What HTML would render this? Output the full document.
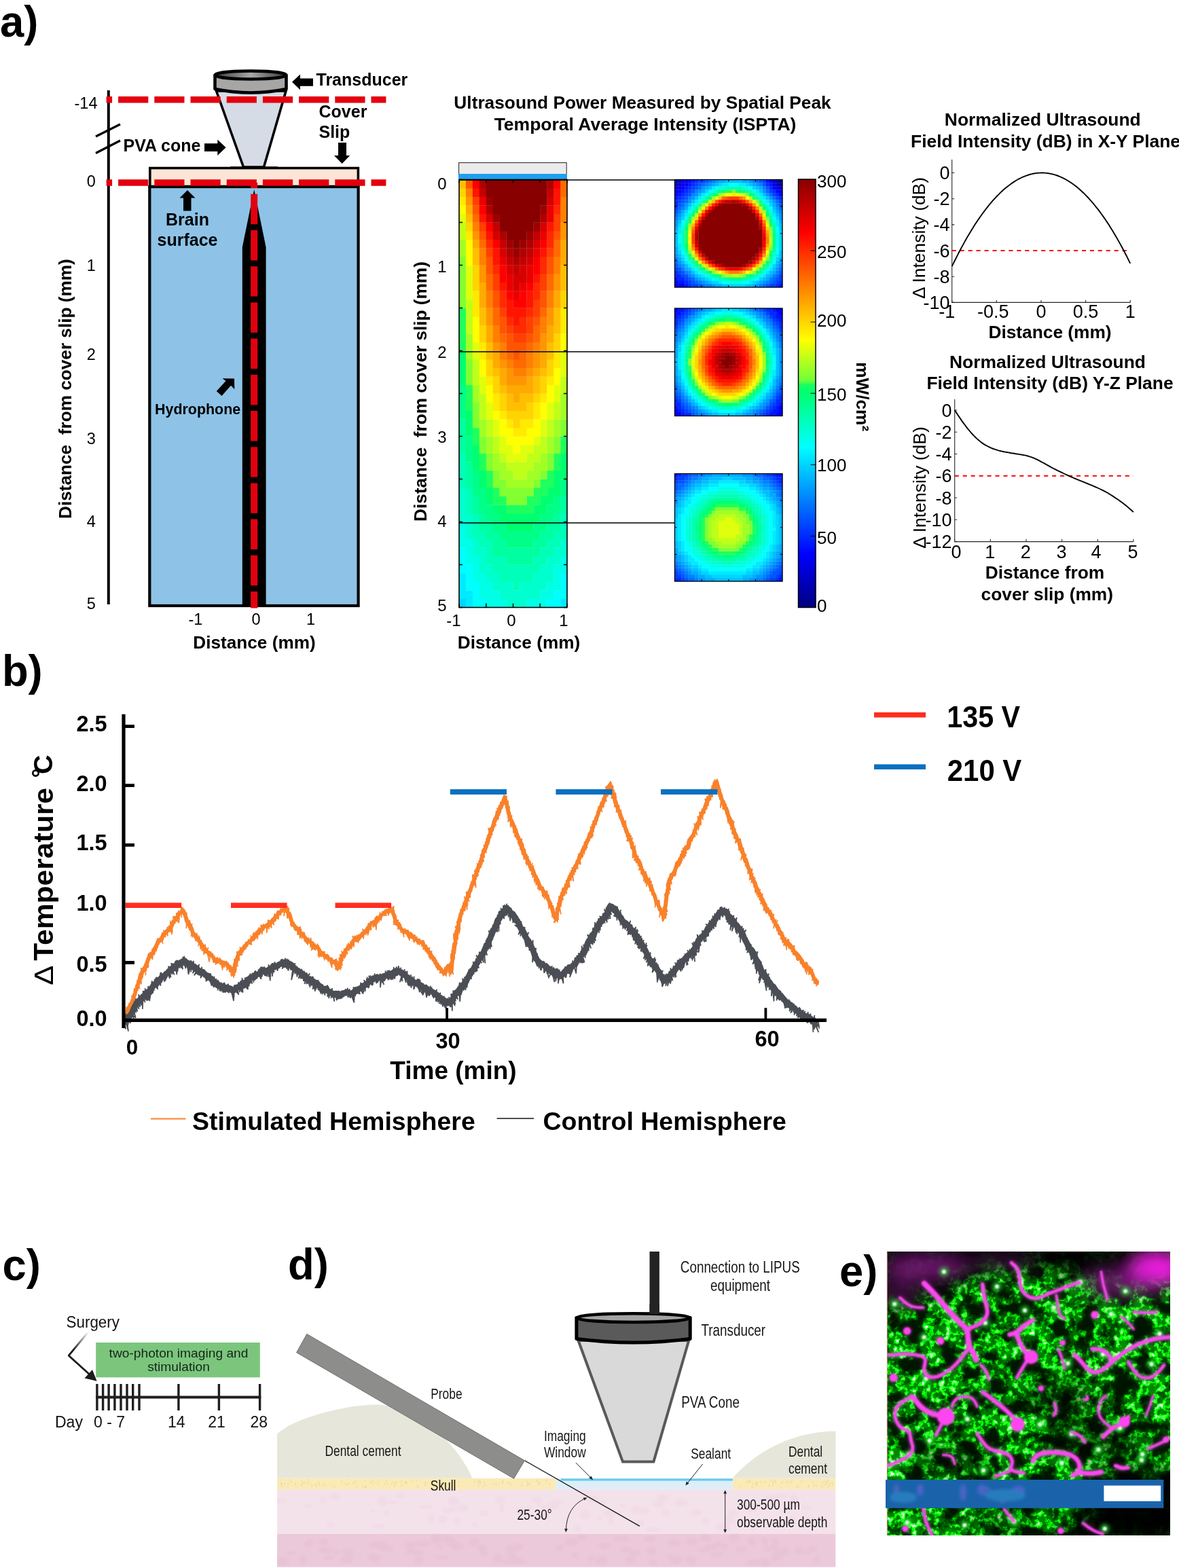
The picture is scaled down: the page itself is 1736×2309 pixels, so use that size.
<!DOCTYPE html>
<html lang="en">
<head>
<meta charset="utf-8">
<title>LIPUS figure</title>
<style>
html,body{margin:0;padding:0;background:#fff;}
body{width:1736px;height:2309px;overflow:hidden;}
svg{display:block;font-family:"Liberation Sans",sans-serif;}
text{white-space:pre;}
</style>
</head>
<body>
<svg width="1736" height="2309" viewBox="0 0 1736 2309">
<rect width="1736" height="2309" fill="#fff"/>
<text transform="translate(0.00 54.40) scale(0.99 1)" font-size="64" font-weight="bold">a)</text>
<path d="M159.8 133V890" stroke="#000" stroke-width="4" fill="none"/>
<path d="M141 201L177 183M141 225.5L177 207" stroke="#000" stroke-width="3.2" fill="none"/>
<text x="143.50" y="160.20" font-size="23.5" text-anchor="end">-14</text>
<text x="140.80" y="274.90" font-size="23.5" text-anchor="end">0</text>
<text x="140.80" y="399.40" font-size="23.5" text-anchor="end">1</text>
<text x="140.80" y="530.40" font-size="23.5" text-anchor="end">2</text>
<text x="140.80" y="654.40" font-size="23.5" text-anchor="end">3</text>
<text x="140.80" y="776.40" font-size="23.5" text-anchor="end">4</text>
<text x="140.80" y="896.90" font-size="23.5" text-anchor="end">5</text>
<text transform="translate(104.70 572.60) rotate(-90)" font-size="26.2" font-weight="bold" text-anchor="middle">Distance  from cover slip (mm)</text>
<defs><linearGradient id="trg" x1="0" x2="1"><stop offset="0" stop-color="#3a3a3a"/><stop offset=".5" stop-color="#a8a8a8"/><stop offset="1" stop-color="#3a3a3a"/></linearGradient></defs>
<path d="M318.5 134L358.5 246H388.5L421 134Z" fill="#d6dce5" stroke="#000" stroke-width="3.6" stroke-linejoin="miter"/>
<path d="M316.5 111V131Q369 142 421.5 131V111Z" fill="#a6a6a6" stroke="#000" stroke-width="4.6" stroke-linejoin="round"/>
<ellipse cx="369" cy="110.5" rx="52.5" ry="6" fill="url(#trg)" stroke="#000" stroke-width="4.4"/>
<rect x="220.3" y="275" width="307.3" height="617" fill="#8ec3e7" stroke="#000" stroke-width="4.2"/>
<rect x="220.8" y="247.5" width="306.6" height="27" fill="#fbe5d6" stroke="#000" stroke-width="3.6"/>
<path d="M339 246.4H409" stroke="#000" stroke-width="2.4"/>
<path d="M374.2 279L391.6 364V892H356.8V364Z" fill="#000"/>
<path d="M156.6 146.7H568.4" stroke="#e3000f" stroke-width="9.6" stroke-dasharray="44.2 9" stroke-dashoffset="35.7" fill="none"/>
<path d="M156.6 269H568.4" stroke="#e3000f" stroke-width="9.6" stroke-dasharray="44.2 9" stroke-dashoffset="35.7" fill="none"/>
<path d="M374.2 269V895.5" stroke="#e3000f" stroke-width="10" stroke-dasharray="44.4 8.8" stroke-dashoffset="36.4" fill="none"/>
<text x="465.50" y="126.40" font-size="25" font-weight="bold">Transducer</text>
<path d="M430 120.8L442 109.4V115.6H461V126.8H442V132.3Z" fill="#000"/>
<text x="469.50" y="172.80" font-size="25" font-weight="bold">Cover</text>
<text x="469.50" y="203.00" font-size="25" font-weight="bold">Slip</text>
<path d="M503.6 241L492 229H498V210H510V229H515.2Z" fill="#000"/>
<text x="181.50" y="222.60" font-size="25" font-weight="bold">PVA cone</text>
<path d="M332.6 217.2L320.3 205.5V211.3H301V223H320.3V229Z" fill="#000"/>
<path d="M276 280L287.5 291.5H281.5V310.5H270V291.5H264.5Z" fill="#000"/>
<text x="276.00" y="331.80" font-size="25" font-weight="bold" text-anchor="middle">Brain</text>
<text x="276.00" y="362.00" font-size="25" font-weight="bold" text-anchor="middle">surface</text>
<path d="M345 557.5L345.3 573.2L340 567.8L326.5 583L318.8 576L332.5 561L327.5 557.2Z" fill="#000"/>
<text transform="translate(228.00 610.30) scale(0.953 1)" font-size="22.5" font-weight="bold">Hydrophone</text>
<text x="288.00" y="919.50" font-size="23.5" text-anchor="middle">-1</text>
<text x="377.00" y="919.50" font-size="23.5" text-anchor="middle">0</text>
<text x="457.50" y="919.50" font-size="23.5" text-anchor="middle">1</text>
<text x="374.50" y="954.80" font-size="26.2" font-weight="bold" text-anchor="middle">Distance (mm)</text>
<text x="946.00" y="160.20" font-size="26.3" font-weight="bold" text-anchor="middle">Ultrasound Power Measured by Spatial Peak</text>
<text x="950.00" y="191.60" font-size="26.5" font-weight="bold" text-anchor="middle">Temporal Average Intensity (ISPTA)</text>
<rect x="675.6" y="239.6" width="158.6" height="17" fill="#ebebeb" stroke="#222" stroke-width="1"/>
<rect x="675" y="256" width="160" height="8" fill="#1ea0f0"/>
<path fill="#00d4ff" d="M676.0 881.9h10.2v12.9h-10.2z"/>
<path fill="#00eaff" d="M676.0 844.1h10.2v12.9h-10.2zM676.0 856.7h10.2v12.9h-10.2zM676.0 869.3h20.2v12.9h-20.2zM685.9 881.9h10.2v12.9h-10.2zM825.1 881.9h10.2v12.9h-10.2z"/>
<path fill="#00ffff" d="M676.0 806.3h10.2v12.9h-10.2zM676.0 818.9h10.2v12.9h-10.2zM676.0 831.5h20.2v12.9h-20.2zM685.9 844.1h10.2v12.9h-10.2zM825.1 844.1h10.2v12.9h-10.2zM685.9 856.7h20.2v12.9h-20.2zM825.1 856.7h10.2v12.9h-10.2zM695.9 869.3h10.2v12.9h-10.2zM815.1 869.3h20.2v12.9h-20.2zM695.9 881.9h20.2v12.9h-20.2zM805.2 881.9h20.2v12.9h-20.2z"/>
<path fill="#00ffe7" d="M676.0 768.5h10.2v12.9h-10.2zM676.0 781.1h10.2v12.9h-10.2zM676.0 793.7h20.2v12.9h-20.2zM685.9 806.3h10.2v12.9h-10.2zM685.9 818.9h20.2v12.9h-20.2zM825.1 818.9h10.2v12.9h-10.2zM695.9 831.5h10.2v12.9h-10.2zM815.1 831.5h20.2v12.9h-20.2zM695.9 844.1h20.2v12.9h-20.2zM815.1 844.1h10.2v12.9h-10.2zM705.8 856.7h20.2v12.9h-20.2zM805.2 856.7h20.2v12.9h-20.2zM705.8 869.3h30.1v12.9h-30.1zM795.2 869.3h20.2v12.9h-20.2zM715.8 881.9h30.1v12.9h-30.1zM775.4 881.9h30.1v12.9h-30.1z"/>
<path fill="#00ffcf" d="M676.0 718.1h10.2v12.9h-10.2zM676.0 730.7h10.2v12.9h-10.2zM676.0 743.3h10.2v12.9h-10.2zM676.0 755.9h20.2v12.9h-20.2zM685.9 768.5h10.2v12.9h-10.2zM685.9 781.1h10.2v12.9h-10.2zM695.9 793.7h10.2v12.9h-10.2zM825.1 793.7h10.2v12.9h-10.2zM695.9 806.3h20.2v12.9h-20.2zM815.1 806.3h20.2v12.9h-20.2zM705.8 818.9h10.2v12.9h-10.2zM805.2 818.9h20.2v12.9h-20.2zM705.8 831.5h20.2v12.9h-20.2zM795.2 831.5h20.2v12.9h-20.2zM715.8 844.1h20.2v12.9h-20.2zM785.3 844.1h30.1v12.9h-30.1zM725.7 856.7h30.1v12.9h-30.1zM765.4 856.7h40.0v12.9h-40.0zM735.6 869.3h59.9v12.9h-59.9zM745.6 881.9h30.1v12.9h-30.1z"/>
<path fill="#00ffb8" d="M676.0 667.7h10.2v12.9h-10.2zM676.0 680.3h10.2v12.9h-10.2zM676.0 692.9h10.2v12.9h-10.2zM676.0 705.5h10.2v12.9h-10.2zM685.9 718.1h10.2v12.9h-10.2zM685.9 730.7h10.2v12.9h-10.2zM685.9 743.3h10.2v12.9h-10.2zM695.9 755.9h10.2v12.9h-10.2zM825.1 755.9h10.2v12.9h-10.2zM695.9 768.5h10.2v12.9h-10.2zM825.1 768.5h10.2v12.9h-10.2zM695.9 781.1h20.2v12.9h-20.2zM815.1 781.1h20.2v12.9h-20.2zM705.8 793.7h20.2v12.9h-20.2zM805.2 793.7h20.2v12.9h-20.2zM715.8 806.3h10.2v12.9h-10.2zM795.2 806.3h20.2v12.9h-20.2zM715.8 818.9h30.1v12.9h-30.1zM785.3 818.9h20.2v12.9h-20.2zM725.7 831.5h69.9v12.9h-69.9zM735.6 844.1h50.0v12.9h-50.0zM755.5 856.7h10.2v12.9h-10.2z"/>
<path fill="#00ffa0" d="M676.0 617.3h10.2v12.9h-10.2zM676.0 629.9h10.2v12.9h-10.2zM676.0 642.5h10.2v12.9h-10.2zM676.0 655.1h10.2v12.9h-10.2zM685.9 680.3h10.2v12.9h-10.2zM685.9 692.9h10.2v12.9h-10.2zM685.9 705.5h10.2v12.9h-10.2zM695.9 730.7h10.2v12.9h-10.2zM825.1 730.7h10.2v12.9h-10.2zM695.9 743.3h10.2v12.9h-10.2zM825.1 743.3h10.2v12.9h-10.2zM705.8 755.9h10.2v12.9h-10.2zM815.1 755.9h10.2v12.9h-10.2zM705.8 768.5h20.2v12.9h-20.2zM805.2 768.5h20.2v12.9h-20.2zM715.8 781.1h20.2v12.9h-20.2zM795.2 781.1h20.2v12.9h-20.2zM725.7 793.7h20.2v12.9h-20.2zM785.3 793.7h20.2v12.9h-20.2zM725.7 806.3h69.9v12.9h-69.9zM745.6 818.9h40.0v12.9h-40.0z"/>
<path fill="#00ff88" d="M676.0 566.9h10.2v12.9h-10.2zM676.0 579.5h10.2v12.9h-10.2zM676.0 592.1h10.2v12.9h-10.2zM676.0 604.7h10.2v12.9h-10.2zM685.9 642.5h10.2v12.9h-10.2zM685.9 655.1h10.2v12.9h-10.2zM685.9 667.7h10.2v12.9h-10.2zM695.9 692.9h10.2v12.9h-10.2zM695.9 705.5h10.2v12.9h-10.2zM825.1 705.5h10.2v12.9h-10.2zM695.9 718.1h20.2v12.9h-20.2zM825.1 718.1h10.2v12.9h-10.2zM705.8 730.7h10.2v12.9h-10.2zM815.1 730.7h10.2v12.9h-10.2zM705.8 743.3h20.2v12.9h-20.2zM805.2 743.3h20.2v12.9h-20.2zM715.8 755.9h20.2v12.9h-20.2zM795.2 755.9h20.2v12.9h-20.2zM725.7 768.5h20.2v12.9h-20.2zM785.3 768.5h20.2v12.9h-20.2zM735.6 781.1h59.9v12.9h-59.9zM745.6 793.7h40.0v12.9h-40.0z"/>
<path fill="#00ff70" d="M676.0 516.5h10.2v12.9h-10.2zM676.0 529.1h10.2v12.9h-10.2zM676.0 541.7h10.2v12.9h-10.2zM676.0 554.3h10.2v12.9h-10.2zM685.9 604.7h10.2v12.9h-10.2zM685.9 617.3h10.2v12.9h-10.2zM685.9 629.9h10.2v12.9h-10.2zM695.9 655.1h10.2v12.9h-10.2zM695.9 667.7h10.2v12.9h-10.2zM825.1 667.7h10.2v12.9h-10.2zM695.9 680.3h10.2v12.9h-10.2zM825.1 680.3h10.2v12.9h-10.2zM705.8 692.9h10.2v12.9h-10.2zM815.1 692.9h20.2v12.9h-20.2zM705.8 705.5h10.2v12.9h-10.2zM815.1 705.5h10.2v12.9h-10.2zM715.8 718.1h10.2v12.9h-10.2zM805.2 718.1h20.2v12.9h-20.2zM715.8 730.7h10.2v12.9h-10.2zM795.2 730.7h20.2v12.9h-20.2zM725.7 743.3h20.2v12.9h-20.2zM785.3 743.3h20.2v12.9h-20.2zM735.6 755.9h59.9v12.9h-59.9zM745.6 768.5h40.0v12.9h-40.0z"/>
<path fill="#1fff5d" d="M676.0 453.5h10.2v12.9h-10.2zM676.0 466.1h10.2v12.9h-10.2zM676.0 478.7h10.2v12.9h-10.2zM676.0 491.3h10.2v12.9h-10.2zM676.0 503.9h10.2v12.9h-10.2zM685.9 566.9h10.2v12.9h-10.2zM685.9 579.5h10.2v12.9h-10.2zM685.9 592.1h10.2v12.9h-10.2zM695.9 629.9h10.2v12.9h-10.2zM695.9 642.5h10.2v12.9h-10.2zM825.1 642.5h10.2v12.9h-10.2zM825.1 655.1h10.2v12.9h-10.2zM705.8 667.7h10.2v12.9h-10.2zM815.1 667.7h10.2v12.9h-10.2zM705.8 680.3h10.2v12.9h-10.2zM815.1 680.3h10.2v12.9h-10.2zM715.8 692.9h10.2v12.9h-10.2zM805.2 692.9h10.2v12.9h-10.2zM715.8 705.5h10.2v12.9h-10.2zM795.2 705.5h20.2v12.9h-20.2zM725.7 718.1h10.2v12.9h-10.2zM785.3 718.1h20.2v12.9h-20.2zM725.7 730.7h20.2v12.9h-20.2zM775.4 730.7h20.2v12.9h-20.2zM745.6 743.3h40.0v12.9h-40.0z"/>
<path fill="#82ff31" d="M676.0 377.9h10.2v12.9h-10.2zM676.0 390.5h10.2v12.9h-10.2zM676.0 403.1h10.2v12.9h-10.2zM676.0 415.7h10.2v12.9h-10.2zM676.0 428.3h10.2v12.9h-10.2zM676.0 440.9h10.2v12.9h-10.2zM685.9 529.1h10.2v12.9h-10.2zM685.9 541.7h10.2v12.9h-10.2zM685.9 554.3h10.2v12.9h-10.2zM695.9 592.1h10.2v12.9h-10.2zM695.9 604.7h10.2v12.9h-10.2zM695.9 617.3h10.2v12.9h-10.2zM825.1 617.3h10.2v12.9h-10.2zM825.1 629.9h10.2v12.9h-10.2zM705.8 642.5h10.2v12.9h-10.2zM815.1 642.5h10.2v12.9h-10.2zM705.8 655.1h10.2v12.9h-10.2zM815.1 655.1h10.2v12.9h-10.2zM715.8 667.7h10.2v12.9h-10.2zM805.2 667.7h10.2v12.9h-10.2zM715.8 680.3h10.2v12.9h-10.2zM805.2 680.3h10.2v12.9h-10.2zM725.7 692.9h10.2v12.9h-10.2zM795.2 692.9h10.2v12.9h-10.2zM725.7 705.5h20.2v12.9h-20.2zM785.3 705.5h10.2v12.9h-10.2zM735.6 718.1h50.0v12.9h-50.0zM745.6 730.7h30.1v12.9h-30.1z"/>
<path fill="#a1ff25" d="M676.0 352.7h10.2v12.9h-10.2zM676.0 365.3h10.2v12.9h-10.2zM685.9 491.3h10.2v12.9h-10.2zM685.9 503.9h10.2v12.9h-10.2zM685.9 516.5h10.2v12.9h-10.2zM695.9 566.9h10.2v12.9h-10.2zM695.9 579.5h10.2v12.9h-10.2zM825.1 579.5h10.2v12.9h-10.2zM825.1 592.1h10.2v12.9h-10.2zM825.1 604.7h10.2v12.9h-10.2zM705.8 617.3h10.2v12.9h-10.2zM815.1 617.3h10.2v12.9h-10.2zM705.8 629.9h10.2v12.9h-10.2zM815.1 629.9h10.2v12.9h-10.2zM715.8 642.5h10.2v12.9h-10.2zM805.2 642.5h10.2v12.9h-10.2zM715.8 655.1h10.2v12.9h-10.2zM805.2 655.1h10.2v12.9h-10.2zM725.7 667.7h10.2v12.9h-10.2zM795.2 667.7h10.2v12.9h-10.2zM725.7 680.3h20.2v12.9h-20.2zM785.3 680.3h20.2v12.9h-20.2zM735.6 692.9h20.2v12.9h-20.2zM775.4 692.9h20.2v12.9h-20.2zM745.6 705.5h40.0v12.9h-40.0z"/>
<path fill="#c0ff19" d="M676.0 327.5h10.2v12.9h-10.2zM676.0 340.1h10.2v12.9h-10.2zM685.9 440.9h10.2v12.9h-10.2zM685.9 453.5h10.2v12.9h-10.2zM685.9 466.1h10.2v12.9h-10.2zM685.9 478.7h10.2v12.9h-10.2zM695.9 529.1h10.2v12.9h-10.2zM695.9 541.7h10.2v12.9h-10.2zM695.9 554.3h10.2v12.9h-10.2zM825.1 554.3h10.2v12.9h-10.2zM825.1 566.9h10.2v12.9h-10.2zM705.8 579.5h10.2v12.9h-10.2zM705.8 592.1h10.2v12.9h-10.2zM815.1 592.1h10.2v12.9h-10.2zM705.8 604.7h10.2v12.9h-10.2zM815.1 604.7h10.2v12.9h-10.2zM715.8 617.3h10.2v12.9h-10.2zM805.2 617.3h10.2v12.9h-10.2zM715.8 629.9h10.2v12.9h-10.2zM805.2 629.9h10.2v12.9h-10.2zM725.7 642.5h10.2v12.9h-10.2zM795.2 642.5h10.2v12.9h-10.2zM725.7 655.1h10.2v12.9h-10.2zM785.3 655.1h20.2v12.9h-20.2zM735.6 667.7h10.2v12.9h-10.2zM775.4 667.7h20.2v12.9h-20.2zM745.6 680.3h40.0v12.9h-40.0zM755.5 692.9h20.2v12.9h-20.2z"/>
<path fill="#e0ff0c" d="M676.0 314.9h10.2v12.9h-10.2zM685.9 390.5h10.2v12.9h-10.2zM685.9 403.1h10.2v12.9h-10.2zM685.9 415.7h10.2v12.9h-10.2zM685.9 428.3h10.2v12.9h-10.2zM695.9 503.9h10.2v12.9h-10.2zM695.9 516.5h10.2v12.9h-10.2zM825.1 516.5h10.2v12.9h-10.2zM825.1 529.1h10.2v12.9h-10.2zM825.1 541.7h10.2v12.9h-10.2zM705.8 554.3h10.2v12.9h-10.2zM705.8 566.9h10.2v12.9h-10.2zM815.1 566.9h10.2v12.9h-10.2zM815.1 579.5h10.2v12.9h-10.2zM715.8 592.1h10.2v12.9h-10.2zM805.2 592.1h10.2v12.9h-10.2zM715.8 604.7h10.2v12.9h-10.2zM805.2 604.7h10.2v12.9h-10.2zM725.7 617.3h10.2v12.9h-10.2zM795.2 617.3h10.2v12.9h-10.2zM725.7 629.9h10.2v12.9h-10.2zM795.2 629.9h10.2v12.9h-10.2zM735.6 642.5h10.2v12.9h-10.2zM785.3 642.5h10.2v12.9h-10.2zM735.6 655.1h20.2v12.9h-20.2zM765.4 655.1h20.2v12.9h-20.2zM745.6 667.7h30.1v12.9h-30.1z"/>
<path fill="#ffff00" d="M676.0 302.3h10.2v12.9h-10.2zM685.9 352.7h10.2v12.9h-10.2zM685.9 365.3h10.2v12.9h-10.2zM685.9 377.9h10.2v12.9h-10.2zM695.9 466.1h10.2v12.9h-10.2zM695.9 478.7h10.2v12.9h-10.2zM695.9 491.3h10.2v12.9h-10.2zM825.1 491.3h10.2v12.9h-10.2zM825.1 503.9h10.2v12.9h-10.2zM705.8 529.1h10.2v12.9h-10.2zM705.8 541.7h10.2v12.9h-10.2zM815.1 541.7h10.2v12.9h-10.2zM815.1 554.3h10.2v12.9h-10.2zM715.8 566.9h10.2v12.9h-10.2zM805.2 566.9h10.2v12.9h-10.2zM715.8 579.5h10.2v12.9h-10.2zM805.2 579.5h10.2v12.9h-10.2zM795.2 592.1h10.2v12.9h-10.2zM725.7 604.7h10.2v12.9h-10.2zM795.2 604.7h10.2v12.9h-10.2zM735.6 617.3h10.2v12.9h-10.2zM785.3 617.3h10.2v12.9h-10.2zM735.6 629.9h20.2v12.9h-20.2zM775.4 629.9h20.2v12.9h-20.2zM745.6 642.5h40.0v12.9h-40.0zM755.5 655.1h10.2v12.9h-10.2z"/>
<path fill="#ffea00" d="M676.0 289.7h10.2v12.9h-10.2zM685.9 340.1h10.2v12.9h-10.2zM695.9 428.3h10.2v12.9h-10.2zM695.9 440.9h10.2v12.9h-10.2zM695.9 453.5h10.2v12.9h-10.2zM825.1 453.5h10.2v12.9h-10.2zM825.1 466.1h10.2v12.9h-10.2zM825.1 478.7h10.2v12.9h-10.2zM705.8 503.9h10.2v12.9h-10.2zM705.8 516.5h10.2v12.9h-10.2zM815.1 516.5h10.2v12.9h-10.2zM815.1 529.1h10.2v12.9h-10.2zM715.8 554.3h10.2v12.9h-10.2zM805.2 554.3h10.2v12.9h-10.2zM725.7 579.5h10.2v12.9h-10.2zM795.2 579.5h10.2v12.9h-10.2zM725.7 592.1h10.2v12.9h-10.2zM785.3 592.1h10.2v12.9h-10.2zM735.6 604.7h10.2v12.9h-10.2zM785.3 604.7h10.2v12.9h-10.2zM745.6 617.3h10.2v12.9h-10.2zM765.4 617.3h20.2v12.9h-20.2zM755.5 629.9h20.2v12.9h-20.2z"/>
<path fill="#ffd400" d="M676.0 277.1h10.2v12.9h-10.2zM685.9 327.5h10.2v12.9h-10.2zM695.9 390.5h10.2v12.9h-10.2zM695.9 403.1h10.2v12.9h-10.2zM695.9 415.7h10.2v12.9h-10.2zM825.1 428.3h10.2v12.9h-10.2zM825.1 440.9h10.2v12.9h-10.2zM705.8 478.7h10.2v12.9h-10.2zM705.8 491.3h10.2v12.9h-10.2zM815.1 491.3h10.2v12.9h-10.2zM815.1 503.9h10.2v12.9h-10.2zM715.8 529.1h10.2v12.9h-10.2zM805.2 529.1h10.2v12.9h-10.2zM715.8 541.7h10.2v12.9h-10.2zM805.2 541.7h10.2v12.9h-10.2zM725.7 554.3h10.2v12.9h-10.2zM795.2 554.3h10.2v12.9h-10.2zM725.7 566.9h10.2v12.9h-10.2zM795.2 566.9h10.2v12.9h-10.2zM735.6 579.5h10.2v12.9h-10.2zM785.3 579.5h10.2v12.9h-10.2zM735.6 592.1h10.2v12.9h-10.2zM775.4 592.1h10.2v12.9h-10.2zM745.6 604.7h40.0v12.9h-40.0zM755.5 617.3h10.2v12.9h-10.2z"/>
<path fill="#ffbf00" d="M676.0 264.5h10.2v12.9h-10.2zM685.9 314.9h10.2v12.9h-10.2zM695.9 365.3h10.2v12.9h-10.2zM695.9 377.9h10.2v12.9h-10.2zM825.1 390.5h10.2v12.9h-10.2zM825.1 403.1h10.2v12.9h-10.2zM825.1 415.7h10.2v12.9h-10.2zM705.8 453.5h10.2v12.9h-10.2zM815.1 453.5h10.2v12.9h-10.2zM705.8 466.1h10.2v12.9h-10.2zM815.1 466.1h10.2v12.9h-10.2zM815.1 478.7h10.2v12.9h-10.2zM715.8 503.9h10.2v12.9h-10.2zM805.2 503.9h10.2v12.9h-10.2zM715.8 516.5h10.2v12.9h-10.2zM805.2 516.5h10.2v12.9h-10.2zM725.7 541.7h10.2v12.9h-10.2zM795.2 541.7h10.2v12.9h-10.2zM785.3 554.3h10.2v12.9h-10.2zM735.6 566.9h10.2v12.9h-10.2zM785.3 566.9h10.2v12.9h-10.2zM745.6 579.5h10.2v12.9h-10.2zM765.4 579.5h20.2v12.9h-20.2zM745.6 592.1h30.1v12.9h-30.1z"/>
<path fill="#ffaa00" d="M685.9 302.3h10.2v12.9h-10.2zM695.9 352.7h10.2v12.9h-10.2zM825.1 352.7h10.2v12.9h-10.2zM825.1 365.3h10.2v12.9h-10.2zM825.1 377.9h10.2v12.9h-10.2zM705.8 415.7h10.2v12.9h-10.2zM705.8 428.3h10.2v12.9h-10.2zM815.1 428.3h10.2v12.9h-10.2zM705.8 440.9h10.2v12.9h-10.2zM815.1 440.9h10.2v12.9h-10.2zM715.8 478.7h10.2v12.9h-10.2zM805.2 478.7h10.2v12.9h-10.2zM715.8 491.3h10.2v12.9h-10.2zM805.2 491.3h10.2v12.9h-10.2zM725.7 516.5h10.2v12.9h-10.2zM795.2 516.5h10.2v12.9h-10.2zM725.7 529.1h10.2v12.9h-10.2zM795.2 529.1h10.2v12.9h-10.2zM735.6 541.7h10.2v12.9h-10.2zM785.3 541.7h10.2v12.9h-10.2zM735.6 554.3h10.2v12.9h-10.2zM775.4 554.3h10.2v12.9h-10.2zM745.6 566.9h40.0v12.9h-40.0zM755.5 579.5h10.2v12.9h-10.2z"/>
<path fill="#ff9500" d="M685.9 289.7h10.2v12.9h-10.2zM825.1 327.5h10.2v12.9h-10.2zM695.9 340.1h10.2v12.9h-10.2zM825.1 340.1h10.2v12.9h-10.2zM705.8 390.5h10.2v12.9h-10.2zM705.8 403.1h10.2v12.9h-10.2zM815.1 403.1h10.2v12.9h-10.2zM815.1 415.7h10.2v12.9h-10.2zM715.8 453.5h10.2v12.9h-10.2zM805.2 453.5h10.2v12.9h-10.2zM715.8 466.1h10.2v12.9h-10.2zM805.2 466.1h10.2v12.9h-10.2zM795.2 491.3h10.2v12.9h-10.2zM725.7 503.9h10.2v12.9h-10.2zM795.2 503.9h10.2v12.9h-10.2zM785.3 516.5h10.2v12.9h-10.2zM735.6 529.1h10.2v12.9h-10.2zM785.3 529.1h10.2v12.9h-10.2zM745.6 541.7h10.2v12.9h-10.2zM775.4 541.7h10.2v12.9h-10.2zM745.6 554.3h30.1v12.9h-30.1z"/>
<path fill="#ff8000" d="M685.9 277.1h10.2v12.9h-10.2zM825.1 289.7h10.2v12.9h-10.2zM825.1 302.3h10.2v12.9h-10.2zM825.1 314.9h10.2v12.9h-10.2zM695.9 327.5h10.2v12.9h-10.2zM705.8 365.3h10.2v12.9h-10.2zM705.8 377.9h10.2v12.9h-10.2zM815.1 377.9h10.2v12.9h-10.2zM815.1 390.5h10.2v12.9h-10.2zM715.8 428.3h10.2v12.9h-10.2zM805.2 428.3h10.2v12.9h-10.2zM715.8 440.9h10.2v12.9h-10.2zM805.2 440.9h10.2v12.9h-10.2zM795.2 466.1h10.2v12.9h-10.2zM725.7 478.7h10.2v12.9h-10.2zM795.2 478.7h10.2v12.9h-10.2zM725.7 491.3h10.2v12.9h-10.2zM735.6 503.9h10.2v12.9h-10.2zM785.3 503.9h10.2v12.9h-10.2zM735.6 516.5h10.2v12.9h-10.2zM775.4 516.5h10.2v12.9h-10.2zM745.6 529.1h10.2v12.9h-10.2zM775.4 529.1h10.2v12.9h-10.2zM755.5 541.7h20.2v12.9h-20.2z"/>
<path fill="#ff6a00" d="M825.1 264.5h10.2v12.9h-10.2zM825.1 277.1h10.2v12.9h-10.2zM695.9 314.9h10.2v12.9h-10.2zM705.8 352.7h10.2v12.9h-10.2zM815.1 352.7h10.2v12.9h-10.2zM815.1 365.3h10.2v12.9h-10.2zM715.8 403.1h10.2v12.9h-10.2zM805.2 403.1h10.2v12.9h-10.2zM715.8 415.7h10.2v12.9h-10.2zM805.2 415.7h10.2v12.9h-10.2zM725.7 453.5h10.2v12.9h-10.2zM795.2 453.5h10.2v12.9h-10.2zM725.7 466.1h10.2v12.9h-10.2zM785.3 478.7h10.2v12.9h-10.2zM735.6 491.3h10.2v12.9h-10.2zM785.3 491.3h10.2v12.9h-10.2zM775.4 503.9h10.2v12.9h-10.2zM745.6 516.5h10.2v12.9h-10.2zM765.4 516.5h10.2v12.9h-10.2zM755.5 529.1h20.2v12.9h-20.2z"/>
<path fill="#ff5500" d="M685.9 264.5h10.2v12.9h-10.2zM695.9 302.3h10.2v12.9h-10.2zM705.8 340.1h10.2v12.9h-10.2zM815.1 340.1h10.2v12.9h-10.2zM715.8 377.9h10.2v12.9h-10.2zM805.2 377.9h10.2v12.9h-10.2zM715.8 390.5h10.2v12.9h-10.2zM805.2 390.5h10.2v12.9h-10.2zM725.7 428.3h10.2v12.9h-10.2zM795.2 428.3h10.2v12.9h-10.2zM725.7 440.9h10.2v12.9h-10.2zM795.2 440.9h10.2v12.9h-10.2zM735.6 466.1h10.2v12.9h-10.2zM785.3 466.1h10.2v12.9h-10.2zM735.6 478.7h10.2v12.9h-10.2zM745.6 491.3h10.2v12.9h-10.2zM775.4 491.3h10.2v12.9h-10.2zM745.6 503.9h30.1v12.9h-30.1zM755.5 516.5h10.2v12.9h-10.2z"/>
<path fill="#ff4000" d="M695.9 289.7h10.2v12.9h-10.2zM815.1 314.9h10.2v12.9h-10.2zM705.8 327.5h10.2v12.9h-10.2zM815.1 327.5h10.2v12.9h-10.2zM715.8 365.3h10.2v12.9h-10.2zM805.2 365.3h10.2v12.9h-10.2zM725.7 403.1h10.2v12.9h-10.2zM795.2 403.1h10.2v12.9h-10.2zM725.7 415.7h10.2v12.9h-10.2zM795.2 415.7h10.2v12.9h-10.2zM785.3 440.9h10.2v12.9h-10.2zM735.6 453.5h10.2v12.9h-10.2zM785.3 453.5h10.2v12.9h-10.2zM775.4 466.1h10.2v12.9h-10.2zM745.6 478.7h10.2v12.9h-10.2zM775.4 478.7h10.2v12.9h-10.2zM755.5 491.3h20.2v12.9h-20.2z"/>
<path fill="#ff2a00" d="M815.1 302.3h10.2v12.9h-10.2zM805.2 340.1h10.2v12.9h-10.2zM715.8 352.7h10.2v12.9h-10.2zM805.2 352.7h10.2v12.9h-10.2zM795.2 377.9h10.2v12.9h-10.2zM725.7 390.5h10.2v12.9h-10.2zM795.2 390.5h10.2v12.9h-10.2zM785.3 415.7h10.2v12.9h-10.2zM735.6 428.3h10.2v12.9h-10.2zM785.3 428.3h10.2v12.9h-10.2zM735.6 440.9h10.2v12.9h-10.2zM775.4 453.5h10.2v12.9h-10.2zM745.6 466.1h10.2v12.9h-10.2zM765.4 466.1h10.2v12.9h-10.2zM755.5 478.7h20.2v12.9h-20.2z"/>
<path fill="#ff1500" d="M695.9 277.1h10.2v12.9h-10.2zM815.1 277.1h10.2v12.9h-10.2zM815.1 289.7h10.2v12.9h-10.2zM705.8 314.9h10.2v12.9h-10.2zM805.2 327.5h10.2v12.9h-10.2zM715.8 340.1h10.2v12.9h-10.2zM725.7 365.3h10.2v12.9h-10.2zM795.2 365.3h10.2v12.9h-10.2zM725.7 377.9h10.2v12.9h-10.2zM785.3 403.1h10.2v12.9h-10.2zM735.6 415.7h10.2v12.9h-10.2zM775.4 428.3h10.2v12.9h-10.2zM745.6 440.9h10.2v12.9h-10.2zM775.4 440.9h10.2v12.9h-10.2zM745.6 453.5h30.1v12.9h-30.1zM755.5 466.1h10.2v12.9h-10.2z"/>
<path fill="#ff0000" d="M695.9 264.5h10.2v12.9h-10.2zM815.1 264.5h10.2v12.9h-10.2zM705.8 302.3h10.2v12.9h-10.2zM715.8 327.5h10.2v12.9h-10.2zM725.7 352.7h10.2v12.9h-10.2zM795.2 352.7h10.2v12.9h-10.2zM785.3 377.9h10.2v12.9h-10.2zM735.6 390.5h10.2v12.9h-10.2zM785.3 390.5h10.2v12.9h-10.2zM735.6 403.1h10.2v12.9h-10.2zM775.4 415.7h10.2v12.9h-10.2zM745.6 428.3h10.2v12.9h-10.2zM765.4 428.3h10.2v12.9h-10.2zM755.5 440.9h20.2v12.9h-20.2z"/>
<path fill="#eb0000" d="M705.8 289.7h10.2v12.9h-10.2zM805.2 302.3h10.2v12.9h-10.2zM805.2 314.9h10.2v12.9h-10.2zM795.2 340.1h10.2v12.9h-10.2zM785.3 365.3h10.2v12.9h-10.2zM735.6 377.9h10.2v12.9h-10.2zM775.4 390.5h10.2v12.9h-10.2zM745.6 403.1h10.2v12.9h-10.2zM775.4 403.1h10.2v12.9h-10.2zM745.6 415.7h10.2v12.9h-10.2zM765.4 415.7h10.2v12.9h-10.2zM755.5 428.3h10.2v12.9h-10.2z"/>
<path fill="#d70000" d="M805.2 289.7h10.2v12.9h-10.2zM715.8 314.9h10.2v12.9h-10.2zM795.2 327.5h10.2v12.9h-10.2zM725.7 340.1h10.2v12.9h-10.2zM785.3 352.7h10.2v12.9h-10.2zM735.6 365.3h10.2v12.9h-10.2zM775.4 377.9h10.2v12.9h-10.2zM745.6 390.5h10.2v12.9h-10.2zM765.4 390.5h10.2v12.9h-10.2zM755.5 403.1h20.2v12.9h-20.2zM755.5 415.7h10.2v12.9h-10.2z"/>
<path fill="#c40000" d="M705.8 277.1h10.2v12.9h-10.2zM805.2 277.1h10.2v12.9h-10.2zM725.7 327.5h10.2v12.9h-10.2zM785.3 340.1h10.2v12.9h-10.2zM735.6 352.7h10.2v12.9h-10.2zM775.4 365.3h10.2v12.9h-10.2zM745.6 377.9h10.2v12.9h-10.2zM765.4 377.9h10.2v12.9h-10.2zM755.5 390.5h10.2v12.9h-10.2z"/>
<path fill="#b00000" d="M705.8 264.5h10.2v12.9h-10.2zM805.2 264.5h10.2v12.9h-10.2zM715.8 302.3h10.2v12.9h-10.2zM795.2 314.9h10.2v12.9h-10.2zM735.6 340.1h10.2v12.9h-10.2zM775.4 352.7h10.2v12.9h-10.2zM745.6 365.3h10.2v12.9h-10.2zM765.4 365.3h10.2v12.9h-10.2zM755.5 377.9h10.2v12.9h-10.2z"/>
<path fill="#9c0000" d="M715.8 289.7h10.2v12.9h-10.2zM795.2 302.3h10.2v12.9h-10.2zM725.7 314.9h10.2v12.9h-10.2zM785.3 327.5h10.2v12.9h-10.2zM775.4 340.1h10.2v12.9h-10.2zM745.6 352.7h10.2v12.9h-10.2zM765.4 352.7h10.2v12.9h-10.2zM755.5 365.3h10.2v12.9h-10.2z"/>
<path fill="#880000" d="M715.8 264.5h89.7v12.9h-89.7zM715.8 277.1h89.7v12.9h-89.7zM725.7 289.7h79.8v12.9h-79.8zM725.7 302.3h69.9v12.9h-69.9zM735.6 314.9h59.9v12.9h-59.9zM735.6 327.5h50.0v12.9h-50.0zM745.6 340.1h30.1v12.9h-30.1zM755.5 352.7h10.2v12.9h-10.2z"/>
<rect x="676" y="264.5" width="159" height="630" fill="none" stroke="#000" stroke-width="1.6"/>
<path d="M676 264.5h5M835 264.5h-5M676 327.5h5M835 327.5h-5M676 390.5h5M835 390.5h-5M676 453.5h5M835 453.5h-5M676 516.5h5M835 516.5h-5M676 579.5h5M835 579.5h-5M676 642.5h5M835 642.5h-5M676 705.5h5M835 705.5h-5M676 768.5h5M835 768.5h-5M676 831.5h5M835 831.5h-5M676 894.5h5M835 894.5h-5M676.0 264.5v5M676.0 894.5v-6M715.8 264.5v5M715.8 894.5v-6M755.5 264.5v5M755.5 894.5v-6M795.2 264.5v5M795.2 894.5v-6M835.0 264.5v5M835.0 894.5v-6" stroke="#000" stroke-width="1.4" fill="none"/>
<path fill="#000080" d="M1147.0 264.5h5.3v5.3h-5.3z"/>
<path fill="#0000aa" d="M993.5 264.5h5.3v5.3h-5.3zM1142.1 264.5h5.3v5.3h-5.3zM1147.0 269.5h5.3v5.3h-5.3z"/>
<path fill="#0000c0" d="M998.5 264.5h5.3v5.3h-5.3zM1137.1 264.5h5.3v5.3h-5.3zM993.5 269.5h5.3v5.3h-5.3zM1142.1 269.5h5.3v5.3h-5.3zM1147.0 274.4h5.3v5.3h-5.3z"/>
<path fill="#0000d5" d="M1003.4 264.5h5.3v5.3h-5.3zM998.5 269.5h5.3v5.3h-5.3zM993.5 274.4h5.3v5.3h-5.3z"/>
<path fill="#0000ea" d="M1008.4 264.5h5.3v5.3h-5.3zM1132.2 264.5h5.3v5.3h-5.3zM1003.4 269.5h5.3v5.3h-5.3zM1137.1 269.5h5.3v5.3h-5.3zM998.5 274.4h5.3v5.3h-5.3zM1142.1 274.4h5.3v5.3h-5.3zM993.5 279.4h5.3v5.3h-5.3zM1147.0 279.4h5.3v5.3h-5.3zM993.5 418.0h5.3v5.3h-5.3z"/>
<path fill="#0000ff" d="M1013.3 264.5h5.3v5.3h-5.3zM1008.4 269.5h5.3v5.3h-5.3zM1003.4 274.4h5.3v5.3h-5.3zM1137.1 274.4h5.3v5.3h-5.3zM998.5 279.4h5.3v5.3h-5.3zM1142.1 279.4h5.3v5.3h-5.3zM993.5 284.3h5.3v5.3h-5.3zM1147.0 284.3h5.3v5.3h-5.3zM993.5 413.1h5.3v5.3h-5.3zM998.5 418.0h10.2v5.3h-10.2z"/>
<path fill="#0015ff" d="M1018.3 264.5h5.3v5.3h-5.3zM1127.2 264.5h5.3v5.3h-5.3zM1013.3 269.5h5.3v5.3h-5.3zM1132.2 269.5h5.3v5.3h-5.3zM1008.4 274.4h5.3v5.3h-5.3zM1003.4 279.4h5.3v5.3h-5.3zM998.5 284.3h5.3v5.3h-5.3zM993.5 289.3h5.3v5.3h-5.3zM993.5 408.1h5.3v5.3h-5.3zM998.5 413.1h10.2v5.3h-10.2zM1008.4 418.0h5.3v5.3h-5.3zM1147.0 418.0h5.3v5.3h-5.3z"/>
<path fill="#002aff" d="M1023.2 264.5h5.3v5.3h-5.3zM1018.3 269.5h5.3v5.3h-5.3zM1127.2 269.5h5.3v5.3h-5.3zM1013.3 274.4h5.3v5.3h-5.3zM1132.2 274.4h5.3v5.3h-5.3zM1008.4 279.4h5.3v5.3h-5.3zM1137.1 279.4h5.3v5.3h-5.3zM1003.4 284.3h5.3v5.3h-5.3zM1142.1 284.3h5.3v5.3h-5.3zM998.5 289.3h5.3v5.3h-5.3zM1147.0 289.3h5.3v5.3h-5.3zM993.5 294.2h5.3v5.3h-5.3zM993.5 299.2h5.3v5.3h-5.3zM993.5 398.2h5.3v5.3h-5.3zM993.5 403.2h10.2v5.3h-10.2zM998.5 408.1h10.2v5.3h-10.2zM1008.4 413.1h5.3v5.3h-5.3zM1147.0 413.1h5.3v5.3h-5.3zM1013.3 418.0h5.3v5.3h-5.3zM1142.1 418.0h5.3v5.3h-5.3z"/>
<path fill="#0040ff" d="M1028.2 264.5h10.2v5.3h-10.2zM1122.3 264.5h5.3v5.3h-5.3zM1023.2 269.5h5.3v5.3h-5.3zM1018.3 274.4h5.3v5.3h-5.3zM1013.3 279.4h5.3v5.3h-5.3zM1132.2 279.4h5.3v5.3h-5.3zM1008.4 284.3h5.3v5.3h-5.3zM1137.1 284.3h5.3v5.3h-5.3zM1003.4 289.3h5.3v5.3h-5.3zM1142.1 289.3h5.3v5.3h-5.3zM998.5 294.2h5.3v5.3h-5.3zM1147.0 294.2h5.3v5.3h-5.3zM993.5 304.1h5.3v5.3h-5.3zM993.5 393.3h5.3v5.3h-5.3zM998.5 398.2h5.3v5.3h-5.3zM1003.4 403.2h5.3v5.3h-5.3zM1147.0 403.2h5.3v5.3h-5.3zM1008.4 408.1h5.3v5.3h-5.3zM1147.0 408.1h5.3v5.3h-5.3zM1013.3 413.1h5.3v5.3h-5.3zM1142.1 413.1h5.3v5.3h-5.3zM1018.3 418.0h10.2v5.3h-10.2zM1132.2 418.0h10.2v5.3h-10.2z"/>
<path fill="#0055ff" d="M1038.1 264.5h5.3v5.3h-5.3zM1117.3 264.5h5.3v5.3h-5.3zM1028.2 269.5h5.3v5.3h-5.3zM1122.3 269.5h5.3v5.3h-5.3zM1023.2 274.4h5.3v5.3h-5.3zM1127.2 274.4h5.3v5.3h-5.3zM1018.3 279.4h5.3v5.3h-5.3zM1013.3 284.3h5.3v5.3h-5.3zM1008.4 289.3h5.3v5.3h-5.3zM1003.4 294.2h5.3v5.3h-5.3zM998.5 299.2h5.3v5.3h-5.3zM1147.0 299.2h5.3v5.3h-5.3zM993.5 309.1h5.3v5.3h-5.3zM993.5 388.3h5.3v5.3h-5.3zM998.5 393.3h5.3v5.3h-5.3zM1003.4 398.2h5.3v5.3h-5.3zM1147.0 398.2h5.3v5.3h-5.3zM1008.4 403.2h5.3v5.3h-5.3zM1013.3 408.1h5.3v5.3h-5.3zM1142.1 408.1h5.3v5.3h-5.3zM1018.3 413.1h5.3v5.3h-5.3zM1137.1 413.1h5.3v5.3h-5.3zM1028.2 418.0h5.3v5.3h-5.3zM1127.2 418.0h5.3v5.3h-5.3z"/>
<path fill="#006aff" d="M1043.0 264.5h5.3v5.3h-5.3zM1112.4 264.5h5.3v5.3h-5.3zM1033.1 269.5h5.3v5.3h-5.3zM1028.2 274.4h5.3v5.3h-5.3zM1127.2 279.4h5.3v5.3h-5.3zM1132.2 284.3h5.3v5.3h-5.3zM1137.1 289.3h5.3v5.3h-5.3zM1008.4 294.2h5.3v5.3h-5.3zM1142.1 294.2h5.3v5.3h-5.3zM1003.4 299.2h5.3v5.3h-5.3zM998.5 304.1h5.3v5.3h-5.3zM1147.0 304.1h5.3v5.3h-5.3zM993.5 314.0h5.3v5.3h-5.3zM993.5 383.4h5.3v5.3h-5.3zM1147.0 393.3h5.3v5.3h-5.3zM1142.1 403.2h5.3v5.3h-5.3zM1018.3 408.1h5.3v5.3h-5.3zM1137.1 408.1h5.3v5.3h-5.3zM1023.2 413.1h5.3v5.3h-5.3zM1132.2 413.1h5.3v5.3h-5.3zM1033.1 418.0h5.3v5.3h-5.3zM1122.3 418.0h5.3v5.3h-5.3z"/>
<path fill="#0080ff" d="M1048.0 264.5h5.3v5.3h-5.3zM1107.4 264.5h5.3v5.3h-5.3zM1038.1 269.5h5.3v5.3h-5.3zM1117.3 269.5h5.3v5.3h-5.3zM1122.3 274.4h5.3v5.3h-5.3zM1023.2 279.4h5.3v5.3h-5.3zM1018.3 284.3h5.3v5.3h-5.3zM1013.3 289.3h5.3v5.3h-5.3zM1142.1 299.2h5.3v5.3h-5.3zM1003.4 304.1h5.3v5.3h-5.3zM998.5 309.1h5.3v5.3h-5.3zM1147.0 309.1h5.3v5.3h-5.3zM993.5 319.0h5.3v5.3h-5.3zM993.5 378.4h5.3v5.3h-5.3zM998.5 388.3h5.3v5.3h-5.3zM1147.0 388.3h5.3v5.3h-5.3zM1003.4 393.3h5.3v5.3h-5.3zM1008.4 398.2h5.3v5.3h-5.3zM1142.1 398.2h5.3v5.3h-5.3zM1013.3 403.2h5.3v5.3h-5.3zM1137.1 403.2h5.3v5.3h-5.3zM1132.2 408.1h5.3v5.3h-5.3zM1028.2 413.1h5.3v5.3h-5.3zM1127.2 413.1h5.3v5.3h-5.3zM1038.1 418.0h10.2v5.3h-10.2zM1117.3 418.0h5.3v5.3h-5.3z"/>
<path fill="#0095ff" d="M1052.9 264.5h5.3v5.3h-5.3zM1102.5 264.5h5.3v5.3h-5.3zM1043.0 269.5h5.3v5.3h-5.3zM1112.4 269.5h5.3v5.3h-5.3zM1033.1 274.4h5.3v5.3h-5.3zM1028.2 279.4h5.3v5.3h-5.3zM1122.3 279.4h5.3v5.3h-5.3zM1023.2 284.3h5.3v5.3h-5.3zM1127.2 284.3h5.3v5.3h-5.3zM1018.3 289.3h5.3v5.3h-5.3zM1132.2 289.3h5.3v5.3h-5.3zM1013.3 294.2h5.3v5.3h-5.3zM1137.1 294.2h5.3v5.3h-5.3zM1008.4 299.2h5.3v5.3h-5.3zM1142.1 304.1h5.3v5.3h-5.3zM998.5 314.0h5.3v5.3h-5.3zM1147.0 314.0h5.3v5.3h-5.3zM1147.0 319.0h5.3v5.3h-5.3zM993.5 323.9h5.3v5.3h-5.3zM993.5 328.9h5.3v5.3h-5.3zM993.5 373.5h5.3v5.3h-5.3zM998.5 383.4h5.3v5.3h-5.3zM1147.0 383.4h5.3v5.3h-5.3zM1003.4 388.3h5.3v5.3h-5.3zM1142.1 393.3h5.3v5.3h-5.3zM1013.3 398.2h5.3v5.3h-5.3zM1018.3 403.2h5.3v5.3h-5.3zM1023.2 408.1h5.3v5.3h-5.3zM1033.1 413.1h5.3v5.3h-5.3zM1122.3 413.1h5.3v5.3h-5.3zM1048.0 418.0h5.3v5.3h-5.3zM1112.4 418.0h5.3v5.3h-5.3z"/>
<path fill="#00aaff" d="M1057.9 264.5h10.2v5.3h-10.2zM1092.6 264.5h10.2v5.3h-10.2zM1048.0 269.5h5.3v5.3h-5.3zM1107.4 269.5h5.3v5.3h-5.3zM1038.1 274.4h5.3v5.3h-5.3zM1117.3 274.4h5.3v5.3h-5.3zM1033.1 279.4h5.3v5.3h-5.3zM1137.1 299.2h5.3v5.3h-5.3zM1008.4 304.1h5.3v5.3h-5.3zM1003.4 309.1h5.3v5.3h-5.3zM1142.1 309.1h5.3v5.3h-5.3zM998.5 319.0h5.3v5.3h-5.3zM1147.0 323.9h5.3v5.3h-5.3zM993.5 333.8h5.3v5.3h-5.3zM993.5 363.6h5.3v5.3h-5.3zM993.5 368.5h5.3v5.3h-5.3zM998.5 378.4h5.3v5.3h-5.3zM1147.0 378.4h5.3v5.3h-5.3zM1142.1 388.3h5.3v5.3h-5.3zM1008.4 393.3h5.3v5.3h-5.3zM1137.1 398.2h5.3v5.3h-5.3zM1132.2 403.2h5.3v5.3h-5.3zM1028.2 408.1h5.3v5.3h-5.3zM1127.2 408.1h5.3v5.3h-5.3zM1038.1 413.1h5.3v5.3h-5.3zM1117.3 413.1h5.3v5.3h-5.3zM1052.9 418.0h10.2v5.3h-10.2zM1107.4 418.0h5.3v5.3h-5.3z"/>
<path fill="#00bfff" d="M1067.8 264.5h25.1v5.3h-25.1zM1052.9 269.5h5.3v5.3h-5.3zM1102.5 269.5h5.3v5.3h-5.3zM1043.0 274.4h5.3v5.3h-5.3zM1112.4 274.4h5.3v5.3h-5.3zM1117.3 279.4h5.3v5.3h-5.3zM1028.2 284.3h5.3v5.3h-5.3zM1122.3 284.3h5.3v5.3h-5.3zM1023.2 289.3h5.3v5.3h-5.3zM1127.2 289.3h5.3v5.3h-5.3zM1018.3 294.2h5.3v5.3h-5.3zM1132.2 294.2h5.3v5.3h-5.3zM1013.3 299.2h5.3v5.3h-5.3zM1137.1 304.1h5.3v5.3h-5.3zM1003.4 314.0h5.3v5.3h-5.3zM1142.1 314.0h5.3v5.3h-5.3zM998.5 323.9h5.3v5.3h-5.3zM1147.0 328.9h5.3v5.3h-5.3zM1147.0 333.8h5.3v5.3h-5.3zM993.5 338.8h5.3v5.3h-5.3zM993.5 343.8h5.3v5.3h-5.3zM993.5 348.7h5.3v5.3h-5.3zM993.5 353.7h5.3v5.3h-5.3zM993.5 358.6h5.3v5.3h-5.3zM1147.0 368.5h5.3v5.3h-5.3zM998.5 373.5h5.3v5.3h-5.3zM1147.0 373.5h5.3v5.3h-5.3zM1003.4 383.4h5.3v5.3h-5.3zM1142.1 383.4h5.3v5.3h-5.3zM1008.4 388.3h5.3v5.3h-5.3zM1013.3 393.3h5.3v5.3h-5.3zM1137.1 393.3h5.3v5.3h-5.3zM1018.3 398.2h5.3v5.3h-5.3zM1132.2 398.2h5.3v5.3h-5.3zM1023.2 403.2h5.3v5.3h-5.3zM1127.2 403.2h5.3v5.3h-5.3zM1033.1 408.1h5.3v5.3h-5.3zM1122.3 408.1h5.3v5.3h-5.3zM1043.0 413.1h5.3v5.3h-5.3zM1112.4 413.1h5.3v5.3h-5.3zM1062.8 418.0h10.2v5.3h-10.2zM1097.5 418.0h10.2v5.3h-10.2z"/>
<path fill="#00d4ff" d="M1057.9 269.5h5.3v5.3h-5.3zM1097.5 269.5h5.3v5.3h-5.3zM1107.4 274.4h5.3v5.3h-5.3zM1038.1 279.4h5.3v5.3h-5.3zM1132.2 299.2h5.3v5.3h-5.3zM1008.4 309.1h5.3v5.3h-5.3zM1137.1 309.1h5.3v5.3h-5.3zM1003.4 319.0h5.3v5.3h-5.3zM1142.1 319.0h5.3v5.3h-5.3zM998.5 328.9h5.3v5.3h-5.3zM1147.0 338.8h5.3v5.3h-5.3zM1147.0 343.8h5.3v5.3h-5.3zM1147.0 348.7h5.3v5.3h-5.3zM1147.0 353.7h5.3v5.3h-5.3zM1147.0 358.6h5.3v5.3h-5.3zM1147.0 363.6h5.3v5.3h-5.3zM998.5 368.5h5.3v5.3h-5.3zM1003.4 378.4h5.3v5.3h-5.3zM1142.1 378.4h5.3v5.3h-5.3zM1137.1 388.3h5.3v5.3h-5.3zM1028.2 403.2h5.3v5.3h-5.3zM1038.1 408.1h5.3v5.3h-5.3zM1117.3 408.1h5.3v5.3h-5.3zM1048.0 413.1h10.2v5.3h-10.2zM1107.4 413.1h5.3v5.3h-5.3zM1072.8 418.0h25.1v5.3h-25.1z"/>
<path fill="#00eaff" d="M1062.8 269.5h10.2v5.3h-10.2zM1087.6 269.5h10.2v5.3h-10.2zM1048.0 274.4h5.3v5.3h-5.3zM1112.4 279.4h5.3v5.3h-5.3zM1033.1 284.3h5.3v5.3h-5.3zM1117.3 284.3h5.3v5.3h-5.3zM1028.2 289.3h5.3v5.3h-5.3zM1122.3 289.3h5.3v5.3h-5.3zM1023.2 294.2h5.3v5.3h-5.3zM1127.2 294.2h5.3v5.3h-5.3zM1018.3 299.2h5.3v5.3h-5.3zM1013.3 304.1h5.3v5.3h-5.3zM1008.4 314.0h5.3v5.3h-5.3zM1137.1 314.0h5.3v5.3h-5.3zM1142.1 323.9h5.3v5.3h-5.3zM1142.1 328.9h5.3v5.3h-5.3zM998.5 333.8h5.3v5.3h-5.3zM998.5 338.8h5.3v5.3h-5.3zM998.5 358.6h5.3v5.3h-5.3zM998.5 363.6h5.3v5.3h-5.3zM1003.4 373.5h5.3v5.3h-5.3zM1142.1 373.5h5.3v5.3h-5.3zM1008.4 383.4h5.3v5.3h-5.3zM1013.3 388.3h5.3v5.3h-5.3zM1018.3 393.3h5.3v5.3h-5.3zM1132.2 393.3h5.3v5.3h-5.3zM1023.2 398.2h5.3v5.3h-5.3zM1127.2 398.2h5.3v5.3h-5.3zM1033.1 403.2h5.3v5.3h-5.3zM1122.3 403.2h5.3v5.3h-5.3zM1043.0 408.1h5.3v5.3h-5.3zM1057.9 413.1h5.3v5.3h-5.3zM1102.5 413.1h5.3v5.3h-5.3z"/>
<path fill="#00ffff" d="M1072.8 269.5h15.2v5.3h-15.2zM1052.9 274.4h5.3v5.3h-5.3zM1102.5 274.4h5.3v5.3h-5.3zM1043.0 279.4h5.3v5.3h-5.3zM1038.1 284.3h5.3v5.3h-5.3zM1132.2 304.1h5.3v5.3h-5.3zM1013.3 309.1h5.3v5.3h-5.3zM1137.1 319.0h5.3v5.3h-5.3zM1003.4 323.9h5.3v5.3h-5.3zM1142.1 333.8h5.3v5.3h-5.3zM1142.1 338.8h5.3v5.3h-5.3zM998.5 343.8h5.3v5.3h-5.3zM998.5 348.7h5.3v5.3h-5.3zM998.5 353.7h5.3v5.3h-5.3zM1142.1 363.6h5.3v5.3h-5.3zM1003.4 368.5h5.3v5.3h-5.3zM1142.1 368.5h5.3v5.3h-5.3zM1008.4 378.4h5.3v5.3h-5.3zM1137.1 383.4h5.3v5.3h-5.3zM1028.2 398.2h5.3v5.3h-5.3zM1048.0 408.1h5.3v5.3h-5.3zM1112.4 408.1h5.3v5.3h-5.3zM1062.8 413.1h10.2v5.3h-10.2zM1092.6 413.1h10.2v5.3h-10.2z"/>
<path fill="#00ffe7" d="M1057.9 274.4h5.3v5.3h-5.3zM1097.5 274.4h5.3v5.3h-5.3zM1048.0 279.4h5.3v5.3h-5.3zM1107.4 279.4h5.3v5.3h-5.3zM1033.1 289.3h5.3v5.3h-5.3zM1028.2 294.2h5.3v5.3h-5.3zM1122.3 294.2h5.3v5.3h-5.3zM1023.2 299.2h5.3v5.3h-5.3zM1127.2 299.2h5.3v5.3h-5.3zM1018.3 304.1h5.3v5.3h-5.3zM1132.2 309.1h5.3v5.3h-5.3zM1008.4 319.0h5.3v5.3h-5.3zM1003.4 328.9h5.3v5.3h-5.3zM1142.1 343.8h5.3v5.3h-5.3zM1142.1 348.7h5.3v5.3h-5.3zM1142.1 353.7h5.3v5.3h-5.3zM1142.1 358.6h5.3v5.3h-5.3zM1137.1 378.4h5.3v5.3h-5.3zM1013.3 383.4h5.3v5.3h-5.3zM1132.2 388.3h5.3v5.3h-5.3zM1023.2 393.3h5.3v5.3h-5.3zM1127.2 393.3h5.3v5.3h-5.3zM1122.3 398.2h5.3v5.3h-5.3zM1038.1 403.2h5.3v5.3h-5.3zM1117.3 403.2h5.3v5.3h-5.3zM1052.9 408.1h5.3v5.3h-5.3zM1107.4 408.1h5.3v5.3h-5.3zM1072.8 413.1h20.1v5.3h-20.1z"/>
<path fill="#00ffcf" d="M1062.8 274.4h5.3v5.3h-5.3zM1092.6 274.4h5.3v5.3h-5.3zM1112.4 284.3h5.3v5.3h-5.3zM1117.3 289.3h5.3v5.3h-5.3zM1137.1 323.9h5.3v5.3h-5.3zM1003.4 333.8h5.3v5.3h-5.3zM1003.4 363.6h5.3v5.3h-5.3zM1008.4 373.5h5.3v5.3h-5.3zM1137.1 373.5h5.3v5.3h-5.3zM1018.3 388.3h5.3v5.3h-5.3zM1033.1 398.2h5.3v5.3h-5.3zM1043.0 403.2h5.3v5.3h-5.3zM1102.5 408.1h5.3v5.3h-5.3z"/>
<path fill="#00ffb8" d="M1067.8 274.4h25.1v5.3h-25.1zM1052.9 279.4h5.3v5.3h-5.3zM1102.5 279.4h5.3v5.3h-5.3zM1043.0 284.3h5.3v5.3h-5.3zM1127.2 304.1h5.3v5.3h-5.3zM1013.3 314.0h5.3v5.3h-5.3zM1132.2 314.0h5.3v5.3h-5.3zM1008.4 323.9h5.3v5.3h-5.3zM1137.1 328.9h5.3v5.3h-5.3zM1003.4 338.8h5.3v5.3h-5.3zM1003.4 343.8h5.3v5.3h-5.3zM1003.4 348.7h5.3v5.3h-5.3zM1003.4 353.7h5.3v5.3h-5.3zM1003.4 358.6h5.3v5.3h-5.3zM1137.1 368.5h5.3v5.3h-5.3zM1132.2 383.4h5.3v5.3h-5.3zM1112.4 403.2h5.3v5.3h-5.3zM1057.9 408.1h10.2v5.3h-10.2zM1097.5 408.1h5.3v5.3h-5.3z"/>
<path fill="#00ffa0" d="M1097.5 279.4h5.3v5.3h-5.3zM1107.4 284.3h5.3v5.3h-5.3zM1038.1 289.3h5.3v5.3h-5.3zM1112.4 289.3h5.3v5.3h-5.3zM1033.1 294.2h5.3v5.3h-5.3zM1117.3 294.2h5.3v5.3h-5.3zM1028.2 299.2h5.3v5.3h-5.3zM1122.3 299.2h5.3v5.3h-5.3zM1023.2 304.1h5.3v5.3h-5.3zM1018.3 309.1h5.3v5.3h-5.3zM1132.2 319.0h5.3v5.3h-5.3zM1008.4 328.9h5.3v5.3h-5.3zM1137.1 333.8h5.3v5.3h-5.3zM1137.1 338.8h5.3v5.3h-5.3zM1137.1 363.6h5.3v5.3h-5.3zM1008.4 368.5h5.3v5.3h-5.3zM1013.3 378.4h5.3v5.3h-5.3zM1132.2 378.4h5.3v5.3h-5.3zM1018.3 383.4h5.3v5.3h-5.3zM1023.2 388.3h5.3v5.3h-5.3zM1127.2 388.3h5.3v5.3h-5.3zM1028.2 393.3h5.3v5.3h-5.3zM1122.3 393.3h5.3v5.3h-5.3zM1038.1 398.2h5.3v5.3h-5.3zM1117.3 398.2h5.3v5.3h-5.3zM1048.0 403.2h5.3v5.3h-5.3zM1107.4 403.2h5.3v5.3h-5.3zM1067.8 408.1h5.3v5.3h-5.3zM1092.6 408.1h5.3v5.3h-5.3z"/>
<path fill="#00ff88" d="M1057.9 279.4h5.3v5.3h-5.3zM1092.6 279.4h5.3v5.3h-5.3zM1048.0 284.3h5.3v5.3h-5.3zM1127.2 309.1h5.3v5.3h-5.3zM1013.3 319.0h5.3v5.3h-5.3zM1132.2 323.9h5.3v5.3h-5.3zM1137.1 343.8h5.3v5.3h-5.3zM1137.1 348.7h5.3v5.3h-5.3zM1137.1 353.7h5.3v5.3h-5.3zM1137.1 358.6h5.3v5.3h-5.3zM1008.4 363.6h5.3v5.3h-5.3zM1052.9 403.2h5.3v5.3h-5.3zM1072.8 408.1h20.1v5.3h-20.1z"/>
<path fill="#00ff70" d="M1062.8 279.4h5.3v5.3h-5.3zM1087.6 279.4h5.3v5.3h-5.3zM1102.5 284.3h5.3v5.3h-5.3zM1043.0 289.3h5.3v5.3h-5.3zM1122.3 304.1h5.3v5.3h-5.3zM1018.3 314.0h5.3v5.3h-5.3zM1127.2 314.0h5.3v5.3h-5.3zM1008.4 333.8h5.3v5.3h-5.3zM1008.4 358.6h5.3v5.3h-5.3zM1013.3 373.5h5.3v5.3h-5.3zM1132.2 373.5h5.3v5.3h-5.3zM1127.2 383.4h5.3v5.3h-5.3zM1033.1 393.3h5.3v5.3h-5.3zM1043.0 398.2h5.3v5.3h-5.3zM1112.4 398.2h5.3v5.3h-5.3zM1102.5 403.2h5.3v5.3h-5.3z"/>
<path fill="#1fff5d" d="M1067.8 279.4h10.2v5.3h-10.2zM1082.7 279.4h5.3v5.3h-5.3zM1052.9 284.3h5.3v5.3h-5.3zM1107.4 289.3h5.3v5.3h-5.3zM1038.1 294.2h5.3v5.3h-5.3zM1117.3 299.2h5.3v5.3h-5.3zM1023.2 309.1h5.3v5.3h-5.3zM1013.3 323.9h5.3v5.3h-5.3zM1132.2 328.9h5.3v5.3h-5.3zM1008.4 338.8h5.3v5.3h-5.3zM1008.4 343.8h5.3v5.3h-5.3zM1008.4 348.7h5.3v5.3h-5.3zM1008.4 353.7h5.3v5.3h-5.3zM1132.2 368.5h5.3v5.3h-5.3zM1018.3 378.4h5.3v5.3h-5.3zM1023.2 383.4h5.3v5.3h-5.3zM1028.2 388.3h5.3v5.3h-5.3zM1122.3 388.3h5.3v5.3h-5.3zM1117.3 393.3h5.3v5.3h-5.3zM1057.9 403.2h5.3v5.3h-5.3zM1097.5 403.2h5.3v5.3h-5.3z"/>
<path fill="#82ff31" d="M1077.7 279.4h5.3v5.3h-5.3zM1097.5 284.3h5.3v5.3h-5.3zM1112.4 294.2h5.3v5.3h-5.3zM1033.1 299.2h5.3v5.3h-5.3zM1028.2 304.1h5.3v5.3h-5.3zM1127.2 319.0h5.3v5.3h-5.3zM1132.2 333.8h5.3v5.3h-5.3zM1132.2 363.6h5.3v5.3h-5.3zM1013.3 368.5h5.3v5.3h-5.3zM1127.2 378.4h5.3v5.3h-5.3zM1038.1 393.3h5.3v5.3h-5.3zM1048.0 398.2h5.3v5.3h-5.3zM1107.4 398.2h5.3v5.3h-5.3zM1062.8 403.2h5.3v5.3h-5.3zM1092.6 403.2h5.3v5.3h-5.3z"/>
<path fill="#a1ff25" d="M1057.9 284.3h5.3v5.3h-5.3zM1048.0 289.3h5.3v5.3h-5.3zM1122.3 309.1h5.3v5.3h-5.3zM1018.3 319.0h5.3v5.3h-5.3zM1013.3 328.9h5.3v5.3h-5.3zM1132.2 338.8h5.3v5.3h-5.3zM1132.2 343.8h5.3v5.3h-5.3zM1132.2 358.6h5.3v5.3h-5.3zM1122.3 383.4h5.3v5.3h-5.3zM1067.8 403.2h10.2v5.3h-10.2zM1087.6 403.2h5.3v5.3h-5.3z"/>
<path fill="#c0ff19" d="M1062.8 284.3h5.3v5.3h-5.3zM1092.6 284.3h5.3v5.3h-5.3zM1102.5 289.3h5.3v5.3h-5.3zM1043.0 294.2h5.3v5.3h-5.3zM1117.3 304.1h5.3v5.3h-5.3zM1023.2 314.0h5.3v5.3h-5.3zM1127.2 323.9h5.3v5.3h-5.3zM1013.3 333.8h5.3v5.3h-5.3zM1132.2 348.7h5.3v5.3h-5.3zM1132.2 353.7h5.3v5.3h-5.3zM1013.3 363.6h5.3v5.3h-5.3zM1018.3 373.5h5.3v5.3h-5.3zM1127.2 373.5h5.3v5.3h-5.3zM1033.1 388.3h5.3v5.3h-5.3zM1117.3 388.3h5.3v5.3h-5.3zM1112.4 393.3h5.3v5.3h-5.3zM1052.9 398.2h5.3v5.3h-5.3zM1102.5 398.2h5.3v5.3h-5.3zM1077.7 403.2h10.2v5.3h-10.2z"/>
<path fill="#e0ff0c" d="M1087.6 284.3h5.3v5.3h-5.3zM1052.9 289.3h5.3v5.3h-5.3zM1107.4 294.2h5.3v5.3h-5.3zM1038.1 299.2h5.3v5.3h-5.3zM1112.4 299.2h5.3v5.3h-5.3zM1033.1 304.1h5.3v5.3h-5.3zM1028.2 309.1h5.3v5.3h-5.3zM1122.3 314.0h5.3v5.3h-5.3zM1018.3 323.9h5.3v5.3h-5.3zM1013.3 338.8h5.3v5.3h-5.3zM1013.3 358.6h5.3v5.3h-5.3zM1023.2 378.4h5.3v5.3h-5.3zM1028.2 383.4h5.3v5.3h-5.3zM1043.0 393.3h5.3v5.3h-5.3z"/>
<path fill="#ffff00" d="M1067.8 284.3h10.2v5.3h-10.2zM1082.7 284.3h5.3v5.3h-5.3zM1097.5 289.3h5.3v5.3h-5.3zM1127.2 328.9h5.3v5.3h-5.3zM1013.3 343.8h5.3v5.3h-5.3zM1013.3 353.7h5.3v5.3h-5.3zM1127.2 368.5h5.3v5.3h-5.3zM1122.3 378.4h5.3v5.3h-5.3zM1107.4 393.3h5.3v5.3h-5.3zM1057.9 398.2h5.3v5.3h-5.3zM1097.5 398.2h5.3v5.3h-5.3z"/>
<path fill="#ffea00" d="M1077.7 284.3h5.3v5.3h-5.3zM1013.3 348.7h5.3v5.3h-5.3zM1018.3 368.5h5.3v5.3h-5.3z"/>
<path fill="#ffd400" d="M1117.3 309.1h5.3v5.3h-5.3zM1023.2 319.0h5.3v5.3h-5.3zM1122.3 319.0h5.3v5.3h-5.3zM1127.2 333.8h5.3v5.3h-5.3zM1127.2 363.6h5.3v5.3h-5.3zM1038.1 388.3h5.3v5.3h-5.3zM1048.0 393.3h5.3v5.3h-5.3zM1062.8 398.2h5.3v5.3h-5.3z"/>
<path fill="#ffbf00" d="M1057.9 289.3h5.3v5.3h-5.3zM1048.0 294.2h5.3v5.3h-5.3zM1018.3 328.9h5.3v5.3h-5.3zM1117.3 383.4h5.3v5.3h-5.3zM1112.4 388.3h5.3v5.3h-5.3zM1092.6 398.2h5.3v5.3h-5.3z"/>
<path fill="#ffaa00" d="M1102.5 294.2h5.3v5.3h-5.3zM1127.2 338.8h5.3v5.3h-5.3zM1127.2 358.6h5.3v5.3h-5.3zM1023.2 373.5h5.3v5.3h-5.3zM1067.8 398.2h5.3v5.3h-5.3z"/>
<path fill="#ff9500" d="M1092.6 289.3h5.3v5.3h-5.3zM1043.0 299.2h5.3v5.3h-5.3zM1107.4 299.2h5.3v5.3h-5.3zM1112.4 304.1h5.3v5.3h-5.3zM1028.2 314.0h5.3v5.3h-5.3zM1127.2 343.8h5.3v5.3h-5.3zM1018.3 363.6h5.3v5.3h-5.3zM1122.3 373.5h5.3v5.3h-5.3zM1033.1 383.4h5.3v5.3h-5.3zM1087.6 398.2h5.3v5.3h-5.3z"/>
<path fill="#ff8000" d="M1038.1 304.1h5.3v5.3h-5.3zM1033.1 309.1h5.3v5.3h-5.3zM1122.3 323.9h5.3v5.3h-5.3zM1018.3 333.8h5.3v5.3h-5.3zM1127.2 348.7h5.3v5.3h-5.3zM1127.2 353.7h5.3v5.3h-5.3zM1028.2 378.4h5.3v5.3h-5.3zM1052.9 393.3h5.3v5.3h-5.3zM1102.5 393.3h5.3v5.3h-5.3zM1072.8 398.2h15.2v5.3h-15.2z"/>
<path fill="#ff6a00" d="M1062.8 289.3h5.3v5.3h-5.3zM1087.6 289.3h5.3v5.3h-5.3zM1117.3 314.0h5.3v5.3h-5.3zM1023.2 323.9h5.3v5.3h-5.3zM1018.3 358.6h5.3v5.3h-5.3zM1043.0 388.3h5.3v5.3h-5.3z"/>
<path fill="#ff5500" d="M1067.8 289.3h5.3v5.3h-5.3zM1052.9 294.2h5.3v5.3h-5.3zM1097.5 294.2h5.3v5.3h-5.3zM1122.3 328.9h5.3v5.3h-5.3zM1018.3 338.8h5.3v5.3h-5.3zM1023.2 368.5h5.3v5.3h-5.3zM1122.3 368.5h5.3v5.3h-5.3zM1117.3 378.4h5.3v5.3h-5.3zM1107.4 388.3h5.3v5.3h-5.3zM1097.5 393.3h5.3v5.3h-5.3z"/>
<path fill="#ff4000" d="M1072.8 289.3h15.2v5.3h-15.2zM1112.4 309.1h5.3v5.3h-5.3zM1018.3 343.8h5.3v5.3h-5.3zM1018.3 348.7h5.3v5.3h-5.3zM1018.3 353.7h5.3v5.3h-5.3zM1038.1 383.4h5.3v5.3h-5.3zM1112.4 383.4h5.3v5.3h-5.3zM1057.9 393.3h5.3v5.3h-5.3z"/>
<path fill="#ff2a00" d="M1048.0 299.2h5.3v5.3h-5.3zM1102.5 299.2h5.3v5.3h-5.3zM1107.4 304.1h5.3v5.3h-5.3zM1028.2 319.0h5.3v5.3h-5.3zM1117.3 319.0h5.3v5.3h-5.3zM1023.2 328.9h5.3v5.3h-5.3zM1122.3 333.8h5.3v5.3h-5.3zM1122.3 363.6h5.3v5.3h-5.3zM1028.2 373.5h5.3v5.3h-5.3zM1033.1 378.4h5.3v5.3h-5.3zM1048.0 388.3h5.3v5.3h-5.3zM1062.8 393.3h5.3v5.3h-5.3zM1092.6 393.3h5.3v5.3h-5.3z"/>
<path fill="#ff1500" d="M1057.9 294.2h5.3v5.3h-5.3zM1092.6 294.2h5.3v5.3h-5.3zM1043.0 304.1h5.3v5.3h-5.3zM1033.1 314.0h5.3v5.3h-5.3zM1122.3 338.8h5.3v5.3h-5.3zM1023.2 363.6h5.3v5.3h-5.3zM1117.3 373.5h5.3v5.3h-5.3zM1102.5 388.3h5.3v5.3h-5.3z"/>
<path fill="#ff0000" d="M1038.1 309.1h5.3v5.3h-5.3zM1122.3 343.8h5.3v5.3h-5.3zM1122.3 353.7h5.3v5.3h-5.3zM1122.3 358.6h5.3v5.3h-5.3zM1067.8 393.3h5.3v5.3h-5.3zM1087.6 393.3h5.3v5.3h-5.3z"/>
<path fill="#eb0000" d="M1062.8 294.2h5.3v5.3h-5.3zM1087.6 294.2h5.3v5.3h-5.3zM1052.9 299.2h5.3v5.3h-5.3zM1112.4 314.0h5.3v5.3h-5.3zM1028.2 323.9h5.3v5.3h-5.3zM1117.3 323.9h5.3v5.3h-5.3zM1023.2 333.8h5.3v5.3h-5.3zM1122.3 348.7h5.3v5.3h-5.3zM1112.4 378.4h5.3v5.3h-5.3zM1043.0 383.4h5.3v5.3h-5.3zM1107.4 383.4h5.3v5.3h-5.3zM1052.9 388.3h5.3v5.3h-5.3zM1072.8 393.3h15.2v5.3h-15.2z"/>
<path fill="#d70000" d="M1097.5 299.2h5.3v5.3h-5.3zM1107.4 309.1h5.3v5.3h-5.3zM1023.2 358.6h5.3v5.3h-5.3zM1028.2 368.5h5.3v5.3h-5.3zM1117.3 368.5h5.3v5.3h-5.3zM1097.5 388.3h5.3v5.3h-5.3z"/>
<path fill="#c40000" d="M1067.8 294.2h10.2v5.3h-10.2zM1082.7 294.2h5.3v5.3h-5.3zM1048.0 304.1h5.3v5.3h-5.3zM1102.5 304.1h5.3v5.3h-5.3zM1033.1 319.0h5.3v5.3h-5.3zM1117.3 328.9h5.3v5.3h-5.3zM1023.2 338.8h5.3v5.3h-5.3zM1023.2 353.7h5.3v5.3h-5.3zM1033.1 373.5h5.3v5.3h-5.3zM1038.1 378.4h5.3v5.3h-5.3zM1057.9 388.3h5.3v5.3h-5.3z"/>
<path fill="#b00000" d="M1077.7 294.2h5.3v5.3h-5.3zM1043.0 309.1h5.3v5.3h-5.3zM1038.1 314.0h5.3v5.3h-5.3zM1112.4 319.0h5.3v5.3h-5.3zM1028.2 328.9h5.3v5.3h-5.3zM1117.3 333.8h5.3v5.3h-5.3zM1023.2 343.8h5.3v5.3h-5.3zM1023.2 348.7h5.3v5.3h-5.3zM1117.3 363.6h5.3v5.3h-5.3zM1112.4 373.5h5.3v5.3h-5.3zM1048.0 383.4h5.3v5.3h-5.3z"/>
<path fill="#9c0000" d="M1057.9 299.2h5.3v5.3h-5.3zM1092.6 299.2h5.3v5.3h-5.3zM1028.2 363.6h5.3v5.3h-5.3zM1107.4 378.4h5.3v5.3h-5.3zM1102.5 383.4h5.3v5.3h-5.3zM1062.8 388.3h5.3v5.3h-5.3zM1092.6 388.3h5.3v5.3h-5.3z"/>
<path fill="#880000" d="M1062.8 299.2h30.0v5.3h-30.0zM1052.9 304.1h49.8v5.3h-49.8zM1048.0 309.1h59.7v5.3h-59.7zM1043.0 314.0h69.6v5.3h-69.6zM1038.1 319.0h74.6v5.3h-74.6zM1033.1 323.9h84.5v5.3h-84.5zM1033.1 328.9h84.5v5.3h-84.5zM1028.2 333.8h89.5v5.3h-89.5zM1028.2 338.8h94.4v5.3h-94.4zM1028.2 343.8h94.4v5.3h-94.4zM1028.2 348.7h94.4v5.3h-94.4zM1028.2 353.7h94.4v5.3h-94.4zM1028.2 358.6h94.4v5.3h-94.4zM1033.1 363.6h84.5v5.3h-84.5zM1033.1 368.5h84.5v5.3h-84.5zM1038.1 373.5h74.6v5.3h-74.6zM1043.0 378.4h64.7v5.3h-64.7zM1052.9 383.4h49.8v5.3h-49.8zM1067.8 388.3h25.1v5.3h-25.1z"/>
<rect x="993.5" y="264.5" width="158.5" height="158.5" fill="none" stroke="#000" stroke-width="1.3"/>
<path d="M1033.1 264.5v3M1033.1 423.0v-3M993.5 304.1h3M1152 304.1h-3M1072.8 264.5v3M1072.8 423.0v-3M993.5 343.8h3M1152 343.8h-3M1112.4 264.5v3M1112.4 423.0v-3M993.5 383.4h3M1152 383.4h-3" stroke="#000" stroke-width="1.1" fill="none"/>
<path fill="#0000ea" d="M1147.0 454.0h5.3v5.3h-5.3zM1147.0 607.5h5.3v5.3h-5.3z"/>
<path fill="#0000ff" d="M993.5 454.0h5.3v5.3h-5.3zM1142.1 454.0h5.3v5.3h-5.3zM1147.0 459.0h5.3v5.3h-5.3zM1147.0 597.6h5.3v5.3h-5.3zM993.5 602.6h5.3v5.3h-5.3zM1147.0 602.6h5.3v5.3h-5.3zM993.5 607.5h10.2v5.3h-10.2zM1142.1 607.5h5.3v5.3h-5.3z"/>
<path fill="#0015ff" d="M998.5 454.0h10.2v5.3h-10.2zM1137.1 454.0h5.3v5.3h-5.3zM993.5 459.0h10.2v5.3h-10.2zM1142.1 459.0h5.3v5.3h-5.3zM993.5 463.9h5.3v5.3h-5.3zM1142.1 463.9h10.2v5.3h-10.2zM1147.0 468.9h5.3v5.3h-5.3zM1147.0 592.7h5.3v5.3h-5.3zM993.5 597.6h5.3v5.3h-5.3zM1142.1 597.6h5.3v5.3h-5.3zM998.5 602.6h5.3v5.3h-5.3zM1137.1 602.6h10.2v5.3h-10.2zM1003.4 607.5h5.3v5.3h-5.3zM1132.2 607.5h10.2v5.3h-10.2z"/>
<path fill="#002aff" d="M1008.4 454.0h5.3v5.3h-5.3zM1127.2 454.0h10.2v5.3h-10.2zM1003.4 459.0h5.3v5.3h-5.3zM1132.2 459.0h10.2v5.3h-10.2zM998.5 463.9h5.3v5.3h-5.3zM1137.1 463.9h5.3v5.3h-5.3zM993.5 468.9h5.3v5.3h-5.3zM1142.1 468.9h5.3v5.3h-5.3zM993.5 473.8h5.3v5.3h-5.3zM1147.0 473.8h5.3v5.3h-5.3zM1147.0 478.8h5.3v5.3h-5.3zM1147.0 582.8h5.3v5.3h-5.3zM993.5 587.7h5.3v5.3h-5.3zM1142.1 587.7h10.2v5.3h-10.2zM993.5 592.7h10.2v5.3h-10.2zM1142.1 592.7h5.3v5.3h-5.3zM998.5 597.6h5.3v5.3h-5.3zM1137.1 597.6h5.3v5.3h-5.3zM1003.4 602.6h5.3v5.3h-5.3zM1132.2 602.6h5.3v5.3h-5.3zM1008.4 607.5h10.2v5.3h-10.2zM1127.2 607.5h5.3v5.3h-5.3z"/>
<path fill="#0040ff" d="M1013.3 454.0h5.3v5.3h-5.3zM1122.3 454.0h5.3v5.3h-5.3zM1008.4 459.0h5.3v5.3h-5.3zM1127.2 459.0h5.3v5.3h-5.3zM1003.4 463.9h5.3v5.3h-5.3zM1132.2 463.9h5.3v5.3h-5.3zM998.5 468.9h5.3v5.3h-5.3zM1137.1 468.9h5.3v5.3h-5.3zM1142.1 473.8h5.3v5.3h-5.3zM993.5 478.8h5.3v5.3h-5.3zM1147.0 483.7h5.3v5.3h-5.3zM1147.0 577.8h5.3v5.3h-5.3zM993.5 582.8h5.3v5.3h-5.3zM1142.1 582.8h5.3v5.3h-5.3zM998.5 587.7h5.3v5.3h-5.3zM1137.1 592.7h5.3v5.3h-5.3zM1003.4 597.6h5.3v5.3h-5.3zM1132.2 597.6h5.3v5.3h-5.3zM1008.4 602.6h5.3v5.3h-5.3zM1127.2 602.6h5.3v5.3h-5.3zM1122.3 607.5h5.3v5.3h-5.3z"/>
<path fill="#0055ff" d="M1018.3 454.0h5.3v5.3h-5.3zM1117.3 454.0h5.3v5.3h-5.3zM1013.3 459.0h5.3v5.3h-5.3zM1008.4 463.9h5.3v5.3h-5.3zM1003.4 468.9h5.3v5.3h-5.3zM998.5 473.8h5.3v5.3h-5.3zM1137.1 473.8h5.3v5.3h-5.3zM1142.1 478.8h5.3v5.3h-5.3zM993.5 483.7h5.3v5.3h-5.3zM1147.0 488.7h5.3v5.3h-5.3zM1147.0 567.9h5.3v5.3h-5.3zM1147.0 572.9h5.3v5.3h-5.3zM993.5 577.8h5.3v5.3h-5.3zM1142.1 577.8h5.3v5.3h-5.3zM998.5 582.8h5.3v5.3h-5.3zM1137.1 587.7h5.3v5.3h-5.3zM1003.4 592.7h5.3v5.3h-5.3zM1132.2 592.7h5.3v5.3h-5.3zM1008.4 597.6h5.3v5.3h-5.3zM1127.2 597.6h5.3v5.3h-5.3zM1013.3 602.6h5.3v5.3h-5.3zM1122.3 602.6h5.3v5.3h-5.3zM1018.3 607.5h5.3v5.3h-5.3zM1117.3 607.5h5.3v5.3h-5.3z"/>
<path fill="#006aff" d="M1023.2 454.0h5.3v5.3h-5.3zM1112.4 454.0h5.3v5.3h-5.3zM1018.3 459.0h5.3v5.3h-5.3zM1122.3 459.0h5.3v5.3h-5.3zM1127.2 463.9h5.3v5.3h-5.3zM1132.2 468.9h5.3v5.3h-5.3zM1003.4 473.8h5.3v5.3h-5.3zM998.5 478.8h5.3v5.3h-5.3zM1137.1 478.8h5.3v5.3h-5.3zM1142.1 483.7h5.3v5.3h-5.3zM993.5 488.7h5.3v5.3h-5.3zM1147.0 493.6h5.3v5.3h-5.3zM1147.0 498.6h5.3v5.3h-5.3zM1147.0 563.0h5.3v5.3h-5.3zM993.5 567.9h5.3v5.3h-5.3zM993.5 572.9h5.3v5.3h-5.3zM1142.1 572.9h5.3v5.3h-5.3zM998.5 577.8h5.3v5.3h-5.3zM1137.1 582.8h5.3v5.3h-5.3zM1003.4 587.7h5.3v5.3h-5.3zM1132.2 587.7h5.3v5.3h-5.3zM1008.4 592.7h5.3v5.3h-5.3zM1013.3 597.6h5.3v5.3h-5.3zM1018.3 602.6h5.3v5.3h-5.3zM1117.3 602.6h5.3v5.3h-5.3zM1023.2 607.5h5.3v5.3h-5.3zM1112.4 607.5h5.3v5.3h-5.3z"/>
<path fill="#0080ff" d="M1028.2 454.0h5.3v5.3h-5.3zM1107.4 454.0h5.3v5.3h-5.3zM1117.3 459.0h5.3v5.3h-5.3zM1013.3 463.9h5.3v5.3h-5.3zM1122.3 463.9h5.3v5.3h-5.3zM1008.4 468.9h5.3v5.3h-5.3zM1127.2 468.9h5.3v5.3h-5.3zM1132.2 473.8h5.3v5.3h-5.3zM1003.4 478.8h5.3v5.3h-5.3zM998.5 483.7h5.3v5.3h-5.3zM1137.1 483.7h5.3v5.3h-5.3zM1142.1 488.7h5.3v5.3h-5.3zM993.5 493.6h5.3v5.3h-5.3zM1142.1 493.6h5.3v5.3h-5.3zM993.5 498.6h5.3v5.3h-5.3zM1147.0 503.5h5.3v5.3h-5.3zM1147.0 508.5h5.3v5.3h-5.3zM1147.0 553.1h5.3v5.3h-5.3zM1147.0 558.0h5.3v5.3h-5.3zM993.5 563.0h5.3v5.3h-5.3zM1142.1 567.9h5.3v5.3h-5.3zM998.5 572.9h5.3v5.3h-5.3zM1137.1 577.8h5.3v5.3h-5.3zM1003.4 582.8h5.3v5.3h-5.3zM1008.4 587.7h5.3v5.3h-5.3zM1013.3 592.7h5.3v5.3h-5.3zM1127.2 592.7h5.3v5.3h-5.3zM1018.3 597.6h5.3v5.3h-5.3zM1122.3 597.6h5.3v5.3h-5.3zM1023.2 602.6h5.3v5.3h-5.3zM1112.4 602.6h5.3v5.3h-5.3zM1028.2 607.5h10.2v5.3h-10.2zM1107.4 607.5h5.3v5.3h-5.3z"/>
<path fill="#0095ff" d="M1033.1 454.0h5.3v5.3h-5.3zM1102.5 454.0h5.3v5.3h-5.3zM1023.2 459.0h5.3v5.3h-5.3zM1112.4 459.0h5.3v5.3h-5.3zM1018.3 463.9h5.3v5.3h-5.3zM1117.3 463.9h5.3v5.3h-5.3zM1013.3 468.9h5.3v5.3h-5.3zM1122.3 468.9h5.3v5.3h-5.3zM1008.4 473.8h5.3v5.3h-5.3zM1127.2 473.8h5.3v5.3h-5.3zM1132.2 478.8h5.3v5.3h-5.3zM1003.4 483.7h5.3v5.3h-5.3zM998.5 488.7h5.3v5.3h-5.3zM1137.1 488.7h5.3v5.3h-5.3zM998.5 493.6h5.3v5.3h-5.3zM1142.1 498.6h5.3v5.3h-5.3zM993.5 503.5h5.3v5.3h-5.3zM993.5 508.5h5.3v5.3h-5.3zM1147.0 513.4h5.3v5.3h-5.3zM1147.0 518.4h5.3v5.3h-5.3zM1147.0 523.3h5.3v5.3h-5.3zM1147.0 528.3h5.3v5.3h-5.3zM1147.0 533.2h5.3v5.3h-5.3zM1147.0 538.2h5.3v5.3h-5.3zM1147.0 543.2h5.3v5.3h-5.3zM1147.0 548.1h5.3v5.3h-5.3zM993.5 553.1h5.3v5.3h-5.3zM993.5 558.0h5.3v5.3h-5.3zM1142.1 558.0h5.3v5.3h-5.3zM1142.1 563.0h5.3v5.3h-5.3zM998.5 567.9h5.3v5.3h-5.3zM1137.1 572.9h5.3v5.3h-5.3zM1003.4 577.8h5.3v5.3h-5.3zM1008.4 582.8h5.3v5.3h-5.3zM1132.2 582.8h5.3v5.3h-5.3zM1127.2 587.7h5.3v5.3h-5.3zM1122.3 592.7h5.3v5.3h-5.3zM1023.2 597.6h5.3v5.3h-5.3zM1117.3 597.6h5.3v5.3h-5.3zM1028.2 602.6h5.3v5.3h-5.3zM1107.4 602.6h5.3v5.3h-5.3zM1038.1 607.5h5.3v5.3h-5.3zM1097.5 607.5h10.2v5.3h-10.2z"/>
<path fill="#00aaff" d="M1038.1 454.0h10.2v5.3h-10.2zM1097.5 454.0h5.3v5.3h-5.3zM1028.2 459.0h5.3v5.3h-5.3zM1107.4 459.0h5.3v5.3h-5.3zM1023.2 463.9h5.3v5.3h-5.3zM1112.4 463.9h5.3v5.3h-5.3zM1018.3 468.9h5.3v5.3h-5.3zM1013.3 473.8h5.3v5.3h-5.3zM1008.4 478.8h5.3v5.3h-5.3zM1127.2 478.8h5.3v5.3h-5.3zM1132.2 483.7h5.3v5.3h-5.3zM1003.4 488.7h5.3v5.3h-5.3zM1137.1 493.6h5.3v5.3h-5.3zM998.5 498.6h5.3v5.3h-5.3zM1142.1 503.5h5.3v5.3h-5.3zM1142.1 508.5h5.3v5.3h-5.3zM993.5 513.4h5.3v5.3h-5.3zM993.5 518.4h5.3v5.3h-5.3zM993.5 523.3h5.3v5.3h-5.3zM993.5 538.2h5.3v5.3h-5.3zM993.5 543.2h5.3v5.3h-5.3zM993.5 548.1h5.3v5.3h-5.3zM1142.1 553.1h5.3v5.3h-5.3zM998.5 563.0h5.3v5.3h-5.3zM1137.1 567.9h5.3v5.3h-5.3zM1003.4 572.9h5.3v5.3h-5.3zM1132.2 577.8h5.3v5.3h-5.3zM1127.2 582.8h5.3v5.3h-5.3zM1013.3 587.7h5.3v5.3h-5.3zM1122.3 587.7h5.3v5.3h-5.3zM1018.3 592.7h5.3v5.3h-5.3zM1117.3 592.7h5.3v5.3h-5.3zM1112.4 597.6h5.3v5.3h-5.3zM1033.1 602.6h5.3v5.3h-5.3zM1102.5 602.6h5.3v5.3h-5.3zM1043.0 607.5h5.3v5.3h-5.3zM1092.6 607.5h5.3v5.3h-5.3z"/>
<path fill="#00bfff" d="M1048.0 454.0h5.3v5.3h-5.3zM1087.6 454.0h10.2v5.3h-10.2zM1033.1 459.0h5.3v5.3h-5.3zM1102.5 459.0h5.3v5.3h-5.3zM1028.2 463.9h5.3v5.3h-5.3zM1117.3 468.9h5.3v5.3h-5.3zM1122.3 473.8h5.3v5.3h-5.3zM1008.4 483.7h5.3v5.3h-5.3zM1132.2 488.7h5.3v5.3h-5.3zM1003.4 493.6h5.3v5.3h-5.3zM1137.1 498.6h5.3v5.3h-5.3zM998.5 503.5h5.3v5.3h-5.3zM1142.1 513.4h5.3v5.3h-5.3zM1142.1 518.4h5.3v5.3h-5.3zM1142.1 523.3h5.3v5.3h-5.3zM993.5 528.3h5.3v5.3h-5.3zM1142.1 528.3h5.3v5.3h-5.3zM993.5 533.2h5.3v5.3h-5.3zM1142.1 533.2h5.3v5.3h-5.3zM1142.1 538.2h5.3v5.3h-5.3zM1142.1 543.2h5.3v5.3h-5.3zM1142.1 548.1h5.3v5.3h-5.3zM998.5 553.1h5.3v5.3h-5.3zM998.5 558.0h5.3v5.3h-5.3zM1137.1 558.0h5.3v5.3h-5.3zM1137.1 563.0h5.3v5.3h-5.3zM1003.4 567.9h5.3v5.3h-5.3zM1132.2 572.9h5.3v5.3h-5.3zM1008.4 577.8h5.3v5.3h-5.3zM1127.2 577.8h5.3v5.3h-5.3zM1013.3 582.8h5.3v5.3h-5.3zM1018.3 587.7h5.3v5.3h-5.3zM1023.2 592.7h5.3v5.3h-5.3zM1028.2 597.6h5.3v5.3h-5.3zM1107.4 597.6h5.3v5.3h-5.3zM1038.1 602.6h5.3v5.3h-5.3zM1097.5 602.6h5.3v5.3h-5.3zM1048.0 607.5h10.2v5.3h-10.2zM1082.7 607.5h10.2v5.3h-10.2z"/>
<path fill="#00d4ff" d="M1052.9 454.0h10.2v5.3h-10.2zM1077.7 454.0h10.2v5.3h-10.2zM1038.1 459.0h5.3v5.3h-5.3zM1097.5 459.0h5.3v5.3h-5.3zM1107.4 463.9h5.3v5.3h-5.3zM1023.2 468.9h5.3v5.3h-5.3zM1112.4 468.9h5.3v5.3h-5.3zM1018.3 473.8h5.3v5.3h-5.3zM1117.3 473.8h5.3v5.3h-5.3zM1013.3 478.8h5.3v5.3h-5.3zM1122.3 478.8h5.3v5.3h-5.3zM1127.2 483.7h5.3v5.3h-5.3zM1008.4 488.7h5.3v5.3h-5.3zM1132.2 493.6h5.3v5.3h-5.3zM1003.4 498.6h5.3v5.3h-5.3zM1137.1 503.5h5.3v5.3h-5.3zM998.5 508.5h5.3v5.3h-5.3zM1137.1 508.5h5.3v5.3h-5.3zM998.5 513.4h5.3v5.3h-5.3zM998.5 543.2h5.3v5.3h-5.3zM998.5 548.1h5.3v5.3h-5.3zM1137.1 553.1h5.3v5.3h-5.3zM1003.4 563.0h5.3v5.3h-5.3zM1132.2 567.9h5.3v5.3h-5.3zM1008.4 572.9h5.3v5.3h-5.3zM1122.3 582.8h5.3v5.3h-5.3zM1117.3 587.7h5.3v5.3h-5.3zM1112.4 592.7h5.3v5.3h-5.3zM1033.1 597.6h5.3v5.3h-5.3zM1102.5 597.6h5.3v5.3h-5.3zM1043.0 602.6h5.3v5.3h-5.3zM1092.6 602.6h5.3v5.3h-5.3zM1057.9 607.5h25.1v5.3h-25.1z"/>
<path fill="#00eaff" d="M1062.8 454.0h15.2v5.3h-15.2zM1043.0 459.0h10.2v5.3h-10.2zM1092.6 459.0h5.3v5.3h-5.3zM1033.1 463.9h5.3v5.3h-5.3zM1102.5 463.9h5.3v5.3h-5.3zM1028.2 468.9h5.3v5.3h-5.3zM1023.2 473.8h5.3v5.3h-5.3zM1018.3 478.8h5.3v5.3h-5.3zM1013.3 483.7h5.3v5.3h-5.3zM1127.2 488.7h5.3v5.3h-5.3zM1008.4 493.6h5.3v5.3h-5.3zM1132.2 498.6h5.3v5.3h-5.3zM1003.4 503.5h5.3v5.3h-5.3zM1137.1 513.4h5.3v5.3h-5.3zM998.5 518.4h5.3v5.3h-5.3zM1137.1 518.4h5.3v5.3h-5.3zM998.5 523.3h5.3v5.3h-5.3zM998.5 528.3h5.3v5.3h-5.3zM998.5 533.2h5.3v5.3h-5.3zM998.5 538.2h5.3v5.3h-5.3zM1137.1 543.2h5.3v5.3h-5.3zM1137.1 548.1h5.3v5.3h-5.3zM1003.4 558.0h5.3v5.3h-5.3zM1132.2 563.0h5.3v5.3h-5.3zM1008.4 567.9h5.3v5.3h-5.3zM1127.2 572.9h5.3v5.3h-5.3zM1013.3 577.8h5.3v5.3h-5.3zM1122.3 577.8h5.3v5.3h-5.3zM1018.3 582.8h5.3v5.3h-5.3zM1117.3 582.8h5.3v5.3h-5.3zM1023.2 587.7h5.3v5.3h-5.3zM1112.4 587.7h5.3v5.3h-5.3zM1028.2 592.7h5.3v5.3h-5.3zM1107.4 592.7h5.3v5.3h-5.3zM1038.1 597.6h5.3v5.3h-5.3zM1097.5 597.6h5.3v5.3h-5.3zM1048.0 602.6h10.2v5.3h-10.2zM1082.7 602.6h10.2v5.3h-10.2z"/>
<path fill="#00ffff" d="M1052.9 459.0h10.2v5.3h-10.2zM1082.7 459.0h10.2v5.3h-10.2zM1038.1 463.9h5.3v5.3h-5.3zM1097.5 463.9h5.3v5.3h-5.3zM1033.1 468.9h5.3v5.3h-5.3zM1107.4 468.9h5.3v5.3h-5.3zM1112.4 473.8h5.3v5.3h-5.3zM1117.3 478.8h5.3v5.3h-5.3zM1122.3 483.7h5.3v5.3h-5.3zM1013.3 488.7h5.3v5.3h-5.3zM1127.2 493.6h5.3v5.3h-5.3zM1132.2 503.5h5.3v5.3h-5.3zM1003.4 508.5h5.3v5.3h-5.3zM1003.4 513.4h5.3v5.3h-5.3zM1137.1 523.3h5.3v5.3h-5.3zM1137.1 528.3h5.3v5.3h-5.3zM1137.1 533.2h5.3v5.3h-5.3zM1137.1 538.2h5.3v5.3h-5.3zM1003.4 548.1h5.3v5.3h-5.3zM1003.4 553.1h5.3v5.3h-5.3zM1132.2 558.0h5.3v5.3h-5.3zM1008.4 563.0h5.3v5.3h-5.3zM1127.2 567.9h5.3v5.3h-5.3zM1013.3 572.9h5.3v5.3h-5.3zM1018.3 577.8h5.3v5.3h-5.3zM1028.2 587.7h5.3v5.3h-5.3zM1033.1 592.7h5.3v5.3h-5.3zM1102.5 592.7h5.3v5.3h-5.3zM1043.0 597.6h5.3v5.3h-5.3zM1092.6 597.6h5.3v5.3h-5.3zM1057.9 602.6h25.1v5.3h-25.1z"/>
<path fill="#00ffe7" d="M1062.8 459.0h20.1v5.3h-20.1zM1043.0 463.9h5.3v5.3h-5.3zM1092.6 463.9h5.3v5.3h-5.3zM1102.5 468.9h5.3v5.3h-5.3zM1028.2 473.8h5.3v5.3h-5.3zM1023.2 478.8h5.3v5.3h-5.3zM1018.3 483.7h5.3v5.3h-5.3zM1122.3 488.7h5.3v5.3h-5.3zM1008.4 498.6h5.3v5.3h-5.3zM1127.2 498.6h5.3v5.3h-5.3zM1132.2 508.5h5.3v5.3h-5.3zM1132.2 513.4h5.3v5.3h-5.3zM1003.4 518.4h5.3v5.3h-5.3zM1003.4 523.3h5.3v5.3h-5.3zM1003.4 528.3h5.3v5.3h-5.3zM1003.4 533.2h5.3v5.3h-5.3zM1003.4 538.2h5.3v5.3h-5.3zM1003.4 543.2h5.3v5.3h-5.3zM1132.2 548.1h5.3v5.3h-5.3zM1132.2 553.1h5.3v5.3h-5.3zM1008.4 558.0h5.3v5.3h-5.3zM1127.2 563.0h5.3v5.3h-5.3zM1013.3 567.9h5.3v5.3h-5.3zM1122.3 572.9h5.3v5.3h-5.3zM1117.3 577.8h5.3v5.3h-5.3zM1023.2 582.8h5.3v5.3h-5.3zM1112.4 582.8h5.3v5.3h-5.3zM1107.4 587.7h5.3v5.3h-5.3zM1038.1 592.7h5.3v5.3h-5.3zM1048.0 597.6h5.3v5.3h-5.3zM1087.6 597.6h5.3v5.3h-5.3z"/>
<path fill="#00ffcf" d="M1048.0 463.9h5.3v5.3h-5.3zM1087.6 463.9h5.3v5.3h-5.3zM1038.1 468.9h5.3v5.3h-5.3zM1097.5 468.9h5.3v5.3h-5.3zM1107.4 473.8h5.3v5.3h-5.3zM1112.4 478.8h5.3v5.3h-5.3zM1117.3 483.7h5.3v5.3h-5.3zM1013.3 493.6h5.3v5.3h-5.3zM1008.4 503.5h5.3v5.3h-5.3zM1132.2 518.4h5.3v5.3h-5.3zM1132.2 523.3h5.3v5.3h-5.3zM1132.2 538.2h5.3v5.3h-5.3zM1132.2 543.2h5.3v5.3h-5.3zM1008.4 553.1h5.3v5.3h-5.3zM1127.2 558.0h5.3v5.3h-5.3zM1122.3 567.9h5.3v5.3h-5.3zM1018.3 572.9h5.3v5.3h-5.3zM1023.2 577.8h5.3v5.3h-5.3zM1028.2 582.8h5.3v5.3h-5.3zM1033.1 587.7h5.3v5.3h-5.3zM1043.0 592.7h5.3v5.3h-5.3zM1097.5 592.7h5.3v5.3h-5.3zM1052.9 597.6h10.2v5.3h-10.2zM1077.7 597.6h10.2v5.3h-10.2z"/>
<path fill="#00ffb8" d="M1052.9 463.9h10.2v5.3h-10.2zM1077.7 463.9h10.2v5.3h-10.2zM1043.0 468.9h5.3v5.3h-5.3zM1033.1 473.8h5.3v5.3h-5.3zM1102.5 473.8h5.3v5.3h-5.3zM1028.2 478.8h5.3v5.3h-5.3zM1023.2 483.7h5.3v5.3h-5.3zM1018.3 488.7h5.3v5.3h-5.3zM1117.3 488.7h5.3v5.3h-5.3zM1122.3 493.6h5.3v5.3h-5.3zM1013.3 498.6h5.3v5.3h-5.3zM1127.2 503.5h5.3v5.3h-5.3zM1008.4 508.5h5.3v5.3h-5.3zM1008.4 513.4h5.3v5.3h-5.3zM1132.2 528.3h5.3v5.3h-5.3zM1132.2 533.2h5.3v5.3h-5.3zM1008.4 548.1h5.3v5.3h-5.3zM1127.2 553.1h5.3v5.3h-5.3zM1013.3 563.0h5.3v5.3h-5.3zM1117.3 572.9h5.3v5.3h-5.3zM1112.4 577.8h5.3v5.3h-5.3zM1107.4 582.8h5.3v5.3h-5.3zM1102.5 587.7h5.3v5.3h-5.3zM1048.0 592.7h5.3v5.3h-5.3zM1092.6 592.7h5.3v5.3h-5.3zM1062.8 597.6h15.2v5.3h-15.2z"/>
<path fill="#00ffa0" d="M1062.8 463.9h15.2v5.3h-15.2zM1048.0 468.9h5.3v5.3h-5.3zM1092.6 468.9h5.3v5.3h-5.3zM1038.1 473.8h5.3v5.3h-5.3zM1107.4 478.8h5.3v5.3h-5.3zM1112.4 483.7h5.3v5.3h-5.3zM1018.3 493.6h5.3v5.3h-5.3zM1122.3 498.6h5.3v5.3h-5.3zM1013.3 503.5h5.3v5.3h-5.3zM1127.2 508.5h5.3v5.3h-5.3zM1127.2 513.4h5.3v5.3h-5.3zM1008.4 518.4h5.3v5.3h-5.3zM1008.4 523.3h5.3v5.3h-5.3zM1008.4 533.2h5.3v5.3h-5.3zM1008.4 538.2h5.3v5.3h-5.3zM1008.4 543.2h5.3v5.3h-5.3zM1127.2 548.1h5.3v5.3h-5.3zM1013.3 558.0h5.3v5.3h-5.3zM1122.3 563.0h5.3v5.3h-5.3zM1018.3 567.9h5.3v5.3h-5.3zM1023.2 572.9h5.3v5.3h-5.3zM1033.1 582.8h5.3v5.3h-5.3zM1038.1 587.7h5.3v5.3h-5.3zM1097.5 587.7h5.3v5.3h-5.3zM1052.9 592.7h5.3v5.3h-5.3zM1087.6 592.7h5.3v5.3h-5.3z"/>
<path fill="#00ff88" d="M1052.9 468.9h5.3v5.3h-5.3zM1087.6 468.9h5.3v5.3h-5.3zM1097.5 473.8h5.3v5.3h-5.3zM1033.1 478.8h5.3v5.3h-5.3zM1028.2 483.7h5.3v5.3h-5.3zM1023.2 488.7h5.3v5.3h-5.3zM1117.3 493.6h5.3v5.3h-5.3zM1122.3 503.5h5.3v5.3h-5.3zM1013.3 508.5h5.3v5.3h-5.3zM1127.2 518.4h5.3v5.3h-5.3zM1127.2 523.3h5.3v5.3h-5.3zM1008.4 528.3h5.3v5.3h-5.3zM1127.2 538.2h5.3v5.3h-5.3zM1127.2 543.2h5.3v5.3h-5.3zM1013.3 553.1h5.3v5.3h-5.3zM1122.3 558.0h5.3v5.3h-5.3zM1018.3 563.0h5.3v5.3h-5.3zM1117.3 567.9h5.3v5.3h-5.3zM1112.4 572.9h5.3v5.3h-5.3zM1028.2 577.8h5.3v5.3h-5.3zM1107.4 577.8h5.3v5.3h-5.3zM1102.5 582.8h5.3v5.3h-5.3zM1043.0 587.7h5.3v5.3h-5.3zM1092.6 587.7h5.3v5.3h-5.3zM1057.9 592.7h10.2v5.3h-10.2zM1077.7 592.7h10.2v5.3h-10.2z"/>
<path fill="#00ff70" d="M1057.9 468.9h10.2v5.3h-10.2zM1077.7 468.9h10.2v5.3h-10.2zM1043.0 473.8h5.3v5.3h-5.3zM1092.6 473.8h5.3v5.3h-5.3zM1102.5 478.8h5.3v5.3h-5.3zM1107.4 483.7h5.3v5.3h-5.3zM1112.4 488.7h5.3v5.3h-5.3zM1018.3 498.6h5.3v5.3h-5.3zM1122.3 508.5h5.3v5.3h-5.3zM1013.3 513.4h5.3v5.3h-5.3zM1127.2 528.3h5.3v5.3h-5.3zM1127.2 533.2h5.3v5.3h-5.3zM1013.3 548.1h5.3v5.3h-5.3zM1122.3 553.1h5.3v5.3h-5.3zM1117.3 563.0h5.3v5.3h-5.3zM1023.2 567.9h5.3v5.3h-5.3zM1038.1 582.8h5.3v5.3h-5.3zM1048.0 587.7h5.3v5.3h-5.3zM1067.8 592.7h10.2v5.3h-10.2z"/>
<path fill="#1fff5d" d="M1067.8 468.9h10.2v5.3h-10.2zM1048.0 473.8h5.3v5.3h-5.3zM1087.6 473.8h5.3v5.3h-5.3zM1038.1 478.8h5.3v5.3h-5.3zM1097.5 478.8h5.3v5.3h-5.3zM1033.1 483.7h5.3v5.3h-5.3zM1028.2 488.7h5.3v5.3h-5.3zM1023.2 493.6h5.3v5.3h-5.3zM1117.3 498.6h5.3v5.3h-5.3zM1018.3 503.5h5.3v5.3h-5.3zM1122.3 513.4h5.3v5.3h-5.3zM1013.3 518.4h5.3v5.3h-5.3zM1013.3 523.3h5.3v5.3h-5.3zM1013.3 538.2h5.3v5.3h-5.3zM1013.3 543.2h5.3v5.3h-5.3zM1122.3 548.1h5.3v5.3h-5.3zM1018.3 558.0h5.3v5.3h-5.3zM1112.4 567.9h5.3v5.3h-5.3zM1028.2 572.9h5.3v5.3h-5.3zM1107.4 572.9h5.3v5.3h-5.3zM1033.1 577.8h5.3v5.3h-5.3zM1102.5 577.8h5.3v5.3h-5.3zM1097.5 582.8h5.3v5.3h-5.3zM1052.9 587.7h5.3v5.3h-5.3zM1087.6 587.7h5.3v5.3h-5.3z"/>
<path fill="#82ff31" d="M1052.9 473.8h5.3v5.3h-5.3zM1082.7 473.8h5.3v5.3h-5.3zM1043.0 478.8h5.3v5.3h-5.3zM1102.5 483.7h5.3v5.3h-5.3zM1107.4 488.7h5.3v5.3h-5.3zM1112.4 493.6h5.3v5.3h-5.3zM1117.3 503.5h5.3v5.3h-5.3zM1018.3 508.5h5.3v5.3h-5.3zM1122.3 518.4h5.3v5.3h-5.3zM1013.3 528.3h5.3v5.3h-5.3zM1013.3 533.2h5.3v5.3h-5.3zM1122.3 543.2h5.3v5.3h-5.3zM1018.3 553.1h5.3v5.3h-5.3zM1117.3 558.0h5.3v5.3h-5.3zM1023.2 563.0h5.3v5.3h-5.3zM1043.0 582.8h5.3v5.3h-5.3zM1092.6 582.8h5.3v5.3h-5.3zM1057.9 587.7h5.3v5.3h-5.3zM1077.7 587.7h10.2v5.3h-10.2z"/>
<path fill="#a1ff25" d="M1057.9 473.8h10.2v5.3h-10.2zM1077.7 473.8h5.3v5.3h-5.3zM1092.6 478.8h5.3v5.3h-5.3zM1038.1 483.7h5.3v5.3h-5.3zM1028.2 493.6h5.3v5.3h-5.3zM1023.2 498.6h5.3v5.3h-5.3zM1018.3 513.4h5.3v5.3h-5.3zM1122.3 523.3h5.3v5.3h-5.3zM1122.3 528.3h5.3v5.3h-5.3zM1122.3 533.2h5.3v5.3h-5.3zM1122.3 538.2h5.3v5.3h-5.3zM1018.3 548.1h5.3v5.3h-5.3zM1117.3 553.1h5.3v5.3h-5.3zM1112.4 563.0h5.3v5.3h-5.3zM1028.2 567.9h5.3v5.3h-5.3zM1033.1 572.9h5.3v5.3h-5.3zM1038.1 577.8h5.3v5.3h-5.3zM1097.5 577.8h5.3v5.3h-5.3zM1048.0 582.8h5.3v5.3h-5.3zM1087.6 582.8h5.3v5.3h-5.3zM1062.8 587.7h15.2v5.3h-15.2z"/>
<path fill="#c0ff19" d="M1067.8 473.8h10.2v5.3h-10.2zM1048.0 478.8h5.3v5.3h-5.3zM1087.6 478.8h5.3v5.3h-5.3zM1097.5 483.7h5.3v5.3h-5.3zM1033.1 488.7h5.3v5.3h-5.3zM1102.5 488.7h5.3v5.3h-5.3zM1107.4 493.6h5.3v5.3h-5.3zM1112.4 498.6h5.3v5.3h-5.3zM1023.2 503.5h5.3v5.3h-5.3zM1117.3 508.5h5.3v5.3h-5.3zM1018.3 518.4h5.3v5.3h-5.3zM1018.3 543.2h5.3v5.3h-5.3zM1117.3 548.1h5.3v5.3h-5.3zM1023.2 558.0h5.3v5.3h-5.3zM1107.4 567.9h5.3v5.3h-5.3zM1102.5 572.9h5.3v5.3h-5.3zM1043.0 577.8h5.3v5.3h-5.3zM1052.9 582.8h5.3v5.3h-5.3z"/>
<path fill="#e0ff0c" d="M1052.9 478.8h5.3v5.3h-5.3zM1082.7 478.8h5.3v5.3h-5.3zM1043.0 483.7h5.3v5.3h-5.3zM1028.2 498.6h5.3v5.3h-5.3zM1112.4 503.5h5.3v5.3h-5.3zM1023.2 508.5h5.3v5.3h-5.3zM1117.3 513.4h5.3v5.3h-5.3zM1117.3 518.4h5.3v5.3h-5.3zM1018.3 523.3h5.3v5.3h-5.3zM1018.3 528.3h5.3v5.3h-5.3zM1018.3 533.2h5.3v5.3h-5.3zM1018.3 538.2h5.3v5.3h-5.3zM1117.3 543.2h5.3v5.3h-5.3zM1023.2 553.1h5.3v5.3h-5.3zM1112.4 558.0h5.3v5.3h-5.3zM1028.2 563.0h5.3v5.3h-5.3zM1033.1 567.9h5.3v5.3h-5.3zM1038.1 572.9h5.3v5.3h-5.3zM1092.6 577.8h5.3v5.3h-5.3zM1057.9 582.8h5.3v5.3h-5.3zM1077.7 582.8h10.2v5.3h-10.2z"/>
<path fill="#ffff00" d="M1057.9 478.8h10.2v5.3h-10.2zM1072.8 478.8h10.2v5.3h-10.2zM1092.6 483.7h5.3v5.3h-5.3zM1038.1 488.7h5.3v5.3h-5.3zM1097.5 488.7h5.3v5.3h-5.3zM1033.1 493.6h5.3v5.3h-5.3zM1107.4 498.6h5.3v5.3h-5.3zM1112.4 508.5h5.3v5.3h-5.3zM1023.2 513.4h5.3v5.3h-5.3zM1117.3 523.3h5.3v5.3h-5.3zM1117.3 528.3h5.3v5.3h-5.3zM1117.3 533.2h5.3v5.3h-5.3zM1117.3 538.2h5.3v5.3h-5.3zM1023.2 548.1h5.3v5.3h-5.3zM1112.4 553.1h5.3v5.3h-5.3zM1028.2 558.0h5.3v5.3h-5.3zM1107.4 563.0h5.3v5.3h-5.3zM1102.5 567.9h5.3v5.3h-5.3zM1097.5 572.9h5.3v5.3h-5.3zM1048.0 577.8h5.3v5.3h-5.3zM1087.6 577.8h5.3v5.3h-5.3zM1062.8 582.8h15.2v5.3h-15.2z"/>
<path fill="#ffea00" d="M1067.8 478.8h5.3v5.3h-5.3zM1048.0 483.7h5.3v5.3h-5.3zM1087.6 483.7h5.3v5.3h-5.3zM1043.0 488.7h5.3v5.3h-5.3zM1102.5 493.6h5.3v5.3h-5.3zM1028.2 503.5h5.3v5.3h-5.3zM1112.4 513.4h5.3v5.3h-5.3zM1023.2 518.4h5.3v5.3h-5.3zM1023.2 543.2h5.3v5.3h-5.3zM1112.4 548.1h5.3v5.3h-5.3zM1107.4 558.0h5.3v5.3h-5.3zM1033.1 563.0h5.3v5.3h-5.3zM1038.1 567.9h5.3v5.3h-5.3zM1043.0 572.9h5.3v5.3h-5.3zM1092.6 572.9h5.3v5.3h-5.3zM1052.9 577.8h5.3v5.3h-5.3zM1082.7 577.8h5.3v5.3h-5.3z"/>
<path fill="#ffd400" d="M1052.9 483.7h10.2v5.3h-10.2zM1082.7 483.7h5.3v5.3h-5.3zM1092.6 488.7h5.3v5.3h-5.3zM1038.1 493.6h5.3v5.3h-5.3zM1097.5 493.6h5.3v5.3h-5.3zM1033.1 498.6h5.3v5.3h-5.3zM1102.5 498.6h5.3v5.3h-5.3zM1107.4 503.5h5.3v5.3h-5.3zM1028.2 508.5h5.3v5.3h-5.3zM1112.4 518.4h5.3v5.3h-5.3zM1023.2 523.3h5.3v5.3h-5.3zM1023.2 528.3h5.3v5.3h-5.3zM1023.2 533.2h5.3v5.3h-5.3zM1023.2 538.2h5.3v5.3h-5.3zM1112.4 543.2h5.3v5.3h-5.3zM1028.2 553.1h5.3v5.3h-5.3zM1102.5 563.0h5.3v5.3h-5.3zM1097.5 567.9h5.3v5.3h-5.3zM1048.0 572.9h5.3v5.3h-5.3zM1057.9 577.8h25.1v5.3h-25.1z"/>
<path fill="#ffbf00" d="M1062.8 483.7h20.1v5.3h-20.1zM1048.0 488.7h5.3v5.3h-5.3zM1087.6 488.7h5.3v5.3h-5.3zM1033.1 503.5h5.3v5.3h-5.3zM1107.4 508.5h5.3v5.3h-5.3zM1028.2 513.4h5.3v5.3h-5.3zM1112.4 523.3h5.3v5.3h-5.3zM1112.4 528.3h5.3v5.3h-5.3zM1112.4 533.2h5.3v5.3h-5.3zM1112.4 538.2h5.3v5.3h-5.3zM1028.2 548.1h5.3v5.3h-5.3zM1107.4 553.1h5.3v5.3h-5.3zM1033.1 558.0h5.3v5.3h-5.3zM1102.5 558.0h5.3v5.3h-5.3zM1038.1 563.0h5.3v5.3h-5.3zM1043.0 567.9h5.3v5.3h-5.3zM1052.9 572.9h5.3v5.3h-5.3zM1087.6 572.9h5.3v5.3h-5.3z"/>
<path fill="#ffaa00" d="M1052.9 488.7h5.3v5.3h-5.3zM1082.7 488.7h5.3v5.3h-5.3zM1043.0 493.6h5.3v5.3h-5.3zM1092.6 493.6h5.3v5.3h-5.3zM1038.1 498.6h5.3v5.3h-5.3zM1097.5 498.6h5.3v5.3h-5.3zM1102.5 503.5h5.3v5.3h-5.3zM1107.4 513.4h5.3v5.3h-5.3zM1028.2 518.4h5.3v5.3h-5.3zM1028.2 523.3h5.3v5.3h-5.3zM1028.2 538.2h5.3v5.3h-5.3zM1028.2 543.2h5.3v5.3h-5.3zM1107.4 548.1h5.3v5.3h-5.3zM1033.1 553.1h5.3v5.3h-5.3zM1097.5 563.0h5.3v5.3h-5.3zM1048.0 567.9h5.3v5.3h-5.3zM1092.6 567.9h5.3v5.3h-5.3zM1057.9 572.9h5.3v5.3h-5.3zM1077.7 572.9h10.2v5.3h-10.2z"/>
<path fill="#ff9500" d="M1057.9 488.7h5.3v5.3h-5.3zM1077.7 488.7h5.3v5.3h-5.3zM1048.0 493.6h5.3v5.3h-5.3zM1038.1 503.5h5.3v5.3h-5.3zM1033.1 508.5h5.3v5.3h-5.3zM1102.5 508.5h5.3v5.3h-5.3zM1107.4 518.4h5.3v5.3h-5.3zM1107.4 523.3h5.3v5.3h-5.3zM1028.2 528.3h5.3v5.3h-5.3zM1028.2 533.2h5.3v5.3h-5.3zM1107.4 538.2h5.3v5.3h-5.3zM1107.4 543.2h5.3v5.3h-5.3zM1033.1 548.1h5.3v5.3h-5.3zM1102.5 553.1h5.3v5.3h-5.3zM1038.1 558.0h5.3v5.3h-5.3zM1043.0 563.0h5.3v5.3h-5.3zM1087.6 567.9h5.3v5.3h-5.3zM1062.8 572.9h15.2v5.3h-15.2z"/>
<path fill="#ff8000" d="M1062.8 488.7h15.2v5.3h-15.2zM1052.9 493.6h5.3v5.3h-5.3zM1087.6 493.6h5.3v5.3h-5.3zM1043.0 498.6h5.3v5.3h-5.3zM1092.6 498.6h5.3v5.3h-5.3zM1097.5 503.5h5.3v5.3h-5.3zM1033.1 513.4h5.3v5.3h-5.3zM1033.1 518.4h5.3v5.3h-5.3zM1107.4 528.3h5.3v5.3h-5.3zM1107.4 533.2h5.3v5.3h-5.3zM1033.1 543.2h5.3v5.3h-5.3zM1102.5 548.1h5.3v5.3h-5.3zM1038.1 553.1h5.3v5.3h-5.3zM1097.5 558.0h5.3v5.3h-5.3zM1092.6 563.0h5.3v5.3h-5.3zM1052.9 567.9h5.3v5.3h-5.3zM1082.7 567.9h5.3v5.3h-5.3z"/>
<path fill="#ff6a00" d="M1057.9 493.6h5.3v5.3h-5.3zM1082.7 493.6h5.3v5.3h-5.3zM1048.0 498.6h5.3v5.3h-5.3zM1043.0 503.5h5.3v5.3h-5.3zM1038.1 508.5h5.3v5.3h-5.3zM1102.5 513.4h5.3v5.3h-5.3zM1102.5 518.4h5.3v5.3h-5.3zM1033.1 523.3h5.3v5.3h-5.3zM1033.1 528.3h5.3v5.3h-5.3zM1033.1 533.2h5.3v5.3h-5.3zM1033.1 538.2h5.3v5.3h-5.3zM1102.5 543.2h5.3v5.3h-5.3zM1097.5 553.1h5.3v5.3h-5.3zM1043.0 558.0h5.3v5.3h-5.3zM1092.6 558.0h5.3v5.3h-5.3zM1048.0 563.0h5.3v5.3h-5.3zM1087.6 563.0h5.3v5.3h-5.3zM1057.9 567.9h25.1v5.3h-25.1z"/>
<path fill="#ff5500" d="M1062.8 493.6h20.1v5.3h-20.1zM1087.6 498.6h5.3v5.3h-5.3zM1092.6 503.5h5.3v5.3h-5.3zM1097.5 508.5h5.3v5.3h-5.3zM1038.1 513.4h5.3v5.3h-5.3zM1102.5 523.3h5.3v5.3h-5.3zM1102.5 528.3h5.3v5.3h-5.3zM1102.5 533.2h5.3v5.3h-5.3zM1102.5 538.2h5.3v5.3h-5.3zM1038.1 548.1h5.3v5.3h-5.3zM1097.5 548.1h5.3v5.3h-5.3zM1043.0 553.1h5.3v5.3h-5.3zM1048.0 558.0h5.3v5.3h-5.3zM1052.9 563.0h5.3v5.3h-5.3zM1082.7 563.0h5.3v5.3h-5.3z"/>
<path fill="#ff4000" d="M1052.9 498.6h5.3v5.3h-5.3zM1082.7 498.6h5.3v5.3h-5.3zM1048.0 503.5h5.3v5.3h-5.3zM1043.0 508.5h5.3v5.3h-5.3zM1097.5 513.4h5.3v5.3h-5.3zM1038.1 518.4h5.3v5.3h-5.3zM1038.1 538.2h5.3v5.3h-5.3zM1038.1 543.2h5.3v5.3h-5.3zM1092.6 553.1h5.3v5.3h-5.3zM1087.6 558.0h5.3v5.3h-5.3zM1057.9 563.0h5.3v5.3h-5.3zM1077.7 563.0h5.3v5.3h-5.3z"/>
<path fill="#ff2a00" d="M1057.9 498.6h25.1v5.3h-25.1zM1052.9 503.5h5.3v5.3h-5.3zM1087.6 503.5h5.3v5.3h-5.3zM1092.6 508.5h5.3v5.3h-5.3zM1043.0 513.4h5.3v5.3h-5.3zM1097.5 518.4h5.3v5.3h-5.3zM1038.1 523.3h5.3v5.3h-5.3zM1097.5 523.3h5.3v5.3h-5.3zM1038.1 528.3h5.3v5.3h-5.3zM1038.1 533.2h5.3v5.3h-5.3zM1097.5 538.2h5.3v5.3h-5.3zM1097.5 543.2h5.3v5.3h-5.3zM1043.0 548.1h5.3v5.3h-5.3zM1092.6 548.1h5.3v5.3h-5.3zM1048.0 553.1h5.3v5.3h-5.3zM1052.9 558.0h5.3v5.3h-5.3zM1082.7 558.0h5.3v5.3h-5.3zM1062.8 563.0h15.2v5.3h-15.2z"/>
<path fill="#ff1500" d="M1057.9 503.5h5.3v5.3h-5.3zM1077.7 503.5h10.2v5.3h-10.2zM1048.0 508.5h5.3v5.3h-5.3zM1087.6 508.5h5.3v5.3h-5.3zM1092.6 513.4h5.3v5.3h-5.3zM1043.0 518.4h5.3v5.3h-5.3zM1092.6 518.4h5.3v5.3h-5.3zM1043.0 523.3h5.3v5.3h-5.3zM1097.5 528.3h5.3v5.3h-5.3zM1097.5 533.2h5.3v5.3h-5.3zM1043.0 538.2h5.3v5.3h-5.3zM1043.0 543.2h5.3v5.3h-5.3zM1092.6 543.2h5.3v5.3h-5.3zM1048.0 548.1h5.3v5.3h-5.3zM1052.9 553.1h5.3v5.3h-5.3zM1087.6 553.1h5.3v5.3h-5.3zM1057.9 558.0h25.1v5.3h-25.1z"/>
<path fill="#ff0000" d="M1062.8 503.5h15.2v5.3h-15.2zM1052.9 508.5h5.3v5.3h-5.3zM1082.7 508.5h5.3v5.3h-5.3zM1048.0 513.4h5.3v5.3h-5.3zM1087.6 513.4h5.3v5.3h-5.3zM1048.0 518.4h5.3v5.3h-5.3zM1092.6 523.3h5.3v5.3h-5.3zM1043.0 528.3h5.3v5.3h-5.3zM1092.6 528.3h5.3v5.3h-5.3zM1043.0 533.2h5.3v5.3h-5.3zM1092.6 533.2h5.3v5.3h-5.3zM1092.6 538.2h5.3v5.3h-5.3zM1048.0 543.2h5.3v5.3h-5.3zM1087.6 548.1h5.3v5.3h-5.3zM1057.9 553.1h5.3v5.3h-5.3zM1077.7 553.1h10.2v5.3h-10.2z"/>
<path fill="#eb0000" d="M1057.9 508.5h10.2v5.3h-10.2zM1072.8 508.5h10.2v5.3h-10.2zM1052.9 513.4h5.3v5.3h-5.3zM1082.7 513.4h5.3v5.3h-5.3zM1087.6 518.4h5.3v5.3h-5.3zM1048.0 523.3h5.3v5.3h-5.3zM1048.0 528.3h5.3v5.3h-5.3zM1048.0 533.2h5.3v5.3h-5.3zM1048.0 538.2h5.3v5.3h-5.3zM1087.6 538.2h5.3v5.3h-5.3zM1087.6 543.2h5.3v5.3h-5.3zM1052.9 548.1h5.3v5.3h-5.3zM1082.7 548.1h5.3v5.3h-5.3zM1062.8 553.1h15.2v5.3h-15.2z"/>
<path fill="#d70000" d="M1067.8 508.5h5.3v5.3h-5.3zM1057.9 513.4h5.3v5.3h-5.3zM1077.7 513.4h5.3v5.3h-5.3zM1052.9 518.4h5.3v5.3h-5.3zM1082.7 518.4h5.3v5.3h-5.3zM1087.6 523.3h5.3v5.3h-5.3zM1087.6 528.3h5.3v5.3h-5.3zM1087.6 533.2h5.3v5.3h-5.3zM1052.9 538.2h5.3v5.3h-5.3zM1052.9 543.2h5.3v5.3h-5.3zM1082.7 543.2h5.3v5.3h-5.3zM1057.9 548.1h10.2v5.3h-10.2zM1072.8 548.1h10.2v5.3h-10.2z"/>
<path fill="#c40000" d="M1062.8 513.4h15.2v5.3h-15.2zM1057.9 518.4h5.3v5.3h-5.3zM1052.9 523.3h5.3v5.3h-5.3zM1082.7 523.3h5.3v5.3h-5.3zM1052.9 528.3h5.3v5.3h-5.3zM1052.9 533.2h5.3v5.3h-5.3zM1082.7 533.2h5.3v5.3h-5.3zM1082.7 538.2h5.3v5.3h-5.3zM1057.9 543.2h5.3v5.3h-5.3zM1077.7 543.2h5.3v5.3h-5.3zM1067.8 548.1h5.3v5.3h-5.3z"/>
<path fill="#b00000" d="M1062.8 518.4h5.3v5.3h-5.3zM1072.8 518.4h10.2v5.3h-10.2zM1057.9 523.3h5.3v5.3h-5.3zM1082.7 528.3h5.3v5.3h-5.3zM1057.9 533.2h5.3v5.3h-5.3zM1057.9 538.2h5.3v5.3h-5.3zM1077.7 538.2h5.3v5.3h-5.3zM1062.8 543.2h15.2v5.3h-15.2z"/>
<path fill="#9c0000" d="M1067.8 518.4h5.3v5.3h-5.3zM1062.8 523.3h5.3v5.3h-5.3zM1077.7 523.3h5.3v5.3h-5.3zM1057.9 528.3h5.3v5.3h-5.3zM1077.7 528.3h5.3v5.3h-5.3zM1077.7 533.2h5.3v5.3h-5.3zM1062.8 538.2h5.3v5.3h-5.3zM1072.8 538.2h5.3v5.3h-5.3z"/>
<path fill="#880000" d="M1067.8 523.3h10.2v5.3h-10.2zM1062.8 528.3h15.2v5.3h-15.2zM1062.8 533.2h15.2v5.3h-15.2zM1067.8 538.2h5.3v5.3h-5.3z"/>
<rect x="993.5" y="454" width="158.5" height="158.5" fill="none" stroke="#000" stroke-width="1.3"/>
<path d="M1033.1 454v3M1033.1 612.5v-3M993.5 493.6h3M1152 493.6h-3M1072.8 454v3M1072.8 612.5v-3M993.5 533.2h3M1152 533.2h-3M1112.4 454v3M1112.4 612.5v-3M993.5 572.9h3M1152 572.9h-3" stroke="#000" stroke-width="1.1" fill="none"/>
<path fill="#0015ff" d="M993.5 697.5h5.3v5.3h-5.3zM1142.1 697.5h10.2v5.3h-10.2zM1147.0 851.0h5.3v5.3h-5.3z"/>
<path fill="#002aff" d="M998.5 697.5h5.3v5.3h-5.3zM1137.1 697.5h5.3v5.3h-5.3zM993.5 702.5h5.3v5.3h-5.3zM1142.1 702.5h10.2v5.3h-10.2zM1147.0 707.4h5.3v5.3h-5.3zM1147.0 846.1h5.3v5.3h-5.3zM993.5 851.0h10.2v5.3h-10.2zM1142.1 851.0h5.3v5.3h-5.3z"/>
<path fill="#0040ff" d="M1003.4 697.5h10.2v5.3h-10.2zM1127.2 697.5h10.2v5.3h-10.2zM998.5 702.5h10.2v5.3h-10.2zM1137.1 702.5h5.3v5.3h-5.3zM993.5 707.4h5.3v5.3h-5.3zM1142.1 707.4h5.3v5.3h-5.3zM1147.0 712.4h5.3v5.3h-5.3zM993.5 841.1h5.3v5.3h-5.3zM1147.0 841.1h5.3v5.3h-5.3zM993.5 846.1h10.2v5.3h-10.2zM1142.1 846.1h5.3v5.3h-5.3zM1003.4 851.0h5.3v5.3h-5.3zM1132.2 851.0h10.2v5.3h-10.2z"/>
<path fill="#0055ff" d="M1013.3 697.5h5.3v5.3h-5.3zM1122.3 697.5h5.3v5.3h-5.3zM1008.4 702.5h5.3v5.3h-5.3zM1132.2 702.5h5.3v5.3h-5.3zM998.5 707.4h10.2v5.3h-10.2zM1137.1 707.4h5.3v5.3h-5.3zM993.5 712.4h5.3v5.3h-5.3zM1142.1 712.4h5.3v5.3h-5.3zM993.5 717.3h5.3v5.3h-5.3zM1147.0 717.3h5.3v5.3h-5.3zM1147.0 831.2h5.3v5.3h-5.3zM993.5 836.2h5.3v5.3h-5.3zM1142.1 836.2h10.2v5.3h-10.2zM998.5 841.1h5.3v5.3h-5.3zM1137.1 841.1h10.2v5.3h-10.2zM1003.4 846.1h5.3v5.3h-5.3zM1132.2 846.1h10.2v5.3h-10.2zM1008.4 851.0h5.3v5.3h-5.3zM1127.2 851.0h5.3v5.3h-5.3z"/>
<path fill="#006aff" d="M1018.3 697.5h10.2v5.3h-10.2zM1112.4 697.5h10.2v5.3h-10.2zM1013.3 702.5h5.3v5.3h-5.3zM1122.3 702.5h10.2v5.3h-10.2zM1008.4 707.4h5.3v5.3h-5.3zM1132.2 707.4h5.3v5.3h-5.3zM998.5 712.4h10.2v5.3h-10.2zM1137.1 712.4h5.3v5.3h-5.3zM998.5 717.3h5.3v5.3h-5.3zM1142.1 717.3h5.3v5.3h-5.3zM993.5 722.3h5.3v5.3h-5.3zM1147.0 722.3h5.3v5.3h-5.3zM1147.0 727.2h5.3v5.3h-5.3zM1147.0 826.3h5.3v5.3h-5.3zM993.5 831.2h5.3v5.3h-5.3zM1142.1 831.2h5.3v5.3h-5.3zM998.5 836.2h5.3v5.3h-5.3zM1137.1 836.2h5.3v5.3h-5.3zM1003.4 841.1h5.3v5.3h-5.3zM1132.2 841.1h5.3v5.3h-5.3zM1008.4 846.1h5.3v5.3h-5.3zM1127.2 846.1h5.3v5.3h-5.3zM1013.3 851.0h10.2v5.3h-10.2zM1122.3 851.0h5.3v5.3h-5.3z"/>
<path fill="#0080ff" d="M1028.2 697.5h10.2v5.3h-10.2zM1107.4 697.5h5.3v5.3h-5.3zM1018.3 702.5h10.2v5.3h-10.2zM1117.3 702.5h5.3v5.3h-5.3zM1013.3 707.4h5.3v5.3h-5.3zM1122.3 707.4h10.2v5.3h-10.2zM1008.4 712.4h5.3v5.3h-5.3zM1132.2 712.4h5.3v5.3h-5.3zM1003.4 717.3h5.3v5.3h-5.3zM1137.1 717.3h5.3v5.3h-5.3zM998.5 722.3h5.3v5.3h-5.3zM1142.1 722.3h5.3v5.3h-5.3zM993.5 727.2h5.3v5.3h-5.3zM1142.1 727.2h5.3v5.3h-5.3zM1147.0 732.2h5.3v5.3h-5.3zM1147.0 821.3h5.3v5.3h-5.3zM993.5 826.3h5.3v5.3h-5.3zM1142.1 826.3h5.3v5.3h-5.3zM998.5 831.2h5.3v5.3h-5.3zM1137.1 831.2h5.3v5.3h-5.3zM1003.4 836.2h5.3v5.3h-5.3zM1132.2 836.2h5.3v5.3h-5.3zM1008.4 841.1h5.3v5.3h-5.3zM1127.2 841.1h5.3v5.3h-5.3zM1013.3 846.1h10.2v5.3h-10.2zM1122.3 846.1h5.3v5.3h-5.3zM1023.2 851.0h5.3v5.3h-5.3zM1112.4 851.0h10.2v5.3h-10.2z"/>
<path fill="#0095ff" d="M1038.1 697.5h10.2v5.3h-10.2zM1092.6 697.5h15.2v5.3h-15.2zM1028.2 702.5h5.3v5.3h-5.3zM1107.4 702.5h10.2v5.3h-10.2zM1018.3 707.4h5.3v5.3h-5.3zM1117.3 707.4h5.3v5.3h-5.3zM1013.3 712.4h5.3v5.3h-5.3zM1122.3 712.4h10.2v5.3h-10.2zM1008.4 717.3h5.3v5.3h-5.3zM1132.2 717.3h5.3v5.3h-5.3zM1003.4 722.3h5.3v5.3h-5.3zM1137.1 722.3h5.3v5.3h-5.3zM998.5 727.2h5.3v5.3h-5.3zM993.5 732.2h5.3v5.3h-5.3zM1142.1 732.2h5.3v5.3h-5.3zM993.5 737.1h5.3v5.3h-5.3zM1147.0 737.1h5.3v5.3h-5.3zM1147.0 742.1h5.3v5.3h-5.3zM1147.0 811.4h5.3v5.3h-5.3zM993.5 816.4h5.3v5.3h-5.3zM1147.0 816.4h5.3v5.3h-5.3zM993.5 821.3h5.3v5.3h-5.3zM1142.1 821.3h5.3v5.3h-5.3zM998.5 826.3h5.3v5.3h-5.3zM1137.1 826.3h5.3v5.3h-5.3zM1003.4 831.2h5.3v5.3h-5.3zM1132.2 831.2h5.3v5.3h-5.3zM1008.4 836.2h5.3v5.3h-5.3zM1127.2 836.2h5.3v5.3h-5.3zM1013.3 841.1h5.3v5.3h-5.3zM1122.3 841.1h5.3v5.3h-5.3zM1023.2 846.1h5.3v5.3h-5.3zM1112.4 846.1h10.2v5.3h-10.2zM1028.2 851.0h10.2v5.3h-10.2zM1102.5 851.0h10.2v5.3h-10.2z"/>
<path fill="#00aaff" d="M1048.0 697.5h44.9v5.3h-44.9zM1033.1 702.5h10.2v5.3h-10.2zM1097.5 702.5h10.2v5.3h-10.2zM1023.2 707.4h10.2v5.3h-10.2zM1107.4 707.4h10.2v5.3h-10.2zM1018.3 712.4h5.3v5.3h-5.3zM1117.3 712.4h5.3v5.3h-5.3zM1013.3 717.3h5.3v5.3h-5.3zM1122.3 717.3h10.2v5.3h-10.2zM1008.4 722.3h5.3v5.3h-5.3zM1132.2 722.3h5.3v5.3h-5.3zM1003.4 727.2h5.3v5.3h-5.3zM1132.2 727.2h10.2v5.3h-10.2zM998.5 732.2h5.3v5.3h-5.3zM1137.1 732.2h5.3v5.3h-5.3zM1142.1 737.1h5.3v5.3h-5.3zM993.5 742.1h5.3v5.3h-5.3zM1142.1 742.1h5.3v5.3h-5.3zM1147.0 747.0h5.3v5.3h-5.3zM1147.0 752.0h5.3v5.3h-5.3zM1147.0 801.5h5.3v5.3h-5.3zM993.5 806.5h5.3v5.3h-5.3zM1147.0 806.5h5.3v5.3h-5.3zM993.5 811.4h5.3v5.3h-5.3zM1142.1 811.4h5.3v5.3h-5.3zM998.5 816.4h5.3v5.3h-5.3zM1142.1 816.4h5.3v5.3h-5.3zM998.5 821.3h5.3v5.3h-5.3zM1137.1 821.3h5.3v5.3h-5.3zM1003.4 826.3h5.3v5.3h-5.3zM1132.2 826.3h5.3v5.3h-5.3zM1008.4 831.2h5.3v5.3h-5.3zM1127.2 831.2h5.3v5.3h-5.3zM1013.3 836.2h5.3v5.3h-5.3zM1122.3 836.2h5.3v5.3h-5.3zM1018.3 841.1h10.2v5.3h-10.2zM1117.3 841.1h5.3v5.3h-5.3zM1028.2 846.1h10.2v5.3h-10.2zM1107.4 846.1h5.3v5.3h-5.3zM1038.1 851.0h15.2v5.3h-15.2zM1092.6 851.0h10.2v5.3h-10.2z"/>
<path fill="#00bfff" d="M1043.0 702.5h20.1v5.3h-20.1zM1077.7 702.5h20.1v5.3h-20.1zM1033.1 707.4h10.2v5.3h-10.2zM1097.5 707.4h10.2v5.3h-10.2zM1023.2 712.4h10.2v5.3h-10.2zM1112.4 712.4h5.3v5.3h-5.3zM1018.3 717.3h5.3v5.3h-5.3zM1117.3 717.3h5.3v5.3h-5.3zM1013.3 722.3h5.3v5.3h-5.3zM1122.3 722.3h10.2v5.3h-10.2zM1008.4 727.2h5.3v5.3h-5.3zM1127.2 727.2h5.3v5.3h-5.3zM1003.4 732.2h5.3v5.3h-5.3zM1132.2 732.2h5.3v5.3h-5.3zM998.5 737.1h5.3v5.3h-5.3zM1137.1 737.1h5.3v5.3h-5.3zM998.5 742.1h5.3v5.3h-5.3zM993.5 747.0h5.3v5.3h-5.3zM1142.1 747.0h5.3v5.3h-5.3zM993.5 752.0h5.3v5.3h-5.3zM1142.1 752.0h5.3v5.3h-5.3zM993.5 756.9h5.3v5.3h-5.3zM1147.0 756.9h5.3v5.3h-5.3zM1147.0 761.9h5.3v5.3h-5.3zM1147.0 766.8h5.3v5.3h-5.3zM1147.0 771.8h5.3v5.3h-5.3zM1147.0 776.8h5.3v5.3h-5.3zM1147.0 781.7h5.3v5.3h-5.3zM1147.0 786.7h5.3v5.3h-5.3zM1147.0 791.6h5.3v5.3h-5.3zM993.5 796.6h5.3v5.3h-5.3zM1147.0 796.6h5.3v5.3h-5.3zM993.5 801.5h5.3v5.3h-5.3zM1142.1 801.5h5.3v5.3h-5.3zM1142.1 806.5h5.3v5.3h-5.3zM998.5 811.4h5.3v5.3h-5.3zM1137.1 811.4h5.3v5.3h-5.3zM1003.4 816.4h5.3v5.3h-5.3zM1137.1 816.4h5.3v5.3h-5.3zM1003.4 821.3h5.3v5.3h-5.3zM1132.2 821.3h5.3v5.3h-5.3zM1008.4 826.3h5.3v5.3h-5.3zM1127.2 826.3h5.3v5.3h-5.3zM1013.3 831.2h5.3v5.3h-5.3zM1122.3 831.2h5.3v5.3h-5.3zM1018.3 836.2h10.2v5.3h-10.2zM1117.3 836.2h5.3v5.3h-5.3zM1028.2 841.1h5.3v5.3h-5.3zM1107.4 841.1h10.2v5.3h-10.2zM1038.1 846.1h10.2v5.3h-10.2zM1092.6 846.1h15.2v5.3h-15.2zM1052.9 851.0h39.9v5.3h-39.9z"/>
<path fill="#00d4ff" d="M1062.8 702.5h15.2v5.3h-15.2zM1043.0 707.4h15.2v5.3h-15.2zM1087.6 707.4h10.2v5.3h-10.2zM1033.1 712.4h10.2v5.3h-10.2zM1102.5 712.4h10.2v5.3h-10.2zM1023.2 717.3h10.2v5.3h-10.2zM1112.4 717.3h5.3v5.3h-5.3zM1018.3 722.3h5.3v5.3h-5.3zM1117.3 722.3h5.3v5.3h-5.3zM1013.3 727.2h5.3v5.3h-5.3zM1122.3 727.2h5.3v5.3h-5.3zM1008.4 732.2h5.3v5.3h-5.3zM1127.2 732.2h5.3v5.3h-5.3zM1003.4 737.1h5.3v5.3h-5.3zM1132.2 737.1h5.3v5.3h-5.3zM1003.4 742.1h5.3v5.3h-5.3zM1137.1 742.1h5.3v5.3h-5.3zM998.5 747.0h5.3v5.3h-5.3zM1137.1 747.0h5.3v5.3h-5.3zM998.5 752.0h5.3v5.3h-5.3zM1142.1 756.9h5.3v5.3h-5.3zM993.5 761.9h5.3v5.3h-5.3zM1142.1 761.9h5.3v5.3h-5.3zM993.5 766.8h5.3v5.3h-5.3zM1142.1 766.8h5.3v5.3h-5.3zM993.5 771.8h5.3v5.3h-5.3zM1142.1 771.8h5.3v5.3h-5.3zM993.5 776.8h5.3v5.3h-5.3zM1142.1 776.8h5.3v5.3h-5.3zM993.5 781.7h5.3v5.3h-5.3zM1142.1 781.7h5.3v5.3h-5.3zM993.5 786.7h5.3v5.3h-5.3zM1142.1 786.7h5.3v5.3h-5.3zM993.5 791.6h5.3v5.3h-5.3zM1142.1 791.6h5.3v5.3h-5.3zM998.5 796.6h5.3v5.3h-5.3zM1142.1 796.6h5.3v5.3h-5.3zM998.5 801.5h5.3v5.3h-5.3zM1137.1 801.5h5.3v5.3h-5.3zM998.5 806.5h5.3v5.3h-5.3zM1137.1 806.5h5.3v5.3h-5.3zM1003.4 811.4h5.3v5.3h-5.3zM1132.2 811.4h5.3v5.3h-5.3zM1008.4 816.4h5.3v5.3h-5.3zM1132.2 816.4h5.3v5.3h-5.3zM1008.4 821.3h5.3v5.3h-5.3zM1127.2 821.3h5.3v5.3h-5.3zM1013.3 826.3h5.3v5.3h-5.3zM1122.3 826.3h5.3v5.3h-5.3zM1018.3 831.2h10.2v5.3h-10.2zM1117.3 831.2h5.3v5.3h-5.3zM1028.2 836.2h5.3v5.3h-5.3zM1107.4 836.2h10.2v5.3h-10.2zM1033.1 841.1h10.2v5.3h-10.2zM1097.5 841.1h10.2v5.3h-10.2zM1048.0 846.1h44.9v5.3h-44.9z"/>
<path fill="#00eaff" d="M1057.9 707.4h30.0v5.3h-30.0zM1043.0 712.4h15.2v5.3h-15.2zM1087.6 712.4h15.2v5.3h-15.2zM1033.1 717.3h10.2v5.3h-10.2zM1102.5 717.3h10.2v5.3h-10.2zM1023.2 722.3h10.2v5.3h-10.2zM1112.4 722.3h5.3v5.3h-5.3zM1018.3 727.2h5.3v5.3h-5.3zM1117.3 727.2h5.3v5.3h-5.3zM1013.3 732.2h5.3v5.3h-5.3zM1122.3 732.2h5.3v5.3h-5.3zM1008.4 737.1h10.2v5.3h-10.2zM1127.2 737.1h5.3v5.3h-5.3zM1008.4 742.1h5.3v5.3h-5.3zM1132.2 742.1h5.3v5.3h-5.3zM1003.4 747.0h5.3v5.3h-5.3zM1132.2 747.0h5.3v5.3h-5.3zM1003.4 752.0h5.3v5.3h-5.3zM1137.1 752.0h5.3v5.3h-5.3zM998.5 756.9h5.3v5.3h-5.3zM1137.1 756.9h5.3v5.3h-5.3zM998.5 761.9h5.3v5.3h-5.3zM1137.1 761.9h5.3v5.3h-5.3zM998.5 766.8h5.3v5.3h-5.3zM1137.1 766.8h5.3v5.3h-5.3zM998.5 771.8h5.3v5.3h-5.3zM1137.1 771.8h5.3v5.3h-5.3zM998.5 776.8h5.3v5.3h-5.3zM998.5 781.7h5.3v5.3h-5.3zM1137.1 781.7h5.3v5.3h-5.3zM998.5 786.7h5.3v5.3h-5.3zM1137.1 786.7h5.3v5.3h-5.3zM998.5 791.6h5.3v5.3h-5.3zM1137.1 791.6h5.3v5.3h-5.3zM1003.4 796.6h5.3v5.3h-5.3zM1137.1 796.6h5.3v5.3h-5.3zM1003.4 801.5h5.3v5.3h-5.3zM1132.2 801.5h5.3v5.3h-5.3zM1003.4 806.5h5.3v5.3h-5.3zM1132.2 806.5h5.3v5.3h-5.3zM1008.4 811.4h5.3v5.3h-5.3zM1127.2 811.4h5.3v5.3h-5.3zM1013.3 816.4h5.3v5.3h-5.3zM1127.2 816.4h5.3v5.3h-5.3zM1013.3 821.3h10.2v5.3h-10.2zM1122.3 821.3h5.3v5.3h-5.3zM1018.3 826.3h10.2v5.3h-10.2zM1112.4 826.3h10.2v5.3h-10.2zM1028.2 831.2h5.3v5.3h-5.3zM1107.4 831.2h10.2v5.3h-10.2zM1033.1 836.2h10.2v5.3h-10.2zM1097.5 836.2h10.2v5.3h-10.2zM1043.0 841.1h54.8v5.3h-54.8z"/>
<path fill="#00ffff" d="M1057.9 712.4h30.0v5.3h-30.0zM1043.0 717.3h15.2v5.3h-15.2zM1087.6 717.3h15.2v5.3h-15.2zM1033.1 722.3h10.2v5.3h-10.2zM1097.5 722.3h15.2v5.3h-15.2zM1023.2 727.2h10.2v5.3h-10.2zM1107.4 727.2h10.2v5.3h-10.2zM1018.3 732.2h10.2v5.3h-10.2zM1112.4 732.2h10.2v5.3h-10.2zM1018.3 737.1h5.3v5.3h-5.3zM1117.3 737.1h10.2v5.3h-10.2zM1013.3 742.1h5.3v5.3h-5.3zM1122.3 742.1h10.2v5.3h-10.2zM1008.4 747.0h5.3v5.3h-5.3zM1127.2 747.0h5.3v5.3h-5.3zM1008.4 752.0h5.3v5.3h-5.3zM1127.2 752.0h10.2v5.3h-10.2zM1003.4 756.9h10.2v5.3h-10.2zM1132.2 756.9h5.3v5.3h-5.3zM1003.4 761.9h5.3v5.3h-5.3zM1132.2 761.9h5.3v5.3h-5.3zM1003.4 766.8h5.3v5.3h-5.3zM1132.2 766.8h5.3v5.3h-5.3zM1003.4 771.8h5.3v5.3h-5.3zM1132.2 771.8h5.3v5.3h-5.3zM1003.4 776.8h5.3v5.3h-5.3zM1132.2 776.8h10.2v5.3h-10.2zM1003.4 781.7h5.3v5.3h-5.3zM1132.2 781.7h5.3v5.3h-5.3zM1003.4 786.7h5.3v5.3h-5.3zM1132.2 786.7h5.3v5.3h-5.3zM1003.4 791.6h5.3v5.3h-5.3zM1132.2 791.6h5.3v5.3h-5.3zM1008.4 796.6h5.3v5.3h-5.3zM1132.2 796.6h5.3v5.3h-5.3zM1008.4 801.5h5.3v5.3h-5.3zM1127.2 801.5h5.3v5.3h-5.3zM1008.4 806.5h10.2v5.3h-10.2zM1127.2 806.5h5.3v5.3h-5.3zM1013.3 811.4h5.3v5.3h-5.3zM1122.3 811.4h5.3v5.3h-5.3zM1018.3 816.4h5.3v5.3h-5.3zM1117.3 816.4h10.2v5.3h-10.2zM1023.2 821.3h5.3v5.3h-5.3zM1112.4 821.3h10.2v5.3h-10.2zM1028.2 826.3h10.2v5.3h-10.2zM1107.4 826.3h5.3v5.3h-5.3zM1033.1 831.2h15.2v5.3h-15.2zM1097.5 831.2h10.2v5.3h-10.2zM1043.0 836.2h54.8v5.3h-54.8z"/>
<path fill="#00ffe7" d="M1057.9 717.3h30.0v5.3h-30.0zM1043.0 722.3h15.2v5.3h-15.2zM1087.6 722.3h10.2v5.3h-10.2zM1033.1 727.2h10.2v5.3h-10.2zM1097.5 727.2h10.2v5.3h-10.2zM1028.2 732.2h5.3v5.3h-5.3zM1107.4 732.2h5.3v5.3h-5.3zM1023.2 737.1h5.3v5.3h-5.3zM1112.4 737.1h5.3v5.3h-5.3zM1018.3 742.1h5.3v5.3h-5.3zM1117.3 742.1h5.3v5.3h-5.3zM1013.3 747.0h10.2v5.3h-10.2zM1122.3 747.0h5.3v5.3h-5.3zM1013.3 752.0h5.3v5.3h-5.3zM1122.3 752.0h5.3v5.3h-5.3zM1013.3 756.9h5.3v5.3h-5.3zM1127.2 756.9h5.3v5.3h-5.3zM1008.4 761.9h5.3v5.3h-5.3zM1127.2 761.9h5.3v5.3h-5.3zM1008.4 766.8h5.3v5.3h-5.3zM1127.2 766.8h5.3v5.3h-5.3zM1008.4 771.8h5.3v5.3h-5.3zM1127.2 771.8h5.3v5.3h-5.3zM1008.4 776.8h5.3v5.3h-5.3zM1127.2 776.8h5.3v5.3h-5.3zM1008.4 781.7h5.3v5.3h-5.3zM1127.2 781.7h5.3v5.3h-5.3zM1008.4 786.7h5.3v5.3h-5.3zM1127.2 786.7h5.3v5.3h-5.3zM1008.4 791.6h5.3v5.3h-5.3zM1127.2 791.6h5.3v5.3h-5.3zM1013.3 796.6h5.3v5.3h-5.3zM1127.2 796.6h5.3v5.3h-5.3zM1013.3 801.5h5.3v5.3h-5.3zM1122.3 801.5h5.3v5.3h-5.3zM1018.3 806.5h5.3v5.3h-5.3zM1117.3 806.5h10.2v5.3h-10.2zM1018.3 811.4h10.2v5.3h-10.2zM1117.3 811.4h5.3v5.3h-5.3zM1023.2 816.4h10.2v5.3h-10.2zM1112.4 816.4h5.3v5.3h-5.3zM1028.2 821.3h10.2v5.3h-10.2zM1102.5 821.3h10.2v5.3h-10.2zM1038.1 826.3h10.2v5.3h-10.2zM1092.6 826.3h15.2v5.3h-15.2zM1048.0 831.2h49.8v5.3h-49.8z"/>
<path fill="#00ffcf" d="M1057.9 722.3h30.0v5.3h-30.0zM1043.0 727.2h10.2v5.3h-10.2zM1087.6 727.2h10.2v5.3h-10.2zM1033.1 732.2h10.2v5.3h-10.2zM1097.5 732.2h10.2v5.3h-10.2zM1028.2 737.1h10.2v5.3h-10.2zM1107.4 737.1h5.3v5.3h-5.3zM1023.2 742.1h10.2v5.3h-10.2zM1112.4 742.1h5.3v5.3h-5.3zM1023.2 747.0h5.3v5.3h-5.3zM1117.3 747.0h5.3v5.3h-5.3zM1018.3 752.0h5.3v5.3h-5.3zM1117.3 752.0h5.3v5.3h-5.3zM1018.3 756.9h5.3v5.3h-5.3zM1122.3 756.9h5.3v5.3h-5.3zM1013.3 761.9h5.3v5.3h-5.3zM1122.3 761.9h5.3v5.3h-5.3zM1013.3 766.8h5.3v5.3h-5.3zM1122.3 766.8h5.3v5.3h-5.3zM1013.3 771.8h5.3v5.3h-5.3zM1122.3 771.8h5.3v5.3h-5.3zM1013.3 776.8h5.3v5.3h-5.3zM1122.3 776.8h5.3v5.3h-5.3zM1013.3 781.7h5.3v5.3h-5.3zM1122.3 781.7h5.3v5.3h-5.3zM1013.3 786.7h5.3v5.3h-5.3zM1122.3 786.7h5.3v5.3h-5.3zM1013.3 791.6h5.3v5.3h-5.3zM1122.3 791.6h5.3v5.3h-5.3zM1018.3 796.6h5.3v5.3h-5.3zM1122.3 796.6h5.3v5.3h-5.3zM1018.3 801.5h5.3v5.3h-5.3zM1117.3 801.5h5.3v5.3h-5.3zM1023.2 806.5h5.3v5.3h-5.3zM1112.4 806.5h5.3v5.3h-5.3zM1028.2 811.4h5.3v5.3h-5.3zM1107.4 811.4h10.2v5.3h-10.2zM1033.1 816.4h5.3v5.3h-5.3zM1102.5 816.4h10.2v5.3h-10.2zM1038.1 821.3h10.2v5.3h-10.2zM1097.5 821.3h5.3v5.3h-5.3zM1048.0 826.3h15.2v5.3h-15.2zM1077.7 826.3h15.2v5.3h-15.2z"/>
<path fill="#00ffb8" d="M1052.9 727.2h35.0v5.3h-35.0zM1043.0 732.2h10.2v5.3h-10.2zM1087.6 732.2h10.2v5.3h-10.2zM1038.1 737.1h5.3v5.3h-5.3zM1097.5 737.1h10.2v5.3h-10.2zM1033.1 742.1h5.3v5.3h-5.3zM1102.5 742.1h10.2v5.3h-10.2zM1028.2 747.0h5.3v5.3h-5.3zM1107.4 747.0h10.2v5.3h-10.2zM1023.2 752.0h5.3v5.3h-5.3zM1112.4 752.0h5.3v5.3h-5.3zM1023.2 756.9h5.3v5.3h-5.3zM1117.3 756.9h5.3v5.3h-5.3zM1018.3 761.9h5.3v5.3h-5.3zM1117.3 761.9h5.3v5.3h-5.3zM1018.3 766.8h5.3v5.3h-5.3zM1117.3 766.8h5.3v5.3h-5.3zM1018.3 771.8h5.3v5.3h-5.3zM1018.3 776.8h5.3v5.3h-5.3zM1018.3 781.7h5.3v5.3h-5.3zM1117.3 781.7h5.3v5.3h-5.3zM1018.3 786.7h5.3v5.3h-5.3zM1117.3 786.7h5.3v5.3h-5.3zM1018.3 791.6h5.3v5.3h-5.3zM1117.3 791.6h5.3v5.3h-5.3zM1023.2 796.6h5.3v5.3h-5.3zM1117.3 796.6h5.3v5.3h-5.3zM1023.2 801.5h5.3v5.3h-5.3zM1112.4 801.5h5.3v5.3h-5.3zM1028.2 806.5h5.3v5.3h-5.3zM1107.4 806.5h5.3v5.3h-5.3zM1033.1 811.4h5.3v5.3h-5.3zM1102.5 811.4h5.3v5.3h-5.3zM1038.1 816.4h10.2v5.3h-10.2zM1097.5 816.4h5.3v5.3h-5.3zM1048.0 821.3h10.2v5.3h-10.2zM1082.7 821.3h15.2v5.3h-15.2zM1062.8 826.3h15.2v5.3h-15.2z"/>
<path fill="#00ffa0" d="M1052.9 732.2h35.0v5.3h-35.0zM1043.0 737.1h5.3v5.3h-5.3zM1092.6 737.1h5.3v5.3h-5.3zM1038.1 742.1h5.3v5.3h-5.3zM1033.1 747.0h5.3v5.3h-5.3zM1028.2 752.0h5.3v5.3h-5.3zM1107.4 752.0h5.3v5.3h-5.3zM1112.4 756.9h5.3v5.3h-5.3zM1023.2 761.9h5.3v5.3h-5.3zM1112.4 761.9h5.3v5.3h-5.3zM1023.2 766.8h5.3v5.3h-5.3zM1117.3 771.8h5.3v5.3h-5.3zM1117.3 776.8h5.3v5.3h-5.3zM1023.2 781.7h5.3v5.3h-5.3zM1023.2 786.7h5.3v5.3h-5.3zM1023.2 791.6h5.3v5.3h-5.3zM1112.4 791.6h5.3v5.3h-5.3zM1028.2 796.6h5.3v5.3h-5.3zM1112.4 796.6h5.3v5.3h-5.3zM1028.2 801.5h5.3v5.3h-5.3zM1107.4 801.5h5.3v5.3h-5.3zM1033.1 806.5h5.3v5.3h-5.3zM1102.5 806.5h5.3v5.3h-5.3zM1038.1 811.4h5.3v5.3h-5.3zM1097.5 811.4h5.3v5.3h-5.3zM1048.0 816.4h5.3v5.3h-5.3zM1087.6 816.4h10.2v5.3h-10.2zM1057.9 821.3h25.1v5.3h-25.1z"/>
<path fill="#00ff88" d="M1048.0 737.1h10.2v5.3h-10.2zM1082.7 737.1h10.2v5.3h-10.2zM1043.0 742.1h5.3v5.3h-5.3zM1097.5 742.1h5.3v5.3h-5.3zM1038.1 747.0h5.3v5.3h-5.3zM1102.5 747.0h5.3v5.3h-5.3zM1033.1 752.0h5.3v5.3h-5.3zM1028.2 756.9h5.3v5.3h-5.3zM1107.4 756.9h5.3v5.3h-5.3zM1028.2 761.9h5.3v5.3h-5.3zM1112.4 766.8h5.3v5.3h-5.3zM1023.2 771.8h5.3v5.3h-5.3zM1112.4 771.8h5.3v5.3h-5.3zM1023.2 776.8h5.3v5.3h-5.3zM1112.4 776.8h5.3v5.3h-5.3zM1112.4 781.7h5.3v5.3h-5.3zM1112.4 786.7h5.3v5.3h-5.3zM1028.2 791.6h5.3v5.3h-5.3zM1107.4 796.6h5.3v5.3h-5.3zM1033.1 801.5h5.3v5.3h-5.3zM1102.5 801.5h5.3v5.3h-5.3zM1038.1 806.5h5.3v5.3h-5.3zM1097.5 806.5h5.3v5.3h-5.3zM1043.0 811.4h5.3v5.3h-5.3zM1092.6 811.4h5.3v5.3h-5.3zM1052.9 816.4h15.2v5.3h-15.2zM1077.7 816.4h10.2v5.3h-10.2z"/>
<path fill="#00ff70" d="M1057.9 737.1h25.1v5.3h-25.1zM1048.0 742.1h5.3v5.3h-5.3zM1087.6 742.1h10.2v5.3h-10.2zM1043.0 747.0h5.3v5.3h-5.3zM1097.5 747.0h5.3v5.3h-5.3zM1038.1 752.0h5.3v5.3h-5.3zM1102.5 752.0h5.3v5.3h-5.3zM1033.1 756.9h5.3v5.3h-5.3zM1107.4 761.9h5.3v5.3h-5.3zM1028.2 766.8h5.3v5.3h-5.3zM1107.4 766.8h5.3v5.3h-5.3zM1028.2 771.8h5.3v5.3h-5.3zM1028.2 776.8h5.3v5.3h-5.3zM1028.2 781.7h5.3v5.3h-5.3zM1028.2 786.7h5.3v5.3h-5.3zM1107.4 786.7h5.3v5.3h-5.3zM1107.4 791.6h5.3v5.3h-5.3zM1033.1 796.6h5.3v5.3h-5.3zM1102.5 796.6h5.3v5.3h-5.3zM1038.1 801.5h5.3v5.3h-5.3zM1097.5 801.5h5.3v5.3h-5.3zM1043.0 806.5h5.3v5.3h-5.3zM1092.6 806.5h5.3v5.3h-5.3zM1048.0 811.4h10.2v5.3h-10.2zM1082.7 811.4h10.2v5.3h-10.2zM1067.8 816.4h10.2v5.3h-10.2z"/>
<path fill="#1fff5d" d="M1052.9 742.1h35.0v5.3h-35.0zM1048.0 747.0h5.3v5.3h-5.3zM1087.6 747.0h10.2v5.3h-10.2zM1043.0 752.0h5.3v5.3h-5.3zM1097.5 752.0h5.3v5.3h-5.3zM1038.1 756.9h5.3v5.3h-5.3zM1102.5 756.9h5.3v5.3h-5.3zM1033.1 761.9h5.3v5.3h-5.3zM1102.5 761.9h5.3v5.3h-5.3zM1033.1 766.8h5.3v5.3h-5.3zM1033.1 771.8h5.3v5.3h-5.3zM1107.4 771.8h5.3v5.3h-5.3zM1033.1 776.8h5.3v5.3h-5.3zM1107.4 776.8h5.3v5.3h-5.3zM1033.1 781.7h5.3v5.3h-5.3zM1107.4 781.7h5.3v5.3h-5.3zM1033.1 786.7h5.3v5.3h-5.3zM1102.5 786.7h5.3v5.3h-5.3zM1033.1 791.6h5.3v5.3h-5.3zM1102.5 791.6h5.3v5.3h-5.3zM1038.1 796.6h5.3v5.3h-5.3zM1097.5 796.6h5.3v5.3h-5.3zM1043.0 801.5h5.3v5.3h-5.3zM1092.6 801.5h5.3v5.3h-5.3zM1048.0 806.5h10.2v5.3h-10.2zM1087.6 806.5h5.3v5.3h-5.3zM1057.9 811.4h25.1v5.3h-25.1z"/>
<path fill="#82ff31" d="M1052.9 747.0h35.0v5.3h-35.0zM1048.0 752.0h5.3v5.3h-5.3zM1087.6 752.0h10.2v5.3h-10.2zM1043.0 756.9h5.3v5.3h-5.3zM1092.6 756.9h10.2v5.3h-10.2zM1038.1 761.9h5.3v5.3h-5.3zM1097.5 761.9h5.3v5.3h-5.3zM1038.1 766.8h5.3v5.3h-5.3zM1097.5 766.8h10.2v5.3h-10.2zM1038.1 771.8h5.3v5.3h-5.3zM1102.5 771.8h5.3v5.3h-5.3zM1038.1 776.8h5.3v5.3h-5.3zM1102.5 776.8h5.3v5.3h-5.3zM1038.1 781.7h5.3v5.3h-5.3zM1102.5 781.7h5.3v5.3h-5.3zM1038.1 786.7h5.3v5.3h-5.3zM1097.5 786.7h5.3v5.3h-5.3zM1038.1 791.6h10.2v5.3h-10.2zM1097.5 791.6h5.3v5.3h-5.3zM1043.0 796.6h10.2v5.3h-10.2zM1092.6 796.6h5.3v5.3h-5.3zM1048.0 801.5h10.2v5.3h-10.2zM1082.7 801.5h10.2v5.3h-10.2zM1057.9 806.5h30.0v5.3h-30.0z"/>
<path fill="#a1ff25" d="M1052.9 752.0h35.0v5.3h-35.0zM1048.0 756.9h10.2v5.3h-10.2zM1082.7 756.9h10.2v5.3h-10.2zM1043.0 761.9h10.2v5.3h-10.2zM1087.6 761.9h10.2v5.3h-10.2zM1043.0 766.8h5.3v5.3h-5.3zM1092.6 766.8h5.3v5.3h-5.3zM1043.0 771.8h5.3v5.3h-5.3zM1092.6 771.8h10.2v5.3h-10.2zM1043.0 776.8h5.3v5.3h-5.3zM1092.6 776.8h10.2v5.3h-10.2zM1043.0 781.7h5.3v5.3h-5.3zM1092.6 781.7h10.2v5.3h-10.2zM1043.0 786.7h5.3v5.3h-5.3zM1092.6 786.7h5.3v5.3h-5.3zM1048.0 791.6h5.3v5.3h-5.3zM1087.6 791.6h10.2v5.3h-10.2zM1052.9 796.6h10.2v5.3h-10.2zM1082.7 796.6h10.2v5.3h-10.2zM1057.9 801.5h25.1v5.3h-25.1z"/>
<path fill="#c0ff19" d="M1057.9 756.9h25.1v5.3h-25.1zM1052.9 761.9h15.2v5.3h-15.2zM1077.7 761.9h10.2v5.3h-10.2zM1048.0 766.8h10.2v5.3h-10.2zM1082.7 766.8h10.2v5.3h-10.2zM1048.0 771.8h10.2v5.3h-10.2zM1087.6 771.8h5.3v5.3h-5.3zM1048.0 776.8h10.2v5.3h-10.2zM1087.6 776.8h5.3v5.3h-5.3zM1048.0 781.7h10.2v5.3h-10.2zM1087.6 781.7h5.3v5.3h-5.3zM1048.0 786.7h10.2v5.3h-10.2zM1082.7 786.7h10.2v5.3h-10.2zM1052.9 791.6h35.0v5.3h-35.0zM1062.8 796.6h20.1v5.3h-20.1z"/>
<path fill="#e0ff0c" d="M1067.8 761.9h10.2v5.3h-10.2zM1057.9 766.8h25.1v5.3h-25.1zM1057.9 771.8h30.0v5.3h-30.0zM1057.9 776.8h30.0v5.3h-30.0zM1057.9 781.7h30.0v5.3h-30.0zM1057.9 786.7h25.1v5.3h-25.1z"/>
<rect x="993.5" y="697.5" width="158.5" height="158.5" fill="none" stroke="#000" stroke-width="1.3"/>
<path d="M1033.1 697.5v3M1033.1 856.0v-3M993.5 737.1h3M1152 737.1h-3M1072.8 697.5v3M1072.8 856.0v-3M993.5 776.8h3M1152 776.8h-3M1112.4 697.5v3M1112.4 856.0v-3M993.5 816.4h3M1152 816.4h-3" stroke="#000" stroke-width="1.1" fill="none"/>
<path d="M676 265H994M676 518H994M676 770H994" stroke="#000" stroke-width="1.7" fill="none"/>
<text x="657.50" y="278.60" font-size="24" text-anchor="end">0</text>
<text x="657.50" y="400.60" font-size="24" text-anchor="end">1</text>
<text x="657.50" y="526.60" font-size="24" text-anchor="end">2</text>
<text x="657.50" y="651.60" font-size="24" text-anchor="end">3</text>
<text x="657.50" y="775.60" font-size="24" text-anchor="end">4</text>
<text x="657.50" y="900.10" font-size="24" text-anchor="end">5</text>
<text transform="translate(628.20 576.50) rotate(-90)" font-size="26.2" font-weight="bold" text-anchor="middle">Distance  from cover slip (mm)</text>
<text x="668.00" y="921.50" font-size="24" text-anchor="middle">-1</text>
<text x="753.00" y="921.50" font-size="24" text-anchor="middle">0</text>
<text x="830.00" y="921.50" font-size="24" text-anchor="middle">1</text>
<text x="764.00" y="954.80" font-size="26.2" font-weight="bold" text-anchor="middle">Distance (mm)</text>
<defs><linearGradient id="jetg" x1="0" y1="0" x2="0" y2="1"><stop offset="0.0000" stop-color="#880000"/><stop offset="0.1250" stop-color="#ff0000"/><stop offset="0.3750" stop-color="#ffff00"/><stop offset="0.4700" stop-color="#70ff38"/><stop offset="0.4800" stop-color="#18ff60"/><stop offset="0.5000" stop-color="#00ff70"/><stop offset="0.6250" stop-color="#00ffff"/><stop offset="0.8750" stop-color="#0000ff"/><stop offset="1.0000" stop-color="#000080"/></linearGradient></defs>
<rect x="1175.5" y="264" width="25.5" height="630.5" fill="url(#jetg)" stroke="#000" stroke-width="1.5"/>
<path d="M1201 369.1h-7.5M1201 474.2h-7.5M1201 579.2h-7.5M1201 684.3h-7.5M1201 789.4h-7.5" stroke="#000" stroke-width="1" fill="none"/>
<text x="1203.00" y="276.30" font-size="26">300</text>
<text x="1203.00" y="379.90" font-size="26">250</text>
<text x="1203.00" y="481.30" font-size="26">200</text>
<text x="1203.00" y="589.90" font-size="26">150</text>
<text x="1203.00" y="693.80" font-size="26">100</text>
<text x="1203.00" y="801.30" font-size="26">50</text>
<text x="1203.00" y="900.80" font-size="26">0</text>
<text transform="translate(1260.90 584.20) rotate(90)" font-size="26.2" font-weight="bold" text-anchor="middle">mW/cm²</text>
<text x="1535.30" y="185.20" font-size="26.4" font-weight="bold" text-anchor="middle">Normalized Ultrasound</text>
<text x="1539.50" y="216.50" font-size="26.4" font-weight="bold" text-anchor="middle">Field Intensity (dB) in X-Y Plane</text>
<path d="M1401.7 235V445.4H1664.2" stroke="#262626" stroke-width="1.1" fill="none"/>
<path d="M1401.7 445.4v-3.5M1467.3 445.4v-3.5M1533.0 445.4v-3.5M1598.6 445.4v-3.5M1664.2 445.4v-3.5M1401.7 254.5h3.5M1401.7 292.7h3.5M1401.7 330.9h3.5M1401.7 369.0h3.5M1401.7 407.2h3.5M1401.7 445.4h3.5" stroke="#262626" stroke-width="1.1" fill="none"/>
<path d="M1401.7 369.03999999999996H1664.2" stroke="#ff0000" stroke-width="1.9" stroke-dasharray="6.1 5.85" fill="none"/>
<path d="M1401.7 392.2L1404.3 386.8L1407.0 381.5L1409.6 376.3L1412.2 371.2L1414.8 366.2L1417.5 361.4L1420.1 356.6L1422.7 352.0L1425.3 347.4L1428.0 343.0L1430.6 338.7L1433.2 334.4L1435.8 330.3L1438.5 326.3L1441.1 322.4L1443.7 318.7L1446.3 315.0L1449.0 311.4L1451.6 308.0L1454.2 304.6L1456.8 301.4L1459.5 298.2L1462.1 295.2L1464.7 292.3L1467.3 289.5L1470.0 286.8L1472.6 284.2L1475.2 281.7L1477.8 279.3L1480.5 277.1L1483.1 274.9L1485.7 272.9L1488.3 270.9L1491.0 269.1L1493.6 267.4L1496.2 265.7L1498.8 264.2L1501.5 262.8L1504.1 261.5L1506.7 260.4L1509.3 259.3L1512.0 258.3L1514.6 257.5L1517.2 256.7L1519.8 256.1L1522.5 255.5L1525.1 255.1L1527.7 254.8L1530.3 254.6L1533.0 254.5L1535.6 254.5L1538.2 254.6L1540.8 254.9L1543.5 255.2L1546.1 255.6L1548.7 256.2L1551.3 256.9L1554.0 257.6L1556.6 258.5L1559.2 259.5L1561.8 260.6L1564.5 261.8L1567.1 263.1L1569.7 264.5L1572.3 266.1L1575.0 267.7L1577.6 269.4L1580.2 271.3L1582.8 273.3L1585.5 275.3L1588.1 277.5L1590.7 279.8L1593.3 282.2L1596.0 284.7L1598.6 287.3L1601.2 290.0L1603.8 292.9L1606.5 295.8L1609.1 298.8L1611.7 302.0L1614.3 305.3L1617.0 308.6L1619.6 312.1L1622.2 315.7L1624.8 319.4L1627.5 323.2L1630.1 327.1L1632.7 331.1L1635.3 335.3L1638.0 339.5L1640.6 343.9L1643.2 348.3L1645.8 352.9L1648.5 357.6L1651.1 362.3L1653.7 367.2L1656.3 372.2L1659.0 377.3L1661.6 382.6L1664.2 387.9" stroke="#000" stroke-width="1.9" fill="none" stroke-linejoin="round"/>
<text x="1398.60" y="264.10" font-size="27" text-anchor="end">0</text>
<text x="1398.60" y="302.28" font-size="27" text-anchor="end">-2</text>
<text x="1398.60" y="340.46" font-size="27" text-anchor="end">-4</text>
<text x="1398.60" y="378.64" font-size="27" text-anchor="end">-6</text>
<text x="1398.60" y="416.82" font-size="27" text-anchor="end">-8</text>
<text x="1398.60" y="455.00" font-size="27" text-anchor="end">-10</text>
<text x="1394.20" y="468.40" font-size="27" text-anchor="middle">-1</text>
<text x="1462.33" y="468.40" font-size="27" text-anchor="middle">-0.5</text>
<text x="1532.95" y="468.40" font-size="27" text-anchor="middle">0</text>
<text x="1598.58" y="468.40" font-size="27" text-anchor="middle">0.5</text>
<text x="1664.20" y="468.40" font-size="27" text-anchor="middle">1</text>
<text x="1546.00" y="497.60" font-size="26.3" font-weight="bold" text-anchor="middle">Distance (mm)</text>
<text transform="translate(1361.80 350.50) rotate(-90)" font-size="26.4" text-anchor="middle">Δ Intensity (dB)</text>
<text x="1542.50" y="541.80" font-size="26.4" font-weight="bold" text-anchor="middle">Normalized Ultrasound</text>
<text x="1546.00" y="572.60" font-size="26.4" font-weight="bold" text-anchor="middle">Field Intensity (dB) Y-Z Plane</text>
<path d="M1405.7 588V797.6H1668.9" stroke="#262626" stroke-width="1.1" fill="none"/>
<path d="M1405.7 797.6v-3.5M1458.3 797.6v-3.5M1511.0 797.6v-3.5M1563.6 797.6v-3.5M1616.3 797.6v-3.5M1668.9 797.6v-3.5M1405.7 604.0h3.5M1405.7 636.3h3.5M1405.7 668.5h3.5M1405.7 700.8h3.5M1405.7 733.0h3.5M1405.7 765.3h3.5M1405.7 797.6h3.5" stroke="#262626" stroke-width="1.1" fill="none"/>
<path d="M1405.7 700.78H1668.9" stroke="#ff0000" stroke-width="1.9" stroke-dasharray="6.1 5.85" fill="none"/>
<path d="M1405.7 604.0L1407.1 606.1L1409.1 609.1L1411.5 612.7L1414.0 616.4L1416.5 620.1L1418.9 623.4L1421.1 626.3L1423.2 629.1L1425.4 631.9L1427.6 634.5L1429.8 637.1L1432.0 639.5L1434.2 641.8L1436.4 644.0L1438.6 646.1L1440.8 648.0L1443.0 649.9L1445.2 651.6L1447.4 653.1L1449.6 654.6L1451.8 655.8L1454.0 657.0L1456.1 658.1L1458.3 659.2L1460.5 660.1L1462.7 661.0L1464.9 661.7L1467.1 662.4L1469.3 663.1L1471.5 663.7L1473.7 664.2L1475.9 664.8L1478.1 665.2L1480.3 665.6L1482.5 666.0L1484.7 666.4L1486.9 666.8L1489.0 667.2L1491.2 667.5L1493.4 667.8L1495.6 668.2L1497.8 668.5L1500.0 668.9L1502.2 669.2L1504.4 669.6L1506.6 670.0L1508.8 670.4L1511.0 670.9L1513.2 671.5L1515.4 672.2L1517.6 672.8L1519.8 673.6L1521.9 674.4L1524.1 675.3L1526.3 676.3L1528.5 677.4L1530.7 678.6L1532.9 679.8L1535.1 681.0L1537.3 682.2L1539.5 683.4L1541.7 684.7L1543.9 685.9L1546.1 687.1L1548.3 688.3L1550.5 689.5L1552.7 690.6L1554.8 691.7L1557.0 692.8L1559.2 693.8L1561.4 694.9L1563.6 695.9L1565.8 697.0L1568.0 698.0L1570.2 699.1L1572.4 700.1L1574.6 701.1L1576.8 702.1L1579.0 703.0L1581.2 704.0L1583.4 704.9L1585.6 705.8L1587.7 706.7L1589.9 707.6L1592.1 708.4L1594.3 709.3L1596.5 710.2L1598.7 711.1L1600.9 712.0L1603.1 712.9L1605.3 713.8L1607.5 714.7L1609.7 715.6L1611.9 716.6L1614.1 717.5L1616.3 718.5L1618.5 719.5L1620.6 720.5L1622.8 721.6L1625.0 722.7L1627.2 723.8L1629.4 725.0L1631.6 726.2L1633.8 727.6L1636.0 729.0L1638.2 730.4L1640.4 731.9L1642.6 733.4L1644.8 734.8L1647.0 736.3L1649.2 737.9L1651.4 739.4L1653.5 741.0L1655.7 742.7L1658.1 744.6L1660.6 746.8L1663.1 748.9L1665.5 751.0L1667.5 752.8L1668.9 754.0" stroke="#000" stroke-width="1.9" fill="none" stroke-linejoin="round"/>
<text x="1401.60" y="613.60" font-size="27" text-anchor="end">0</text>
<text x="1401.60" y="645.86" font-size="27" text-anchor="end">-2</text>
<text x="1401.60" y="678.12" font-size="27" text-anchor="end">-4</text>
<text x="1401.60" y="710.38" font-size="27" text-anchor="end">-6</text>
<text x="1401.60" y="742.64" font-size="27" text-anchor="end">-8</text>
<text x="1401.60" y="774.90" font-size="27" text-anchor="end">-10</text>
<text x="1401.60" y="807.16" font-size="27" text-anchor="end">-12</text>
<text x="1408.10" y="822.20" font-size="27" text-anchor="middle">0</text>
<text x="1457.84" y="822.20" font-size="27" text-anchor="middle">1</text>
<text x="1510.28" y="822.20" font-size="27" text-anchor="middle">2</text>
<text x="1563.12" y="822.20" font-size="27" text-anchor="middle">3</text>
<text x="1614.06" y="822.20" font-size="27" text-anchor="middle">4</text>
<text x="1667.90" y="822.20" font-size="27" text-anchor="middle">5</text>
<text x="1538.50" y="852.40" font-size="26.3" font-weight="bold" text-anchor="middle">Distance from</text>
<text x="1541.80" y="883.80" font-size="26.3" font-weight="bold" text-anchor="middle">cover slip (mm)</text>
<text transform="translate(1362.50 718.00) rotate(-90)" font-size="26.5" text-anchor="middle">Δ Intensity (dB)</text>
<text transform="translate(2.90 1010.20) scale(0.99 1)" font-size="64" font-weight="bold">b)</text>
<g fill="none" stroke="#f9812a" stroke-linejoin="round"><path d="M184.7,1498.9 185.5,1496.7 186.4,1494.2 187.2,1491.9 188.1,1490.0 188.9,1486.0 189.8,1484.8 190.6,1482.6 191.5,1480.8 192.4,1478.3 193.2,1478.6 194.1,1476.2 194.9,1474.2 195.8,1471.7 196.5,1469.7 197.1,1467.3 197.8,1465.8 198.4,1465.3 199.1,1461.8 199.7,1458.8 200.4,1457.8 201.1,1456.2 201.7,1453.8 202.4,1451.2 203.0,1449.6 203.7,1448.3 204.3,1446.6 205.0,1443.8 205.6,1442.3 206.3,1438.8 207.3,1435.8 208.3,1432.9 209.3,1431.2 210.2,1430.8 211.2,1428.1 212.2,1426.2 213.2,1424.3 214.2,1423.1 215.2,1419.9 216.2,1418.0 217.1,1415.5 218.1,1412.4 219.1,1410.8 220.1,1407.6 221.2,1407.2 222.3,1407.1 223.4,1405.3 224.4,1403.2 225.5,1401.9 226.6,1400.6 227.7,1396.8 228.8,1395.1 229.8,1392.9 230.9,1391.0 232.0,1387.8 233.1,1386.0 234.5,1386.2 235.8,1385.1 237.2,1384.1 238.5,1381.2 239.9,1377.0 241.2,1375.4 242.6,1374.6 243.9,1373.3 245.2,1371.1 246.6,1370.3 247.9,1368.7 249.3,1367.3 250.6,1366.2 251.9,1365.5 253.2,1362.2 254.4,1359.1 255.7,1358.4 257.0,1355.7 258.2,1352.8 259.5,1351.4 260.7,1350.9 262.0,1347.9 263.3,1345.4 264.6,1344.9 265.9,1344.5 267.2,1342.9 268.5,1339.6 269.3,1340.4 270.1,1341.7 270.9,1343.7 271.7,1346.2 272.6,1347.6 273.4,1350.3 274.2,1353.4 275.0,1355.3 275.8,1356.0 276.7,1358.0 277.7,1358.4 278.7,1360.6 279.7,1363.3 280.7,1365.0 281.7,1366.3 282.7,1368.9 283.7,1374.0 284.7,1375.4 286.1,1375.9 287.5,1378.6 288.9,1381.2 290.2,1381.6 291.6,1383.6 293.0,1385.6 294.4,1387.7 295.8,1388.9 297.1,1392.4 298.5,1392.7 299.9,1394.7 301.3,1396.0 302.9,1398.5 304.6,1400.7 306.3,1403.2 308.0,1403.4 309.8,1405.8 311.5,1406.7 313.2,1408.7 314.9,1411.2 316.6,1413.6 318.5,1414.1 320.4,1413.8 322.3,1414.2 324.2,1414.9 326.1,1417.8 328.0,1420.6 329.9,1418.5 331.9,1418.4 333.7,1420.2 335.2,1421.1 336.7,1423.2 338.1,1424.8 339.6,1426.8 341.1,1429.3 342.6,1431.8 343.4,1430.9 344.0,1428.5 344.6,1427.0 345.1,1424.5 345.7,1421.0 346.3,1419.4 346.9,1417.0 347.6,1414.9 348.5,1412.3 349.3,1410.1 350.2,1408.2 351.0,1406.0 351.9,1404.3 353.4,1402.8 354.9,1400.9 356.3,1398.8 357.8,1397.6 359.3,1395.0 360.8,1392.8 362.3,1392.2 363.7,1389.9 365.2,1388.2 366.7,1387.5 368.2,1385.6 369.7,1384.8 371.2,1382.6 372.7,1381.1 374.3,1378.9 375.9,1377.9 377.4,1376.1 379.0,1373.3 380.6,1371.9 382.1,1369.9 383.7,1369.2 385.2,1368.7 386.8,1366.3 388.4,1364.3 389.9,1363.8 391.5,1363.4 393.2,1362.9 394.8,1360.9 396.5,1359.7 398.2,1357.4 399.8,1357.1 401.5,1354.4 403.1,1353.2 404.8,1351.4 406.5,1349.2 408.1,1347.4 409.8,1345.5 411.5,1345.5 413.2,1342.4 415.1,1340.5 417.1,1339.5 419.0,1339.5 421.0,1337.0 422.0,1339.0 423.0,1341.0 424.0,1344.3 425.0,1344.4 426.0,1346.2 427.0,1348.5 428.0,1351.8 429.0,1356.0 430.0,1358.5 431.3,1359.8 432.6,1362.5 433.9,1363.8 435.2,1365.5 436.5,1366.7 437.8,1366.8 439.1,1368.0 440.5,1369.5 441.8,1371.7 443.1,1375.7 444.4,1375.4 445.9,1376.4 447.6,1378.7 449.3,1381.0 450.9,1382.5 452.6,1384.7 454.2,1385.1 455.9,1386.0 457.5,1387.7 459.2,1388.9 460.9,1391.1 462.5,1394.2 464.2,1393.4 465.8,1394.3 467.5,1394.9 469.1,1396.9 470.8,1400.7 472.5,1402.3 474.2,1404.0 475.9,1405.3 477.6,1407.9 479.3,1407.6 481.0,1408.4 482.7,1410.3 484.5,1411.8 486.2,1412.5 487.9,1415.4 489.6,1415.8 491.3,1417.1 492.9,1415.6 494.6,1418.7 496.3,1422.2 497.9,1422.3 499.6,1424.2 500.0,1421.1 500.5,1420.4 500.9,1417.7 501.4,1416.9 501.8,1415.5 502.2,1413.9 502.7,1410.5 503.3,1409.0 504.4,1407.7 505.5,1404.0 506.6,1403.2 507.8,1401.8 508.9,1399.3 510.0,1398.5 511.6,1396.2 513.2,1393.8 514.9,1392.4 516.5,1392.2 518.1,1389.7 519.7,1386.1 521.3,1384.0 523.0,1381.8 524.6,1382.5 526.2,1381.9 527.8,1380.6 529.3,1378.8 530.9,1377.8 532.5,1377.1 534.0,1374.4 535.6,1373.2 537.2,1371.1 538.8,1371.3 540.3,1368.8 541.9,1365.7 543.5,1364.4 545.0,1362.1 546.6,1360.0 548.3,1358.8 549.9,1358.6 551.6,1358.8 553.3,1355.2 555.0,1353.2 556.6,1352.6 558.3,1351.6 560.0,1349.6 561.6,1347.6 563.4,1346.1 565.3,1344.4 567.3,1343.4 569.2,1341.1 571.2,1341.6 573.1,1340.9 575.0,1339.0 576.7,1338.5 577.5,1340.6 578.3,1341.3 579.1,1346.3 579.8,1346.5 580.6,1349.0 581.4,1352.4 582.2,1356.3 583.0,1357.3 584.3,1358.6 585.5,1360.2 586.8,1361.8 588.0,1362.7 589.3,1366.0 591.0,1368.4 592.7,1369.7 594.5,1370.6 596.2,1371.6 597.9,1372.5 599.6,1371.8 601.3,1375.0 603.1,1376.7 604.8,1377.9 606.6,1377.9 608.6,1380.0 610.5,1381.8 612.4,1382.7 614.3,1384.6 616.2,1385.3 618.1,1386.7 620.0,1387.3 621.7,1388.0 623.2,1389.9 624.7,1393.4 626.1,1394.8 627.6,1395.8 629.0,1398.1 630.5,1400.3 631.9,1402.2 633.0,1405.4 634.1,1405.1 635.2,1407.7 636.2,1408.6 637.3,1410.2 638.4,1410.7 639.5,1412.9 640.6,1414.8 641.7,1417.6 642.8,1420.4 643.9,1423.4 645.0,1423.8 646.8,1425.7 648.6,1426.6 650.5,1429.7 652.3,1432.0 654.1,1433.2 655.1,1429.4 656.0,1428.0 657.0,1427.8 658.0,1426.8 658.9,1423.3 659.9,1422.2 661.0,1425.1 662.0,1426.0 663.1,1427.6 664.2,1429.0 664.8,1429.7 665.1,1426.9 665.3,1421.9 665.6,1419.3 665.8,1416.6 666.0,1413.4 666.3,1413.2 666.5,1411.7 666.8,1408.4 667.0,1407.3 667.3,1404.7 667.5,1401.8 667.8,1401.8 668.0,1398.9 668.4,1398.9 668.8,1394.8 669.2,1393.6 669.5,1390.7 669.9,1389.5 670.3,1387.8 670.7,1385.2 671.1,1382.1 671.5,1379.3 671.9,1377.5 672.3,1373.3 672.6,1370.6 673.0,1370.4 673.4,1368.6 673.8,1367.3 674.2,1365.5 674.6,1363.2 675.0,1363.0 675.3,1361.1 675.7,1358.4 676.1,1355.3 676.5,1354.5 677.2,1352.1 678.0,1349.3 678.9,1345.1 679.7,1342.9 680.5,1340.9 681.3,1340.0 682.2,1337.4 683.0,1335.5 683.8,1333.8 684.7,1330.3 685.5,1328.4 686.3,1327.1 687.1,1325.1 688.0,1322.3 688.8,1318.8 689.6,1316.8 690.4,1316.0 691.3,1313.5 692.1,1310.7 692.9,1310.5 693.6,1307.4 694.4,1304.3 695.1,1302.0 695.8,1303.0 696.6,1300.6 697.3,1298.0 698.1,1295.5 698.8,1293.8 699.6,1290.7 700.3,1288.0 701.1,1286.4 701.8,1284.7 702.5,1281.5 703.3,1280.7 704.0,1277.0 704.8,1275.6 705.5,1275.1 706.3,1273.5 707.0,1270.0 707.7,1269.3 708.5,1265.6 709.2,1263.2 710.0,1261.5 710.7,1258.8 711.5,1255.7 712.2,1254.2 713.0,1253.3 713.7,1252.9 714.4,1250.5 715.2,1247.6 715.9,1246.8 716.7,1242.7 717.4,1240.1 718.2,1237.8 718.9,1236.7 719.6,1233.0 720.4,1230.2 721.1,1228.9 721.8,1226.9 722.6,1222.9 723.3,1223.4 724.0,1223.1 724.7,1219.8 725.5,1218.6 726.2,1215.2 726.9,1212.9 727.7,1212.0 728.4,1208.5 729.1,1207.4 729.9,1205.5 730.7,1202.9 731.6,1200.3 732.4,1197.3 733.2,1196.3 734.1,1193.8 734.9,1193.7 735.7,1192.4 736.5,1191.1 737.4,1189.5 738.2,1185.6 739.1,1182.8 739.9,1182.7 740.8,1180.6 741.6,1177.7 742.5,1176.5 743.3,1174.0 743.8,1175.4 744.3,1177.7 744.8,1179.2 745.2,1181.1 745.7,1182.9 746.2,1185.2 746.7,1186.1 747.2,1188.1 747.7,1190.5 748.2,1193.5 748.6,1195.0 749.1,1196.7 749.6,1197.9 750.1,1201.0 750.6,1204.7 751.4,1205.3 752.3,1206.5 753.2,1209.6 754.1,1210.8 755.0,1213.2 755.9,1214.6 756.8,1217.7 757.8,1220.9 758.7,1222.8 759.6,1225.6 760.5,1226.4 761.4,1228.8 762.3,1231.9 763.2,1233.6 764.1,1235.7 765.0,1236.8 765.8,1239.0 766.6,1239.4 767.5,1243.0 768.3,1246.4 769.2,1248.8 770.0,1250.4 770.9,1253.0 771.7,1255.1 772.6,1258.1 773.4,1260.8 774.3,1261.5 775.1,1263.9 775.9,1265.2 776.8,1267.2 777.7,1268.2 778.6,1269.9 779.5,1273.0 780.5,1276.3 781.4,1278.2 782.3,1277.8 783.2,1278.5 784.2,1279.6 785.1,1284.1 786.0,1285.5 786.9,1288.1 787.9,1290.1 788.8,1291.6 789.7,1292.7 790.7,1296.0 791.9,1297.1 793.0,1299.8 794.2,1304.0 795.4,1305.6 796.6,1308.2 797.7,1308.9 798.9,1310.2 800.1,1312.1 801.3,1315.6 802.4,1315.5 803.6,1316.3 804.5,1317.4 805.3,1319.2 806.2,1320.7 807.0,1324.0 807.9,1326.2 808.8,1327.1 809.6,1331.6 810.5,1333.5 811.4,1334.3 812.2,1335.9 813.0,1337.9 813.9,1341.3 814.7,1343.1 815.6,1344.9 816.4,1346.5 817.2,1350.0 818.1,1351.7 818.7,1353.6 819.2,1352.0 819.7,1349.1 820.1,1346.1 820.6,1342.5 821.0,1341.2 821.5,1338.7 822.0,1337.7 822.4,1335.1 822.9,1333.3 823.5,1330.4 824.3,1329.4 825.0,1326.1 825.7,1322.6 826.4,1320.6 827.1,1318.6 827.8,1316.4 828.6,1315.2 829.3,1313.1 830.0,1311.3 831.0,1310.1 832.0,1308.4 833.0,1306.4 833.9,1304.1 834.9,1302.5 835.9,1298.4 836.9,1296.4 837.9,1294.2 838.9,1291.6 839.9,1289.8 840.8,1289.8 841.8,1287.8 842.8,1285.2 843.8,1282.1 844.7,1281.2 845.6,1279.2 846.5,1276.7 847.4,1276.0 848.3,1274.5 849.2,1271.9 850.2,1268.7 851.1,1267.5 852.0,1266.0 852.9,1264.4 853.8,1261.2 854.7,1258.9 855.7,1257.6 856.6,1255.9 857.5,1253.7 858.4,1251.1 859.3,1249.6 860.2,1248.3 861.1,1246.1 861.9,1245.0 862.8,1242.7 863.6,1240.1 864.5,1239.9 865.4,1238.0 866.2,1236.1 867.1,1232.3 867.9,1229.4 868.8,1228.3 869.6,1226.3 870.5,1225.1 871.4,1222.3 872.2,1220.8 873.1,1218.9 873.9,1216.1 874.8,1213.2 875.6,1211.0 876.5,1210.0 877.3,1208.8 878.1,1205.6 879.0,1202.4 879.8,1200.5 880.7,1198.1 881.5,1195.2 882.3,1193.4 883.2,1191.1 884.0,1190.3 884.9,1187.7 885.7,1185.1 886.5,1183.4 887.4,1182.2 888.2,1181.6 889.0,1179.4 889.9,1176.4 890.7,1174.3 891.6,1169.5 892.4,1167.4 893.2,1166.2 894.1,1162.9 894.9,1161.2 895.8,1160.0 896.6,1160.3 897.5,1156.6 898.3,1155.2 899.0,1156.8 899.6,1158.8 900.2,1160.3 900.8,1162.2 901.4,1164.4 902.0,1167.4 902.6,1168.6 903.2,1171.1 903.9,1172.5 904.5,1174.0 905.1,1176.5 905.7,1178.9 906.4,1180.2 907.2,1185.0 907.9,1187.0 908.7,1188.1 909.5,1190.0 910.3,1191.7 911.0,1194.0 911.8,1194.3 912.6,1197.2 913.4,1199.3 914.1,1202.0 914.9,1204.0 915.7,1205.5 916.5,1207.8 917.2,1209.9 918.0,1211.5 918.8,1211.6 919.5,1215.1 920.3,1217.3 921.1,1220.3 921.9,1221.3 922.6,1224.0 923.4,1225.9 924.2,1228.1 925.0,1231.6 925.7,1233.6 926.5,1233.5 927.3,1236.2 928.1,1237.4 928.8,1239.4 929.6,1241.1 930.4,1244.9 931.1,1247.0 931.9,1249.2 932.7,1250.0 933.5,1251.2 934.2,1255.6 935.0,1258.5 935.9,1260.2 936.8,1262.1 937.8,1264.5 938.7,1265.3 939.7,1267.4 940.6,1269.8 941.5,1269.2 942.5,1272.3 943.4,1274.9 944.4,1277.7 945.3,1281.1 946.3,1283.1 947.2,1285.7 948.2,1286.8 949.1,1286.8 950.0,1287.9 951.0,1290.6 951.9,1294.8 952.9,1295.1 953.8,1297.1 954.8,1296.4 955.7,1299.3 956.6,1302.3 957.6,1305.4 958.5,1306.4 959.4,1307.6 960.3,1310.1 961.3,1313.6 962.2,1315.8 963.1,1317.3 964.1,1319.6 965.0,1323.6 965.9,1326.1 966.8,1328.1 967.8,1329.8 968.7,1330.8 969.6,1334.2 970.5,1335.6 971.4,1337.6 972.3,1338.4 973.2,1341.9 974.1,1345.1 975.0,1344.9 975.9,1347.3 976.8,1348.1 977.7,1350.5 978.0,1349.4 978.2,1348.4 978.5,1345.3 978.7,1343.4 979.0,1341.1 979.3,1338.8 979.5,1337.4 979.8,1334.4 980.0,1330.9 980.3,1330.1 980.5,1326.3 980.8,1325.6 981.1,1323.0 981.5,1319.8 981.9,1316.3 982.3,1315.2 982.7,1312.6 983.1,1312.3 983.4,1309.0 983.8,1306.6 984.2,1305.5 984.6,1304.5 985.0,1300.3 985.4,1297.4 986.0,1295.9 987.0,1294.4 988.0,1292.0 989.0,1290.2 990.0,1287.7 991.0,1286.3 992.0,1285.5 993.0,1283.5 994.0,1281.5 995.0,1278.8 996.0,1276.7 997.0,1274.3 998.0,1272.1 999.0,1269.9 1000.0,1268.2 1001.1,1265.3 1002.1,1263.8 1003.2,1262.2 1004.3,1259.2 1005.3,1258.0 1006.4,1256.1 1007.5,1253.3 1008.5,1251.9 1009.6,1248.5 1010.7,1249.2 1011.7,1248.2 1012.8,1245.7 1013.9,1242.4 1014.9,1238.5 1016.0,1237.8 1016.9,1235.8 1017.8,1233.9 1018.7,1232.5 1019.6,1231.8 1020.5,1230.3 1021.4,1228.0 1022.3,1226.0 1023.2,1222.6 1024.1,1221.0 1025.0,1217.0 1026.0,1215.6 1026.9,1214.2 1027.8,1211.7 1028.7,1210.8 1029.6,1207.4 1030.5,1204.2 1031.4,1202.0 1032.3,1201.8 1033.2,1198.7 1034.1,1196.2 1035.0,1195.1 1035.9,1194.2 1036.7,1192.2 1037.6,1191.0 1038.5,1186.7 1039.4,1184.4 1040.2,1182.2 1041.1,1180.7 1042.0,1178.5 1042.9,1178.0 1043.7,1175.5 1044.6,1174.6 1045.5,1172.0 1046.3,1170.2 1047.2,1168.5 1048.1,1166.1 1049.0,1164.2 1049.9,1161.4 1050.8,1159.4 1051.7,1155.8 1052.6,1153.2 1053.5,1153.3 1054.4,1151.5 1055.2,1151.3 1055.9,1154.0 1056.6,1157.1 1057.3,1159.9 1057.9,1162.1 1058.6,1163.7 1059.3,1166.0 1060.0,1168.0 1060.6,1169.1 1061.3,1171.4 1062.0,1174.8 1062.8,1176.9 1063.5,1178.9 1064.3,1180.6 1065.0,1182.9 1065.8,1184.9 1066.5,1186.8 1067.3,1188.9 1068.0,1190.2 1068.8,1189.8 1069.5,1190.3 1070.3,1193.6 1071.0,1195.2 1071.8,1198.1 1072.6,1201.1 1073.3,1203.1 1074.1,1204.2 1074.8,1205.6 1075.6,1207.5 1076.4,1208.8 1077.3,1212.4 1078.1,1215.8 1078.9,1217.8 1079.7,1221.1 1080.5,1222.5 1081.4,1225.8 1082.2,1228.9 1083.0,1230.5 1083.8,1229.9 1084.7,1232.7 1085.5,1236.7 1086.3,1237.0 1087.1,1236.4 1088.0,1239.7 1088.8,1240.7 1089.6,1244.2 1090.4,1245.3 1091.2,1248.1 1091.9,1251.1 1092.7,1253.8 1093.5,1256.1 1094.3,1257.2 1095.1,1258.7 1095.9,1261.1 1096.6,1264.3 1097.4,1264.6 1098.2,1266.0 1099.0,1268.5 1099.8,1271.1 1100.5,1272.7 1101.3,1276.2 1102.1,1277.8 1102.9,1279.3 1103.7,1280.3 1104.4,1283.2 1105.2,1285.2 1106.0,1289.5 1106.9,1293.1 1107.8,1293.0 1108.8,1295.4 1109.7,1296.7 1110.6,1298.1 1111.5,1302.1 1112.5,1304.6 1113.4,1307.3 1114.3,1308.1 1115.2,1308.8 1116.1,1311.7 1117.1,1314.2 1118.0,1315.4 1118.9,1316.8 1119.8,1320.2 1120.8,1321.3 1121.7,1325.5 1122.6,1326.7 1123.6,1327.3 1124.6,1328.2 1125.6,1333.3 1126.6,1333.8 1127.7,1336.1 1128.7,1338.0 1129.7,1338.2 1130.8,1340.5 1131.8,1341.8 1132.8,1342.1 1133.8,1344.0 1134.9,1346.0 1135.9,1349.2 1136.9,1351.5 1137.9,1352.9 1139.0,1355.4 1140.0,1357.5 1141.1,1358.8 1142.3,1360.7 1143.4,1362.0 1144.6,1365.4 1145.7,1365.8 1146.9,1368.9 1148.0,1372.2 1149.2,1372.3 1150.3,1374.6 1151.5,1377.6 1152.6,1379.3 1153.7,1383.2 1154.9,1384.6 1156.0,1385.6 1157.3,1387.4 1158.7,1387.6 1160.1,1388.0 1161.5,1389.5 1162.9,1391.3 1164.4,1393.0 1165.8,1394.8 1167.2,1397.4 1168.6,1400.7 1170.0,1402.1 1171.5,1404.8 1172.9,1404.0 1174.3,1405.9 1175.7,1408.3 1177.1,1410.7 1178.6,1411.1 1180.0,1413.4 1181.4,1416.9 1182.9,1419.5 1184.3,1420.6 1185.7,1420.8 1187.2,1422.2 1188.6,1423.5 1190.0,1425.8 1191.3,1427.5 1192.5,1428.0 1193.6,1430.3 1194.8,1430.9 1196.0,1434.0 1197.2,1437.3 1198.3,1440.1 1199.5,1442.6 1200.7,1443.0 1201.8,1445.1 1203.0,1447.3 1203.9,1448.0" stroke-width="5.6"/><path d="M187.4,1502.9 182.7,1496.3 186.7,1501.1 182.6,1494.7 186.2,1501.7 187.1,1493.5 184.4,1498.6 187.1,1491.3 187.6,1496.9 185.5,1490.6 185.3,1498.2 187.2,1488.8 190.3,1497.1 185.0,1487.6 187.1,1496.9 188.9,1488.3 184.9,1494.4 185.5,1486.4 190.1,1493.4 185.7,1483.5 187.9,1488.9 188.6,1483.2 187.1,1490.0 187.9,1481.8 192.5,1490.1 188.7,1482.7 190.5,1487.3 193.1,1481.1 193.5,1486.6 193.5,1478.8 190.5,1484.6 190.1,1479.3 192.8,1483.3 189.3,1478.4 192.7,1483.6 193.6,1477.3 193.9,1480.9 194.2,1475.7 194.9,1482.9 193.1,1476.4 193.9,1482.3 193.7,1473.4 190.3,1480.8 196.2,1473.0 196.4,1482.6 195.3,1473.6 191.0,1479.3 193.4,1472.1 192.3,1479.4 197.1,1471.0 193.5,1478.4 196.9,1469.4 196.4,1475.9 193.7,1466.5 198.7,1474.9 197.6,1466.0 194.8,1471.8 199.1,1466.5 198.0,1472.6 197.4,1465.3 198.3,1473.3 199.7,1464.1 197.3,1476.0 195.5,1464.3 197.4,1471.3 198.3,1462.3 199.2,1469.2 198.6,1462.1 198.4,1470.4 198.3,1460.5 196.2,1467.0 199.2,1459.4 199.3,1465.1 197.3,1458.9 198.4,1463.9 201.2,1457.1 199.8,1463.2 197.4,1455.9 200.9,1462.0 200.4,1455.7 200.3,1462.9 202.9,1453.1 199.6,1459.7 200.5,1454.2 199.3,1458.9 198.5,1457.6 200.3,1460.6 203.0,1452.1 201.4,1457.9 200.1,1450.5 203.9,1454.8 201.2,1449.1 203.1,1458.0 203.4,1449.2 205.7,1455.8 202.8,1447.5 200.0,1453.4 204.8,1445.4 204.8,1450.9 201.8,1444.4 202.3,1454.1 202.8,1445.5 201.9,1450.5 202.6,1444.3 204.8,1449.5 202.7,1443.4 205.1,1451.4 203.5,1442.7 203.5,1448.7 204.2,1440.0 208.2,1446.7 206.5,1438.6 205.6,1447.1 208.2,1437.8 207.8,1448.9 204.1,1437.7 205.1,1443.8 207.6,1436.1 209.6,1440.9 205.1,1434.2 204.1,1439.8 207.4,1431.9 210.4,1438.6 209.2,1430.9 209.2,1435.9 209.7,1428.8 210.9,1435.2 211.1,1429.2 206.0,1435.4 208.1,1428.3 209.6,1434.0 211.4,1428.6 208.4,1433.8 208.7,1428.2 211.4,1432.1 207.5,1425.5 209.5,1433.9 210.8,1424.6 212.1,1431.7 210.5,1425.2 213.4,1429.7 211.9,1424.3 210.1,1430.9 214.3,1428.1 214.6,1435.8 213.3,1421.6 215.7,1429.2 214.2,1420.6 212.4,1426.0 216.3,1420.7 216.5,1424.8 213.8,1419.3 215.8,1425.5 214.6,1415.6 218.6,1424.1 218.2,1415.5 216.5,1422.3 219.1,1416.6 216.1,1425.7 219.4,1411.7 218.6,1418.3 220.2,1412.1 217.3,1424.5 219.8,1410.8 217.4,1416.1 216.6,1410.4 218.1,1418.7 221.4,1408.4 220.3,1414.3 218.0,1410.8 218.8,1413.1 217.8,1406.6 218.8,1410.8 218.6,1404.6 222.0,1410.3 223.1,1405.3 220.3,1411.4 221.0,1404.7 223.4,1409.3 224.9,1402.9 223.9,1410.7 219.5,1403.7 224.5,1412.7 225.4,1403.3 221.7,1408.9 221.2,1402.3 224.5,1406.9 223.8,1401.5 226.1,1405.4 225.9,1399.9 224.0,1408.0 224.0,1397.8 224.4,1407.9 224.8,1399.4 227.4,1405.9 228.8,1398.4 224.6,1405.9 225.9,1396.4 226.0,1402.0 225.7,1396.3 224.2,1401.0 226.4,1395.7 228.6,1400.5 230.2,1392.2 230.3,1400.7 230.3,1391.5 227.7,1396.7 229.0,1390.8 228.7,1398.5 230.0,1390.0 231.2,1395.4 232.7,1389.2 231.3,1397.0 234.2,1387.2 232.1,1392.9 230.6,1386.0 232.7,1390.7 231.4,1384.7 234.1,1389.4 233.7,1382.5 234.4,1390.1 231.9,1381.9 230.3,1389.7 235.2,1383.1 232.7,1390.1 234.5,1381.4 232.6,1390.0 234.6,1381.8 233.4,1388.8 238.0,1382.0 233.0,1388.9 238.4,1382.4 239.7,1389.1 237.0,1380.5 238.3,1386.4 236.2,1379.4 238.3,1384.2 240.1,1377.7 240.5,1383.6 239.0,1374.3 239.4,1380.0 241.5,1374.4 242.8,1379.9 238.7,1373.4 243.8,1379.4 241.6,1375.5 240.4,1376.7 244.4,1370.9 239.4,1379.5 245.9,1370.9 241.5,1376.0 241.0,1370.0 243.9,1377.2 243.0,1370.8 247.1,1378.2 245.0,1369.8 244.7,1375.9 247.5,1369.8 243.7,1373.0 247.7,1367.6 245.3,1373.0 249.9,1367.9 248.9,1371.9 247.1,1365.3 247.2,1374.4 246.3,1365.6 250.5,1372.1 246.9,1365.1 248.7,1370.5 248.9,1363.0 250.9,1372.0 252.7,1364.3 250.5,1369.2 249.0,1364.6 254.1,1371.9 251.7,1362.4 253.0,1375.8 253.8,1366.9 252.9,1369.5 251.7,1364.3 251.6,1367.8 253.1,1357.3 250.9,1363.7 250.7,1356.4 252.5,1364.9 253.4,1355.2 253.9,1364.7 257.3,1355.7 255.2,1363.8 256.6,1354.8 257.8,1359.5 254.8,1356.3 255.3,1360.7 256.4,1351.0 256.2,1357.2 254.9,1349.5 255.9,1358.0 259.5,1348.4 261.0,1357.3 256.7,1349.7 260.5,1355.4 261.9,1348.9 258.6,1355.8 260.7,1347.4 263.2,1359.0 264.2,1351.8 261.4,1352.4 259.9,1344.5 262.0,1353.3 259.7,1344.9 263.6,1352.1 265.0,1343.2 264.4,1348.8 262.9,1341.6 262.4,1349.0 263.2,1341.1 263.0,1349.8 266.5,1342.3 267.3,1350.6 266.6,1342.2 266.8,1348.1 265.4,1341.7 264.7,1346.7 269.3,1341.4 266.5,1346.4 267.0,1343.2 267.0,1346.0 268.6,1337.7 268.1,1344.0 267.2,1336.1 266.5,1344.7 268.8,1336.3 267.7,1344.4 267.9,1337.4 268.7,1344.9 270.6,1339.0 273.6,1346.3 271.6,1340.4 270.3,1348.0 271.6,1340.2 273.2,1349.3 272.6,1341.4 272.2,1348.2 271.2,1343.7 273.1,1349.7 272.2,1341.9 273.8,1350.2 273.4,1343.2 273.8,1353.7 275.1,1344.4 271.6,1351.4 271.4,1345.8 275.5,1352.8 272.3,1348.9 272.7,1356.5 276.7,1354.5 272.8,1356.3 272.7,1351.9 276.0,1356.5 273.6,1350.0 273.3,1358.1 276.4,1351.4 274.5,1359.6 275.1,1351.7 277.5,1359.1 275.9,1354.2 274.1,1366.7 276.9,1353.8 274.3,1361.2 277.9,1359.7 274.9,1361.3 279.7,1360.9 278.8,1364.2 279.6,1355.6 276.2,1363.2 277.7,1355.8 277.4,1366.8 278.0,1359.1 282.4,1366.1 279.8,1361.4 278.8,1369.4 282.8,1360.7 279.5,1369.4 281.2,1361.7 282.7,1367.5 282.2,1361.1 282.7,1371.0 280.4,1363.3 281.4,1372.1 282.5,1361.9 281.7,1371.1 282.2,1363.0 284.3,1374.1 280.4,1366.9 285.1,1373.9 284.5,1370.1 281.2,1378.5 284.4,1372.4 282.0,1376.8 282.7,1373.3 283.6,1379.1 285.0,1375.2 287.8,1380.1 286.6,1372.9 283.1,1380.2 285.1,1373.3 288.1,1383.6 289.8,1374.3 288.5,1384.5 290.3,1376.6 288.6,1383.8 291.3,1383.2 290.3,1385.9 290.6,1376.7 287.7,1385.4 292.8,1378.6 291.9,1385.6 292.7,1378.0 292.9,1388.1 294.2,1380.3 293.0,1386.8 291.0,1380.4 294.2,1386.7 290.6,1382.6 294.0,1390.5 291.7,1384.2 295.2,1391.2 296.4,1384.3 296.5,1390.5 292.9,1389.8 291.9,1392.8 294.7,1384.4 294.8,1393.7 295.4,1385.5 298.7,1399.6 298.8,1389.6 295.6,1397.8 294.0,1389.2 299.2,1398.1 295.4,1389.0 300.4,1396.7 299.6,1396.7 301.4,1399.5 302.4,1391.0 297.2,1400.0 299.3,1392.1 301.8,1403.6 298.8,1392.6 302.3,1399.2 299.9,1394.4 300.1,1405.7 300.5,1394.8 303.5,1402.0 306.7,1395.6 302.8,1402.1 300.5,1397.3 303.4,1403.2 304.7,1398.6 306.8,1404.5 303.8,1399.0 307.7,1407.6 308.1,1400.3 306.2,1406.6 304.7,1400.7 308.1,1416.0 310.6,1401.8 310.7,1408.7 306.4,1403.7 308.8,1408.9 308.8,1402.0 309.2,1408.3 311.1,1403.2 313.7,1412.4 310.9,1404.7 314.4,1417.2 312.9,1404.1 316.2,1412.7 313.6,1406.1 313.7,1413.4 314.8,1408.1 315.8,1417.3 315.6,1407.8 317.1,1416.8 318.8,1410.5 319.8,1418.0 320.4,1409.7 317.3,1416.9 318.0,1412.7 317.4,1420.2 321.8,1415.7 319.2,1417.9 318.3,1411.4 321.4,1417.5 321.3,1412.1 321.1,1418.8 320.3,1412.3 324.2,1417.1 323.6,1410.4 323.5,1420.1 323.5,1410.9 324.9,1419.5 324.1,1413.4 326.5,1420.2 327.0,1414.1 328.5,1421.2 328.0,1415.3 329.5,1423.3 328.5,1417.1 326.6,1425.0 328.3,1415.8 327.4,1428.3 329.5,1415.1 327.3,1423.2 330.2,1415.5 330.6,1423.1 332.9,1416.0 332.8,1421.8 332.9,1415.2 330.3,1424.5 332.9,1417.0 333.7,1425.1 334.3,1416.6 335.2,1425.8 333.8,1417.4 335.7,1424.3 336.0,1417.5 335.2,1426.5 336.4,1419.5 334.0,1428.7 338.6,1422.1 338.0,1431.2 337.8,1421.3 337.5,1429.9 339.7,1425.1 342.0,1429.8 339.9,1421.9 341.1,1431.3 342.8,1425.4 339.2,1431.1 339.4,1426.5 344.2,1439.5 342.6,1426.3 340.3,1432.3 342.0,1427.4 339.9,1435.5 341.4,1435.8 340.7,1437.5 346.1,1428.5 342.2,1434.9 345.4,1427.8 344.4,1433.0 342.1,1424.3 344.5,1432.7 345.5,1426.2 345.6,1436.6 342.7,1424.8 347.3,1431.8 347.0,1422.8 342.5,1428.5 345.0,1420.8 346.8,1429.5 344.4,1420.4 348.2,1427.9 344.1,1418.9 346.9,1425.8 344.5,1419.0 345.7,1423.4 344.9,1417.0 345.3,1422.6 348.6,1416.7 347.5,1427.9 345.7,1414.3 345.2,1420.2 344.9,1412.5 350.2,1422.8 346.5,1412.5 349.7,1419.4 349.2,1411.1 350.5,1416.0 346.7,1415.4 350.3,1415.4 350.6,1409.6 347.5,1415.8 347.2,1409.5 347.7,1415.1 349.2,1411.9 352.6,1414.1 350.8,1406.7 349.1,1414.4 348.4,1406.2 352.4,1410.8 349.1,1403.6 352.3,1412.1 348.6,1401.8 349.9,1408.9 352.4,1401.0 352.8,1407.5 350.3,1401.0 354.8,1406.5 352.2,1399.9 351.3,1408.7 356.9,1399.6 355.9,1406.3 356.0,1400.6 356.5,1405.7 353.3,1397.9 355.0,1403.0 353.4,1394.9 358.0,1402.3 356.0,1394.8 359.1,1399.4 359.5,1393.8 357.8,1402.3 358.6,1393.7 356.0,1399.2 358.7,1393.1 356.7,1399.9 358.4,1391.5 360.4,1397.8 363.3,1389.9 361.8,1397.5 360.4,1390.7 358.1,1397.9 363.9,1389.8 361.9,1396.2 363.5,1388.0 364.2,1392.9 361.1,1388.2 363.6,1394.3 362.1,1387.5 363.0,1392.8 365.0,1386.9 364.9,1391.9 366.1,1384.5 363.9,1391.0 368.1,1383.5 365.3,1390.3 369.0,1385.1 370.5,1390.9 365.4,1383.7 368.7,1391.0 370.9,1382.5 367.8,1389.2 370.6,1381.1 366.7,1389.0 370.4,1382.5 368.7,1385.9 369.3,1380.2 373.1,1385.0 369.3,1378.0 373.9,1384.6 373.5,1378.1 374.5,1384.6 375.4,1379.8 373.7,1384.9 373.1,1375.2 375.8,1382.6 372.0,1375.7 375.8,1382.6 375.8,1375.7 379.4,1382.7 374.7,1374.0 376.5,1381.7 373.5,1373.0 376.4,1381.7 376.6,1371.9 379.6,1380.3 378.7,1370.0 381.3,1376.6 381.7,1371.4 380.5,1376.5 381.5,1371.1 382.2,1375.3 380.0,1369.0 379.2,1373.5 380.4,1367.7 382.7,1375.6 382.4,1367.3 384.2,1371.8 381.4,1365.8 382.5,1375.0 387.1,1366.6 385.7,1375.7 385.0,1367.3 386.1,1372.2 385.0,1363.6 388.4,1370.2 386.4,1363.8 385.3,1368.6 383.8,1363.1 389.0,1368.8 385.2,1362.0 388.0,1369.3 387.7,1360.7 387.2,1368.9 392.8,1361.4 392.8,1373.4 392.2,1360.5 393.5,1371.0 391.1,1361.1 393.3,1367.0 394.8,1360.9 390.2,1367.0 391.7,1360.3 396.1,1367.8 394.2,1360.3 394.6,1366.9 395.5,1356.9 396.4,1364.9 396.3,1356.8 397.8,1364.8 394.3,1356.0 396.6,1363.8 397.7,1356.4 399.6,1363.1 399.2,1354.7 399.8,1366.2 394.9,1354.7 400.3,1360.6 398.7,1355.7 403.4,1361.7 401.6,1356.2 402.5,1357.5 403.0,1352.8 403.3,1358.3 402.9,1351.7 399.9,1357.5 404.8,1351.8 404.2,1356.5 403.6,1350.1 403.3,1354.2 404.7,1347.3 405.5,1356.8 407.7,1348.6 403.6,1357.4 404.1,1345.8 408.2,1352.2 409.7,1351.3 408.5,1353.0 408.6,1346.6 410.3,1353.3 407.7,1343.0 407.8,1351.0 409.7,1342.4 410.0,1351.6 410.1,1341.4 410.5,1350.0 409.1,1341.9 409.3,1350.0 408.6,1341.4 413.7,1347.4 412.1,1341.0 413.6,1345.6 413.3,1338.2 413.4,1345.4 413.1,1337.8 416.3,1343.1 414.4,1338.7 414.5,1343.6 418.9,1337.4 418.0,1348.7 418.7,1336.8 419.2,1344.4 421.1,1336.2 418.1,1343.6 420.6,1336.9 418.0,1348.7 420.3,1334.5 421.5,1343.1 423.2,1334.9 420.8,1341.3 423.7,1334.7 424.8,1343.7 422.7,1341.2 421.7,1343.2 425.7,1337.7 422.9,1352.1 422.1,1338.8 423.4,1346.8 423.0,1341.4 425.4,1352.4 424.0,1340.8 426.7,1349.1 422.1,1341.7 426.1,1349.1 423.7,1341.0 423.1,1349.2 422.5,1342.4 429.1,1350.8 428.1,1344.7 425.3,1352.6 428.3,1345.3 428.6,1351.1 426.5,1344.4 429.8,1359.5 429.0,1349.3 427.7,1355.8 426.8,1348.7 429.4,1364.2 426.9,1351.7 429.5,1361.4 430.6,1354.6 429.3,1364.7 431.1,1355.2 427.9,1362.3 427.9,1355.9 432.7,1364.2 431.4,1358.0 434.1,1363.7 430.2,1358.1 434.0,1364.8 432.5,1360.4 432.6,1365.5 430.6,1359.3 435.5,1366.9 432.2,1358.8 435.6,1366.6 434.2,1361.3 434.4,1368.0 433.3,1362.5 433.5,1368.6 432.1,1363.0 434.7,1370.2 433.8,1362.5 437.8,1371.2 437.2,1364.9 440.1,1370.9 440.4,1369.3 436.2,1370.4 434.6,1363.3 439.5,1369.4 436.5,1364.1 440.0,1371.6 441.9,1364.6 437.8,1374.0 440.7,1366.4 441.5,1374.8 442.2,1365.4 438.0,1375.9 443.7,1368.4 439.1,1376.4 442.4,1368.0 444.2,1379.3 441.3,1372.9 441.6,1381.6 444.9,1373.9 444.4,1382.3 446.3,1372.5 447.7,1379.3 443.3,1373.6 446.1,1379.6 447.3,1373.5 444.9,1380.1 448.4,1373.7 449.1,1382.5 446.0,1373.3 448.4,1384.7 448.1,1374.1 448.3,1385.9 448.5,1376.2 449.0,1384.3 448.9,1378.5 449.6,1385.9 449.4,1378.1 449.8,1387.1 450.5,1379.2 451.3,1389.1 454.8,1381.2 454.4,1388.1 450.3,1381.2 452.0,1389.0 455.1,1382.7 453.0,1391.3 453.8,1381.6 456.7,1388.8 457.7,1381.4 458.4,1391.1 455.4,1388.0 459.2,1391.8 454.7,1383.6 458.1,1391.5 456.1,1384.0 457.3,1394.8 457.0,1386.7 457.5,1393.8 461.8,1387.1 458.7,1399.3 459.5,1387.3 460.7,1394.3 460.7,1388.0 458.8,1396.3 464.0,1389.6 463.1,1398.3 461.3,1391.5 460.7,1398.0 461.6,1391.8 463.6,1398.7 463.1,1390.5 464.2,1397.8 467.7,1391.2 463.4,1398.6 467.7,1390.2 464.6,1398.7 465.8,1392.7 468.5,1400.6 469.2,1392.3 469.3,1403.0 470.6,1399.1 470.2,1401.9 467.8,1394.4 469.7,1410.0 470.4,1397.5 470.2,1406.1 471.8,1397.9 468.5,1406.9 468.7,1398.1 471.1,1407.4 471.3,1400.4 473.2,1408.8 474.7,1401.4 471.2,1407.9 477.9,1401.4 477.2,1407.7 476.4,1401.3 472.9,1408.9 475.1,1403.9 479.0,1410.4 478.4,1404.3 477.8,1413.6 476.4,1406.1 480.6,1410.6 481.8,1405.2 477.6,1411.4 477.8,1406.6 479.0,1410.7 478.1,1405.8 480.4,1412.4 482.3,1405.5 484.0,1412.6 481.0,1408.4 483.2,1415.7 480.2,1407.3 485.4,1415.0 483.8,1406.9 485.5,1414.6 484.4,1409.1 488.4,1416.5 488.2,1410.4 485.3,1416.1 489.2,1411.2 489.7,1418.9 485.3,1411.4 486.7,1418.3 484.7,1413.1 488.0,1420.2 486.2,1417.1 488.6,1424.6 489.7,1412.4 492.5,1420.3 489.9,1413.4 494.2,1421.8 493.0,1413.9 495.4,1419.8 493.3,1413.3 492.3,1419.9 495.2,1412.0 496.8,1421.5 493.6,1413.3 493.4,1422.9 494.2,1417.5 494.1,1427.4 498.2,1418.4 496.7,1429.2 499.8,1418.8 494.8,1428.1 498.9,1420.2 495.2,1425.8 499.3,1419.1 497.2,1429.3 498.0,1421.6 498.5,1427.8 499.4,1421.1 501.6,1428.0 500.7,1419.5 499.4,1426.3 501.4,1418.5 500.8,1424.5 500.3,1418.7 502.8,1425.3 500.1,1416.7 499.0,1420.7 497.5,1415.0 499.6,1423.3 499.9,1416.3 500.1,1422.9 499.6,1416.1 503.1,1421.3 502.8,1415.0 504.0,1421.2 501.0,1413.2 503.4,1420.9 499.9,1411.4 501.2,1418.6 498.9,1411.1 502.5,1416.9 503.6,1409.8 503.7,1415.8 500.8,1410.5 505.2,1414.2 503.2,1406.1 501.1,1412.9 501.4,1407.2 501.3,1412.0 500.7,1405.5 504.8,1413.0 504.0,1403.0 507.1,1411.1 505.0,1403.2 507.3,1410.2 507.2,1401.1 506.8,1407.2 502.7,1400.9 507.4,1407.3 509.0,1401.1 508.8,1408.9 509.5,1400.0 505.7,1405.8 507.1,1397.3 508.7,1406.1 507.5,1399.0 509.9,1405.2 509.9,1396.6 511.7,1404.7 509.7,1395.6 509.0,1402.3 511.8,1395.8 507.9,1401.4 512.0,1395.2 508.6,1399.7 511.4,1393.3 513.9,1400.0 512.6,1391.2 514.3,1398.4 510.9,1391.2 513.1,1398.1 514.6,1391.6 517.4,1396.6 515.9,1388.6 516.8,1397.6 512.9,1389.0 514.5,1397.1 517.9,1389.3 518.6,1395.0 516.4,1388.9 518.2,1395.3 515.9,1386.6 518.7,1393.1 520.9,1385.8 521.4,1393.9 518.1,1384.6 519.0,1392.1 520.3,1383.0 521.7,1387.4 519.9,1382.8 522.8,1386.5 519.0,1378.5 522.3,1386.1 521.0,1379.7 524.6,1386.8 522.2,1378.1 526.4,1385.7 523.4,1379.0 527.4,1387.1 526.0,1380.6 524.7,1385.8 524.5,1379.7 527.4,1385.4 528.0,1384.3 525.7,1386.4 525.1,1377.4 529.0,1383.8 529.8,1375.8 527.4,1388.3 527.2,1376.8 529.6,1384.8 529.8,1376.8 528.4,1382.5 530.0,1376.1 531.8,1381.3 533.2,1374.4 530.7,1382.5 532.9,1373.1 535.3,1382.2 531.5,1373.4 535.5,1379.8 535.5,1376.7 535.8,1376.9 536.4,1370.7 535.8,1377.8 537.3,1371.9 532.6,1378.0 536.9,1369.0 538.9,1376.7 533.7,1368.2 537.3,1375.0 539.1,1368.9 539.6,1374.5 541.0,1367.6 536.3,1375.4 540.9,1368.3 540.4,1374.3 538.8,1367.9 538.3,1374.4 543.1,1364.7 542.9,1373.3 543.3,1364.0 543.1,1371.4 545.1,1361.7 541.6,1377.0 542.8,1361.2 545.7,1369.8 542.0,1361.0 546.2,1366.5 542.5,1359.8 546.6,1368.2 545.2,1357.8 545.2,1367.8 548.3,1357.8 545.3,1365.8 546.2,1356.7 550.8,1363.7 549.1,1355.6 546.1,1364.1 549.8,1356.4 549.7,1365.1 552.3,1356.2 552.1,1363.5 551.4,1355.3 548.9,1364.7 551.6,1354.6 553.9,1368.9 555.0,1354.4 554.6,1360.3 552.3,1351.6 553.2,1359.7 551.8,1353.6 555.3,1358.1 555.0,1350.8 553.2,1358.2 553.8,1349.8 556.3,1359.4 557.4,1350.6 553.6,1356.2 555.2,1348.8 558.8,1357.3 556.0,1350.3 558.4,1355.2 558.6,1347.1 561.4,1355.0 560.4,1348.2 560.8,1353.9 558.5,1346.8 559.1,1354.4 563.9,1345.5 560.6,1352.3 559.3,1343.6 561.3,1352.3 563.3,1341.8 561.1,1355.2 563.8,1342.7 561.9,1349.7 563.8,1342.2 566.0,1348.2 567.9,1341.2 568.8,1348.3 565.6,1347.7 568.2,1346.3 570.5,1340.3 566.6,1344.6 569.9,1339.1 567.3,1346.6 566.2,1340.4 572.6,1345.8 571.2,1338.9 571.7,1348.0 570.3,1338.7 573.6,1344.7 573.9,1343.2 571.4,1344.9 575.7,1337.8 571.3,1345.0 572.4,1337.0 573.9,1341.6 572.8,1336.9 574.6,1342.9 580.0,1335.0 578.0,1342.5 579.0,1335.1 575.8,1343.8 575.1,1337.4 580.6,1345.4 575.2,1337.7 578.4,1345.6 579.2,1338.7 578.7,1347.3 579.6,1339.6 580.7,1348.1 578.2,1341.4 578.6,1350.7 578.9,1342.0 581.6,1349.3 580.5,1351.3 579.2,1349.8 581.6,1348.8 583.6,1352.6 581.7,1346.1 582.2,1351.9 579.5,1348.3 581.2,1357.0 583.1,1349.3 579.2,1358.2 583.7,1349.6 580.5,1359.4 581.8,1352.1 581.4,1359.6 580.6,1353.6 583.3,1359.8 583.5,1352.5 579.4,1361.7 586.1,1354.7 584.8,1359.9 584.6,1354.7 582.0,1361.7 586.8,1355.8 582.7,1361.5 581.8,1360.9 584.1,1363.0 588.6,1358.2 587.7,1363.3 584.9,1356.4 586.1,1367.9 586.0,1360.3 589.3,1368.5 586.6,1359.7 586.7,1365.4 589.4,1361.4 585.8,1368.3 590.0,1360.6 590.2,1370.8 588.0,1364.7 592.6,1372.5 591.0,1364.8 591.3,1371.5 589.6,1364.9 592.6,1373.4 590.3,1365.6 590.3,1373.4 591.3,1367.5 594.1,1374.8 596.5,1367.5 592.4,1373.8 593.0,1371.1 594.7,1379.8 593.7,1369.1 595.4,1375.0 594.0,1368.3 598.7,1375.8 600.6,1369.6 598.4,1376.2 596.4,1370.8 601.8,1377.3 597.4,1369.4 597.5,1374.8 598.0,1369.5 599.9,1378.7 601.8,1372.2 601.0,1378.0 602.8,1372.7 602.7,1384.8 605.1,1372.5 605.6,1381.1 600.4,1379.1 601.9,1382.5 605.0,1374.0 606.7,1382.2 604.2,1374.0 606.7,1380.4 605.7,1373.9 605.3,1381.5 607.2,1374.8 608.7,1383.8 610.3,1376.3 609.4,1384.4 610.4,1377.2 608.4,1386.0 611.3,1377.5 608.8,1384.0 613.9,1379.5 610.2,1385.5 611.1,1380.0 609.7,1387.9 612.4,1379.9 614.3,1387.0 612.5,1379.8 613.0,1387.8 616.4,1382.6 617.4,1386.9 613.3,1382.8 615.3,1390.5 617.4,1383.0 614.2,1390.0 618.1,1382.4 617.4,1391.8 617.4,1384.9 622.0,1391.9 621.2,1385.2 618.9,1390.0 621.9,1384.8 622.5,1391.7 623.8,1384.8 622.7,1391.1 624.7,1386.8 623.9,1391.5 622.5,1386.6 620.5,1393.3 623.5,1387.7 625.0,1397.7 624.7,1388.2 626.7,1396.8 623.9,1391.0 623.0,1398.1 623.9,1392.1 627.6,1398.8 628.4,1391.9 624.8,1397.7 627.2,1391.5 626.3,1400.8 625.6,1393.4 628.0,1401.2 629.4,1394.7 628.3,1402.9 627.7,1395.9 630.8,1405.2 632.7,1395.5 628.9,1402.6 629.2,1397.4 634.0,1405.1 633.5,1400.1 630.1,1405.1 631.5,1400.2 633.8,1406.2 634.7,1401.9 631.3,1409.4 635.7,1400.7 633.1,1411.2 631.1,1402.0 635.8,1409.1 635.6,1403.1 636.1,1410.1 633.8,1402.9 633.4,1412.8 633.9,1405.4 635.6,1412.8 635.7,1403.6 637.3,1414.0 635.6,1406.6 638.6,1413.2 638.2,1407.5 636.5,1415.2 636.1,1406.3 638.4,1416.6 635.7,1406.6 639.7,1413.8 636.8,1409.0 638.8,1416.5 641.2,1416.1 639.0,1418.6 641.1,1411.3 639.1,1419.0 637.9,1411.8 639.2,1419.4 643.6,1415.0 641.2,1419.3 641.2,1414.0 642.9,1424.3 642.8,1415.1 641.3,1421.0 641.7,1414.4 643.2,1425.2 645.4,1417.9 644.1,1428.1 643.4,1419.4 647.0,1428.0 647.6,1426.5 646.6,1427.9 646.3,1420.1 648.0,1427.6 646.0,1420.7 644.5,1428.0 648.3,1422.4 650.3,1430.2 645.6,1423.2 647.6,1429.1 647.2,1421.6 647.9,1430.6 650.5,1425.4 647.5,1432.4 651.5,1426.1 648.1,1433.0 651.2,1427.7 652.9,1437.0 649.0,1428.5 655.4,1435.8 652.6,1432.8 654.4,1435.5 655.0,1430.9 657.3,1437.6 656.1,1431.2 656.3,1433.9 656.2,1426.9 656.3,1433.6 654.2,1426.2 657.2,1433.4 655.8,1425.6 657.8,1433.7 659.8,1424.8 658.4,1431.7 658.8,1424.2 658.1,1431.0 657.1,1424.9 657.6,1430.7 654.8,1424.3 658.7,1431.2 659.3,1422.1 656.5,1427.3 662.0,1420.9 657.4,1428.5 661.9,1418.8 660.1,1425.7 662.2,1418.0 661.7,1426.6 658.8,1420.9 658.7,1426.9 660.2,1426.3 662.0,1437.7 660.1,1425.6 663.1,1430.0 660.7,1420.9 665.4,1430.3 663.8,1422.3 664.0,1431.4 663.8,1424.6 660.5,1431.5 662.3,1424.0 662.5,1431.6 665.0,1424.8 662.7,1433.2 665.0,1426.6 667.5,1434.5 663.8,1426.5 663.8,1435.4 662.3,1425.1 665.5,1433.0 666.9,1425.2 665.1,1430.9 665.2,1422.4 666.0,1430.4 664.9,1420.5 664.6,1427.8 664.9,1418.2 666.2,1424.7 663.4,1417.0 665.1,1422.6 667.7,1420.5 663.1,1423.2 666.1,1414.4 666.9,1421.5 666.4,1412.6 666.1,1418.3 669.1,1411.5 664.8,1417.9 665.4,1411.2 665.6,1416.7 665.6,1411.1 667.4,1418.1 668.6,1408.1 667.3,1416.0 666.7,1409.5 666.6,1415.6 668.1,1409.1 667.4,1412.7 665.9,1406.7 666.7,1414.2 669.2,1404.3 669.1,1410.9 664.1,1404.3 663.6,1411.4 670.1,1402.9 666.6,1411.3 667.4,1401.6 666.3,1408.2 668.5,1401.3 666.0,1406.5 665.0,1399.3 669.3,1404.5 668.3,1400.0 668.4,1407.8 667.1,1400.0 667.5,1407.5 667.3,1398.1 668.7,1403.4 669.0,1396.0 668.4,1405.1 666.2,1395.2 670.6,1403.9 668.1,1394.3 670.4,1402.4 671.3,1394.3 668.9,1400.5 671.7,1393.1 667.0,1397.4 668.2,1390.1 669.9,1400.6 670.3,1392.1 667.4,1399.0 667.0,1389.1 666.1,1396.7 667.4,1389.5 667.0,1393.9 669.2,1387.1 670.2,1395.1 669.8,1386.5 671.9,1392.3 671.5,1386.2 669.9,1392.9 668.6,1387.0 667.8,1393.2 670.6,1384.5 673.1,1389.6 669.1,1382.3 669.3,1388.3 669.7,1381.1 670.5,1388.1 672.4,1378.4 672.5,1385.8 671.0,1379.3 672.6,1384.7 672.5,1377.1 668.1,1383.4 667.9,1375.0 670.2,1382.3 673.1,1375.6 670.8,1380.3 669.3,1374.2 672.4,1380.7 670.2,1371.0 673.1,1376.8 671.7,1370.2 675.1,1376.3 670.8,1369.4 669.4,1375.2 674.2,1366.4 676.5,1374.3 671.4,1368.2 674.5,1382.5 671.7,1367.4 674.4,1372.5 672.2,1365.9 671.3,1371.8 673.3,1363.8 676.1,1371.6 670.3,1364.7 674.9,1373.1 671.8,1364.0 673.0,1372.3 672.6,1363.6 673.7,1368.7 673.1,1363.5 674.9,1368.0 676.8,1361.4 677.5,1368.3 676.5,1359.5 673.6,1366.6 675.8,1360.9 675.9,1369.1 676.9,1359.2 677.5,1364.9 674.7,1356.8 674.5,1364.2 672.5,1357.4 677.2,1370.7 673.5,1356.2 677.3,1361.5 676.4,1353.9 676.2,1365.9 677.8,1354.3 676.2,1360.8 676.3,1352.1 677.6,1358.7 677.3,1351.5 673.8,1357.8 675.9,1351.3 675.3,1355.4 678.6,1348.6 679.3,1357.0 679.2,1347.7 674.4,1353.9 676.1,1347.9 677.9,1355.1 679.5,1343.7 677.9,1352.5 678.2,1342.9 679.3,1349.4 675.9,1346.5 680.2,1348.5 680.9,1341.7 681.9,1345.9 678.0,1339.1 680.8,1346.7 682.9,1337.4 678.7,1346.9 678.9,1339.0 681.1,1346.5 682.1,1336.6 679.4,1342.9 680.4,1337.0 680.0,1342.1 680.8,1333.7 684.6,1341.5 683.3,1333.2 684.6,1340.8 685.3,1333.1 681.6,1339.0 682.9,1332.9 684.6,1338.3 685.1,1332.1 681.0,1338.3 682.1,1329.3 685.5,1336.0 683.3,1327.2 686.1,1333.5 685.2,1331.8 686.5,1332.8 684.2,1325.6 683.9,1332.1 688.2,1325.2 687.0,1331.2 686.8,1323.4 687.5,1339.5 688.2,1325.7 688.3,1332.9 688.3,1323.9 688.3,1328.8 683.8,1320.6 685.2,1326.7 688.3,1320.7 690.8,1327.2 688.2,1319.1 688.6,1332.9 687.9,1317.8 689.7,1322.0 686.4,1314.8 688.5,1321.1 688.0,1314.8 689.3,1321.7 686.9,1313.6 687.9,1323.0 690.8,1312.3 691.8,1321.8 688.3,1313.0 692.3,1321.3 692.5,1310.3 691.6,1319.4 690.5,1310.5 690.6,1316.8 693.9,1307.4 689.8,1316.1 691.1,1308.6 692.2,1315.9 693.0,1307.7 692.1,1313.8 694.5,1305.9 691.9,1312.9 695.1,1305.8 694.4,1312.9 696.0,1304.7 694.1,1311.7 696.2,1302.9 694.1,1310.1 696.0,1302.4 695.5,1306.1 693.9,1298.3 696.8,1304.6 694.0,1298.8 695.0,1308.0 696.2,1299.4 693.6,1307.7 695.4,1299.9 693.0,1304.7 694.3,1298.7 695.7,1304.5 695.5,1296.8 697.2,1304.0 697.0,1295.9 694.7,1303.1 695.6,1295.5 699.6,1300.0 698.4,1292.8 699.4,1301.4 700.2,1292.8 697.0,1298.8 695.6,1290.0 700.8,1306.4 699.3,1290.5 696.3,1296.9 696.0,1287.8 699.1,1294.9 700.8,1286.3 701.0,1295.1 702.0,1287.7 697.0,1292.9 700.6,1285.0 701.4,1293.2 698.6,1282.3 703.2,1290.5 699.5,1283.2 702.9,1287.4 700.5,1282.2 703.9,1287.1 701.1,1284.1 704.5,1288.8 699.8,1280.2 703.5,1285.4 702.3,1279.2 704.7,1283.7 705.4,1278.7 705.2,1284.2 703.3,1275.4 705.4,1282.7 706.2,1275.0 703.4,1280.6 705.1,1273.8 703.5,1279.5 703.9,1273.1 703.3,1279.9 706.3,1273.5 705.0,1278.5 706.9,1272.9 705.2,1280.2 702.4,1271.6 708.5,1276.9 708.1,1270.7 706.8,1278.3 709.7,1268.9 708.5,1274.3 707.7,1266.8 709.7,1273.4 705.0,1268.4 707.7,1273.8 709.7,1266.3 709.2,1271.6 708.1,1264.3 710.5,1270.9 709.8,1264.5 705.6,1269.9 709.7,1262.3 712.3,1268.7 711.0,1262.2 710.4,1268.7 710.9,1258.4 709.1,1267.0 707.3,1259.3 709.1,1264.4 708.3,1258.0 710.0,1264.9 708.8,1257.7 711.8,1262.1 710.1,1255.4 710.2,1261.0 710.3,1258.8 712.6,1258.7 709.7,1253.4 713.4,1262.4 711.2,1252.2 710.9,1256.7 709.7,1251.8 711.1,1257.4 712.8,1251.0 711.8,1258.3 712.3,1249.5 710.4,1258.4 711.2,1249.7 711.3,1257.9 712.0,1249.1 716.2,1255.9 712.6,1249.4 712.3,1254.5 714.8,1246.8 715.4,1252.0 712.4,1245.7 716.7,1250.0 712.8,1244.0 716.6,1251.0 715.3,1243.5 715.6,1252.5 719.0,1242.3 716.7,1249.5 714.5,1240.0 715.1,1247.8 719.3,1238.2 717.5,1247.8 717.1,1238.4 719.8,1243.7 716.7,1236.8 719.7,1241.4 716.2,1234.2 716.4,1244.7 717.7,1235.6 718.1,1241.2 719.4,1233.5 718.6,1243.0 720.1,1234.2 720.3,1241.6 717.3,1230.8 720.9,1235.9 719.5,1230.4 718.4,1234.8 720.0,1226.7 720.4,1236.6 721.1,1225.6 722.9,1233.6 722.7,1225.9 720.3,1241.5 720.1,1225.6 721.6,1231.5 721.9,1222.6 718.3,1231.2 721.7,1222.4 722.2,1228.5 722.0,1219.3 724.8,1227.9 719.0,1219.6 720.6,1226.6 721.0,1221.9 724.5,1229.6 723.5,1221.0 724.7,1227.7 721.3,1220.1 721.1,1226.8 721.4,1219.1 723.5,1228.5 722.9,1218.8 726.5,1221.9 723.8,1216.1 724.6,1225.0 725.7,1216.9 726.7,1221.6 724.1,1215.6 723.5,1220.2 726.4,1213.3 723.3,1218.7 726.8,1212.6 726.5,1216.9 728.8,1210.5 726.9,1216.8 728.4,1209.8 724.4,1216.2 725.5,1209.3 728.8,1217.1 725.6,1208.3 730.5,1215.3 726.1,1208.0 725.9,1212.3 727.2,1204.4 729.3,1210.6 729.0,1203.4 730.9,1209.8 730.3,1203.0 728.7,1215.2 730.1,1201.9 728.8,1211.3 730.0,1201.6 728.7,1211.4 733.2,1200.6 732.7,1207.2 730.8,1205.2 734.1,1205.6 733.9,1197.3 729.5,1202.8 731.7,1195.9 733.3,1203.7 730.3,1194.8 733.3,1200.2 733.9,1194.5 730.7,1208.1 732.9,1193.3 735.7,1200.7 734.0,1191.6 733.4,1203.4 735.6,1192.8 735.7,1199.4 735.0,1189.4 732.9,1197.1 734.2,1190.5 735.0,1199.1 731.9,1190.3 736.8,1197.2 734.4,1188.1 735.6,1196.3 733.8,1188.7 737.3,1195.3 737.7,1188.7 737.3,1196.3 736.9,1187.4 735.9,1193.4 734.5,1186.9 734.8,1192.8 734.8,1185.8 734.7,1192.0 741.1,1184.0 737.2,1191.3 737.7,1182.3 736.3,1190.0 736.8,1181.3 738.8,1188.8 739.0,1179.5 741.5,1185.9 741.5,1179.2 738.3,1190.8 739.1,1180.2 740.9,1186.3 742.7,1178.7 739.6,1189.9 743.2,1178.1 742.5,1183.9 742.6,1176.0 740.5,1183.1 740.3,1175.5 743.1,1182.0 741.0,1174.2 744.0,1181.1 742.2,1172.7 743.4,1178.7 743.9,1171.5 744.0,1178.2 742.0,1171.0 740.0,1178.4 746.3,1172.7 743.0,1180.4 742.0,1173.1 743.4,1182.3 744.5,1174.2 743.9,1183.0 744.3,1175.6 745.4,1182.0 745.3,1178.7 744.9,1182.5 745.2,1176.1 744.4,1185.7 743.6,1177.8 744.9,1186.2 746.3,1179.2 746.7,1184.3 748.6,1179.8 745.8,1189.2 747.1,1181.6 745.6,1187.3 743.9,1181.9 747.9,1191.2 748.4,1182.8 744.5,1189.0 745.2,1181.5 747.0,1191.9 748.0,1181.9 747.1,1189.7 744.1,1184.0 745.9,1193.5 747.7,1185.4 748.0,1193.6 748.4,1187.5 749.7,1193.8 750.1,1187.7 748.1,1197.4 747.3,1190.5 746.3,1196.8 746.7,1190.7 748.4,1206.2 748.8,1191.4 750.2,1198.1 746.2,1193.3 746.9,1199.3 749.5,1194.1 748.9,1199.9 750.1,1193.3 748.4,1201.1 749.1,1196.0 748.1,1202.5 750.3,1196.1 752.1,1203.5 749.1,1197.4 753.6,1205.6 748.2,1199.8 751.7,1205.2 750.3,1201.8 747.9,1210.1 753.7,1201.1 752.4,1208.6 750.0,1202.0 750.0,1208.0 749.9,1202.1 754.1,1209.6 748.9,1203.8 752.4,1210.6 749.6,1203.9 754.2,1211.1 751.9,1204.7 756.0,1213.0 751.0,1206.8 751.7,1212.8 755.2,1208.4 751.3,1215.7 752.4,1208.4 752.2,1218.1 755.4,1208.2 755.0,1217.9 756.9,1211.0 755.0,1218.5 755.5,1211.6 756.9,1217.6 757.3,1213.9 757.4,1222.9 757.0,1212.5 758.7,1220.8 759.2,1216.4 757.2,1223.3 759.7,1216.8 758.5,1224.2 755.8,1218.1 758.4,1224.6 755.6,1218.5 755.9,1226.1 761.3,1220.7 760.2,1228.1 760.8,1220.1 757.5,1229.6 761.6,1222.8 761.4,1230.8 760.0,1223.7 761.6,1230.1 762.2,1224.4 758.2,1232.5 759.5,1223.9 762.3,1231.6 759.3,1226.7 763.5,1233.0 758.8,1227.8 760.7,1235.4 764.2,1230.2 764.3,1235.5 763.7,1230.7 761.5,1236.6 764.3,1230.9 763.1,1240.5 764.1,1231.6 764.0,1238.7 762.3,1232.7 764.5,1240.7 764.9,1231.9 765.9,1240.4 763.9,1233.9 762.6,1241.8 768.4,1235.0 767.6,1242.4 765.2,1235.8 764.1,1245.0 764.0,1236.8 768.8,1243.2 765.4,1237.4 765.1,1246.3 766.1,1239.0 767.2,1251.8 770.2,1242.4 765.9,1250.8 765.9,1241.8 769.6,1249.2 770.8,1243.1 769.3,1251.2 770.2,1246.1 770.7,1251.2 771.0,1245.7 768.0,1254.8 766.8,1247.1 768.7,1255.7 770.8,1249.6 771.6,1259.1 773.4,1250.6 773.5,1256.4 770.1,1250.3 768.6,1258.4 768.8,1251.2 773.5,1258.8 772.9,1251.1 770.1,1259.2 772.9,1252.5 771.9,1263.0 773.6,1257.5 771.4,1264.0 770.1,1256.3 775.9,1264.5 776.0,1258.1 772.2,1263.3 772.5,1258.3 771.4,1265.6 773.9,1257.9 776.0,1265.8 774.0,1261.4 774.3,1267.1 775.2,1261.9 777.4,1267.6 778.0,1261.1 774.2,1271.2 775.8,1262.7 776.7,1268.7 776.6,1263.3 775.6,1271.2 774.1,1264.3 780.4,1271.5 779.2,1266.7 778.1,1274.5 779.0,1266.1 778.1,1271.9 776.2,1265.6 775.4,1274.1 778.4,1267.1 780.7,1274.3 781.3,1269.2 779.9,1278.4 778.6,1269.4 780.4,1278.1 784.0,1271.4 780.1,1281.0 780.6,1272.2 780.6,1282.7 778.8,1274.9 781.7,1281.6 779.9,1275.2 781.0,1280.9 781.6,1278.2 783.7,1284.0 784.7,1274.5 783.9,1285.3 785.5,1276.0 782.2,1281.5 785.1,1280.5 784.7,1281.6 786.1,1280.3 783.4,1282.8 786.9,1281.7 783.5,1285.4 783.9,1280.4 782.6,1287.4 784.2,1281.8 783.9,1288.6 786.7,1281.6 784.9,1288.7 787.5,1282.1 784.0,1291.8 788.4,1284.6 784.1,1292.0 787.9,1284.1 789.5,1293.0 786.4,1287.6 788.3,1295.9 787.3,1286.9 790.3,1301.2 787.3,1287.2 786.4,1296.4 788.5,1287.3 790.5,1296.4 790.9,1289.4 791.1,1299.9 788.3,1290.8 787.2,1299.7 790.5,1291.3 789.2,1302.1 792.3,1293.8 789.2,1303.1 793.3,1298.9 791.3,1301.1 793.2,1294.3 790.5,1301.4 792.2,1295.7 791.6,1304.2 792.9,1299.3 793.9,1311.3 794.7,1301.2 793.0,1308.7 795.4,1300.4 791.8,1308.6 793.0,1300.4 795.7,1310.1 794.2,1303.2 793.9,1309.2 796.7,1303.6 797.7,1311.2 795.6,1305.0 798.6,1310.9 797.1,1306.3 798.4,1315.3 798.5,1305.6 796.6,1311.4 795.7,1305.9 800.2,1321.4 800.2,1306.2 800.6,1317.0 799.2,1307.4 800.3,1318.5 799.9,1310.1 798.4,1319.1 801.2,1310.1 803.7,1318.4 803.6,1317.6 801.9,1321.7 804.1,1312.1 802.6,1320.2 804.4,1311.9 803.9,1321.4 805.5,1312.1 806.4,1320.0 800.5,1313.9 802.5,1321.4 802.2,1313.6 804.5,1321.1 804.6,1314.4 801.7,1323.9 804.2,1315.3 804.4,1323.0 805.5,1315.4 804.3,1322.9 808.1,1318.0 804.9,1324.7 806.0,1319.3 809.8,1327.1 807.3,1319.6 808.0,1330.0 806.1,1323.0 809.5,1334.0 805.7,1322.7 808.9,1331.6 807.2,1329.4 808.0,1332.4 810.2,1325.9 808.0,1338.3 809.4,1325.3 810.5,1336.0 809.6,1328.1 808.9,1335.8 807.5,1334.2 809.4,1335.9 811.8,1328.9 811.1,1336.6 812.7,1330.0 810.9,1339.3 809.6,1330.3 811.7,1338.4 810.9,1331.2 811.4,1338.5 811.9,1333.4 813.5,1339.3 814.4,1333.6 814.3,1340.8 809.7,1333.3 813.1,1347.4 815.1,1336.4 813.0,1350.5 813.6,1336.2 816.6,1345.9 813.9,1338.3 815.7,1347.2 814.2,1339.2 814.7,1346.9 812.1,1340.2 814.7,1349.1 816.2,1339.9 814.9,1348.3 814.4,1343.8 818.6,1348.8 814.3,1346.8 818.3,1350.4 815.2,1343.1 815.1,1352.8 814.4,1344.9 817.7,1356.0 816.5,1345.7 815.9,1353.4 820.2,1349.3 819.2,1355.7 820.8,1350.1 817.3,1356.7 820.3,1351.2 815.5,1358.4 820.4,1349.3 821.1,1358.0 819.3,1350.2 817.2,1358.1 819.0,1348.4 821.7,1353.8 820.6,1345.7 822.4,1353.9 817.1,1344.8 821.7,1352.8 822.5,1343.5 817.5,1349.8 820.6,1344.2 821.4,1349.4 823.0,1340.0 817.3,1347.4 822.3,1343.1 819.5,1346.9 824.5,1337.7 819.2,1345.2 818.4,1337.5 821.5,1343.4 819.1,1336.3 820.9,1341.9 822.2,1336.7 819.8,1342.4 821.0,1335.0 822.4,1345.0 821.7,1333.0 820.9,1339.2 821.5,1333.4 822.4,1340.7 823.1,1333.2 825.9,1345.9 823.1,1330.4 821.6,1337.2 820.8,1329.6 822.5,1336.8 824.1,1329.9 823.1,1333.6 825.3,1325.9 823.4,1335.1 822.0,1325.7 825.7,1335.2 827.2,1325.8 824.1,1332.5 826.9,1324.4 825.9,1334.3 824.5,1321.9 826.0,1330.3 822.8,1320.1 823.2,1327.8 825.0,1318.2 825.9,1326.4 827.8,1319.6 826.9,1324.8 827.8,1316.8 829.2,1325.1 825.4,1320.6 827.9,1321.4 825.6,1314.4 828.2,1320.8 827.3,1314.3 827.5,1320.5 828.4,1312.9 826.6,1318.4 828.7,1312.9 830.7,1318.2 829.5,1309.6 828.4,1318.5 828.4,1310.6 832.0,1317.7 830.5,1309.5 828.1,1317.2 827.5,1309.5 830.3,1319.2 830.0,1307.6 834.2,1315.7 828.2,1307.6 831.6,1313.9 829.6,1307.7 834.6,1314.5 831.0,1306.0 831.2,1313.2 831.9,1304.7 833.0,1310.3 832.1,1303.0 835.5,1310.7 831.4,1302.0 834.3,1309.3 836.8,1302.5 835.0,1310.0 834.4,1301.1 833.9,1309.8 837.2,1300.1 837.2,1306.8 836.2,1297.8 833.1,1303.8 837.9,1296.6 834.5,1304.4 833.6,1296.4 834.6,1306.8 837.2,1294.9 839.0,1306.1 836.8,1294.6 838.1,1299.0 835.9,1292.4 838.7,1297.3 836.7,1296.2 836.2,1302.4 839.6,1288.6 839.8,1296.3 837.3,1288.8 839.7,1294.6 839.6,1288.2 839.1,1292.6 840.3,1285.7 837.8,1294.6 839.7,1286.6 841.3,1296.1 838.7,1285.5 842.9,1290.7 841.3,1285.7 844.3,1297.2 843.0,1284.3 840.2,1291.4 840.5,1283.9 843.1,1290.0 841.1,1281.6 843.8,1290.3 843.5,1279.0 846.1,1287.8 842.0,1277.5 845.7,1285.1 847.7,1277.6 844.3,1286.7 846.4,1276.4 843.7,1284.2 845.5,1277.3 847.1,1283.3 845.5,1275.4 847.7,1284.1 845.2,1274.4 845.1,1281.3 846.0,1272.9 845.9,1278.7 848.4,1272.7 846.0,1278.5 850.5,1272.2 848.2,1280.9 850.2,1270.8 848.9,1279.5 849.1,1268.8 850.8,1279.1 850.1,1270.6 848.0,1274.5 848.5,1268.3 850.8,1273.3 851.4,1266.8 849.7,1272.1 851.2,1266.2 849.3,1274.9 851.7,1264.4 853.0,1272.3 850.8,1261.8 852.7,1269.5 850.6,1263.5 850.8,1270.1 850.5,1268.9 853.5,1270.8 852.3,1262.1 855.0,1272.8 853.5,1259.3 853.9,1267.5 851.3,1258.1 855.5,1265.2 853.1,1256.4 853.1,1262.7 856.1,1257.3 853.0,1270.0 857.2,1255.4 853.4,1261.3 858.0,1253.9 857.1,1263.2 856.0,1255.3 858.2,1261.5 855.7,1252.6 855.7,1259.0 855.5,1252.7 858.8,1259.6 856.0,1250.9 857.9,1257.0 858.3,1249.6 860.6,1257.7 858.9,1247.7 858.5,1254.6 861.4,1247.1 859.1,1253.4 857.2,1251.7 861.5,1253.7 857.5,1246.4 858.6,1254.6 857.7,1250.0 858.2,1251.8 860.9,1244.3 862.2,1251.4 859.9,1243.3 860.1,1253.2 863.9,1241.8 863.0,1250.5 863.3,1248.0 863.1,1251.0 860.4,1240.1 860.9,1247.8 862.0,1238.7 864.6,1248.3 863.5,1238.3 860.0,1246.4 865.5,1239.3 862.3,1245.7 862.5,1238.3 865.5,1243.5 861.8,1242.6 864.6,1242.9 863.0,1236.2 861.4,1244.0 864.6,1235.1 865.1,1242.6 863.2,1235.6 865.2,1241.8 866.6,1233.3 865.4,1240.1 867.6,1231.6 868.5,1237.5 865.9,1231.0 866.8,1238.8 867.6,1229.0 869.2,1234.5 866.8,1232.2 868.3,1235.1 869.8,1225.9 867.1,1232.3 866.5,1226.6 872.1,1232.9 870.0,1224.8 870.4,1234.0 871.9,1224.1 870.3,1231.2 868.7,1224.7 873.5,1230.6 870.9,1223.0 869.8,1229.2 871.0,1219.5 869.9,1227.6 869.5,1217.5 872.6,1227.0 871.1,1218.4 874.2,1224.9 869.9,1217.4 872.8,1226.1 869.7,1222.2 874.0,1224.5 874.6,1215.8 871.2,1223.9 872.4,1217.2 874.4,1221.4 871.1,1214.8 873.6,1219.1 876.6,1212.1 873.9,1218.7 872.6,1212.0 872.7,1217.0 873.2,1208.9 875.2,1216.4 877.7,1208.2 874.7,1215.5 878.1,1207.9 878.3,1214.4 874.5,1207.6 875.0,1214.4 876.8,1206.2 876.0,1212.9 878.8,1206.4 877.4,1212.4 875.5,1204.0 876.6,1210.5 878.4,1203.1 876.2,1210.6 880.7,1201.7 876.9,1207.3 880.5,1199.4 880.1,1207.8 880.7,1199.3 878.0,1204.2 880.5,1197.3 879.4,1205.5 881.5,1196.9 880.9,1204.4 883.2,1196.2 879.6,1200.9 878.5,1195.6 879.2,1202.8 879.7,1193.5 882.4,1199.8 880.6,1190.5 882.2,1199.9 882.0,1191.0 883.0,1197.7 883.5,1189.8 880.1,1195.4 885.4,1189.8 884.8,1194.3 880.9,1187.8 882.7,1194.6 883.1,1187.6 886.6,1195.2 883.1,1186.1 883.2,1193.6 885.0,1185.5 884.7,1191.2 885.1,1183.8 887.4,1188.1 884.7,1181.9 883.1,1189.8 885.6,1181.4 882.9,1189.4 884.5,1181.0 885.6,1189.3 886.9,1179.0 886.0,1187.2 886.1,1179.8 885.7,1185.2 889.5,1178.9 885.1,1187.5 889.1,1182.4 885.9,1187.2 887.1,1175.9 888.6,1183.9 889.4,1177.8 888.8,1188.7 887.4,1174.9 890.3,1183.1 888.1,1175.5 888.5,1178.9 888.5,1173.8 891.8,1179.8 891.0,1172.0 893.0,1179.8 890.7,1171.1 887.8,1176.8 890.4,1167.9 890.6,1172.4 890.3,1165.7 894.6,1171.3 889.1,1164.4 894.7,1172.9 893.1,1163.7 890.8,1171.9 890.6,1163.7 896.0,1170.7 891.8,1163.4 893.2,1169.7 893.4,1161.5 896.2,1168.5 896.1,1158.0 893.5,1164.5 891.7,1158.3 893.2,1163.9 896.6,1158.2 897.3,1164.0 893.8,1157.1 895.6,1163.8 894.9,1156.9 895.6,1163.1 894.7,1157.3 894.5,1163.6 898.4,1157.8 896.9,1165.4 897.2,1156.0 895.1,1160.4 898.4,1151.7 899.7,1160.2 899.2,1150.7 899.8,1159.2 900.0,1152.6 899.0,1159.4 898.2,1154.2 901.6,1160.7 897.3,1154.9 901.5,1161.4 897.0,1155.3 899.0,1162.1 897.7,1157.0 898.3,1162.1 902.1,1156.9 898.8,1165.9 897.9,1157.3 898.9,1166.2 900.4,1160.1 899.8,1167.7 902.9,1158.2 900.5,1168.7 900.0,1160.1 902.8,1168.8 902.5,1161.0 899.0,1170.5 904.4,1164.1 901.2,1170.2 900.6,1165.0 903.6,1171.7 900.7,1164.7 904.6,1172.3 902.5,1167.1 900.1,1175.5 906.1,1167.3 901.9,1175.5 900.8,1166.9 905.2,1177.1 906.5,1168.9 905.5,1178.3 906.9,1168.9 906.1,1177.6 907.7,1173.5 903.3,1177.2 906.9,1173.4 907.7,1179.9 907.0,1174.0 904.0,1182.6 902.3,1173.9 904.1,1183.1 906.2,1179.1 907.4,1184.1 907.3,1177.0 904.6,1182.6 904.3,1176.6 907.5,1184.0 907.7,1180.1 904.4,1187.9 909.0,1181.2 909.3,1189.7 908.3,1185.2 909.4,1188.8 909.0,1184.1 910.4,1192.6 906.9,1182.3 907.2,1190.0 909.8,1184.5 907.5,1191.5 911.0,1185.4 908.5,1193.4 907.2,1186.0 910.2,1197.8 911.8,1186.9 907.5,1196.0 908.0,1188.1 911.4,1195.8 908.7,1188.4 912.6,1197.4 909.5,1193.0 914.1,1204.9 910.4,1190.6 913.1,1196.5 908.2,1190.9 911.8,1199.0 911.6,1192.5 911.7,1201.6 914.6,1192.9 910.7,1201.1 912.9,1194.8 914.1,1201.9 913.6,1194.8 911.6,1202.3 914.9,1197.1 911.9,1204.9 913.8,1199.0 913.4,1206.1 915.5,1201.2 914.5,1207.2 915.4,1199.3 918.3,1208.2 916.2,1201.7 916.5,1209.5 913.5,1203.1 914.1,1207.9 913.8,1202.1 915.7,1210.6 914.6,1205.5 918.2,1211.4 917.6,1204.7 915.0,1211.5 915.6,1205.7 919.9,1214.6 916.1,1207.8 915.7,1213.9 917.3,1207.0 916.9,1217.5 919.5,1209.0 919.5,1216.7 921.4,1208.6 920.3,1214.7 918.5,1210.0 919.1,1222.0 920.6,1209.8 921.1,1217.3 918.4,1211.1 922.0,1219.6 921.5,1212.5 920.8,1221.4 920.1,1214.2 922.3,1220.8 918.2,1217.0 920.7,1226.7 920.5,1219.5 923.2,1224.6 919.7,1216.9 920.9,1224.6 920.8,1219.4 923.7,1226.5 921.3,1220.9 924.5,1226.3 922.8,1222.5 923.4,1229.3 921.9,1223.3 922.9,1229.1 924.8,1223.7 925.4,1236.9 922.9,1224.2 922.2,1232.0 923.1,1227.1 924.9,1236.4 927.6,1227.5 926.7,1233.8 927.4,1228.9 926.9,1235.7 929.0,1230.6 922.9,1238.2 926.0,1231.5 926.1,1237.5 928.2,1230.5 926.9,1238.9 929.4,1231.0 924.8,1238.6 925.7,1232.6 928.8,1239.0 926.3,1232.8 929.0,1240.9 929.3,1234.6 929.1,1240.9 931.3,1234.1 929.0,1241.6 929.4,1234.6 928.4,1243.3 928.0,1237.9 930.3,1244.3 930.0,1238.5 928.5,1243.8 930.7,1238.5 930.2,1248.3 932.7,1240.4 932.4,1250.7 928.8,1242.9 928.7,1249.1 929.9,1242.5 931.8,1250.1 930.9,1243.3 933.8,1250.7 935.3,1245.0 934.5,1254.2 930.3,1248.0 931.5,1253.2 930.7,1247.3 932.0,1253.5 930.9,1247.7 936.5,1254.5 933.5,1248.9 932.3,1256.2 934.5,1250.5 935.4,1258.1 931.6,1251.8 931.5,1263.1 932.9,1253.9 933.4,1261.8 933.4,1253.0 937.7,1263.6 933.7,1256.7 932.6,1262.8 935.1,1256.1 934.8,1263.7 935.7,1256.8 935.6,1267.7 936.5,1258.6 933.9,1267.0 935.4,1259.8 937.4,1266.6 936.2,1262.7 938.5,1267.5 938.4,1262.6 938.2,1267.6 940.0,1260.8 936.8,1270.6 935.6,1262.2 941.6,1270.6 937.8,1265.2 937.9,1269.9 938.1,1264.4 939.6,1274.3 942.5,1270.8 942.5,1275.3 941.3,1265.9 942.5,1274.8 942.3,1266.1 940.2,1275.5 938.8,1265.9 944.2,1273.9 942.8,1268.5 941.7,1277.2 941.9,1274.4 945.5,1278.4 944.4,1271.0 944.1,1279.1 942.9,1273.1 940.7,1281.3 943.9,1274.1 945.1,1283.1 942.1,1273.2 945.5,1284.1 943.0,1278.1 944.7,1287.1 945.8,1279.1 946.1,1287.0 945.5,1280.1 943.7,1286.8 944.2,1281.8 946.0,1288.7 947.9,1280.9 946.8,1290.8 948.6,1283.5 947.8,1297.2 951.2,1283.7 947.1,1290.5 946.5,1284.3 949.9,1290.0 950.5,1284.6 947.4,1291.3 950.0,1283.4 947.2,1291.7 948.5,1283.9 952.3,1293.6 948.7,1285.8 953.0,1292.3 950.7,1288.0 949.2,1294.5 952.8,1292.7 949.4,1297.7 953.3,1297.9 949.9,1300.3 950.5,1292.3 952.3,1298.2 953.5,1292.1 955.1,1300.5 956.5,1292.4 951.8,1304.9 952.9,1294.1 957.2,1301.1 951.8,1294.8 953.5,1301.9 956.8,1293.4 957.2,1299.3 953.2,1300.5 957.4,1303.4 957.3,1296.3 956.8,1302.7 959.2,1297.6 955.6,1305.8 959.1,1299.3 956.7,1310.7 955.9,1300.7 957.2,1312.3 956.8,1300.7 959.5,1309.8 960.8,1302.5 956.8,1310.1 959.7,1303.0 957.6,1310.5 958.0,1303.5 958.2,1310.1 960.3,1302.9 958.6,1312.3 960.7,1304.6 960.0,1315.1 960.4,1305.5 962.1,1314.6 960.8,1306.1 962.5,1314.3 960.0,1308.1 959.8,1316.3 961.0,1309.3 960.0,1318.2 960.7,1311.4 963.1,1320.6 960.6,1313.0 962.7,1318.3 963.8,1314.4 964.6,1323.0 962.1,1315.3 964.2,1321.7 962.2,1317.5 962.9,1322.9 965.5,1317.4 965.8,1324.8 964.3,1319.6 964.0,1328.5 966.8,1322.0 967.3,1328.2 967.1,1323.8 964.4,1336.0 965.6,1324.3 964.4,1330.6 966.7,1324.1 967.3,1333.0 970.5,1325.9 968.4,1332.3 969.2,1325.7 967.8,1333.0 971.0,1326.4 968.6,1335.0 969.0,1325.7 969.8,1335.5 971.2,1329.0 968.9,1337.1 967.4,1330.5 969.6,1340.5 969.5,1331.9 972.9,1338.6 971.2,1332.6 972.3,1339.5 971.5,1334.4 973.0,1340.4 968.5,1333.5 970.0,1340.1 969.3,1334.8 974.5,1343.7 970.2,1335.1 972.0,1343.8 971.0,1335.8 974.9,1342.8 970.4,1337.2 972.5,1344.9 976.0,1340.4 975.5,1349.5 973.7,1340.4 971.0,1350.4 972.0,1341.6 976.1,1347.8 976.7,1341.7 976.2,1348.1 976.4,1343.7 976.6,1351.4 973.6,1343.6 977.0,1350.3 977.0,1342.8 977.5,1351.5 975.3,1343.8 974.6,1352.1 978.1,1344.4 976.1,1352.9 978.5,1351.6 976.8,1355.6 975.0,1353.7 975.8,1356.7 978.1,1346.1 977.8,1353.0 981.0,1345.4 977.9,1351.9 977.9,1344.3 980.7,1351.9 977.7,1344.1 978.2,1351.7 978.4,1342.0 977.6,1350.5 980.0,1342.5 976.4,1348.9 981.0,1340.4 980.5,1349.0 976.0,1340.6 981.7,1347.1 976.2,1338.8 981.7,1345.5 976.1,1337.0 978.8,1343.9 980.6,1337.1 979.6,1342.4 976.9,1335.1 978.9,1342.0 980.1,1335.4 982.8,1342.2 977.8,1337.5 980.9,1342.9 978.1,1331.9 979.1,1337.7 981.9,1332.3 979.5,1339.2 981.2,1328.6 979.8,1334.1 982.3,1327.0 982.4,1333.1 978.2,1327.0 980.0,1333.6 981.0,1325.5 981.7,1331.8 982.9,1324.1 982.2,1334.0 980.4,1322.9 981.3,1331.0 980.5,1321.2 982.0,1328.3 979.0,1322.5 981.5,1327.4 983.3,1321.2 981.5,1328.9 982.6,1322.6 980.4,1325.3 978.6,1317.1 980.8,1323.9 981.1,1315.9 983.1,1323.8 980.7,1313.8 982.3,1326.0 981.9,1311.5 983.9,1319.3 982.4,1311.1 981.6,1318.4 981.9,1310.7 979.4,1317.3 982.6,1312.5 983.2,1315.9 986.0,1310.0 982.5,1317.5 981.5,1309.6 980.2,1316.2 985.2,1308.1 985.4,1316.3 983.0,1305.8 981.2,1312.6 984.2,1304.8 984.4,1310.8 981.3,1303.5 982.5,1309.6 982.5,1303.2 987.4,1310.5 985.5,1304.1 984.3,1309.0 981.7,1306.2 986.6,1309.2 986.3,1303.0 982.3,1309.4 981.6,1300.2 985.2,1306.7 985.7,1300.6 984.0,1306.4 982.8,1297.4 984.1,1303.3 983.6,1295.7 989.0,1301.7 987.7,1294.5 983.9,1300.7 986.6,1293.4 985.5,1304.0 984.0,1293.1 984.7,1300.0 989.6,1292.0 987.8,1297.9 986.1,1291.5 986.4,1296.3 985.5,1290.3 986.5,1295.5 990.9,1288.0 990.1,1294.1 987.9,1291.7 986.9,1299.9 986.5,1286.9 988.8,1295.3 987.7,1286.3 989.7,1290.7 992.1,1284.4 990.0,1292.4 991.6,1287.3 993.2,1290.1 990.2,1284.2 989.7,1291.5 992.8,1283.3 990.8,1290.1 993.1,1280.9 993.9,1290.2 994.4,1281.6 990.3,1286.8 992.1,1280.0 993.3,1286.9 993.2,1279.0 994.2,1286.8 994.0,1279.1 995.1,1287.8 996.4,1277.3 993.9,1284.1 992.9,1276.8 995.5,1281.6 993.8,1275.3 994.5,1283.5 994.1,1273.9 997.1,1278.6 996.4,1270.9 995.3,1277.5 994.6,1270.3 994.3,1276.6 996.3,1268.2 997.4,1276.8 998.2,1269.1 1000.2,1274.7 999.5,1269.4 995.8,1275.0 1002.6,1266.2 998.3,1274.1 1002.0,1265.1 1001.5,1274.3 1002.3,1263.1 999.7,1276.0 999.5,1264.4 1003.2,1271.0 1002.0,1260.3 1003.1,1267.9 1003.6,1261.1 1003.1,1270.0 1004.3,1261.0 1002.8,1268.2 1004.2,1260.6 1004.7,1267.3 1001.8,1257.7 1002.2,1265.9 1004.6,1256.7 1003.4,1265.4 1006.9,1255.4 1006.8,1263.9 1007.0,1255.0 1008.2,1261.6 1003.1,1254.3 1005.3,1260.5 1004.9,1254.2 1007.0,1264.4 1003.7,1252.8 1009.8,1260.2 1006.1,1251.7 1009.9,1256.6 1007.2,1248.0 1009.0,1255.9 1005.3,1249.0 1010.9,1256.9 1009.5,1248.3 1007.7,1254.9 1010.5,1245.1 1009.8,1252.0 1010.6,1246.5 1009.9,1252.6 1012.5,1247.6 1007.6,1254.0 1009.4,1246.2 1011.3,1251.6 1008.5,1245.5 1010.4,1252.2 1015.5,1244.5 1013.0,1251.4 1015.7,1243.3 1015.3,1250.0 1016.6,1241.6 1012.7,1248.8 1013.2,1238.8 1013.3,1247.2 1012.1,1238.6 1016.6,1245.0 1017.4,1235.9 1014.7,1242.0 1013.0,1235.7 1014.5,1242.2 1014.9,1236.1 1017.4,1242.4 1014.6,1233.7 1013.8,1240.9 1015.5,1232.5 1016.7,1238.7 1016.7,1232.7 1016.3,1245.9 1017.5,1231.8 1018.4,1238.8 1019.9,1231.3 1016.8,1235.6 1018.8,1230.1 1018.9,1238.8 1017.6,1229.8 1018.5,1238.1 1022.6,1228.8 1019.8,1234.8 1020.0,1226.6 1021.7,1233.0 1019.2,1228.6 1019.8,1233.1 1022.5,1227.6 1019.7,1234.3 1020.2,1225.0 1019.5,1237.9 1021.8,1225.4 1023.3,1231.8 1021.4,1224.6 1023.7,1231.7 1020.3,1222.3 1024.3,1226.8 1022.9,1219.8 1022.1,1225.3 1022.7,1219.7 1026.4,1229.5 1023.6,1217.5 1020.6,1225.7 1023.9,1217.5 1026.3,1221.4 1024.2,1214.3 1025.7,1222.4 1022.0,1212.9 1028.0,1220.0 1026.9,1212.7 1027.9,1219.1 1028.2,1211.5 1028.0,1217.2 1026.2,1218.3 1024.5,1217.2 1029.4,1211.7 1028.4,1222.1 1030.5,1209.8 1030.6,1215.3 1024.5,1211.9 1027.9,1217.6 1027.0,1209.3 1026.7,1216.5 1027.9,1207.8 1032.3,1214.2 1031.7,1205.8 1030.3,1211.9 1032.8,1203.5 1028.9,1212.1 1027.2,1202.3 1029.2,1207.5 1030.5,1200.9 1031.7,1207.9 1033.1,1199.6 1029.9,1205.3 1031.2,1199.2 1035.2,1206.6 1034.3,1204.7 1034.4,1206.0 1035.4,1197.1 1034.2,1203.6 1033.5,1197.8 1031.2,1209.8 1030.0,1195.6 1031.3,1201.8 1035.4,1194.1 1032.7,1200.4 1035.7,1193.8 1034.5,1199.4 1034.3,1192.8 1035.0,1199.2 1033.6,1191.0 1033.7,1200.7 1033.9,1192.8 1036.1,1197.4 1036.3,1191.6 1038.3,1196.9 1034.7,1191.8 1036.9,1198.4 1037.9,1189.2 1037.5,1195.2 1035.7,1194.2 1036.6,1195.1 1035.9,1188.6 1038.1,1193.6 1038.0,1186.1 1041.0,1191.2 1038.3,1182.9 1040.9,1190.0 1040.0,1180.9 1040.8,1189.2 1042.2,1180.7 1042.5,1186.4 1043.2,1179.4 1037.4,1185.9 1040.4,1179.9 1041.2,1187.8 1041.9,1179.9 1041.8,1186.3 1038.1,1176.7 1039.5,1181.9 1039.6,1176.7 1042.9,1186.3 1043.9,1173.9 1043.6,1181.7 1040.5,1174.7 1040.5,1182.2 1044.3,1174.0 1043.3,1180.2 1041.0,1172.4 1042.4,1184.4 1046.1,1173.1 1042.7,1178.5 1044.8,1172.5 1045.9,1178.0 1044.5,1171.1 1045.2,1178.1 1044.3,1176.4 1045.0,1177.9 1044.3,1166.9 1046.7,1178.0 1045.5,1165.3 1046.4,1175.7 1049.0,1164.9 1049.2,1173.5 1045.6,1165.8 1046.1,1171.2 1046.2,1165.8 1046.4,1171.3 1049.6,1162.2 1046.8,1168.9 1047.1,1161.2 1048.9,1169.1 1049.8,1160.7 1049.1,1168.7 1049.6,1159.3 1049.9,1169.3 1049.6,1157.6 1049.5,1167.4 1048.6,1157.8 1050.3,1164.4 1047.9,1157.5 1050.9,1165.6 1050.3,1156.3 1054.3,1161.5 1050.5,1154.5 1053.7,1159.5 1050.0,1153.0 1052.9,1161.4 1052.5,1152.0 1051.0,1157.1 1054.7,1151.2 1053.0,1159.5 1051.0,1150.1 1054.3,1158.9 1054.7,1150.3 1056.0,1159.2 1052.5,1148.1 1055.9,1156.7 1056.2,1148.0 1057.1,1154.8 1055.9,1147.3 1058.4,1155.2 1055.1,1148.9 1057.1,1158.1 1053.7,1150.5 1053.9,1156.3 1056.7,1151.7 1058.4,1159.3 1055.5,1153.5 1054.1,1162.6 1056.9,1155.2 1058.3,1161.8 1056.1,1155.3 1056.6,1166.0 1059.2,1156.7 1057.1,1164.1 1057.3,1157.5 1058.9,1168.1 1059.6,1159.1 1060.3,1165.4 1059.4,1159.8 1061.2,1167.7 1059.6,1161.1 1060.4,1167.5 1061.2,1162.5 1057.1,1169.2 1059.8,1164.3 1060.6,1170.5 1060.3,1164.7 1059.7,1171.0 1059.7,1165.3 1060.1,1170.8 1062.5,1170.7 1058.3,1172.6 1058.0,1166.5 1061.9,1178.4 1060.1,1169.0 1060.3,1177.3 1059.5,1168.3 1059.6,1177.1 1063.5,1172.0 1064.6,1179.4 1062.6,1171.3 1062.2,1181.9 1062.0,1172.3 1062.8,1185.0 1060.2,1173.8 1062.4,1180.2 1063.1,1173.7 1065.2,1188.4 1064.2,1175.9 1060.7,1189.4 1061.7,1176.1 1062.4,1184.5 1066.0,1178.7 1065.2,1187.4 1063.9,1180.0 1065.7,1186.5 1063.2,1179.6 1064.4,1189.5 1066.9,1179.8 1067.7,1187.2 1068.1,1182.3 1069.0,1188.9 1065.5,1184.0 1064.2,1191.6 1068.8,1184.3 1068.8,1193.3 1067.5,1186.8 1065.7,1191.6 1069.4,1185.1 1069.9,1194.1 1066.3,1187.1 1069.8,1194.1 1067.5,1186.7 1070.5,1193.9 1066.2,1187.4 1070.8,1192.8 1066.9,1188.4 1067.8,1194.2 1066.5,1187.3 1071.5,1194.6 1069.3,1189.3 1072.0,1197.4 1067.4,1190.2 1068.8,1198.4 1070.5,1190.8 1068.9,1198.9 1069.4,1192.6 1072.8,1198.6 1072.7,1193.5 1072.3,1201.7 1072.1,1192.9 1071.2,1201.2 1072.5,1196.9 1073.0,1205.9 1069.4,1198.3 1070.6,1203.4 1072.3,1197.6 1071.6,1206.9 1071.8,1200.5 1075.2,1205.6 1071.6,1202.1 1072.1,1212.0 1070.5,1200.7 1072.7,1206.8 1073.7,1201.2 1072.8,1208.3 1075.0,1202.7 1073.6,1210.2 1074.3,1201.9 1076.6,1209.1 1075.2,1204.5 1074.7,1213.5 1075.9,1209.1 1079.7,1213.4 1075.9,1205.6 1073.9,1213.5 1074.3,1207.0 1079.2,1215.2 1079.7,1208.6 1074.8,1215.5 1081.0,1210.5 1077.2,1218.3 1079.9,1213.0 1075.8,1221.0 1076.3,1214.0 1075.9,1221.4 1079.9,1214.8 1077.8,1221.6 1080.7,1215.3 1078.6,1224.6 1079.6,1217.3 1080.4,1224.8 1077.7,1217.7 1078.7,1227.6 1078.2,1220.7 1077.9,1227.5 1083.0,1220.3 1078.9,1228.3 1082.8,1222.9 1082.7,1228.5 1081.0,1221.9 1083.3,1231.1 1081.9,1224.9 1082.7,1233.0 1084.0,1226.4 1080.5,1234.0 1082.6,1226.6 1083.2,1234.9 1082.3,1227.3 1081.6,1234.9 1084.4,1226.4 1084.7,1233.7 1084.3,1227.2 1085.8,1237.9 1084.1,1228.5 1083.4,1235.5 1083.8,1231.8 1084.1,1239.0 1082.9,1238.2 1084.3,1240.3 1084.4,1235.2 1082.7,1241.3 1086.8,1234.6 1087.7,1240.9 1085.4,1232.8 1088.0,1241.1 1086.9,1234.2 1088.6,1240.1 1090.0,1235.9 1089.8,1242.0 1090.1,1235.2 1090.7,1244.9 1089.8,1237.4 1087.9,1249.5 1088.2,1235.9 1091.0,1246.2 1090.7,1237.5 1087.8,1251.6 1089.4,1239.2 1091.5,1247.2 1090.5,1241.7 1088.1,1248.6 1086.5,1242.2 1090.2,1248.9 1092.0,1242.6 1090.3,1252.9 1092.3,1245.2 1089.2,1251.8 1089.8,1249.9 1093.8,1254.4 1091.9,1247.9 1091.9,1255.6 1094.1,1249.6 1094.3,1255.6 1094.8,1248.9 1091.0,1266.4 1093.7,1255.7 1095.7,1258.2 1095.1,1251.9 1093.2,1259.8 1090.2,1253.8 1094.4,1260.1 1092.2,1253.2 1094.1,1260.3 1096.4,1255.2 1096.4,1260.3 1093.1,1254.4 1095.2,1262.7 1093.5,1257.5 1093.5,1264.1 1098.7,1258.1 1095.2,1267.2 1094.9,1258.1 1094.4,1266.9 1096.8,1259.3 1096.1,1267.5 1096.5,1262.0 1095.6,1269.9 1097.9,1262.1 1100.6,1269.1 1096.8,1261.6 1100.1,1269.3 1095.6,1262.4 1096.4,1268.3 1094.9,1264.0 1097.9,1272.4 1100.7,1266.3 1097.2,1273.8 1098.7,1270.3 1100.3,1274.1 1098.2,1268.7 1097.6,1274.1 1100.8,1276.4 1097.9,1275.8 1100.9,1268.4 1102.4,1275.3 1099.3,1268.4 1102.5,1279.9 1100.6,1271.3 1099.9,1279.1 1102.3,1274.2 1101.3,1281.7 1100.1,1274.5 1102.8,1282.7 1100.6,1276.3 1104.3,1282.9 1101.1,1276.6 1101.4,1283.0 1100.3,1276.3 1101.9,1282.2 1101.8,1276.8 1105.0,1284.6 1101.8,1278.5 1101.1,1286.6 1106.3,1279.9 1105.3,1288.7 1107.7,1279.8 1106.0,1289.7 1106.0,1281.9 1107.5,1290.3 1102.8,1283.5 1105.7,1291.8 1107.1,1286.5 1103.5,1294.3 1109.1,1286.3 1104.0,1296.0 1104.6,1289.4 1108.0,1297.5 1105.9,1290.3 1108.0,1298.2 1109.6,1290.5 1109.5,1296.4 1109.2,1290.8 1107.1,1296.3 1110.5,1291.8 1105.8,1299.7 1108.3,1293.0 1107.9,1299.2 1111.9,1293.4 1108.8,1300.8 1107.2,1293.5 1110.1,1301.0 1109.7,1294.6 1112.3,1300.7 1112.9,1300.1 1109.8,1306.1 1112.8,1298.6 1111.7,1305.1 1110.9,1300.0 1112.3,1306.7 1114.0,1299.6 1114.5,1309.9 1115.0,1303.1 1113.7,1311.0 1113.0,1302.7 1116.1,1311.8 1113.9,1305.5 1111.6,1312.5 1112.9,1305.1 1114.2,1311.8 1115.8,1306.3 1116.7,1312.2 1115.6,1310.1 1113.1,1311.5 1115.3,1306.4 1112.2,1314.7 1114.6,1308.7 1117.0,1315.5 1119.3,1309.8 1114.4,1318.1 1114.0,1310.7 1117.3,1319.3 1118.0,1310.7 1119.3,1317.7 1119.1,1316.2 1118.1,1319.4 1117.3,1311.6 1116.3,1320.6 1119.7,1313.5 1115.7,1321.2 1118.2,1314.6 1122.1,1324.8 1122.8,1316.1 1122.5,1324.6 1119.8,1318.2 1117.8,1324.4 1119.7,1318.1 1119.5,1326.9 1119.9,1320.0 1122.5,1327.4 1118.8,1321.8 1123.4,1329.9 1124.1,1322.6 1119.6,1331.1 1124.9,1323.7 1122.3,1331.8 1121.1,1324.3 1125.7,1331.3 1124.9,1323.9 1121.8,1330.7 1124.2,1327.5 1124.2,1331.8 1123.4,1323.6 1124.2,1331.7 1121.7,1326.4 1123.3,1334.1 1125.7,1327.5 1126.1,1338.7 1128.1,1330.0 1127.4,1337.7 1127.1,1333.4 1128.2,1337.3 1129.1,1332.0 1124.3,1340.7 1125.0,1332.0 1126.9,1339.9 1129.3,1334.7 1128.1,1340.3 1128.8,1335.3 1131.4,1342.4 1126.2,1340.5 1128.1,1344.3 1129.4,1336.0 1130.7,1344.0 1131.6,1336.5 1130.9,1345.1 1128.6,1337.8 1128.5,1344.9 1130.8,1338.0 1131.8,1345.0 1130.4,1338.3 1133.3,1346.0 1131.5,1340.0 1132.3,1348.0 1130.8,1340.9 1132.4,1348.2 1135.1,1340.2 1134.4,1347.3 1134.1,1344.9 1134.4,1349.7 1135.6,1342.5 1135.5,1349.0 1132.2,1341.8 1135.3,1350.9 1136.7,1345.2 1138.4,1351.3 1135.0,1346.0 1135.0,1354.3 1139.4,1346.2 1138.2,1352.2 1138.1,1349.0 1139.5,1355.1 1134.9,1347.9 1138.4,1355.9 1137.6,1349.1 1137.5,1358.6 1137.7,1350.2 1140.8,1358.4 1136.0,1351.9 1139.5,1359.8 1136.9,1353.1 1140.9,1359.3 1142.7,1354.2 1139.0,1366.9 1141.1,1355.1 1142.4,1363.7 1139.9,1355.5 1139.6,1361.0 1144.9,1355.8 1140.4,1362.7 1141.0,1357.7 1141.9,1364.9 1142.8,1363.4 1142.3,1365.9 1141.9,1358.0 1143.0,1366.7 1143.7,1360.7 1145.5,1367.7 1145.8,1361.5 1147.2,1368.8 1143.4,1361.6 1143.9,1370.9 1144.0,1362.2 1148.5,1369.1 1143.5,1362.9 1147.6,1372.5 1149.2,1369.6 1146.4,1374.6 1147.3,1367.3 1147.4,1376.8 1146.7,1367.4 1150.9,1375.7 1146.1,1369.8 1146.0,1376.0 1147.4,1369.0 1151.1,1375.1 1149.5,1370.8 1148.5,1377.1 1149.9,1371.6 1150.8,1378.6 1152.6,1377.4 1149.9,1379.7 1152.3,1374.0 1150.3,1380.5 1153.0,1373.2 1149.2,1382.6 1153.9,1376.7 1151.7,1385.2 1149.3,1376.7 1154.7,1385.9 1153.3,1378.2 1156.0,1389.0 1156.7,1380.7 1152.2,1388.3 1152.8,1380.8 1156.1,1390.8 1157.3,1380.6 1154.8,1390.1 1152.9,1382.9 1157.0,1390.5 1154.2,1383.6 1156.4,1392.8 1155.9,1384.4 1153.9,1392.2 1159.3,1383.8 1157.3,1391.6 1161.8,1384.9 1156.2,1392.2 1161.3,1383.1 1157.9,1390.1 1159.5,1383.3 1158.0,1398.6 1157.8,1390.7 1163.2,1394.0 1162.6,1387.9 1160.2,1392.5 1158.8,1387.5 1161.1,1394.9 1161.2,1386.8 1164.0,1395.1 1161.3,1388.5 1165.9,1394.8 1165.3,1390.1 1161.5,1396.9 1162.2,1390.8 1163.8,1397.7 1165.6,1391.8 1168.0,1399.9 1168.3,1392.7 1165.2,1401.7 1170.0,1393.0 1165.3,1400.8 1166.4,1394.6 1168.5,1402.0 1170.2,1396.8 1169.4,1406.2 1168.3,1398.1 1170.1,1406.2 1166.9,1398.5 1167.7,1405.8 1167.7,1399.4 1172.5,1407.2 1172.2,1400.4 1172.8,1410.9 1170.0,1400.2 1172.1,1408.4 1171.5,1401.1 1172.8,1408.1 1171.6,1402.0 1172.1,1407.9 1172.9,1402.7 1176.3,1411.3 1177.1,1405.1 1174.0,1414.2 1176.6,1405.4 1172.7,1412.6 1173.6,1405.0 1177.9,1413.4 1178.8,1407.3 1175.5,1414.5 1177.6,1407.3 1176.2,1413.3 1177.9,1406.8 1182.1,1415.7 1179.0,1409.0 1178.9,1418.7 1178.1,1414.1 1178.0,1417.0 1178.7,1411.9 1179.3,1419.6 1183.2,1414.0 1183.8,1425.1 1180.8,1413.9 1181.9,1423.8 1181.8,1420.0 1183.2,1424.0 1183.3,1416.7 1182.9,1424.1 1186.3,1417.5 1185.5,1424.4 1185.0,1417.2 1186.0,1431.4 1183.8,1418.3 1183.7,1423.6 1187.1,1416.8 1187.8,1429.5 1188.7,1417.9 1188.6,1427.8 1189.1,1421.1 1187.6,1434.7 1189.9,1421.1 1186.2,1428.7 1187.1,1419.4 1188.8,1428.2 1188.0,1422.5 1190.3,1430.0 1187.7,1422.4 1191.9,1431.5 1190.9,1423.3 1190.6,1433.1 1190.7,1427.5 1193.4,1430.6 1192.7,1423.6 1194.9,1431.6 1194.2,1425.0 1194.6,1432.3 1195.1,1427.1 1190.7,1435.3 1196.8,1427.4 1195.2,1433.4 1195.6,1428.8 1192.8,1434.1 1193.8,1429.8 1198.9,1437.5 1194.1,1430.4 1196.6,1439.6 1193.8,1431.4 1197.4,1439.2 1195.4,1433.6 1199.6,1441.1 1194.5,1434.0 1199.0,1441.1 1198.8,1436.0 1195.8,1443.6 1198.8,1435.6 1199.6,1447.6 1197.7,1437.9 1201.5,1445.4 1199.9,1439.5 1201.1,1445.5 1202.3,1440.8 1198.2,1447.3 1199.6,1447.9 1202.8,1449.3 1201.2,1448.9 1204.5,1449.6 1203.5,1442.5 1202.5,1451.2 1204.2,1443.5 1204.7,1449.6 1205.3,1445.0 1201.6,1452.4" stroke-width="1.6"/></g>
<g fill="none" stroke="#4b4e54" stroke-linejoin="round"><path d="M184.7,1506.4 185.7,1504.3 186.6,1502.5 187.6,1501.2 188.6,1499.0 189.6,1497.6 190.5,1496.7 191.5,1495.6 192.6,1495.0 193.7,1491.9 194.9,1490.3 196.1,1487.0 197.2,1484.4 198.4,1481.9 199.5,1480.2 200.7,1478.4 202.2,1476.1 203.8,1473.9 205.4,1473.2 206.9,1472.9 208.5,1471.5 210.1,1467.6 211.7,1466.8 213.3,1465.7 214.9,1464.0 216.4,1463.3 218.0,1460.7 219.6,1460.2 221.1,1458.6 222.5,1455.9 224.0,1454.0 225.5,1451.7 227.0,1449.6 228.4,1449.2 229.9,1447.1 231.4,1445.7 232.8,1443.0 234.3,1442.5 235.8,1442.8 237.3,1440.0 238.9,1438.3 240.7,1437.4 242.6,1436.9 244.4,1433.9 246.2,1433.2 248.1,1430.8 249.9,1429.4 251.7,1428.2 253.5,1425.6 255.4,1424.5 257.3,1422.5 259.2,1422.3 261.1,1421.6 262.9,1419.9 264.8,1418.1 266.7,1419.3 268.6,1416.8 270.5,1415.1 272.5,1415.0 274.6,1418.3 276.6,1418.9 278.6,1420.1 280.6,1421.9 282.7,1421.7 284.7,1424.4 286.6,1423.4 288.4,1425.6 290.2,1428.6 291.9,1428.7 293.7,1429.5 295.5,1430.6 297.3,1431.0 299.1,1433.0 300.9,1433.9 302.7,1435.6 304.4,1436.1 306.2,1437.1 308.0,1438.9 309.8,1440.9 311.6,1442.5 313.3,1443.3 315.1,1445.6 316.9,1447.9 318.7,1449.8 320.5,1451.0 322.7,1451.2 324.8,1451.3 326.9,1452.5 329.0,1452.9 331.2,1454.3 333.3,1454.1 335.4,1454.7 337.5,1455.5 339.7,1455.8 341.8,1458.2 343.9,1458.7 345.8,1457.2 347.7,1455.4 349.6,1454.2 351.5,1453.0 353.4,1453.3 355.3,1450.5 357.2,1447.2 359.1,1448.9 361.0,1446.9 362.9,1445.3 364.8,1443.0 366.6,1442.2 368.5,1440.0 370.4,1439.5 372.3,1439.2 374.2,1437.0 376.1,1435.4 377.9,1435.4 379.8,1434.5 381.7,1433.8 383.6,1433.0 385.6,1430.6 387.5,1430.3 389.5,1429.1 391.5,1429.4 393.5,1429.7 395.4,1428.3 397.4,1428.1 399.4,1425.8 401.3,1424.6 403.3,1423.7 405.3,1423.2 407.5,1422.7 409.7,1421.2 411.9,1419.8 414.0,1418.8 416.2,1417.7 418.4,1418.0 420.5,1417.4 422.3,1417.1 424.2,1419.5 426.0,1419.1 427.9,1419.9 429.8,1423.2 431.6,1424.4 433.5,1425.9 435.3,1427.7 437.2,1428.7 439.1,1430.3 440.9,1431.4 442.8,1431.9 444.6,1434.3 446.5,1434.9 448.2,1438.2 450.0,1437.4 451.7,1439.9 453.4,1441.7 455.2,1442.8 456.9,1442.8 458.6,1443.2 460.3,1445.6 462.1,1447.4 463.8,1447.8 465.5,1447.1 467.3,1449.5 469.0,1450.5 470.7,1452.2 472.5,1452.6 474.4,1455.3 476.5,1456.1 478.5,1456.4 480.5,1457.7 482.6,1459.0 484.6,1460.1 486.7,1462.2 488.7,1462.9 490.7,1464.1 492.8,1464.9 494.8,1463.1 496.9,1463.4 498.9,1465.3 501.0,1465.1 503.2,1464.0 505.3,1462.6 507.5,1462.2 509.6,1461.2 511.8,1461.7 513.9,1462.4 516.1,1462.9 518.3,1463.2 520.4,1461.1 522.6,1460.6 524.7,1459.5 526.7,1458.3 528.5,1456.0 530.3,1455.7 532.1,1454.3 533.9,1451.8 535.7,1451.8 537.5,1450.4 539.3,1449.6 541.1,1447.8 542.9,1446.4 544.7,1444.1 546.5,1443.2 548.3,1442.1 550.1,1440.7 551.9,1440.0 553.9,1439.9 555.9,1440.0 558.0,1440.0 560.1,1439.3 562.2,1438.5 564.3,1438.9 566.3,1437.0 568.4,1436.7 570.5,1435.4 572.6,1434.9 574.6,1434.1 576.7,1433.3 578.8,1432.6 580.9,1430.9 583.0,1429.5 585.0,1429.8 586.9,1430.4 588.8,1431.3 590.7,1432.8 592.7,1433.4 594.6,1435.4 596.5,1436.3 598.5,1438.3 600.4,1439.7 602.3,1440.6 604.2,1443.7 606.1,1443.9 607.9,1445.0 609.8,1446.9 611.6,1447.3 613.4,1447.4 615.2,1448.9 617.0,1450.1 618.9,1450.3 620.7,1452.3 622.5,1454.9 624.3,1455.9 626.1,1454.5 628.0,1455.8 629.8,1458.2 631.6,1458.2 633.5,1458.6 635.5,1460.2 637.4,1461.0 639.3,1462.0 641.2,1464.9 643.2,1464.7 645.1,1466.9 647.0,1468.7 648.9,1470.5 650.9,1472.1 652.8,1473.6 654.9,1473.4 657.1,1475.3 659.2,1476.1 661.3,1475.9 663.5,1475.1 664.9,1474.6 666.2,1473.1 667.4,1470.4 668.7,1467.1 669.9,1465.3 671.2,1463.6 672.4,1462.4 673.7,1460.7 674.9,1459.7 676.1,1458.0 677.2,1455.4 678.4,1454.5 679.6,1452.5 680.8,1452.3 682.0,1451.3 683.1,1450.3 684.3,1446.8 685.5,1445.4 686.7,1444.8 688.0,1441.1 689.2,1439.1 690.4,1437.5 691.7,1434.4 692.9,1432.0 694.1,1429.9 695.3,1428.7 696.6,1428.0 697.8,1425.5 699.0,1423.2 700.3,1420.5 701.5,1419.7 702.7,1418.0 703.9,1415.7 705.2,1413.2 706.4,1411.3 707.6,1408.2 708.9,1407.8 710.1,1406.9 711.2,1404.9 712.1,1402.3 712.9,1400.0 713.8,1398.8 714.6,1396.0 715.5,1394.0 716.3,1391.4 717.2,1390.9 718.0,1390.5 718.9,1389.1 719.7,1387.3 720.6,1384.1 721.4,1382.5 722.3,1380.0 723.1,1377.6 724.0,1374.9 725.0,1371.6 726.0,1370.1 727.0,1368.6 728.0,1367.7 729.0,1365.2 730.0,1364.0 731.0,1360.4 732.0,1356.8 733.0,1354.5 734.0,1354.4 735.0,1353.1 736.4,1351.0 737.7,1347.6 739.1,1345.2 740.4,1342.9 741.8,1341.3 743.1,1341.6 744.5,1338.4 745.9,1337.8 747.5,1338.2 749.1,1340.3 750.8,1342.2 752.4,1344.4 754.0,1345.1 755.6,1347.2 756.9,1348.5 758.1,1350.4 759.2,1351.7 760.4,1354.3 761.6,1356.6 762.8,1358.0 764.0,1359.7 765.1,1362.6 766.3,1366.3 767.5,1367.8 768.7,1368.4 769.8,1370.3 771.0,1372.7 772.1,1374.6 773.1,1378.9 774.0,1379.6 774.9,1381.5 775.9,1382.4 776.8,1386.0 777.8,1385.8 778.7,1386.6 779.6,1389.5 780.6,1391.0 781.5,1393.4 782.4,1394.2 783.4,1396.3 784.3,1398.3 785.2,1400.6 786.2,1403.5 787.1,1406.7 788.1,1408.7 789.0,1409.8 789.9,1412.0 791.3,1414.1 793.1,1417.0 795.0,1417.9 796.8,1418.8 798.6,1420.3 800.4,1421.8 802.2,1422.7 804.1,1422.9 805.9,1424.9 807.7,1426.6 809.5,1428.6 811.3,1430.6 813.2,1431.7 815.0,1431.9 816.8,1431.8 818.8,1431.5 820.8,1432.3 822.9,1434.5 824.9,1434.9 826.9,1435.7 828.6,1435.0 830.3,1433.8 832.0,1430.0 833.6,1429.9 835.3,1428.5 837.0,1426.1 838.6,1424.3 840.3,1424.9 841.9,1423.7 843.6,1422.6 845.3,1420.4 846.9,1420.4 848.6,1416.7 849.8,1413.4 850.9,1412.5 852.1,1411.4 853.2,1412.0 854.4,1408.3 855.5,1407.8 856.7,1406.1 857.8,1404.9 859.0,1401.4 860.1,1400.0 861.3,1399.2 862.4,1396.5 863.5,1393.7 864.6,1390.9 865.7,1387.8 866.8,1385.9 867.9,1384.2 868.9,1383.6 870.0,1381.7 871.1,1381.0 872.2,1379.2 873.3,1377.7 874.3,1374.6 875.4,1373.1 876.5,1370.8 877.6,1368.8 878.7,1366.5 879.7,1363.7 880.9,1362.0 882.2,1360.4 883.4,1358.8 884.7,1355.8 885.9,1355.8 887.1,1352.7 888.4,1353.3 889.6,1351.4 890.9,1349.7 892.1,1348.1 893.4,1345.9 894.6,1344.9 895.8,1341.1 897.1,1338.6 898.3,1338.7 899.6,1336.4 900.8,1336.3 902.2,1336.9 903.6,1337.5 905.0,1337.8 906.4,1339.5 907.8,1342.2 909.2,1345.1 910.6,1346.6 912.0,1348.8 913.4,1350.7 914.8,1353.0 916.2,1355.3 917.6,1357.4 919.0,1359.7 920.3,1360.9 921.7,1359.7 923.1,1360.8 924.5,1362.5 925.8,1363.7 927.2,1365.6 928.6,1368.2 930.0,1369.0 931.3,1371.2 932.7,1372.8 934.1,1373.3 935.5,1375.1 936.8,1378.6 938.2,1379.2 939.6,1382.7 941.0,1383.2 942.3,1386.0 943.4,1388.7 944.5,1390.0 945.7,1391.8 946.8,1393.0 947.9,1395.4 949.0,1397.3 950.2,1399.4 951.3,1402.1 952.4,1404.5 953.5,1407.0 954.7,1409.4 955.8,1411.8 956.9,1413.9 958.1,1414.8 959.2,1414.9 960.3,1416.8 961.4,1418.4 962.7,1421.0 964.0,1422.8 965.3,1424.6 966.6,1425.5 967.9,1428.1 969.2,1429.7 970.5,1431.3 971.8,1434.6 973.1,1437.3 974.4,1438.5 975.7,1440.5 977.0,1441.7 978.3,1444.1 979.7,1443.2 981.2,1442.6 982.7,1440.1 984.2,1438.0 985.7,1438.1 987.2,1435.7 988.7,1433.8 990.2,1431.8 991.7,1430.1 993.1,1429.9 994.6,1427.2 996.2,1425.2 997.9,1423.1 999.5,1420.4 1001.2,1419.5 1002.8,1416.6 1004.5,1415.6 1006.1,1414.2 1007.8,1413.1 1009.4,1410.5 1011.1,1409.3 1012.7,1407.6 1014.4,1405.7 1016.0,1405.8 1017.2,1403.7 1018.5,1402.0 1019.7,1401.8 1020.9,1399.7 1022.2,1398.0 1023.4,1395.4 1024.6,1393.3 1025.8,1390.1 1027.1,1388.0 1028.3,1384.7 1029.5,1383.9 1030.8,1382.6 1032.0,1380.6 1033.2,1379.4 1034.5,1379.5 1035.7,1377.5 1036.9,1376.1 1038.2,1373.7 1039.4,1372.3 1040.7,1370.8 1042.0,1367.3 1043.4,1366.1 1044.7,1364.7 1046.1,1362.6 1047.4,1360.9 1048.8,1359.1 1050.1,1357.7 1051.5,1355.7 1052.9,1354.8 1054.2,1352.0 1055.6,1349.2 1056.9,1349.2 1058.3,1345.3 1059.6,1344.3 1061.0,1342.5 1062.3,1342.4 1063.9,1340.7 1065.6,1342.5 1067.3,1342.3 1069.0,1342.4 1070.7,1345.8 1072.4,1348.5 1074.1,1349.8 1075.7,1351.4 1077.1,1353.0 1078.5,1354.7 1079.9,1356.2 1081.3,1358.8 1082.8,1360.8 1084.2,1362.6 1085.6,1363.6 1087.0,1365.7 1088.4,1367.8 1089.8,1370.1 1090.8,1371.5 1091.8,1372.0 1092.8,1373.3 1093.8,1376.3 1094.8,1378.8 1095.8,1381.3 1096.8,1383.1 1097.8,1385.1 1098.8,1386.7 1099.8,1388.9 1100.8,1391.6 1101.8,1393.2 1102.8,1395.8 1103.8,1396.3 1104.8,1398.1 1105.8,1397.8 1106.8,1399.4 1107.8,1400.3 1108.8,1402.4 1109.9,1405.0 1110.9,1406.8 1111.9,1409.3 1113.0,1411.9 1114.0,1414.7 1115.0,1416.0 1116.1,1416.4 1117.1,1419.1 1118.1,1422.1 1119.2,1423.4 1120.2,1426.8 1121.2,1428.8 1122.3,1431.6 1123.3,1432.2 1124.6,1433.6 1125.9,1435.4 1127.2,1438.3 1128.5,1440.5 1129.8,1441.9 1131.2,1444.1 1132.5,1446.4 1133.8,1447.6 1135.1,1449.6 1136.4,1451.3 1137.7,1452.1 1139.0,1453.0 1140.4,1455.6 1141.9,1458.0 1143.5,1459.8 1145.0,1462.3 1146.5,1461.9 1148.1,1465.7 1149.6,1466.7 1151.1,1467.7 1152.7,1469.8 1154.2,1472.1 1155.7,1473.0 1157.3,1475.6 1159.0,1476.5 1160.6,1479.7 1162.2,1478.7 1163.9,1479.8 1165.5,1482.0 1167.2,1482.9 1168.8,1484.3 1170.5,1485.2 1172.1,1487.4 1173.8,1488.6 1175.5,1490.3 1177.3,1491.2 1179.2,1493.0 1181.1,1494.5 1182.9,1494.3 1184.8,1496.3 1186.7,1496.8 1188.5,1497.2 1190.4,1497.4 1192.4,1499.4 1194.4,1500.7 1196.4,1504.1 1198.5,1505.6 1200.5,1508.1 1202.5,1508.3 1204.0,1507.0" stroke-width="8.6"/><path d="M185.1,1515.5 182.0,1501.5 186.4,1509.6 187.6,1509.0 188.9,1518.0 184.1,1500.8 183.4,1509.3 186.4,1497.9 181.1,1509.0 185.0,1496.7 188.2,1509.8 190.8,1498.0 188.0,1510.2 184.6,1497.2 189.1,1504.8 184.5,1494.5 192.0,1506.3 186.3,1494.4 189.6,1503.4 192.5,1495.6 190.3,1502.9 186.1,1493.7 191.9,1505.5 188.0,1494.7 190.9,1502.9 191.4,1491.9 187.4,1504.1 192.9,1492.3 190.3,1504.3 189.1,1493.5 189.7,1500.2 189.9,1491.8 189.4,1501.0 195.8,1491.2 196.7,1499.0 194.0,1488.9 191.8,1501.0 190.8,1491.1 199.6,1498.5 196.6,1486.2 192.7,1496.9 197.3,1484.0 191.6,1495.5 198.1,1484.2 195.4,1493.3 197.2,1482.8 194.7,1492.0 199.7,1480.9 197.4,1491.8 197.5,1478.0 198.9,1487.6 195.9,1479.5 200.4,1490.5 198.2,1477.1 198.3,1487.6 199.2,1476.7 202.2,1488.8 197.9,1474.6 201.8,1484.5 199.8,1471.1 199.5,1482.6 203.2,1478.6 204.3,1485.3 202.6,1473.9 197.5,1482.3 202.4,1471.3 206.2,1482.3 204.9,1470.8 201.4,1479.5 206.6,1470.4 200.8,1479.0 208.3,1468.9 208.2,1480.0 207.3,1466.6 200.8,1479.1 204.6,1467.3 207.3,1477.5 207.2,1475.6 208.8,1477.3 205.9,1469.1 204.3,1477.3 204.3,1464.8 207.8,1477.0 210.4,1462.4 213.4,1475.5 210.8,1461.1 209.9,1485.2 210.4,1462.9 215.8,1472.8 215.6,1462.8 212.9,1470.6 212.6,1459.4 217.4,1473.2 212.0,1463.1 213.1,1471.3 210.7,1459.6 215.4,1471.0 215.5,1459.2 215.3,1471.2 219.3,1459.3 218.6,1471.9 213.6,1456.0 215.6,1466.8 219.6,1458.1 216.5,1471.6 222.3,1455.6 218.8,1468.3 216.5,1457.1 219.0,1467.1 218.0,1456.5 222.9,1464.0 223.0,1455.4 220.2,1473.7 218.0,1452.8 224.0,1462.2 224.3,1454.1 223.5,1463.3 226.8,1451.0 220.4,1461.4 226.7,1451.1 225.0,1462.2 223.4,1449.5 223.5,1460.3 227.1,1446.1 226.5,1458.7 227.8,1445.6 223.9,1457.5 223.2,1446.8 224.2,1454.0 231.2,1445.8 232.1,1456.3 223.6,1445.0 228.5,1454.4 231.2,1446.8 230.9,1453.9 227.5,1442.7 232.9,1451.2 229.1,1441.0 225.6,1453.4 230.2,1439.3 227.7,1451.0 235.5,1441.8 232.6,1452.1 232.6,1440.8 234.9,1449.1 235.5,1438.7 236.3,1451.1 237.2,1437.5 233.7,1450.3 237.1,1437.4 230.8,1453.1 234.9,1438.8 238.1,1446.4 237.4,1437.6 234.6,1447.3 234.7,1438.5 237.8,1445.4 236.2,1432.9 235.8,1445.5 237.3,1433.9 238.5,1443.0 237.3,1432.4 243.8,1443.7 242.3,1432.0 242.1,1445.3 241.9,1431.6 239.2,1443.7 241.3,1432.8 243.7,1442.9 242.1,1431.7 240.5,1441.0 245.7,1430.8 244.0,1440.8 246.7,1427.2 249.6,1440.4 249.7,1429.1 244.6,1441.1 248.5,1429.1 243.8,1436.6 247.9,1426.5 245.4,1436.4 251.9,1424.0 248.7,1437.8 248.6,1423.1 251.4,1438.6 249.8,1425.9 253.6,1434.3 247.9,1424.0 256.7,1434.8 250.3,1424.7 254.8,1432.4 254.8,1423.3 255.6,1431.8 252.1,1418.8 257.4,1429.5 253.7,1419.2 253.5,1433.7 255.7,1421.2 259.5,1430.6 255.0,1419.4 260.1,1431.3 259.5,1428.7 259.6,1427.1 258.6,1418.3 261.4,1430.6 262.9,1418.3 259.9,1429.0 258.5,1415.5 259.2,1427.9 257.7,1417.0 260.3,1434.6 259.8,1415.0 259.4,1428.3 261.4,1414.7 264.7,1425.1 262.2,1415.3 262.8,1424.8 261.0,1414.2 269.0,1426.3 267.3,1413.4 267.3,1424.2 266.3,1412.8 268.9,1426.8 264.4,1414.2 266.8,1424.9 268.1,1412.2 269.5,1421.2 271.2,1408.5 271.9,1422.1 272.4,1411.0 274.8,1421.7 269.2,1409.7 274.3,1422.6 272.7,1411.6 273.0,1425.7 271.9,1412.2 278.0,1424.3 277.9,1415.2 275.2,1423.2 274.3,1415.1 275.3,1424.6 277.8,1414.5 280.6,1425.2 275.1,1415.4 277.5,1434.4 281.9,1418.4 277.8,1427.9 280.0,1415.2 281.2,1428.3 281.4,1414.8 284.8,1425.0 284.8,1415.3 286.5,1427.3 283.2,1416.8 286.0,1429.0 282.0,1418.9 281.2,1430.8 282.2,1418.4 283.9,1427.4 290.0,1424.5 284.4,1427.0 285.9,1419.8 289.7,1433.2 293.1,1420.5 284.0,1432.8 287.2,1420.3 292.8,1435.6 292.2,1429.4 286.1,1435.9 291.9,1425.0 292.4,1433.6 289.4,1425.5 290.6,1434.7 289.9,1423.5 291.8,1434.9 292.6,1422.6 295.8,1436.5 289.9,1425.1 294.3,1435.9 300.2,1432.6 295.5,1439.7 297.3,1425.5 296.4,1437.4 297.1,1424.5 296.6,1436.1 300.0,1428.0 300.6,1438.8 294.8,1429.1 302.6,1440.6 299.5,1429.6 304.3,1439.3 300.8,1428.2 304.1,1438.2 301.6,1429.2 305.3,1442.1 303.5,1431.6 303.8,1441.8 298.0,1430.9 303.8,1441.3 302.5,1432.3 305.0,1441.9 307.5,1434.7 305.0,1442.9 309.3,1433.8 310.3,1442.6 302.6,1434.7 303.6,1444.8 310.3,1434.5 310.4,1444.2 306.5,1435.8 305.1,1443.7 306.1,1434.1 311.6,1451.3 309.4,1437.6 313.3,1447.2 313.2,1438.0 312.5,1448.3 310.0,1436.7 314.6,1453.3 308.8,1439.7 312.0,1448.0 315.5,1438.5 315.2,1452.5 311.6,1439.7 317.6,1448.8 318.4,1441.7 319.3,1454.5 320.7,1443.4 317.3,1452.6 316.6,1445.7 318.4,1453.8 319.3,1445.5 321.5,1455.2 319.7,1444.6 322.8,1455.8 320.0,1448.1 323.7,1455.0 321.8,1444.8 320.6,1457.8 322.7,1446.6 323.5,1458.6 325.5,1447.1 325.7,1453.7 323.2,1446.8 323.5,1456.6 325.6,1448.7 325.4,1459.6 329.4,1448.2 329.1,1461.0 329.3,1447.6 328.1,1460.8 326.8,1448.9 330.3,1458.2 326.4,1448.8 333.9,1459.7 330.4,1447.5 332.6,1458.5 330.5,1447.7 333.5,1459.5 336.3,1449.3 330.2,1460.6 333.0,1451.1 333.9,1459.1 330.6,1449.7 332.1,1459.5 337.2,1452.1 331.8,1461.3 333.6,1452.8 335.3,1460.7 337.2,1451.6 337.0,1461.9 335.4,1449.6 339.7,1461.4 336.8,1453.7 342.7,1462.4 339.3,1457.5 343.6,1462.3 338.7,1451.9 344.0,1473.4 344.6,1452.2 344.6,1468.1 341.1,1457.5 342.9,1463.3 341.3,1454.0 343.1,1463.3 345.2,1451.0 351.3,1464.3 348.9,1451.3 350.2,1462.0 349.4,1450.7 350.4,1460.0 346.2,1451.1 349.1,1462.3 347.6,1450.5 350.5,1457.2 351.3,1448.8 349.6,1458.5 351.1,1446.9 355.7,1460.3 357.1,1449.4 357.5,1461.2 355.0,1448.9 352.9,1460.7 351.4,1446.8 356.1,1458.2 356.5,1445.8 356.8,1456.8 360.6,1445.0 359.1,1455.0 356.4,1440.7 360.4,1454.5 362.6,1444.9 364.0,1456.1 357.0,1442.7 363.4,1454.8 356.6,1442.8 358.9,1451.8 362.0,1440.1 364.9,1456.7 366.1,1439.9 361.5,1453.8 366.0,1443.1 366.9,1451.6 360.6,1440.2 364.0,1448.6 362.8,1440.3 363.1,1446.6 363.8,1438.8 368.1,1448.0 368.0,1437.6 367.5,1447.9 369.7,1436.4 371.0,1448.3 368.5,1434.1 370.0,1446.3 368.1,1434.9 368.6,1447.1 368.0,1435.4 368.9,1444.2 372.3,1434.0 373.3,1445.2 371.2,1433.4 373.5,1446.2 372.1,1433.7 368.8,1443.5 376.3,1429.9 376.0,1442.6 378.7,1433.1 374.1,1441.3 377.5,1431.9 374.5,1443.1 377.3,1441.0 378.8,1439.7 375.1,1430.7 378.5,1439.3 379.4,1431.3 383.3,1439.3 380.8,1429.1 384.5,1441.1 380.4,1428.2 385.4,1438.3 384.8,1426.8 384.8,1436.2 384.9,1426.3 385.0,1437.3 382.1,1426.6 383.8,1441.1 383.8,1424.5 386.1,1436.8 385.5,1425.6 386.4,1435.4 384.8,1426.7 389.9,1436.4 384.1,1426.9 384.5,1435.5 387.8,1424.6 389.5,1435.0 385.6,1424.0 391.3,1436.6 389.2,1424.1 393.4,1437.7 395.1,1424.3 391.7,1434.7 394.6,1434.2 392.2,1433.7 398.4,1424.7 392.3,1435.1 394.4,1424.3 397.6,1432.1 396.4,1423.1 395.7,1437.8 396.3,1424.6 397.7,1443.6 399.3,1423.1 396.2,1431.9 395.5,1421.0 400.4,1430.7 398.9,1420.9 400.6,1433.1 402.4,1420.9 403.6,1431.3 400.5,1419.0 398.3,1429.2 402.7,1419.2 400.8,1437.3 404.3,1417.9 401.1,1430.8 401.8,1418.8 403.7,1427.6 410.5,1417.8 408.6,1429.2 404.5,1417.0 409.0,1428.0 408.0,1418.9 405.4,1427.8 413.0,1417.0 408.2,1428.0 407.7,1425.7 411.1,1425.4 415.6,1416.1 408.9,1423.8 414.3,1413.0 416.3,1425.3 416.2,1415.6 413.6,1423.2 418.0,1413.8 417.9,1424.3 415.6,1413.6 419.7,1422.9 420.8,1413.4 415.7,1422.9 422.9,1412.4 418.4,1422.4 420.1,1411.3 415.6,1426.2 424.8,1415.6 419.7,1424.3 416.0,1412.9 422.4,1426.3 418.4,1413.7 423.8,1423.9 420.5,1413.8 423.4,1424.2 421.7,1415.3 421.6,1424.0 423.2,1416.6 424.7,1428.9 422.9,1414.7 427.2,1425.2 425.1,1413.6 424.8,1426.3 428.1,1416.3 427.9,1424.2 430.7,1417.9 424.0,1428.2 425.2,1417.1 428.6,1428.0 434.6,1419.1 427.7,1427.8 430.1,1426.0 431.3,1431.5 432.4,1419.0 433.7,1430.0 433.1,1419.4 431.3,1431.1 434.8,1422.0 429.2,1442.4 431.5,1423.6 438.4,1431.5 435.8,1422.6 437.4,1438.0 435.5,1423.5 434.3,1433.7 438.0,1424.0 435.2,1432.6 434.9,1424.2 437.6,1435.2 436.4,1426.1 441.6,1438.3 444.0,1427.4 443.0,1437.7 441.0,1426.2 437.6,1436.7 439.0,1427.9 445.4,1439.7 442.6,1428.2 445.5,1440.3 442.8,1429.1 439.8,1440.3 448.1,1430.4 443.5,1440.4 448.9,1439.3 442.8,1440.7 442.9,1431.7 449.5,1445.6 450.4,1433.1 452.5,1444.3 451.7,1432.9 449.2,1444.9 446.1,1433.9 447.3,1444.4 448.7,1432.6 446.7,1443.9 455.8,1433.8 448.5,1448.3 452.3,1435.8 452.8,1448.2 450.9,1438.0 455.9,1445.2 457.6,1438.6 454.5,1447.6 454.3,1439.0 451.1,1448.5 455.9,1438.4 460.4,1448.5 454.4,1437.8 455.3,1450.8 456.7,1437.9 462.5,1448.4 459.6,1438.5 456.3,1449.9 460.9,1438.7 462.1,1448.7 457.7,1443.2 456.3,1453.4 459.0,1440.9 458.8,1451.1 460.8,1442.6 462.6,1455.3 462.1,1443.8 460.9,1453.7 466.5,1444.3 460.4,1456.2 466.6,1443.7 463.0,1456.4 462.4,1443.1 463.9,1459.3 463.4,1441.8 470.0,1456.2 467.3,1445.6 465.3,1456.5 468.6,1443.7 464.1,1454.7 466.7,1443.8 468.7,1457.7 470.3,1447.2 470.8,1459.4 469.9,1445.8 472.5,1461.2 470.0,1449.4 473.4,1458.5 468.0,1448.6 469.8,1457.4 470.6,1449.4 475.9,1461.5 469.5,1450.7 472.4,1462.8 471.8,1449.5 474.7,1463.8 472.6,1450.0 478.4,1465.1 479.7,1452.2 475.9,1462.1 482.1,1451.1 482.9,1462.3 481.0,1454.2 480.4,1461.5 483.4,1452.9 483.8,1464.5 483.0,1452.7 482.9,1464.9 480.6,1454.5 484.8,1465.8 482.7,1453.0 482.3,1467.2 484.1,1454.7 484.4,1466.9 489.2,1455.9 484.0,1465.3 483.9,1458.0 484.2,1469.5 487.6,1457.2 492.1,1469.7 488.7,1456.4 484.7,1467.7 483.8,1459.3 489.3,1468.4 492.4,1459.9 487.5,1469.4 490.9,1460.2 496.1,1469.2 489.5,1459.7 492.1,1474.1 491.0,1459.5 496.3,1468.0 492.4,1465.4 496.6,1468.6 496.2,1460.0 496.9,1471.2 497.9,1460.6 498.4,1468.6 493.3,1459.6 495.6,1472.5 499.7,1459.6 498.9,1469.8 495.6,1472.1 499.3,1469.7 500.5,1461.3 503.2,1469.9 503.7,1466.4 499.7,1470.4 498.3,1459.5 505.7,1467.2 500.6,1470.5 506.4,1466.9 502.3,1459.7 505.1,1467.7 506.3,1458.8 505.7,1466.5 503.5,1459.5 503.7,1467.5 509.7,1457.7 509.8,1465.9 512.0,1455.5 506.9,1466.5 512.9,1458.7 506.6,1467.0 514.7,1457.0 515.9,1469.4 509.0,1456.8 514.2,1467.3 513.0,1458.3 512.4,1468.3 511.2,1456.8 517.5,1465.2 518.9,1459.4 516.2,1468.4 521.2,1458.3 515.4,1468.1 514.3,1458.3 521.4,1476.0 520.3,1459.4 521.6,1472.6 521.9,1454.9 519.5,1470.9 519.1,1457.9 518.5,1466.7 523.1,1456.8 519.3,1466.7 520.5,1453.8 523.8,1464.0 524.3,1453.9 523.0,1466.6 523.0,1453.8 522.6,1463.4 526.1,1453.8 529.9,1463.2 524.9,1455.0 529.3,1463.4 524.8,1460.9 526.1,1460.0 530.0,1452.7 527.0,1458.5 531.6,1451.9 527.0,1461.0 527.8,1452.8 534.5,1463.0 534.0,1452.3 528.1,1460.6 532.6,1450.5 535.8,1460.5 531.0,1448.3 532.2,1458.0 531.2,1447.3 533.5,1458.2 532.7,1448.4 534.7,1459.6 537.3,1445.5 537.8,1459.2 538.2,1447.0 535.5,1458.5 539.1,1446.6 534.1,1457.1 535.9,1446.9 540.8,1453.9 542.3,1445.3 540.7,1453.7 536.1,1443.6 543.5,1452.0 542.7,1447.9 542.4,1451.0 540.7,1439.5 541.0,1450.7 539.8,1441.6 542.8,1454.6 547.3,1439.1 548.0,1450.7 545.2,1439.5 542.1,1450.9 543.3,1440.3 546.8,1449.8 548.9,1439.2 547.1,1447.5 543.2,1437.4 549.1,1449.8 548.4,1437.4 551.1,1445.4 545.3,1437.0 548.0,1445.1 552.2,1436.7 553.0,1444.4 555.9,1434.8 550.8,1445.4 551.6,1434.1 551.2,1445.9 553.9,1435.2 557.3,1444.3 557.8,1436.4 556.4,1446.1 558.5,1435.6 554.5,1443.9 559.4,1434.8 554.5,1447.6 556.2,1435.5 553.7,1446.6 563.4,1434.3 563.0,1446.4 562.4,1435.2 560.0,1453.6 560.0,1435.9 562.6,1443.2 559.6,1434.3 563.1,1445.5 559.4,1435.5 565.1,1449.3 561.0,1441.7 564.7,1445.0 562.6,1436.2 563.3,1443.4 569.3,1432.2 566.0,1443.7 569.7,1431.6 566.4,1444.0 567.7,1433.4 571.6,1442.7 571.0,1431.8 567.8,1441.2 567.6,1430.2 568.1,1438.8 570.9,1431.1 575.8,1442.5 573.3,1431.5 573.1,1441.6 577.9,1430.1 573.9,1440.5 572.7,1429.2 576.4,1438.3 570.4,1429.4 578.4,1442.0 581.4,1429.6 576.6,1441.6 578.7,1428.3 581.2,1441.1 583.3,1427.4 578.1,1441.2 582.7,1426.6 580.0,1439.7 579.7,1424.7 579.8,1436.9 584.0,1424.0 580.4,1435.9 579.6,1427.2 583.6,1434.8 585.5,1433.4 585.4,1436.2 585.5,1434.1 582.1,1436.3 590.4,1425.4 582.5,1437.0 582.8,1428.0 583.7,1436.5 586.9,1422.9 589.0,1435.9 586.5,1426.3 591.8,1436.5 591.8,1427.8 592.2,1444.6 587.9,1426.8 594.4,1438.1 593.5,1429.5 589.0,1445.6 595.7,1427.9 591.5,1440.5 595.9,1430.9 596.9,1438.5 592.1,1431.9 590.8,1441.5 599.6,1430.5 599.3,1441.5 591.8,1430.6 601.0,1442.6 597.0,1430.5 597.3,1442.2 594.3,1433.6 597.6,1446.5 596.9,1433.4 600.9,1446.9 602.3,1436.5 602.3,1451.6 605.0,1435.9 604.2,1443.7 600.7,1436.2 605.7,1454.2 598.0,1437.0 600.8,1450.0 606.6,1440.3 605.0,1448.1 603.5,1450.4 607.5,1448.9 607.2,1438.7 603.6,1449.7 603.8,1438.5 606.7,1451.5 609.8,1438.3 607.5,1450.7 607.5,1444.4 610.1,1455.6 610.8,1443.2 612.2,1450.7 610.0,1441.8 610.1,1452.1 614.6,1441.9 615.4,1452.2 615.1,1442.9 609.2,1456.4 609.7,1445.3 613.9,1453.1 616.9,1441.8 618.2,1454.3 614.8,1442.1 618.6,1454.1 618.3,1443.5 614.5,1453.0 613.8,1445.6 617.5,1454.7 618.7,1444.4 615.5,1455.4 619.7,1450.3 617.8,1459.4 619.7,1447.8 622.8,1465.0 616.4,1454.4 617.8,1460.7 619.1,1448.3 617.8,1459.9 623.0,1448.4 625.2,1458.5 620.2,1451.7 624.4,1461.2 627.5,1451.3 623.5,1463.3 625.3,1451.0 628.0,1468.5 628.5,1450.8 624.5,1461.4 624.2,1450.2 629.5,1463.1 627.1,1450.3 629.5,1460.9 625.7,1453.2 627.7,1464.2 627.4,1452.9 628.9,1466.3 630.7,1452.9 628.7,1464.6 634.0,1456.7 632.7,1465.6 632.6,1455.6 630.5,1464.5 633.5,1452.9 631.5,1466.0 633.8,1452.3 632.0,1463.2 631.7,1454.6 640.5,1466.3 635.3,1454.2 636.9,1467.0 637.2,1457.9 639.1,1468.1 635.7,1456.2 638.5,1469.5 637.1,1458.8 638.4,1467.6 643.0,1457.5 642.2,1469.5 642.3,1459.7 641.9,1473.7 641.9,1459.7 646.2,1470.6 640.3,1461.9 643.2,1469.9 641.8,1466.3 642.3,1474.5 648.3,1462.3 648.3,1472.3 643.0,1463.5 649.7,1474.0 646.6,1464.4 644.7,1475.4 651.0,1466.8 647.1,1474.4 646.2,1467.6 649.5,1478.8 654.0,1467.3 646.6,1477.6 652.4,1467.8 650.5,1477.3 650.5,1466.2 651.9,1481.8 653.3,1470.1 654.1,1480.5 648.5,1469.2 656.4,1480.7 655.1,1469.5 654.4,1481.8 653.3,1468.6 659.5,1480.8 654.8,1470.8 658.7,1493.3 653.4,1471.5 655.3,1483.6 661.3,1471.9 661.0,1480.1 659.3,1470.9 657.5,1481.1 665.9,1471.1 663.6,1482.4 659.4,1470.2 664.6,1480.9 666.7,1470.4 662.3,1481.5 667.2,1470.7 663.0,1482.5 663.7,1469.4 666.2,1478.7 661.1,1468.7 668.8,1478.7 664.7,1470.9 669.7,1480.6 665.7,1468.5 670.3,1478.1 667.6,1467.6 664.8,1479.0 664.2,1464.0 665.9,1488.0 665.9,1463.8 670.9,1473.6 667.7,1461.4 672.1,1469.6 668.6,1460.3 667.1,1469.8 667.4,1458.8 674.0,1471.0 669.5,1459.3 669.4,1467.8 670.7,1458.0 667.5,1470.7 672.9,1458.5 676.8,1467.6 672.3,1459.1 672.0,1467.3 672.5,1456.1 670.5,1465.0 674.3,1456.5 672.6,1465.9 676.4,1454.4 677.2,1464.8 672.4,1456.9 674.1,1463.4 675.7,1454.7 677.2,1474.5 678.9,1453.1 679.3,1459.9 682.3,1451.4 680.0,1461.2 679.1,1455.4 679.7,1461.0 676.2,1450.1 676.0,1457.8 682.5,1450.2 678.1,1460.0 677.7,1447.5 679.4,1464.2 676.5,1447.7 677.4,1460.2 679.6,1447.8 680.3,1458.0 681.1,1445.5 680.0,1460.8 680.9,1446.7 685.8,1456.3 683.9,1445.5 682.9,1458.0 680.6,1446.7 685.6,1457.4 683.1,1445.1 681.2,1456.3 685.4,1444.6 687.6,1453.9 685.9,1440.8 687.6,1448.5 686.7,1438.9 683.3,1453.6 681.1,1441.1 688.0,1447.9 684.0,1439.1 686.0,1453.7 688.6,1437.3 687.8,1451.8 690.4,1436.4 683.8,1448.4 688.9,1437.3 685.9,1447.8 688.3,1434.2 688.7,1447.2 691.2,1436.1 691.1,1443.2 692.5,1433.9 693.0,1440.8 691.2,1431.7 693.1,1441.1 690.2,1430.3 694.0,1441.3 692.6,1429.8 687.1,1439.6 690.7,1428.2 692.0,1436.7 696.7,1426.1 695.7,1434.8 690.4,1428.1 690.4,1434.7 695.7,1435.7 697.1,1432.8 699.5,1424.9 695.3,1437.0 696.3,1422.8 697.7,1434.0 697.8,1424.6 695.9,1433.3 695.6,1423.6 694.2,1433.8 696.3,1421.8 701.6,1430.2 696.0,1422.0 700.2,1430.9 700.7,1420.7 702.8,1429.1 698.7,1419.2 701.8,1425.9 696.6,1416.7 699.1,1424.7 704.3,1414.8 699.6,1426.6 699.3,1415.9 699.3,1423.5 704.6,1416.8 703.6,1425.3 699.2,1416.1 698.4,1425.3 701.4,1411.6 704.9,1425.0 700.6,1412.4 702.8,1424.1 706.3,1410.3 703.0,1422.0 708.6,1409.6 703.5,1418.7 703.9,1410.6 709.0,1417.7 701.4,1407.0 706.3,1418.2 705.9,1404.1 711.9,1416.8 709.5,1405.0 705.1,1416.6 712.5,1403.5 705.8,1415.3 711.4,1404.7 706.5,1414.8 706.9,1401.9 711.1,1414.0 710.9,1403.7 711.8,1416.1 705.6,1402.5 710.8,1412.5 708.7,1402.6 711.5,1410.1 712.9,1404.1 714.0,1406.7 710.5,1397.7 710.4,1411.3 713.0,1398.6 708.7,1407.8 712.3,1397.3 714.4,1417.9 711.7,1396.1 717.1,1406.2 713.8,1395.9 712.3,1405.7 712.8,1394.6 716.3,1402.9 713.7,1391.0 715.3,1401.5 714.5,1392.2 714.5,1405.4 713.0,1391.4 717.4,1398.3 718.6,1388.3 716.8,1396.4 715.3,1388.6 718.7,1396.6 716.2,1387.3 714.3,1397.7 722.2,1386.6 717.3,1398.1 721.2,1384.6 719.3,1394.6 720.4,1384.3 716.0,1395.8 718.5,1385.1 722.0,1397.1 715.4,1385.3 719.1,1397.7 721.0,1384.7 722.7,1394.1 721.8,1382.9 723.9,1393.6 717.0,1382.2 715.3,1392.5 722.7,1379.5 717.5,1391.7 721.2,1380.4 717.8,1391.1 720.7,1378.2 721.8,1390.5 725.2,1377.8 719.6,1387.5 726.0,1375.3 722.9,1384.7 724.9,1375.7 724.2,1384.7 722.2,1372.1 723.2,1385.1 726.5,1378.7 724.1,1382.7 719.7,1371.0 725.5,1382.8 723.1,1370.6 724.2,1377.4 722.6,1368.4 724.2,1376.2 726.2,1365.4 721.9,1375.5 727.0,1364.9 725.0,1375.5 730.0,1370.5 726.8,1378.7 725.7,1365.8 725.5,1381.9 725.7,1362.2 727.6,1376.8 725.9,1364.0 730.2,1371.6 731.6,1361.8 732.4,1372.1 726.6,1363.6 731.7,1369.4 734.5,1360.5 734.5,1370.9 734.0,1360.4 725.7,1370.1 733.3,1356.8 726.7,1367.7 730.4,1358.0 728.0,1368.8 734.9,1365.2 732.5,1362.1 732.8,1354.2 733.3,1361.4 734.8,1349.9 729.2,1362.7 736.2,1350.0 729.8,1361.4 736.1,1348.4 736.7,1360.6 736.0,1351.0 730.4,1360.0 732.1,1350.2 732.4,1365.9 732.6,1347.5 735.1,1361.8 733.5,1350.0 736.4,1356.5 739.9,1346.4 734.6,1359.0 736.0,1345.2 736.9,1355.2 734.3,1343.2 734.8,1352.7 736.7,1342.9 737.2,1353.4 735.7,1341.6 742.2,1352.6 742.5,1342.3 736.0,1350.5 739.3,1340.2 736.6,1347.7 738.7,1339.7 741.9,1348.8 737.5,1337.7 739.6,1347.4 743.4,1335.9 743.3,1347.1 745.3,1338.6 744.7,1348.0 744.4,1335.6 743.2,1348.3 741.0,1334.0 741.0,1346.0 743.0,1333.0 741.1,1341.5 746.3,1331.4 743.4,1341.9 748.2,1333.6 742.9,1343.8 746.1,1333.0 749.5,1344.7 746.6,1335.0 746.7,1347.5 747.6,1334.2 744.9,1346.7 751.9,1337.9 752.4,1346.7 750.7,1337.3 748.6,1349.8 752.4,1337.3 754.2,1350.1 751.9,1339.5 751.4,1349.9 750.0,1341.1 750.3,1348.7 749.4,1340.9 751.2,1355.7 752.8,1345.3 756.4,1352.5 752.5,1343.2 756.1,1355.4 751.7,1342.0 753.9,1351.9 757.6,1343.2 754.8,1355.1 752.8,1343.8 757.5,1358.6 757.1,1346.2 755.2,1358.4 758.5,1344.7 761.7,1359.9 758.9,1348.5 759.9,1358.8 757.3,1347.1 759.8,1359.4 757.2,1347.6 764.6,1359.8 759.6,1349.6 762.6,1359.7 759.8,1350.2 761.3,1363.8 764.8,1354.0 761.7,1363.0 761.5,1354.5 766.2,1364.3 758.4,1362.5 764.2,1367.1 764.8,1353.8 763.9,1368.0 767.6,1357.5 763.7,1367.9 764.6,1355.8 764.7,1369.7 766.2,1357.5 766.1,1369.8 765.2,1370.1 768.0,1371.8 768.3,1363.3 764.7,1371.3 768.2,1363.9 766.1,1374.7 768.3,1364.1 763.6,1375.6 771.9,1365.5 768.5,1375.8 768.1,1373.5 766.2,1378.0 772.6,1365.9 771.7,1374.8 765.8,1366.1 774.5,1375.9 772.9,1369.9 773.8,1381.2 771.9,1367.2 772.4,1378.4 769.1,1370.9 769.6,1379.9 772.7,1372.1 771.7,1382.9 778.1,1373.4 773.3,1385.6 775.5,1376.6 773.1,1386.3 773.1,1373.9 776.6,1383.1 773.8,1377.4 779.1,1388.4 772.7,1377.1 773.8,1386.2 772.2,1375.7 776.1,1387.7 775.1,1378.9 777.3,1389.3 774.9,1377.7 774.2,1392.0 772.1,1381.0 774.8,1393.8 776.9,1380.0 777.5,1390.7 779.5,1383.3 779.7,1392.7 781.1,1383.2 774.3,1393.4 780.6,1391.2 781.3,1393.4 779.4,1383.0 776.6,1393.5 777.3,1385.4 780.7,1395.4 784.7,1384.9 783.9,1398.0 776.9,1387.3 779.4,1396.0 779.5,1389.6 784.9,1401.0 779.8,1388.6 784.7,1399.2 781.4,1389.7 784.9,1403.1 784.8,1389.4 779.2,1398.6 783.1,1388.7 779.3,1399.0 783.7,1390.1 782.0,1401.2 780.6,1392.4 787.5,1403.2 781.1,1394.7 786.4,1402.2 782.1,1394.7 783.2,1404.3 789.2,1396.6 786.6,1408.3 788.1,1396.9 785.6,1407.0 784.0,1399.5 789.8,1412.7 784.4,1400.0 786.8,1410.4 786.9,1408.9 786.1,1412.4 788.6,1402.0 784.0,1416.5 784.6,1402.6 786.7,1412.7 791.2,1405.5 789.8,1417.6 791.0,1404.2 787.0,1414.8 786.2,1406.3 790.1,1420.2 788.3,1408.8 792.2,1416.4 788.1,1407.1 793.7,1418.7 788.7,1408.6 789.3,1418.0 790.9,1411.5 792.1,1419.3 795.7,1413.6 792.1,1421.2 789.3,1413.9 791.1,1422.7 796.8,1420.7 798.7,1423.0 796.7,1414.8 793.6,1425.5 793.6,1414.9 797.2,1428.3 796.3,1415.1 795.9,1428.0 800.1,1417.1 801.1,1432.0 800.3,1415.7 802.2,1426.3 801.6,1416.6 803.3,1427.8 804.9,1418.7 803.4,1429.0 802.9,1419.3 801.6,1432.1 805.6,1420.3 806.8,1427.9 799.6,1418.6 804.6,1428.0 804.9,1421.1 805.7,1433.8 803.9,1420.9 808.0,1439.8 804.6,1421.9 804.8,1430.6 806.0,1423.7 811.1,1434.9 812.7,1422.9 807.5,1432.3 810.1,1424.0 810.5,1434.4 811.1,1432.1 808.8,1437.8 814.7,1424.8 816.3,1445.7 811.1,1424.0 813.5,1437.2 817.9,1427.0 813.4,1436.8 815.7,1428.8 817.9,1438.7 819.2,1427.7 818.9,1439.2 816.6,1428.2 818.1,1438.6 820.3,1427.6 815.5,1436.8 821.4,1426.9 817.9,1441.4 815.7,1425.6 816.0,1439.4 823.8,1428.4 821.0,1439.8 821.2,1428.3 824.3,1439.3 819.7,1426.5 818.2,1444.6 821.9,1428.5 820.1,1438.1 820.4,1429.9 826.1,1441.0 821.8,1432.5 822.0,1447.7 824.2,1432.4 824.0,1441.9 824.7,1431.7 829.5,1447.7 828.5,1429.5 825.6,1440.4 825.0,1431.6 828.8,1443.1 829.1,1430.0 832.5,1439.1 833.4,1429.7 827.8,1438.7 827.4,1429.8 828.9,1437.3 831.0,1426.3 833.5,1438.8 835.6,1426.3 831.5,1435.1 833.4,1424.1 831.3,1437.2 836.9,1426.7 836.5,1433.3 838.3,1423.8 837.8,1431.7 838.1,1423.4 831.5,1434.3 832.1,1423.6 838.4,1433.8 840.5,1420.9 839.5,1429.1 841.8,1420.7 841.7,1432.6 835.6,1421.4 837.3,1429.1 841.3,1418.9 838.8,1433.6 838.1,1420.6 841.1,1432.1 842.5,1418.5 838.1,1428.5 843.0,1419.2 839.2,1438.3 846.8,1419.0 842.6,1427.9 848.0,1418.6 841.2,1425.4 844.4,1417.4 842.8,1423.9 846.1,1416.5 842.7,1424.7 843.2,1415.0 848.2,1433.0 849.5,1413.7 845.1,1424.9 849.3,1413.4 847.2,1421.1 853.8,1411.3 848.3,1421.6 850.0,1408.4 846.3,1420.9 846.8,1410.3 850.5,1418.0 853.6,1409.4 850.4,1417.4 849.8,1408.8 848.4,1416.2 856.7,1407.7 857.3,1417.6 849.7,1407.5 855.8,1416.6 850.5,1408.3 856.3,1417.3 849.3,1407.7 857.2,1417.9 856.1,1406.2 854.1,1417.7 857.9,1404.7 856.6,1411.4 854.4,1412.5 854.3,1412.4 851.8,1403.8 857.5,1411.3 856.3,1403.4 860.5,1416.5 855.0,1401.7 855.2,1411.6 859.3,1399.6 861.7,1410.0 861.8,1401.0 855.3,1411.3 860.7,1398.4 858.5,1408.6 857.5,1397.3 857.4,1405.6 857.0,1397.2 859.1,1417.3 856.7,1393.3 857.0,1406.9 864.6,1393.5 856.9,1406.4 863.5,1394.9 863.0,1405.6 866.7,1393.4 861.7,1401.7 864.4,1392.7 866.7,1399.7 866.9,1389.9 864.5,1402.4 859.2,1391.5 865.8,1399.5 862.6,1388.3 860.2,1396.3 867.3,1389.2 870.0,1396.0 866.9,1386.0 862.2,1396.1 867.0,1383.4 867.3,1392.9 870.8,1382.3 866.8,1392.8 863.6,1389.6 868.4,1392.7 869.5,1379.8 864.1,1388.8 873.2,1388.8 872.3,1390.2 867.1,1378.8 866.0,1387.8 871.9,1378.8 871.1,1389.6 865.1,1376.8 875.1,1388.1 871.5,1376.2 867.5,1391.7 867.4,1377.0 867.5,1385.1 872.0,1377.2 872.7,1390.7 869.1,1376.5 875.0,1387.6 874.3,1375.9 868.1,1385.6 869.2,1374.2 876.9,1385.0 874.0,1372.6 875.9,1379.3 874.2,1370.4 872.3,1380.5 875.5,1369.7 876.3,1382.8 875.5,1368.0 875.3,1379.0 878.7,1374.4 874.1,1379.6 873.0,1366.9 872.6,1375.7 878.1,1372.1 874.2,1375.1 881.3,1364.4 875.0,1373.7 875.9,1361.8 882.1,1373.1 880.6,1363.9 878.2,1371.7 881.9,1359.9 877.2,1379.9 875.9,1358.7 878.2,1368.0 879.3,1357.1 883.2,1366.6 880.6,1357.5 881.8,1370.8 882.3,1355.2 877.6,1366.1 882.8,1357.3 883.6,1369.7 884.5,1357.5 885.8,1364.1 881.4,1352.8 878.9,1364.7 885.3,1355.1 882.9,1362.4 886.7,1352.3 879.5,1362.0 884.4,1351.9 882.1,1360.1 889.8,1349.9 885.4,1360.1 885.2,1350.5 885.6,1361.9 887.3,1348.8 887.2,1360.3 883.3,1349.4 889.7,1357.9 886.5,1349.8 890.7,1359.0 887.6,1353.6 888.2,1359.7 891.6,1349.4 890.0,1357.2 887.5,1345.9 889.7,1358.1 892.9,1346.7 893.7,1357.9 889.2,1344.9 887.4,1356.1 888.9,1344.9 889.8,1353.0 894.9,1342.4 891.4,1352.2 896.0,1341.1 889.7,1352.0 891.3,1351.0 898.7,1352.2 896.3,1339.2 895.5,1353.4 890.0,1339.1 897.5,1349.3 892.5,1336.8 894.7,1346.2 894.1,1334.3 900.0,1346.6 896.5,1334.3 894.0,1345.2 895.6,1334.2 896.3,1343.3 894.9,1333.3 895.5,1344.4 896.1,1335.3 901.7,1342.8 895.9,1331.6 897.8,1348.5 899.1,1330.7 905.0,1342.2 897.2,1330.0 904.5,1344.6 899.2,1332.6 902.2,1341.5 899.2,1333.8 897.0,1343.5 903.1,1332.7 905.6,1345.5 900.9,1331.5 904.3,1342.2 907.0,1335.2 902.8,1343.2 902.7,1332.0 904.4,1344.5 903.5,1334.9 909.1,1346.4 903.8,1333.3 903.2,1344.1 906.7,1336.6 904.9,1347.6 909.0,1335.3 908.0,1346.9 903.9,1348.6 911.0,1351.2 906.7,1338.3 911.6,1351.0 914.0,1340.3 910.8,1351.7 909.5,1343.5 911.4,1354.6 907.6,1341.0 908.4,1354.8 907.6,1342.3 913.1,1357.5 914.2,1344.5 911.6,1354.5 909.7,1343.8 915.9,1357.7 914.2,1346.9 913.7,1360.1 911.6,1349.0 913.9,1358.1 917.3,1349.3 913.4,1361.9 917.7,1350.7 917.7,1360.1 913.9,1353.0 917.5,1361.3 914.0,1353.6 916.4,1362.2 913.9,1353.6 916.7,1363.1 917.8,1353.8 917.2,1366.1 920.4,1354.3 924.6,1367.0 920.9,1356.1 921.7,1366.3 915.7,1355.8 920.6,1368.1 919.8,1355.1 917.1,1367.0 922.5,1355.9 923.8,1366.7 919.4,1356.9 926.3,1368.6 921.2,1356.8 924.4,1368.2 928.7,1366.2 922.8,1370.3 928.2,1356.4 924.3,1367.9 926.2,1359.9 928.6,1368.4 922.5,1359.0 926.2,1371.2 924.9,1361.6 930.5,1369.7 930.0,1361.8 924.5,1376.2 925.8,1364.0 931.1,1373.5 927.4,1363.4 926.3,1375.1 930.7,1363.2 931.2,1374.1 928.7,1365.5 928.2,1376.1 935.6,1366.2 933.5,1379.7 936.0,1365.3 934.0,1380.0 931.7,1367.7 930.9,1378.9 930.9,1373.3 932.5,1380.1 938.3,1368.8 931.3,1377.7 937.8,1369.8 932.8,1379.5 939.2,1370.7 933.0,1383.7 931.0,1372.0 932.9,1384.4 933.8,1374.5 934.7,1385.2 940.0,1375.7 939.3,1391.7 935.3,1373.3 940.9,1386.7 941.4,1376.1 937.9,1385.0 937.8,1377.9 937.9,1391.0 944.1,1378.9 935.2,1389.8 937.5,1379.3 943.2,1389.4 942.1,1378.2 943.7,1389.0 945.1,1382.7 946.6,1393.1 941.5,1382.4 942.5,1394.7 945.2,1382.1 939.1,1395.2 943.2,1385.1 940.8,1396.2 947.8,1384.8 940.9,1397.0 945.4,1386.1 941.3,1394.9 944.5,1387.1 946.9,1398.6 943.3,1389.6 949.1,1399.3 948.1,1388.1 949.9,1401.4 951.6,1389.0 950.6,1398.7 944.1,1391.1 950.1,1403.6 943.3,1390.4 943.9,1400.8 952.5,1392.4 946.2,1401.7 950.3,1395.0 953.1,1404.8 948.7,1394.8 953.8,1404.8 950.4,1406.0 951.1,1407.8 950.1,1398.0 954.0,1407.1 948.6,1399.1 950.2,1409.1 951.2,1401.6 947.9,1411.3 952.5,1401.0 949.9,1413.5 952.5,1400.8 950.3,1412.7 952.5,1401.1 956.9,1412.9 957.7,1403.0 953.7,1415.3 957.5,1405.4 951.8,1416.6 955.5,1406.9 958.8,1416.8 957.6,1412.5 959.5,1420.3 954.7,1410.7 953.8,1422.2 956.4,1410.3 957.7,1423.6 955.1,1411.7 959.7,1424.0 956.8,1411.5 955.8,1420.8 959.0,1410.1 961.6,1420.3 955.4,1409.8 960.9,1423.2 964.1,1410.3 957.8,1420.2 957.4,1414.5 960.7,1425.9 965.3,1413.0 961.8,1424.8 959.3,1416.6 964.1,1426.2 964.3,1417.8 965.7,1428.0 965.2,1419.3 960.5,1425.8 966.9,1418.0 966.1,1428.0 967.0,1419.8 963.0,1428.7 963.3,1418.0 960.5,1431.6 968.9,1420.4 967.3,1433.7 964.9,1427.3 967.5,1434.5 968.5,1422.2 969.8,1431.8 970.0,1424.4 971.6,1435.6 965.3,1424.1 969.9,1432.8 966.8,1425.7 967.9,1446.0 966.8,1428.3 969.0,1437.8 969.7,1426.1 970.5,1437.0 969.8,1426.2 969.4,1436.0 970.9,1429.7 971.9,1443.0 975.8,1429.3 967.8,1441.2 974.0,1430.4 974.9,1441.9 971.2,1430.5 968.7,1443.2 971.0,1433.6 974.2,1447.3 977.5,1436.2 975.0,1446.5 975.9,1436.5 975.0,1448.2 977.6,1435.0 977.1,1448.0 979.7,1435.6 981.7,1448.9 979.3,1443.4 975.1,1452.5 974.2,1439.3 980.5,1447.4 978.7,1440.9 975.7,1451.7 980.0,1439.4 980.8,1448.6 977.9,1437.7 976.8,1448.3 982.7,1439.5 980.4,1451.3 980.4,1438.4 982.0,1446.0 984.3,1437.8 983.2,1445.3 982.4,1435.8 985.2,1446.5 985.4,1434.4 987.2,1446.6 981.2,1434.3 987.9,1441.5 986.7,1432.5 983.0,1451.5 988.6,1434.7 990.2,1443.5 985.3,1430.8 984.0,1442.7 986.8,1441.7 987.1,1442.1 989.4,1429.4 992.2,1438.7 992.1,1429.4 985.0,1441.5 991.1,1429.6 987.1,1448.2 987.5,1426.0 987.3,1438.6 991.6,1427.8 995.5,1437.8 992.8,1435.2 988.8,1437.6 996.6,1425.7 994.3,1438.9 997.0,1423.3 989.4,1435.8 993.2,1423.7 989.7,1433.5 991.7,1422.6 992.4,1433.3 997.6,1421.5 997.7,1429.4 995.6,1419.2 993.7,1430.5 999.9,1420.0 1002.7,1430.0 994.1,1417.9 998.0,1426.9 1003.1,1416.4 1002.4,1428.6 998.6,1413.7 999.5,1424.9 997.1,1417.0 999.2,1424.4 997.6,1415.0 1004.9,1421.5 999.4,1414.6 1001.3,1427.5 1001.0,1411.9 1003.4,1425.1 1008.0,1412.6 1006.8,1424.2 1007.1,1411.3 1001.6,1421.8 1006.8,1410.8 1004.3,1428.2 1010.4,1408.6 1007.4,1420.3 1009.5,1410.6 1006.2,1417.2 1009.3,1407.5 1012.7,1420.0 1008.7,1408.5 1006.4,1424.8 1011.7,1405.7 1013.6,1415.1 1014.5,1406.8 1010.9,1418.2 1014.8,1404.5 1010.8,1416.6 1008.6,1404.7 1013.4,1413.5 1012.7,1403.1 1011.1,1421.1 1011.4,1406.7 1016.3,1409.7 1015.3,1403.0 1012.9,1410.9 1017.3,1400.7 1014.6,1409.9 1015.8,1402.2 1018.0,1411.3 1012.4,1399.6 1017.6,1408.9 1015.5,1398.1 1016.3,1407.8 1018.3,1396.5 1016.2,1406.0 1015.5,1398.1 1020.0,1406.6 1019.4,1399.0 1021.4,1409.8 1021.5,1396.6 1023.0,1415.6 1021.6,1395.8 1023.5,1407.0 1024.2,1396.0 1019.4,1413.8 1022.4,1393.1 1025.2,1406.5 1024.4,1394.1 1023.2,1403.5 1023.7,1390.5 1023.7,1400.0 1020.9,1395.0 1027.2,1401.9 1019.2,1388.9 1022.8,1398.4 1021.4,1387.3 1026.3,1397.6 1026.5,1385.8 1028.8,1401.9 1031.0,1384.2 1026.9,1394.2 1026.9,1385.8 1028.7,1396.0 1026.2,1384.0 1031.6,1392.0 1029.6,1379.9 1025.3,1390.0 1031.1,1380.3 1028.9,1393.5 1028.6,1380.3 1028.4,1389.8 1033.9,1385.0 1025.2,1390.0 1033.8,1380.0 1030.9,1386.9 1026.7,1376.6 1027.9,1386.9 1033.9,1375.6 1027.4,1386.4 1032.6,1376.3 1031.0,1386.0 1033.8,1374.4 1031.2,1385.9 1036.8,1376.1 1037.1,1383.6 1037.8,1375.7 1037.1,1386.7 1036.0,1384.1 1039.6,1386.1 1039.1,1372.8 1032.7,1384.1 1036.0,1372.5 1032.6,1385.1 1040.1,1373.8 1035.3,1380.6 1034.0,1370.6 1039.1,1379.1 1041.6,1370.2 1041.3,1377.5 1039.7,1369.3 1041.2,1377.4 1044.0,1368.6 1041.0,1379.0 1043.1,1367.6 1040.1,1378.8 1041.1,1367.7 1043.0,1378.3 1044.2,1367.0 1040.1,1378.3 1044.1,1363.7 1043.3,1371.6 1040.7,1371.5 1041.5,1375.4 1048.0,1361.5 1045.5,1372.2 1042.4,1361.3 1046.0,1369.2 1039.7,1361.0 1045.8,1370.0 1046.2,1361.1 1041.2,1370.0 1049.9,1357.5 1048.9,1366.5 1043.5,1359.0 1044.7,1365.9 1049.2,1358.6 1048.0,1369.5 1050.8,1356.4 1051.0,1367.4 1044.5,1355.6 1046.0,1362.6 1047.8,1353.4 1047.6,1363.9 1052.6,1355.0 1053.6,1364.5 1050.6,1352.4 1050.6,1360.8 1050.8,1350.2 1055.0,1360.1 1051.5,1349.2 1054.1,1364.0 1050.8,1351.6 1051.5,1363.6 1049.3,1349.2 1052.3,1358.4 1054.3,1348.0 1054.0,1358.2 1054.3,1347.5 1052.2,1359.3 1052.4,1345.5 1058.2,1352.5 1054.8,1346.4 1056.3,1355.1 1058.7,1342.7 1055.0,1353.4 1061.8,1343.3 1056.4,1355.5 1056.7,1340.5 1059.8,1354.2 1061.8,1339.3 1056.5,1349.9 1061.6,1340.3 1057.8,1351.8 1061.4,1336.9 1061.5,1347.3 1058.3,1340.5 1063.8,1347.2 1060.1,1337.2 1062.2,1347.7 1064.8,1339.9 1064.5,1346.0 1061.8,1338.1 1059.9,1346.0 1062.6,1335.7 1062.8,1345.2 1061.0,1336.0 1067.9,1345.6 1063.7,1337.6 1063.9,1349.9 1067.2,1336.5 1066.6,1347.6 1063.8,1339.2 1064.3,1350.0 1065.5,1340.3 1070.9,1347.1 1070.1,1338.6 1071.4,1347.9 1072.9,1338.6 1071.8,1349.0 1069.0,1340.7 1071.4,1352.6 1074.2,1342.4 1069.5,1354.1 1067.8,1343.1 1073.6,1361.1 1069.7,1344.7 1073.3,1357.6 1071.1,1345.8 1075.6,1356.1 1073.0,1347.4 1070.4,1357.9 1076.1,1348.7 1074.9,1360.6 1077.6,1348.6 1075.3,1369.2 1080.3,1348.3 1073.9,1357.6 1074.7,1347.1 1081.9,1359.0 1078.6,1350.8 1082.3,1362.5 1075.6,1351.3 1077.2,1361.1 1080.9,1352.2 1077.9,1370.8 1084.8,1351.7 1080.8,1363.9 1084.1,1353.1 1076.3,1364.9 1083.7,1356.8 1078.5,1364.5 1081.4,1354.2 1084.3,1366.9 1083.9,1354.9 1085.7,1366.1 1081.1,1357.8 1082.8,1368.4 1087.1,1360.7 1083.2,1370.5 1086.8,1359.6 1088.2,1369.4 1085.0,1360.0 1085.2,1371.8 1085.1,1361.8 1083.5,1372.8 1084.2,1361.5 1085.3,1375.1 1083.8,1362.5 1089.0,1374.4 1087.0,1364.1 1087.4,1373.5 1092.6,1364.2 1092.5,1374.2 1090.1,1367.5 1089.0,1376.4 1091.0,1367.7 1090.1,1387.3 1090.6,1367.9 1091.1,1376.4 1090.5,1364.9 1088.4,1379.7 1092.0,1366.2 1093.3,1377.8 1094.7,1367.4 1089.1,1377.9 1098.3,1369.8 1089.7,1382.2 1095.9,1372.6 1095.3,1382.1 1096.9,1379.9 1093.9,1382.6 1096.8,1375.3 1095.7,1383.0 1097.5,1376.5 1098.5,1385.2 1091.3,1375.0 1094.9,1387.6 1091.7,1376.7 1096.9,1387.9 1097.0,1376.2 1100.8,1390.0 1096.0,1377.9 1097.6,1388.8 1097.2,1380.9 1099.6,1390.7 1099.7,1380.8 1096.2,1389.0 1095.3,1382.9 1101.7,1392.2 1096.9,1384.7 1098.7,1392.7 1101.0,1384.4 1103.0,1395.0 1098.9,1387.2 1100.6,1394.6 1100.0,1384.5 1103.5,1399.4 1098.6,1387.5 1098.7,1398.8 1104.0,1389.6 1104.0,1398.7 1099.0,1389.1 1099.4,1398.7 1105.6,1392.9 1105.3,1398.8 1105.2,1390.7 1104.9,1399.7 1101.6,1392.0 1104.1,1401.7 1103.1,1394.0 1100.2,1402.6 1103.9,1393.3 1106.8,1405.8 1105.7,1394.3 1103.2,1402.6 1106.1,1391.6 1102.5,1402.0 1105.0,1392.2 1104.0,1403.6 1105.4,1394.6 1109.1,1404.8 1109.3,1397.1 1109.7,1403.3 1106.1,1397.8 1104.7,1406.0 1105.2,1394.9 1104.4,1406.2 1106.8,1398.3 1113.5,1409.3 1108.0,1398.8 1109.5,1408.3 1113.6,1404.6 1106.2,1413.1 1105.0,1405.6 1107.5,1411.7 1113.2,1401.8 1111.5,1411.9 1115.6,1401.8 1111.3,1418.0 1112.3,1403.9 1113.4,1418.4 1109.7,1403.7 1112.5,1426.6 1114.1,1406.4 1108.4,1419.2 1116.0,1413.9 1110.7,1416.8 1116.0,1410.9 1111.7,1419.6 1109.5,1414.1 1115.5,1429.1 1117.5,1412.3 1116.7,1425.0 1111.7,1412.7 1117.5,1420.9 1112.0,1411.0 1115.4,1422.7 1113.9,1410.6 1113.8,1433.2 1116.7,1412.4 1121.1,1424.6 1117.1,1414.6 1115.8,1426.0 1120.6,1416.4 1122.4,1429.7 1115.6,1419.7 1122.1,1427.3 1119.6,1420.1 1119.6,1432.2 1119.3,1417.8 1120.9,1430.6 1119.1,1422.0 1123.6,1442.3 1115.3,1422.3 1117.9,1434.8 1122.1,1425.3 1117.1,1443.2 1123.1,1425.4 1121.0,1435.7 1123.2,1426.8 1122.6,1440.1 1119.1,1428.4 1128.2,1438.2 1121.2,1428.3 1118.1,1447.1 1124.1,1429.4 1120.8,1439.9 1121.2,1429.9 1121.3,1437.6 1127.5,1427.7 1127.5,1441.9 1127.3,1430.4 1125.2,1443.0 1126.4,1435.0 1129.2,1442.9 1126.7,1433.1 1130.5,1443.1 1131.8,1434.1 1125.0,1446.0 1126.1,1445.9 1128.5,1458.4 1125.2,1437.4 1128.5,1454.4 1129.3,1438.2 1134.8,1448.0 1130.3,1439.2 1128.8,1448.1 1133.1,1439.3 1130.8,1453.6 1132.4,1438.9 1133.5,1450.8 1128.7,1442.5 1129.3,1451.5 1132.7,1441.6 1134.9,1452.0 1131.4,1443.8 1136.8,1454.2 1136.3,1444.5 1136.5,1454.9 1135.6,1444.4 1138.5,1457.2 1131.0,1445.9 1139.6,1456.7 1137.5,1447.1 1132.7,1457.1 1134.2,1444.9 1135.2,1457.9 1136.7,1449.0 1135.9,1466.4 1137.9,1448.7 1140.7,1457.9 1136.7,1448.3 1139.7,1461.2 1136.9,1448.5 1141.3,1462.4 1136.9,1449.3 1139.5,1473.8 1139.7,1452.0 1141.3,1465.9 1144.1,1455.3 1143.4,1462.7 1144.7,1455.8 1142.0,1465.8 1140.0,1455.4 1143.6,1466.8 1143.0,1454.8 1146.0,1466.7 1146.8,1463.1 1146.3,1471.4 1145.7,1458.2 1144.6,1470.3 1145.0,1458.0 1147.8,1466.2 1141.9,1459.2 1149.6,1470.7 1144.2,1460.1 1143.5,1472.8 1145.2,1462.4 1147.1,1472.2 1148.6,1463.0 1147.8,1472.7 1152.2,1463.0 1148.5,1472.2 1149.7,1464.3 1151.8,1472.1 1146.2,1463.6 1156.8,1474.0 1150.7,1464.2 1155.4,1473.2 1150.8,1467.4 1155.3,1477.1 1155.5,1468.7 1156.6,1476.6 1154.5,1474.0 1155.8,1481.6 1156.2,1468.4 1156.7,1478.3 1157.2,1469.8 1157.4,1481.4 1157.6,1470.7 1159.6,1482.0 1153.2,1470.2 1155.9,1484.3 1160.0,1480.9 1161.7,1483.4 1161.5,1472.2 1163.2,1483.7 1157.0,1475.6 1162.3,1484.5 1161.1,1475.6 1163.0,1485.1 1161.3,1474.8 1165.6,1484.6 1162.6,1473.6 1158.8,1483.8 1160.3,1476.1 1165.0,1487.3 1162.6,1474.2 1164.8,1485.8 1166.5,1476.8 1162.6,1488.6 1164.2,1477.1 1166.0,1489.9 1165.1,1477.7 1170.6,1489.3 1168.7,1478.3 1168.6,1490.1 1168.9,1478.8 1164.4,1491.2 1169.4,1479.8 1171.9,1490.7 1171.7,1481.5 1169.9,1490.2 1171.2,1482.6 1170.2,1492.7 1172.5,1483.9 1169.5,1494.1 1170.5,1483.8 1170.0,1492.8 1176.8,1484.1 1172.9,1495.6 1177.1,1483.8 1177.6,1497.5 1178.8,1486.9 1177.8,1496.1 1178.4,1485.2 1177.3,1496.6 1179.6,1493.6 1174.9,1498.3 1175.8,1486.0 1178.3,1498.9 1179.9,1488.1 1178.7,1501.5 1178.7,1486.4 1177.9,1496.4 1182.1,1487.8 1183.2,1502.0 1181.1,1491.4 1179.6,1498.8 1183.1,1487.9 1179.7,1499.2 1185.4,1489.5 1181.5,1499.1 1182.7,1498.2 1186.2,1501.0 1189.9,1491.8 1186.0,1503.2 1188.2,1493.2 1189.5,1500.8 1187.6,1493.1 1184.8,1504.0 1189.7,1490.7 1188.5,1506.0 1193.5,1493.2 1192.4,1502.3 1187.4,1503.7 1188.7,1504.4 1189.7,1495.0 1193.5,1506.8 1192.5,1495.4 1190.3,1505.3 1189.0,1496.3 1194.0,1507.4 1194.8,1497.2 1196.9,1505.9 1199.4,1495.7 1196.7,1511.4 1200.1,1499.3 1194.6,1507.8 1196.7,1501.0 1197.3,1519.3 1197.4,1498.6 1199.1,1513.3 1201.7,1501.5 1198.7,1515.2 1197.6,1503.7 1199.3,1514.4 1199.7,1504.5 1205.0,1519.5 1198.3,1504.2 1200.1,1512.0 1204.9,1503.2 1206.2,1514.7" stroke-width="1.8"/></g>
<rect x="184.7" y="1329.4" width="82.5" height="7.6" fill="#ff2d20"/>
<rect x="340" y="1329.4" width="82.6" height="7.6" fill="#ff2d20"/>
<rect x="493.5" y="1329.4" width="82.7" height="7.6" fill="#ff2d20"/>
<rect x="662.8" y="1162.2" width="83.2" height="7.8" fill="#0a70c0"/>
<rect x="818.4" y="1162.2" width="83.0" height="7.8" fill="#0a70c0"/>
<rect x="973" y="1162.2" width="83.4" height="7.8" fill="#0a70c0"/>
<path d="M182 1051.7V1514M179.4 1502.3H1217" stroke="#000" stroke-width="5.2" fill="none"/>
<path d="M182 1069.6H198M182 1156.6H198M182 1244.3H198M182 1417.5H198" stroke="#000" stroke-width="4.8" fill="none"/>
<path d="M658.1 1484.3V1502M1127.4 1484.3V1502" stroke="#000" stroke-width="3.8" fill="none"/>
<text x="157.60" y="1077.20" font-size="32.5" font-weight="bold" text-anchor="end">2.5</text>
<text x="157.60" y="1165.30" font-size="32.5" font-weight="bold" text-anchor="end">2.0</text>
<text x="157.60" y="1252.30" font-size="32.5" font-weight="bold" text-anchor="end">1.5</text>
<text x="157.60" y="1341.00" font-size="32.5" font-weight="bold" text-anchor="end">1.0</text>
<text x="157.60" y="1430.80" font-size="32.5" font-weight="bold" text-anchor="end">0.5</text>
<text x="157.60" y="1510.80" font-size="32.5" font-weight="bold" text-anchor="end">0.0</text>
<text x="194.50" y="1552.80" font-size="31.5" font-weight="bold" text-anchor="middle">0</text>
<text x="659.60" y="1543.60" font-size="32.6" font-weight="bold" text-anchor="middle">30</text>
<text x="1129.60" y="1541.40" font-size="32.6" font-weight="bold" text-anchor="middle">60</text>
<text x="667.50" y="1588.80" font-size="37" font-weight="bold" text-anchor="middle">Time (min)</text>
<text transform="translate(77.50 1450.80) rotate(-90) scale(1.15 1)" font-size="38">Δ</text>
<text transform="translate(77.60 1414.80) rotate(-90) scale(1.052 1)" font-size="40.5" font-weight="bold">Temperature</text>
<text transform="translate(77.4 1145.5) rotate(-90)" font-size="39.5" font-weight="bold"><tspan font-size="35" dy="-5.5">°</tspan><tspan dx="-8.5" dy="5.5">C</tspan></text>
<path d="M1287 1052.8H1363" stroke="#ff2d1e" stroke-width="7.4"/>
<path d="M1287 1129.2H1363" stroke="#0a70c0" stroke-width="7.6"/>
<text transform="translate(1394.30 1071.20) scale(0.934 1)" font-size="44.2" font-weight="bold">135 V</text>
<text transform="translate(1394.80 1149.80) scale(0.948 1)" font-size="44.2" font-weight="bold">210 V</text>
<path d="M222 1647.4H273.5" stroke="#f9812a" stroke-width="2"/>
<path d="M731.6 1647H786" stroke="#4b4e54" stroke-width="2"/>
<text transform="translate(283.00 1664.00) scale(0.995 1)" font-size="37.7" font-weight="bold">Stimulated Hemisphere</text>
<text transform="translate(799.50 1664.00) scale(0.995 1)" font-size="37.7" font-weight="bold">Control Hemisphere</text>
<text transform="translate(3.50 1884.50) scale(0.99 1)" font-size="64" font-weight="bold">c)</text>
<text transform="translate(97.50 1954.80) scale(0.975 1)" font-size="23" fill="#111">Surgery</text>
<rect x="141.2" y="1977" width="241.6" height="51.3" fill="#7bc67c"/>
<text x="263.00" y="1999.00" font-size="19.2" text-anchor="middle" fill="#15251a">two-photon imaging and</text>
<text x="263.00" y="2019.40" font-size="19.2" text-anchor="middle" fill="#15251a">stimulation</text>
<defs><linearGradient id="sga" gradientUnits="userSpaceOnUse" x1="130" y1="1961" x2="108" y2="1988"><stop offset="0" stop-color="#1c1c1c" stop-opacity="0"/><stop offset="1" stop-color="#1c1c1c"/></linearGradient></defs>
<path d="M129.5 1962L101.2 1996.2" stroke="url(#sga)" stroke-width="2.8" fill="none"/>
<path d="M101.2 1996.2L133 2025" stroke="#1c1c1c" stroke-width="2.8" fill="none" stroke-linecap="round"/>
<path d="M142.6 2033.8L124.5 2029.5L136 2017Z" fill="#1c1c1c"/>
<path d="M141.2 2057.5H384.3" stroke="#1f1f1f" stroke-width="3.8" fill="none"/>
<path d="M142.9 2038V2077M151.6 2038V2077M160.1 2038V2077M168.9 2038V2077M178 2038V2077M187 2038V2077M195.7 2038V2077M205 2038V2077M262.9 2038V2077M322.4 2038V2077M382.6 2038V2077" stroke="#1f1f1f" stroke-width="3.4" fill="none"/>
<text x="81.00" y="2101.50" font-size="23" fill="#111">Day</text>
<text x="161.00" y="2101.50" font-size="23" text-anchor="middle" fill="#111">0 - 7</text>
<text x="259.80" y="2101.50" font-size="23" text-anchor="middle" fill="#111">14</text>
<text x="319.00" y="2101.50" font-size="23" text-anchor="middle" fill="#111">21</text>
<text x="381.30" y="2101.50" font-size="23" text-anchor="middle" fill="#111">28</text>
<text transform="translate(424.00 1884.00) scale(0.99 1)" font-size="64" font-weight="bold">d)</text>
<defs><filter id="dblur" x="0" y="0" width="100%" height="100%"><feGaussianBlur stdDeviation="1.6"/></filter><clipPath id="dclip"><rect x="408" y="2193.2" width="822.3" height="114.4"/></clipPath></defs>
<rect x="408" y="2258.4" width="822.3" height="49.2" fill="#ecc9da"/>
<rect x="408" y="2193.2" width="822.3" height="65.4" fill="#f4e2ea"/>
<g clip-path="url(#dclip)"><g fill="#e2bccf" opacity=".4" filter="url(#dblur)"><ellipse cx="605" cy="2285" rx="7" ry="5"/><ellipse cx="920" cy="2266" rx="4" ry="6"/><ellipse cx="623" cy="2273" rx="11" ry="5"/><ellipse cx="1091" cy="2282" rx="8" ry="4"/><ellipse cx="928" cy="2297" rx="8" ry="6"/><ellipse cx="957" cy="2266" rx="9" ry="5"/><ellipse cx="657" cy="2265" rx="10" ry="5"/><ellipse cx="996" cy="2297" rx="9" ry="7"/><ellipse cx="733" cy="2294" rx="7" ry="7"/><ellipse cx="1126" cy="2268" rx="5" ry="4"/><ellipse cx="1196" cy="2281" rx="8" ry="4"/><ellipse cx="824" cy="2279" rx="6" ry="5"/><ellipse cx="886" cy="2298" rx="9" ry="7"/><ellipse cx="1107" cy="2302" rx="9" ry="4"/><ellipse cx="1111" cy="2301" rx="10" ry="5"/><ellipse cx="992" cy="2272" rx="10" ry="5"/><ellipse cx="643" cy="2266" rx="10" ry="7"/><ellipse cx="484" cy="2294" rx="7" ry="4"/><ellipse cx="651" cy="2293" rx="10" ry="3"/><ellipse cx="911" cy="2266" rx="9" ry="4"/><ellipse cx="1127" cy="2301" rx="8" ry="7"/><ellipse cx="663" cy="2267" rx="8" ry="3"/><ellipse cx="572" cy="2280" rx="8" ry="4"/><ellipse cx="446" cy="2297" rx="6" ry="7"/><ellipse cx="1140" cy="2278" rx="7" ry="5"/><ellipse cx="935" cy="2287" rx="8" ry="5"/><ellipse cx="1176" cy="2283" rx="7" ry="6"/><ellipse cx="605" cy="2275" rx="11" ry="5"/><ellipse cx="857" cy="2264" rx="7" ry="5"/><ellipse cx="428" cy="2287" rx="8" ry="3"/><ellipse cx="921" cy="2282" rx="9" ry="4"/><ellipse cx="986" cy="2292" rx="4" ry="3"/><ellipse cx="961" cy="2301" rx="6" ry="5"/><ellipse cx="893" cy="2276" rx="7" ry="4"/><ellipse cx="712" cy="2287" rx="6" ry="5"/><ellipse cx="1039" cy="2265" rx="8" ry="6"/><ellipse cx="664" cy="2272" rx="10" ry="4"/><ellipse cx="564" cy="2281" rx="9" ry="3"/><ellipse cx="673" cy="2277" rx="10" ry="5"/><ellipse cx="1107" cy="2270" rx="6" ry="6"/><ellipse cx="1131" cy="2281" rx="6" ry="3"/><ellipse cx="842" cy="2271" rx="10" ry="6"/><ellipse cx="561" cy="2275" rx="10" ry="6"/><ellipse cx="1067" cy="2277" rx="5" ry="4"/><ellipse cx="1057" cy="2274" rx="6" ry="5"/><ellipse cx="753" cy="2280" rx="10" ry="4"/><ellipse cx="416" cy="2300" rx="10" ry="7"/><ellipse cx="765" cy="2300" rx="10" ry="4"/><ellipse cx="1017" cy="2296" rx="9" ry="5"/><ellipse cx="647" cy="2277" rx="6" ry="3"/><ellipse cx="890" cy="2275" rx="10" ry="3"/><ellipse cx="1146" cy="2290" rx="10" ry="7"/><ellipse cx="1143" cy="2286" rx="4" ry="6"/><ellipse cx="552" cy="2275" rx="9" ry="5"/><ellipse cx="748" cy="2300" rx="8" ry="4"/><ellipse cx="617" cy="2297" rx="7" ry="6"/><ellipse cx="698" cy="2271" rx="8" ry="6"/><ellipse cx="551" cy="2294" rx="10" ry="6"/><ellipse cx="1081" cy="2264" rx="8" ry="6"/><ellipse cx="453" cy="2274" rx="6" ry="5"/><ellipse cx="755" cy="2282" rx="9" ry="3"/><ellipse cx="457" cy="2269" rx="5" ry="3"/><ellipse cx="1203" cy="2296" rx="5" ry="5"/><ellipse cx="669" cy="2276" rx="6" ry="6"/><ellipse cx="888" cy="2278" rx="5" ry="4"/><ellipse cx="512" cy="2285" rx="9" ry="5"/><ellipse cx="477" cy="2271" rx="7" ry="5"/><ellipse cx="1047" cy="2278" rx="10" ry="5"/><ellipse cx="762" cy="2278" rx="7" ry="6"/><ellipse cx="753" cy="2290" rx="7" ry="4"/><ellipse cx="847" cy="2290" rx="5" ry="5"/><ellipse cx="758" cy="2297" rx="11" ry="4"/><ellipse cx="1141" cy="2294" rx="6" ry="5"/><ellipse cx="512" cy="2295" rx="9" ry="7"/><ellipse cx="1055" cy="2289" rx="9" ry="5"/><ellipse cx="496" cy="2286" rx="4" ry="4"/><ellipse cx="1041" cy="2266" rx="5" ry="3"/><ellipse cx="1127" cy="2271" rx="4" ry="6"/><ellipse cx="510" cy="2296" rx="9" ry="6"/><ellipse cx="1185" cy="2286" rx="10" ry="3"/><ellipse cx="1035" cy="2283" rx="9" ry="3"/><ellipse cx="1020" cy="2300" rx="4" ry="4"/><ellipse cx="870" cy="2295" rx="6" ry="4"/><ellipse cx="615" cy="2287" rx="9" ry="5"/><ellipse cx="710" cy="2279" rx="6" ry="5"/><ellipse cx="480" cy="2283" rx="11" ry="5"/><ellipse cx="1019" cy="2270" rx="9" ry="6"/><ellipse cx="959" cy="2284" rx="7" ry="6"/><ellipse cx="1141" cy="2270" rx="5" ry="6"/><ellipse cx="1156" cy="2284" rx="7" ry="6"/></g></g>
<g clip-path="url(#dclip)"><g fill="#ecd3e2" opacity=".4" filter="url(#dblur)"><ellipse cx="563" cy="2213" rx="5" ry="5"/><ellipse cx="668" cy="2211" rx="9" ry="7"/><ellipse cx="652" cy="2237" rx="7" ry="6"/><ellipse cx="887" cy="2213" rx="6" ry="3"/><ellipse cx="801" cy="2219" rx="5" ry="4"/><ellipse cx="673" cy="2241" rx="5" ry="7"/><ellipse cx="801" cy="2232" rx="7" ry="6"/><ellipse cx="1079" cy="2229" rx="7" ry="6"/><ellipse cx="1108" cy="2220" rx="9" ry="7"/><ellipse cx="792" cy="2211" rx="6" ry="6"/><ellipse cx="960" cy="2252" rx="10" ry="4"/><ellipse cx="566" cy="2212" rx="5" ry="6"/><ellipse cx="1109" cy="2248" rx="6" ry="6"/><ellipse cx="666" cy="2222" rx="9" ry="3"/><ellipse cx="487" cy="2245" rx="6" ry="4"/><ellipse cx="883" cy="2236" rx="4" ry="4"/><ellipse cx="766" cy="2225" rx="5" ry="5"/><ellipse cx="1188" cy="2220" rx="8" ry="3"/><ellipse cx="635" cy="2235" rx="5" ry="7"/><ellipse cx="1150" cy="2203" rx="11" ry="4"/><ellipse cx="1039" cy="2240" rx="6" ry="6"/><ellipse cx="943" cy="2243" rx="6" ry="6"/><ellipse cx="1193" cy="2236" rx="8" ry="3"/><ellipse cx="813" cy="2218" rx="9" ry="6"/><ellipse cx="872" cy="2208" rx="9" ry="6"/><ellipse cx="557" cy="2248" rx="9" ry="3"/><ellipse cx="1169" cy="2206" rx="6" ry="6"/><ellipse cx="897" cy="2229" rx="9" ry="5"/><ellipse cx="666" cy="2208" rx="4" ry="6"/><ellipse cx="1025" cy="2228" rx="9" ry="4"/><ellipse cx="628" cy="2219" rx="10" ry="3"/><ellipse cx="822" cy="2212" rx="9" ry="4"/><ellipse cx="682" cy="2221" rx="8" ry="6"/><ellipse cx="699" cy="2245" rx="5" ry="4"/><ellipse cx="493" cy="2204" rx="9" ry="6"/><ellipse cx="562" cy="2209" rx="7" ry="6"/><ellipse cx="1074" cy="2240" rx="8" ry="4"/><ellipse cx="736" cy="2209" rx="8" ry="5"/><ellipse cx="576" cy="2212" rx="9" ry="3"/><ellipse cx="1064" cy="2248" rx="11" ry="5"/><ellipse cx="861" cy="2231" rx="8" ry="7"/><ellipse cx="970" cy="2215" rx="10" ry="5"/><ellipse cx="900" cy="2239" rx="4" ry="6"/><ellipse cx="949" cy="2226" rx="8" ry="5"/><ellipse cx="569" cy="2228" rx="4" ry="5"/><ellipse cx="937" cy="2223" rx="8" ry="7"/><ellipse cx="1136" cy="2206" rx="10" ry="5"/><ellipse cx="453" cy="2218" rx="6" ry="3"/><ellipse cx="850" cy="2250" rx="6" ry="6"/><ellipse cx="976" cy="2206" rx="10" ry="5"/><ellipse cx="1165" cy="2238" rx="9" ry="4"/><ellipse cx="1067" cy="2250" rx="10" ry="5"/><ellipse cx="1027" cy="2225" rx="5" ry="3"/><ellipse cx="475" cy="2209" rx="5" ry="5"/><ellipse cx="980" cy="2228" rx="7" ry="6"/><ellipse cx="659" cy="2224" rx="9" ry="5"/><ellipse cx="559" cy="2248" rx="9" ry="4"/><ellipse cx="713" cy="2228" rx="8" ry="4"/><ellipse cx="414" cy="2210" rx="9" ry="4"/><ellipse cx="786" cy="2209" rx="5" ry="4"/><ellipse cx="740" cy="2207" rx="4" ry="3"/><ellipse cx="549" cy="2225" rx="4" ry="3"/><ellipse cx="776" cy="2221" rx="9" ry="3"/><ellipse cx="739" cy="2220" rx="4" ry="7"/><ellipse cx="590" cy="2203" rx="7" ry="4"/><ellipse cx="917" cy="2217" rx="5" ry="3"/><ellipse cx="1003" cy="2213" rx="10" ry="5"/><ellipse cx="1170" cy="2215" rx="6" ry="4"/><ellipse cx="1074" cy="2233" rx="6" ry="3"/><ellipse cx="966" cy="2252" rx="8" ry="3"/></g></g>
<rect x="408" y="2176.8" width="410.4" height="16.8" fill="#fbeab6"/>
<rect x="1078.8" y="2176.8" width="151.5" height="16.8" fill="#fbeab6"/>
<path d="M424.2 2183.8v2.0M545.5 2182.1v2.7M1137.8 2185.6v2.5M1142.3 2182.7v2.3M1107.5 2188.4v2.5M556.8 2183.3v2.6M1201.9 2186.6v3.0M698.4 2180.1v3.4M1183.0 2179.2v2.1M752.0 2183.4v3.7M707.3 2180.3v3.5M548.4 2179.0v3.1M1104.3 2179.7v4.0M1112.5 2184.2v2.8M777.6 2183.6v3.1M428.7 2180.4v3.7M1114.5 2185.4v3.1M1132.5 2185.9v3.4M792.9 2180.5v2.8M705.4 2180.3v3.4M1135.2 2178.8v2.8M512.7 2183.2v1.7M1217.9 2180.6v3.7M598.8 2182.4v2.0M576.9 2183.6v3.0M426.1 2178.3v1.9M614.9 2186.9v2.2M1190.3 2187.4v1.9M591.0 2179.8v3.4M1225.0 2182.5v1.9M1158.8 2180.7v3.9M423.9 2187.7v2.2M509.8 2185.5v1.9M794.9 2182.3v3.9M558.2 2178.2v2.6M548.3 2183.4v2.2M612.9 2178.5v2.6M1215.2 2181.0v1.8M730.2 2184.6v2.2M418.9 2183.6v3.2M740.0 2182.5v3.1M1102.4 2179.2v3.4M524.2 2189.5v1.9M538.9 2187.9v3.8M1165.9 2179.4v1.8M715.8 2186.0v2.4M1222.2 2183.4v2.3M675.5 2181.8v2.2M792.4 2184.7v1.6M578.6 2180.8v2.0M444.1 2185.6v3.5M414.2 2183.2v4.0M598.1 2180.8v3.9M776.9 2186.1v3.1M469.3 2181.7v3.1M464.7 2184.4v2.5M569.1 2179.3v1.8M1218.9 2178.9v2.0M790.5 2178.8v2.9M453.8 2178.3v2.4M727.1 2184.5v2.3M1138.1 2181.5v3.4M713.3 2181.8v3.6M1090.3 2188.5v1.8M1197.9 2186.2v2.8M449.3 2181.9v3.0M1164.3 2181.8v2.4M1218.7 2188.0v2.2M1100.0 2180.7v4.0M512.2 2183.4v2.7M1226.0 2184.3v4.0M1162.3 2187.3v1.6M566.8 2184.2v1.6M459.4 2186.5v2.4M615.6 2188.9v3.2M454.0 2182.5v3.0M444.9 2180.4v1.6M538.5 2187.9v3.6M780.0 2184.1v3.8M1126.8 2180.3v3.6M446.2 2182.6v2.7M809.2 2184.1v2.6M665.3 2185.7v3.4M1210.1 2189.9v1.7M415.8 2187.9v2.3M580.8 2185.8v3.9M1213.8 2184.3v2.9M1150.4 2182.8v2.4M1115.1 2181.6v3.7M626.2 2181.8v3.7M703.1 2178.7v2.6M537.8 2180.2v1.8M596.1 2181.8v3.4M1210.5 2188.0v1.6M568.8 2182.1v1.6M707.1 2183.3v2.9M1113.5 2182.4v2.1M625.9 2185.2v3.1M434.6 2183.9v2.9M520.2 2182.7v2.8M607.6 2179.4v2.5M470.1 2184.3v3.6M629.3 2182.5v1.6M1173.0 2187.1v2.9M1211.2 2181.9v2.5M674.4 2186.1v3.3M553.3 2181.5v2.0M748.1 2181.8v3.3M570.9 2184.6v2.4M703.7 2184.1v1.9M1216.8 2184.2v2.5M523.4 2179.4v3.9M1120.3 2180.2v2.9M492.4 2187.5v3.3M775.9 2180.7v2.6M804.7 2178.5v2.7M465.6 2186.9v2.8M584.3 2181.5v2.2M474.0 2185.7v2.0M1221.2 2186.7v2.4M636.3 2180.4v1.9M1152.8 2181.5v1.8M740.4 2179.6v3.1M768.4 2185.5v2.8M634.8 2181.2v3.3M412.8 2178.1v2.3M704.7 2187.6v2.5M591.4 2185.5v2.6M507.3 2183.0v1.7M1161.6 2180.9v1.7M649.1 2184.8v2.2M1178.7 2180.5v3.0M734.4 2184.0v1.7M646.5 2184.2v2.3M503.1 2179.5v2.7M511.8 2178.2v1.6M435.5 2188.9v1.6M534.8 2187.3v3.5M1141.2 2178.5v3.9M1190.7 2187.0v3.3M478.3 2184.1v3.9M414.5 2183.1v3.3M1150.0 2189.3v2.3M1196.9 2181.1v2.4M711.7 2187.0v3.3M653.8 2185.3v2.1M1108.1 2183.4v2.6M581.8 2182.4v3.5M1139.1 2180.6v2.1M1175.7 2188.1v3.0" stroke="#d9cfa4" stroke-width="1" fill="none" opacity=".8"/>
<rect x="818.4" y="2176.8" width="260.4" height="16.6" fill="#ddeef9"/>
<rect x="825.6" y="2177.4" width="253.2" height="3.2" fill="#66caf1"/>
<path d="M408 2176.8V2111.6C430 2090 500 2070 551 2068.6C600 2068 640 2100 662.7 2126.8C676 2141 687 2158 695.5 2176.8Z" fill="#e6e6da"/>
<path d="M1078.8 2176.8C1110 2140 1165 2108 1230.3 2107.6V2176.8Z" fill="#e6e6da"/>
<path d="M772.5 2150.8L941.8 2247.4" stroke="#111" stroke-width="1.3" fill="none"/>
<path d="M451.8 1964.4L772.5 2150.8L756.6 2177.3L436.6 1991.7Z" fill="#8d8d8b" stroke="#6f6f6d" stroke-width="1"/>
<rect x="956.5" y="1843" width="14.4" height="93" fill="#232323"/>
<path d="M851.5 1974L917 2152.6H962.4L1014.2 1974Z" fill="#d9d9d9" stroke="#595959" stroke-width="4"/>
<path d="M848.9 1940.5V1971.5Q932.5 1982.5 1016.2 1971.5V1940.5Z" fill="#5a5a5a" stroke="#000" stroke-width="5" stroke-linejoin="round"/>
<ellipse cx="932.5" cy="1940.6" rx="83.6" ry="6.4" fill="#a3a3a3" stroke="#000" stroke-width="4.6"/>
<rect x="956.5" y="1920" width="14.4" height="15.4" fill="#232323"/>
<text transform="translate(1089.80 1874.00) scale(0.82 1)" font-size="23" text-anchor="middle" fill="#161616">Connection to LIPUS</text>
<text transform="translate(1090.00 1901.20) scale(0.82 1)" font-size="23" text-anchor="middle" fill="#161616">equipment</text>
<text transform="translate(1032.50 1966.60) scale(0.82 1)" font-size="23" fill="#161616">Transducer</text>
<text transform="translate(1003.30 2072.60) scale(0.82 1)" font-size="23" fill="#161616">PVA Cone</text>
<text transform="translate(634.20 2059.90) scale(0.82 1)" font-size="21.2" fill="#161616">Probe</text>
<text transform="translate(478.50 2144.00) scale(0.82 1)" font-size="21.2" fill="#161616">Dental cement</text>
<text transform="translate(633.80 2194.60) scale(0.82 1)" font-size="21.2" fill="#161616">Skull</text>
<text transform="translate(831.80 2121.50) scale(0.82 1)" font-size="21.2" text-anchor="middle" fill="#161616">Imaging</text>
<text transform="translate(831.80 2145.60) scale(0.82 1)" font-size="21.2" text-anchor="middle" fill="#161616">Window</text>
<text transform="translate(1017.20 2148.20) scale(0.82 1)" font-size="21.2" fill="#161616">Sealant</text>
<text transform="translate(1161.00 2144.60) scale(0.82 1)" font-size="21.2" fill="#161616">Dental</text>
<text transform="translate(1161.00 2169.50) scale(0.82 1)" font-size="21.2" fill="#161616">cement</text>
<text transform="translate(761.40 2238.00) scale(0.82 1)" font-size="21.2" fill="#161616">25-30°</text>
<text transform="translate(1085.00 2223.00) scale(0.82 1)" font-size="21.2" fill="#161616">300-500 µm</text>
<text transform="translate(1085.00 2248.60) scale(0.82 1)" font-size="21.2" fill="#161616">observable depth</text>
<g stroke="#222" stroke-width="1" fill="none"><path d="M1067.7 2196V2256"/><path d="M847.8 2154L871.5 2177.6"/><path d="M1034.5 2156L1010.8 2185.8"/><path d="M862 2206.3Q834 2219 833.4 2254"/></g>
<g fill="#222"><path d="M1067.7 2194.2l-2.4 5.4h4.8z"/><path d="M1067.7 2257.6l-2.4-5.4h4.8z"/><path d="M873.2 2179.2l-6-2.4 3.4-3.4z"/><path d="M1009.4 2187.6l1.4-6.2 3.8 3z"/><path d="M864.4 2205.2l-5.8 0.2 2.2 4.2z"/><path d="M833.4 2256.6l-2.4-5.4h4.8z"/></g>
<text transform="translate(1236.00 1894.30) scale(0.99 1)" font-size="64" font-weight="bold">e)</text>
<defs><clipPath id="ecl"><rect x="1306" y="1843.5" width="416.8" height="417.3"/></clipPath><filter id="gtex" x="0" y="0" width="100%" height="100%" color-interpolation-filters="sRGB"><feTurbulence type="fractalNoise" baseFrequency="0.036" numOctaves="4" seed="4" result="n1"/><feColorMatrix in="n1" type="matrix" values="0 1 0 0 0  0 1 0 0 0  0 1 0 0 0  0 0 0 0 1" result="n1g"/><feComponentTransfer in="n1g" result="base"><feFuncR type="table" tableValues="0 0"/><feFuncG type="table" tableValues="0.06 0.07 0.07 0.08 0.08 0.09 0.09 0.1 0.15 0.22 0.31 0.4 0.46 0.52 0.53 0.54 0.55 0.57 0.58 0.59 0.6"/><feFuncB type="table" tableValues="0 0"/></feComponentTransfer><feComponentTransfer in="n1g" result="mod"><feFuncR type="table" tableValues="0 0 0 0 0 0 0 0 0 0 0 0.44 0.8 1 1 1 1 1 1 1 1"/><feFuncG type="table" tableValues="0 0 0 0 0 0 0 0 0.09 0.32 0.55 0.78 1 1 1 1 1 1 1 1 1"/><feFuncB type="table" tableValues="0 0 0 0 0 0 0 0 0 0 0 0.44 0.8 1 1 1 1 1 1 1 1"/></feComponentTransfer><feTurbulence type="fractalNoise" baseFrequency="0.12" numOctaves="3" seed="12" result="n2"/><feColorMatrix in="n2" type="matrix" values="1 0 0 0 0  1 0 0 0 0  1 0 0 0 0  0 0 0 0 1" result="n2g"/><feComponentTransfer in="n2g" result="spk"><feFuncR type="table" tableValues="0 0 0 0 0 0 0 0 0 0 0 0 0 0.21 0.55 0.83 1 1 1 1 1"/><feFuncG type="table" tableValues="0 0 0 0 0 0 0 0 0 0 0.09 0.53 0.85 1 1 1 1 1 1 1 1"/><feFuncB type="table" tableValues="0 0 0 0 0 0 0 0 0 0 0 0 0 0.21 0.55 0.83 1 1 1 1 1"/></feComponentTransfer><feComposite in="spk" in2="mod" operator="arithmetic" k1="1" k2="0" k3="0" k4="0" result="spk2"/><feComposite in="base" in2="spk2" operator="arithmetic" k1="0" k2="1" k3="1" k4="0" result="s"/><feGaussianBlur in="s" stdDeviation="0.6"/></filter><filter id="b2" x="-20%" y="-20%" width="140%" height="140%"><feGaussianBlur stdDeviation="1.1"/></filter><filter id="b4" x="-30%" y="-30%" width="160%" height="160%"><feGaussianBlur stdDeviation="3"/></filter><filter id="b12" x="-50%" y="-50%" width="200%" height="200%"><feGaussianBlur stdDeviation="13"/></filter><filter id="b5" x="-50%" y="-50%" width="200%" height="200%"><feGaussianBlur stdDeviation="2.2"/></filter></defs>
<g clip-path="url(#ecl)">
<rect x="1306" y="1843.5" width="416.8" height="417.3" fill="#000"/>
<rect x="1306" y="1843.5" width="416.8" height="417.3" filter="url(#gtex)"/>
<g filter="url(#b12)" fill="#000"><path d="M1290 1825H1740V1885Q1640 1905 1560 1872Q1470 1858 1410 1890Q1350 1925 1290 1935Z" opacity=".93"/><path d="M1630 2165H1745V2275H1540Q1600 2240 1630 2165Z" opacity=".98"/><ellipse cx="1610" cy="2125" rx="75" ry="28" opacity=".55"/><ellipse cx="1560" cy="2060" rx="55" ry="30" opacity=".5"/><ellipse cx="1400" cy="2150" rx="60" ry="22" opacity=".45"/><ellipse cx="1470" cy="2240" rx="50" ry="18" opacity=".35"/></g>
<g filter="url(#b12)"><ellipse cx="1362" cy="1866" rx="62" ry="20" fill="#b01eb0" opacity=".62"/><ellipse cx="1470" cy="1858" rx="60" ry="12" fill="#7a1a7a" opacity=".45"/><ellipse cx="1702" cy="1868" rx="42" ry="26" fill="#ff20f0" opacity=".95"/><ellipse cx="1650" cy="1888" rx="60" ry="22" fill="#a01ea0" opacity=".6"/><ellipse cx="1325" cy="1905" rx="30" ry="20" fill="#701870" opacity=".5"/></g>
<g fill="#2dff3a" opacity=".75" filter="url(#b4)"><circle cx="1468.0" cy="1894.4" r="6.5"/><circle cx="1591.0" cy="1888.0" r="6.5"/><circle cx="1551.3" cy="1925.6" r="6.5"/><circle cx="1509.0" cy="1929.6" r="6.5"/><circle cx="1635.9" cy="1934.9" r="6.5"/><circle cx="1360.8" cy="1969.2" r="6.5"/><circle cx="1317.2" cy="1920.3" r="6.5"/><circle cx="1657.1" cy="1901.3" r="6.5"/><circle cx="1707.4" cy="1964.0" r="6.5"/><circle cx="1624.0" cy="1994.4" r="6.5"/><circle cx="1572.5" cy="2007.6" r="6.5"/><circle cx="1695.5" cy="2008.9" r="6.5"/><circle cx="1363.5" cy="2030.1" r="6.5"/><circle cx="1450.8" cy="1948.1" r="6.5"/><circle cx="1637.3" cy="2002.3" r="6.5"/><circle cx="1389.9" cy="1872.7" r="6.5"/><circle cx="1368.8" cy="2121.4" r="6.5"/><circle cx="1424.3" cy="2089.7" r="6.5"/><circle cx="1531.4" cy="2097.6" r="6.5"/><circle cx="1577.7" cy="2111.4" r="6.5"/><circle cx="1617.4" cy="2134.7" r="6.5"/><circle cx="1682.2" cy="2141.3" r="6.5"/><circle cx="1680.9" cy="2150.0" r="6.5"/><circle cx="1448.1" cy="2165.1" r="6.5"/><circle cx="1471.9" cy="2139.4" r="6.5"/><circle cx="1338.3" cy="2142.6" r="6.5"/><circle cx="1649.2" cy="2102.9" r="6.5"/><circle cx="1493.1" cy="2240.5" r="6.5"/><circle cx="1626.7" cy="2251.1" r="6.5"/><circle cx="1563.2" cy="2154.5" r="6.5"/><circle cx="1420.3" cy="2245.8" r="6.5"/><circle cx="1335.7" cy="2241.8" r="6.5"/></g>
<g fill="#f2fff2" filter="url(#b2)"><circle cx="1468.0" cy="1894.4" r="2.9"/><circle cx="1591.0" cy="1888.0" r="2.9"/><circle cx="1551.3" cy="1925.6" r="2.9"/><circle cx="1509.0" cy="1929.6" r="2.9"/><circle cx="1635.9" cy="1934.9" r="2.9"/><circle cx="1360.8" cy="1969.2" r="2.9"/><circle cx="1317.2" cy="1920.3" r="2.9"/><circle cx="1657.1" cy="1901.3" r="2.9"/><circle cx="1707.4" cy="1964.0" r="2.9"/><circle cx="1624.0" cy="1994.4" r="2.9"/><circle cx="1572.5" cy="2007.6" r="2.9"/><circle cx="1695.5" cy="2008.9" r="2.9"/><circle cx="1363.5" cy="2030.1" r="2.9"/><circle cx="1450.8" cy="1948.1" r="2.9"/><circle cx="1637.3" cy="2002.3" r="2.9"/><circle cx="1389.9" cy="1872.7" r="2.9"/><circle cx="1368.8" cy="2121.4" r="2.9"/><circle cx="1424.3" cy="2089.7" r="2.9"/><circle cx="1531.4" cy="2097.6" r="2.9"/><circle cx="1577.7" cy="2111.4" r="2.9"/><circle cx="1617.4" cy="2134.7" r="2.9"/><circle cx="1682.2" cy="2141.3" r="2.9"/><circle cx="1680.9" cy="2150.0" r="2.9"/><circle cx="1448.1" cy="2165.1" r="2.9"/><circle cx="1471.9" cy="2139.4" r="2.9"/><circle cx="1338.3" cy="2142.6" r="2.9"/><circle cx="1649.2" cy="2102.9" r="2.9"/><circle cx="1493.1" cy="2240.5" r="2.9"/><circle cx="1626.7" cy="2251.1" r="2.9"/><circle cx="1563.2" cy="2154.5" r="2.9"/><circle cx="1420.3" cy="2245.8" r="2.9"/><circle cx="1335.7" cy="2241.8" r="2.9"/></g>
<defs><g id="ves" fill="none" stroke-linecap="round" stroke-linejoin="round"><path d="M1360.8 1889.9Q1375.4 1904.4 1382.0 1912.4Q1388.6 1920.3 1395.2 1928.2Q1401.8 1936.2 1408.4 1942.8Q1415.0 1949.4 1419.7 1953.4Q1424.3 1957.3 1425.0 1965.3Q1425.6 1973.2 1426.3 1978.5Q1427.0 1983.8 1430.3 1987.8Q1433.6 1991.7 1435.6 1997.0L1437.5 2002.3" stroke-width="7.5"/><path d="M1424.3 1957.3Q1438.9 1952.0 1444.1 1948.1Q1449.4 1944.1 1452.1 1938.8Q1454.7 1933.5 1453.4 1926.9Q1452.1 1920.3 1450.1 1913.7Q1448.1 1907.1 1447.5 1899.1L1446.8 1891.2" stroke-width="5.3"/><path d="M1427.0 1983.8Q1417.7 1997.0 1412.4 2003.6Q1407.1 2010.2 1400.5 2015.5Q1393.9 2020.8 1385.9 2024.8Q1378.0 2028.8 1371.4 2028.1Q1364.8 2027.4 1362.1 2022.8Q1359.5 2018.2 1361.5 2010.2Q1363.5 2002.3 1361.5 1999.7Q1359.5 1997.0 1347.6 1995.0Q1335.7 1993.1 1322.5 1994.4L1309.2 1995.7" stroke-width="4.8"/><path d="M1489.1 1859.5Q1499.7 1867.4 1500.4 1876.7Q1501.0 1885.9 1503.0 1893.8Q1505.0 1901.8 1510.3 1906.4Q1515.6 1911.0 1522.2 1911.7Q1528.8 1912.4 1536.7 1908.4Q1544.7 1904.4 1552.6 1901.8Q1560.6 1899.1 1568.5 1895.8Q1576.4 1892.5 1583.0 1890.5L1589.7 1888.6" stroke-width="4.8"/><path d="M1555.3 1907.1Q1557.9 1925.6 1559.2 1932.2Q1560.6 1938.8 1564.5 1940.1L1568.5 1941.5" stroke-width="3.5"/><path d="M1520.9 1944.1Q1507.6 1952.0 1502.3 1957.3Q1497.1 1962.6 1491.8 1964.0L1486.5 1965.3" stroke-width="6.2"/><path d="M1497.1 1965.3Q1502.3 1981.1 1507.6 1987.8Q1512.9 1994.4 1516.9 1998.3L1520.9 2002.3" stroke-width="6.2"/><path d="M1512.9 2002.3Q1505.0 2015.5 1501.0 2022.2L1497.1 2028.8" stroke-width="4.4"/><path d="M1621.4 1872.7Q1624.0 1891.2 1626.7 1899.1Q1629.3 1907.1 1630.0 1911.0L1630.7 1915.0" stroke-width="3.5"/><path d="M1721.9 1969.2Q1703.4 1970.6 1694.1 1973.2Q1684.9 1975.9 1675.6 1979.8Q1666.4 1983.8 1658.4 1989.1Q1650.5 1994.4 1643.9 1999.7Q1637.3 2005.0 1632.0 2010.2Q1626.7 2015.5 1620.1 2018.8Q1613.5 2022.2 1608.2 2020.2Q1602.9 2018.2 1597.6 2011.6Q1592.3 2005.0 1587.0 1999.7L1581.7 1994.4" stroke-width="5.7"/><path d="M1608.2 1986.4Q1621.4 1986.4 1626.7 1990.4Q1632.0 1994.4 1634.6 1998.3L1637.3 2002.3" stroke-width="5.3"/><path d="M1661.1 2005.0Q1669.0 2018.2 1674.3 2023.5Q1679.6 2028.8 1686.2 2029.4Q1692.8 2030.1 1699.4 2025.5Q1706.1 2020.8 1710.0 2015.5L1714.0 2010.2" stroke-width="4.4"/><path d="M1669.0 1932.2Q1684.9 1933.5 1694.1 1932.9L1703.4 1932.2" stroke-width="4.0"/><path d="M1650.5 1938.8Q1661.1 1946.8 1665.0 1952.0L1669.0 1957.3" stroke-width="3.5"/><path d="M1325.1 1911.0Q1335.7 1921.6 1342.3 1923.6Q1348.9 1925.6 1354.2 1925.6L1359.5 1925.6" stroke-width="4.0"/><path d="M1444.1 2010.2Q1452.1 2018.2 1454.1 2024.8L1456.1 2031.4" stroke-width="4.0"/><path d="M1557.9 1986.4Q1563.2 1997.0 1565.2 2006.3L1567.2 2015.5" stroke-width="3.5"/><path d="M1343.6 2056.6Q1327.7 2063.2 1322.5 2069.8Q1317.2 2076.5 1317.8 2084.4Q1318.5 2092.3 1323.1 2098.3Q1327.7 2104.2 1333.7 2105.6Q1339.7 2106.9 1340.3 2114.2Q1341.0 2121.4 1343.0 2126.7Q1344.9 2132.0 1343.0 2136.6Q1341.0 2141.3 1334.4 2145.9Q1327.7 2150.5 1317.2 2154.5L1306.6 2158.5" stroke-width="4.8"/><path d="M1343.6 2056.6Q1354.2 2071.2 1362.1 2076.5Q1370.1 2081.7 1378.0 2083.1L1385.9 2084.4" stroke-width="7.5"/><path d="M1392.6 2085.7Q1383.3 2102.9 1380.7 2108.2L1378.0 2113.5" stroke-width="4.4"/><path d="M1401.8 2071.2Q1404.5 2060.6 1412.4 2057.9Q1420.3 2055.3 1427.0 2057.3Q1433.6 2059.3 1436.2 2065.2L1438.9 2071.2" stroke-width="4.0"/><path d="M1446.8 2050.0Q1465.3 2063.2 1473.2 2069.8Q1481.2 2076.5 1487.8 2083.1L1494.4 2089.7" stroke-width="5.7"/><path d="M1438.9 2110.8Q1446.8 2124.1 1452.1 2129.4Q1457.4 2134.7 1466.6 2136.6Q1475.9 2138.6 1481.2 2140.6Q1486.5 2142.6 1489.1 2147.9Q1491.8 2153.2 1489.1 2158.5Q1486.5 2163.8 1491.8 2165.7Q1497.1 2167.7 1502.3 2168.4L1507.6 2169.0" stroke-width="4.8"/><path d="M1486.5 2166.4L1465.3 2174.3" stroke-width="4.4"/><path d="M1520.9 2151.9Q1523.5 2143.9 1531.4 2141.3Q1539.4 2138.6 1550.0 2138.6Q1560.6 2138.6 1569.8 2140.6Q1579.1 2142.6 1584.4 2147.9Q1589.7 2153.2 1589.7 2159.8Q1589.7 2166.4 1584.4 2169.7L1579.1 2173.0" stroke-width="6.2"/><path d="M1589.7 2169.0Q1608.2 2170.4 1614.8 2169.0L1621.4 2167.7" stroke-width="6.6"/><path d="M1661.1 2087.0Q1650.5 2097.6 1643.9 2100.3Q1637.3 2102.9 1630.7 2109.5L1624.0 2116.1" stroke-width="5.7"/><path d="M1637.3 2102.9Q1621.4 2092.3 1618.8 2084.4Q1616.1 2076.5 1618.8 2068.5Q1621.4 2060.6 1625.4 2057.9L1629.3 2055.3" stroke-width="3.5"/><path d="M1721.9 2118.8Q1708.7 2125.4 1699.4 2129.4L1690.2 2133.3" stroke-width="4.0"/><path d="M1552.6 2065.9Q1556.6 2076.5 1553.9 2080.4L1551.3 2084.4" stroke-width="4.0"/><path d="M1577.7 2109.5Q1589.7 2112.2 1593.6 2118.1L1597.6 2124.1" stroke-width="4.0"/><path d="M1594.9 2060.6Q1602.9 2063.2 1601.6 2059.3L1600.2 2055.3" stroke-width="3.1"/><path d="M1698.1 2055.3Q1692.8 2071.2 1690.2 2077.8L1687.5 2084.4" stroke-width="3.1"/><path d="M1642.6 2158.5Q1650.5 2162.4 1655.8 2161.8L1661.1 2161.1" stroke-width="5.3"/><path d="M1388.6 2142.6Q1401.8 2142.6 1403.8 2149.2L1405.8 2155.8" stroke-width="3.5"/><path d="M1359.5 2220.6Q1362.1 2237.8 1364.8 2244.4Q1367.4 2251.1 1370.1 2256.0L1372.7 2260.8" stroke-width="4.4"/><path d="M1478.5 2222.0Q1486.5 2232.5 1489.8 2236.5L1493.1 2240.5" stroke-width="4.0"/><path d="M1594.9 2243.1Q1608.2 2253.7 1616.1 2256.3L1624.0 2259.0" stroke-width="4.0"/></g><g id="vbl"><circle cx="1335.7" cy="1960.0" r="5.5"/><circle cx="1384.6" cy="1974.5" r="5.5"/><circle cx="1612.1" cy="1936.2" r="5.5"/><circle cx="1315.8" cy="2028.8" r="6"/><circle cx="1532.8" cy="2044.6" r="4"/><circle cx="1564.5" cy="1977.2" r="4"/><circle cx="1518.2" cy="1998.3" r="10"/><circle cx="1392.6" cy="2085.7" r="12.5"/><circle cx="1498.4" cy="2097.6" r="10"/><circle cx="1561.9" cy="2254.2" r="4.5"/><circle cx="1333.0" cy="2251.1" r="4.5"/><circle cx="1655.8" cy="2093.7" r="8"/><circle cx="1716.6" cy="2120.1" r="4.5"/></g></defs>
<g filter="url(#b4)" opacity=".7" style="mix-blend-mode:screen"><use href="#ves" stroke="#d030c8"/><use href="#vbl" fill="#d030c8"/></g>
<g filter="url(#b2)"><use href="#ves" stroke="#fb4af0"/><use href="#vbl" fill="#ff44f2"/></g>
</g>
<path d="M1306.2 1843.5V2260.8" stroke="#f3a3a3" stroke-width="1" opacity=".8"/>
<rect x="1304" y="2179" width="409.3" height="41.8" fill="#1a63ab"/>
<g opacity=".42" fill="#8a66ea" filter="url(#b5)"><ellipse cx="1320" cy="2196" rx="4" ry="11"/><ellipse cx="1355" cy="2194" rx="5" ry="9"/><ellipse cx="1418" cy="2198" rx="5" ry="12"/><ellipse cx="1446" cy="2194" rx="7" ry="8"/><path d="M1452 2190L1478 2214" stroke="#8a66ea" stroke-width="4" fill="none"/><ellipse cx="1500" cy="2194" rx="10" ry="6"/><ellipse cx="1330" cy="2205" rx="20" ry="8" fill="#3aa0d8"/><ellipse cx="1480" cy="2202" rx="30" ry="9" fill="#3aa0d8"/></g>
<rect x="1625.4" y="2187.6" width="83.8" height="23" fill="#fff"/>
</svg>
</body>
</html>
